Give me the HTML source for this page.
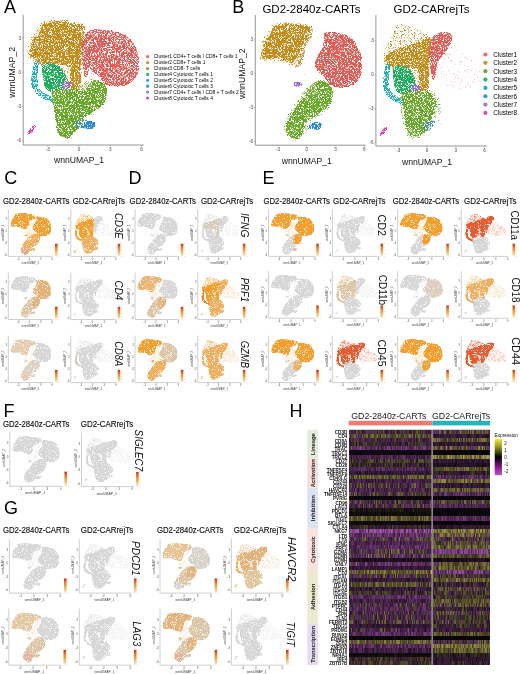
<!DOCTYPE html><html><head><meta charset="utf-8"><style>html,body{margin:0;padding:0;background:#fff;}svg{display:block;will-change:transform;}</style></head><body><svg width="520" height="674" viewBox="0 0 520 674" font-family='"Liberation Sans", sans-serif'><defs><filter id="spk" x="-10%" y="-10%" width="120%" height="120%" color-interpolation-filters="sRGB">
<feGaussianBlur in="SourceGraphic" stdDeviation="0.55" result="b"/>
<feTurbulence type="fractalNoise" baseFrequency="1.30" numOctaves="1" seed="3" result="t"/>
<feColorMatrix in="t" type="matrix" values="0 0 0 0 0 0 0 0 0 0 0 0 0 0 0 1.6 0 0 0 -0.3" result="na"/>
<feComposite in="b" in2="na" operator="arithmetic" k1="1" k2="0" k3="0" k4="0" result="sum"/>
<feComponentTransfer in="sum" result="mask"><feFuncA type="linear" slope="3.00" intercept="-1.00"/></feComponentTransfer>
<feComposite in="b" in2="mask" operator="in" result="c"/>
<feColorMatrix in="c" type="matrix" values="1 0 0 0 0 0 1 0 0 0 0 0 1 0 0 0 0 0 4.00 0"/>
</filter><filter id="spk2" x="-10%" y="-10%" width="120%" height="120%" color-interpolation-filters="sRGB">
<feGaussianBlur in="SourceGraphic" stdDeviation="0.50" result="b"/>
<feTurbulence type="fractalNoise" baseFrequency="1.50" numOctaves="1" seed="5" result="t"/>
<feColorMatrix in="t" type="matrix" values="0 0 0 0 0 0 0 0 0 0 0 0 0 0 0 1.6 0 0 0 -0.3" result="na"/>
<feComposite in="b" in2="na" operator="arithmetic" k1="1" k2="0" k3="0" k4="0" result="sum"/>
<feComponentTransfer in="sum" result="mask"><feFuncA type="linear" slope="2.20" intercept="-0.32"/></feComponentTransfer>
<feComposite in="b" in2="mask" operator="in" result="c"/>
<feColorMatrix in="c" type="matrix" values="1 0 0 0 0 0 1 0 0 0 0 0 1 0 0 0 0 0 2.20 0"/>
</filter><linearGradient id="lg" x1="0" y1="1" x2="0" y2="0"><stop offset="0" stop-color="#f4efe6"/><stop offset="0.4" stop-color="#f2b04a"/><stop offset="0.75" stop-color="#e8742c"/><stop offset="1" stop-color="#c8281c"/></linearGradient><linearGradient id="hg" x1="0" y1="1" x2="0" y2="0"><stop offset="0" stop-color="#b858b8"/><stop offset="0.2" stop-color="#901c98"/><stop offset="0.5" stop-color="#000"/><stop offset="0.8" stop-color="#a0a020"/><stop offset="1" stop-color="#ecec38"/></linearGradient><path id="Z_sparse" d="M-28,-370C-11,-401 16,-426 44,-432C72,-438 115,-421 138,-405C160,-389 183,-370 179,-334C176,-299 132,-242 117,-192C101,-142 72,-83 85,-32C99,17 174,76 200,109C226,141 266,150 242,162C217,174 113,180 54,180C-4,180 -73,183 -111,162C-150,141 -174,97 -174,55C-174,14 -131,-35 -111,-86C-92,-136 -73,-198 -59,-245C-46,-293 -46,-338 -28,-370Z"/><path id="Z_goldhalo" d="M-361,-440C-327,-455 -243,-460 -195,-463C-146,-465 -108,-459 -70,-454C-32,-449 11,-441 33,-432C56,-422 63,-415 65,-396C66,-377 56,-341 44,-316C32,-291 4,-272 -7,-245C-19,-219 -18,-186 -28,-157C-39,-127 -46,-84 -70,-68C-94,-52 -139,-53 -174,-59C-209,-65 -240,-94 -278,-103C-316,-112 -368,-109 -403,-112C-438,-115 -471,-108 -486,-121C-502,-134 -500,-162 -497,-192C-493,-222 -481,-267 -466,-299C-450,-330 -421,-355 -403,-378C-386,-402 -396,-426 -361,-440Z"/><path id="Z_junction" d="M-7,-414C0,-437 30,-436 54,-436C78,-436 118,-426 138,-414C157,-401 176,-380 169,-361C162,-341 122,-309 96,-299C70,-288 30,-279 13,-299C-4,-318 -14,-391 -7,-414Z"/><path id="Z_gold" d="M-343,-421C-330,-427 -304,-432 -278,-437C-252,-442 -215,-448 -187,-448C-159,-448 -141,-442 -109,-437C-76,-432 -16,-427 7,-421C31,-414 31,-413 33,-398C36,-384 31,-352 20,-332C9,-311 -16,-297 -31,-276C-46,-256 -59,-232 -70,-210C-81,-188 -83,-162 -96,-143C-109,-125 -128,-104 -148,-99C-167,-93 -191,-103 -213,-110C-235,-117 -254,-140 -278,-143C-302,-147 -328,-134 -356,-132C-384,-130 -429,-127 -447,-132C-466,-138 -467,-141 -467,-165C-467,-189 -461,-247 -447,-276C-433,-306 -398,-323 -382,-343C-367,-363 -363,-385 -356,-398C-350,-411 -356,-414 -343,-421Z"/><path id="Z_red" d="M190,-365C207,-375 250,-372 281,-370C311,-369 342,-362 372,-354C402,-346 438,-337 463,-321C488,-304 506,-278 523,-254C540,-230 555,-206 565,-177C574,-147 580,-108 580,-77C580,-45 576,-15 565,11C553,38 537,64 513,82C488,101 453,115 419,122C384,129 336,126 307,122C277,118 261,109 242,95C222,81 211,57 190,38C168,18 129,-2 111,-21C94,-40 85,-55 85,-77C85,-99 98,-128 111,-154C125,-180 153,-206 164,-232C174,-258 172,-287 177,-310C181,-332 172,-355 190,-365Z"/><path id="Z_olivehalo" d="M54,91C85,72 106,58 138,55C169,52 217,55 242,73C266,91 282,129 283,162C285,194 269,236 252,268C235,301 212,330 179,357C146,384 85,398 54,428C23,458 16,506 -7,535C-32,563 -61,591 -91,597C-120,603 -160,586 -184,570C-209,554 -231,529 -236,499C-242,469 -233,431 -216,393C-198,354 -160,305 -132,268C-105,231 -80,200 -49,171C-18,141 23,110 54,91Z"/><path id="Z_olive" d="M117,135C141,134 172,143 190,153C207,163 217,178 221,197C224,217 221,246 210,268C200,291 181,311 158,330C136,350 101,369 75,384C49,398 19,403 2,419C-14,435 -18,462 -28,481C-39,501 -47,518 -59,535C-72,551 -85,573 -101,579C-117,585 -136,579 -153,570C-171,561 -195,543 -205,526C-216,508 -219,484 -216,464C-212,443 -198,424 -184,401C-171,379 -148,353 -132,330C-117,308 -108,289 -91,268C-73,248 -51,224 -28,206C-6,188 19,174 44,162C68,150 92,137 117,135Z"/><path id="Z_oliveR" d="M117,82C141,64 186,73 210,82C235,91 254,112 263,135C271,159 269,197 263,224C256,251 242,277 221,295C200,313 164,330 138,330C111,330 77,319 65,295C52,271 56,224 65,188C73,153 92,100 117,82Z"/><path id="Z_oliveB" d="M-195,446C-183,427 -157,413 -132,410C-108,407 -66,415 -49,428C-32,441 -25,469 -28,490C-32,511 -51,540 -70,552C-89,564 -120,566 -143,561C-165,557 -197,545 -205,526C-214,506 -207,465 -195,446Z"/><path id="Z_blue" d="M40,449C54,439 80,429 98,427C117,425 141,431 151,438C160,444 162,456 157,466C153,476 141,494 125,499C108,504 78,496 59,494C41,492 17,495 14,488C10,481 25,459 40,449Z"/><path id="Z_purple" d="M-132,82C-127,77 -113,73 -101,73C-89,73 -66,76 -59,82C-52,88 -52,103 -59,109C-66,114 -89,114 -101,113C-113,112 -127,109 -132,104C-138,99 -138,87 -132,82Z"/><path id="R_redsparse" d="M135,-307C163,-340 222,-325 260,-307C298,-290 317,-239 364,-201C411,-162 510,-127 541,-77C572,-26 593,64 552,100C510,135 364,138 291,135C218,132 147,123 114,82C81,41 90,-47 93,-112C97,-177 107,-275 135,-307Z"/><path id="R_goldsparse" d="M-447,-201C-446,-236 -430,-248 -416,-272C-402,-296 -380,-315 -364,-343C-348,-371 -347,-424 -322,-440C-298,-457 -262,-448 -218,-440C-175,-433 -105,-414 -62,-396C-19,-378 22,-358 41,-334C60,-310 52,-285 52,-254C52,-223 45,-198 41,-148C38,-97 36,-3 31,47C26,97 31,135 10,153C-10,171 -53,186 -93,153C-133,120 -173,-6 -229,-41C-284,-77 -390,-32 -427,-59C-463,-86 -449,-165 -447,-201Z"/><path id="R_gold" d="M-437,-148C-440,-169 -407,-183 -385,-196C-362,-210 -333,-218 -302,-228C-270,-237 -232,-244 -197,-254C-163,-265 -126,-279 -93,-290C-60,-301 -24,-318 0,-321C24,-324 45,-324 52,-307C59,-290 46,-248 41,-219C36,-189 24,-168 20,-130C17,-91 22,-29 20,11C19,52 22,95 10,118C-1,140 -36,154 -52,144C-67,134 -78,85 -83,55C-88,26 -74,-13 -83,-32C-92,-52 -109,-53 -135,-59C-161,-65 -201,-66 -239,-68C-277,-69 -331,-55 -364,-68C-397,-81 -434,-126 -437,-148Z"/><path id="R_red" d="M67,-341C84,-355 109,-372 137,-377C165,-383 214,-379 235,-371C256,-363 263,-349 263,-330C263,-311 249,-282 235,-258C221,-234 197,-209 179,-187C160,-165 136,-152 122,-126C109,-101 102,-59 95,-31C88,-4 88,27 81,39C74,51 60,51 53,39C46,27 43,-4 39,-31C36,-59 34,-97 32,-126C29,-156 23,-182 24,-210C26,-238 32,-272 39,-294C46,-316 51,-327 67,-341Z"/><path id="R_teal" d="M-416,-103C-427,-94 -440,-52 -447,-23C-455,4 -463,40 -463,69C-463,98 -459,126 -447,149C-436,171 -415,191 -395,206C-375,222 -350,232 -328,242C-305,251 -275,257 -260,264C-245,271 -245,291 -239,286C-233,282 -212,253 -223,237C-235,222 -281,209 -307,193C-333,177 -365,166 -380,140C-394,114 -394,74 -395,38C-396,1 -381,-53 -385,-77C-388,-100 -406,-112 -416,-103Z"/><path id="R_green" d="M-354,-63C-344,-82 -320,-81 -296,-81C-273,-81 -233,-73 -210,-63C-187,-54 -174,-44 -158,-23C-143,-3 -124,37 -119,58C-115,79 -121,85 -132,102C-143,119 -161,146 -184,157C-207,169 -246,172 -270,169C-294,165 -314,159 -328,135C-341,112 -347,62 -352,29C-356,-3 -363,-45 -354,-63Z"/><path id="R_purple" d="M-156,100C-150,92 -137,87 -125,86C-112,86 -91,88 -83,95C-75,103 -71,122 -78,131C-85,140 -111,148 -125,149C-138,149 -156,143 -161,135C-166,127 -162,108 -156,100Z"/><path id="R_olive" d="M-253,163C-234,147 -180,151 -140,149C-100,146 -47,142 -12,149C22,156 49,170 67,190C86,211 101,240 98,272C96,304 64,349 51,381C37,413 37,438 18,463C0,488 -33,517 -60,531C-86,545 -119,547 -140,545C-162,543 -176,536 -189,518C-202,499 -212,465 -220,435C-228,406 -232,372 -237,340C-242,308 -250,274 -253,244C-255,215 -271,179 -253,163Z"/><path id="R_olivehalo" d="M-281,153C-256,131 -184,131 -135,126C-86,122 -29,118 10,126C50,135 78,152 104,180C130,208 168,258 166,295C164,332 114,369 93,401C72,434 65,464 41,490C17,517 -19,548 -52,561C-85,574 -128,576 -156,570C-184,564 -201,554 -218,526C-236,498 -250,446 -260,401C-270,357 -277,301 -281,259C-284,218 -305,175 -281,153Z"/><path id="R_blue" d="M-31,428C-19,414 22,416 52,410C81,405 129,390 145,397C162,404 164,441 151,455C137,469 91,475 62,481C33,488 -5,503 -20,495C-36,486 -43,442 -31,428Z"/><path id="R_magenta" d="M-491,530C-489,520 -473,497 -463,486C-453,475 -440,465 -432,464C-423,463 -410,469 -413,480C-416,490 -436,515 -447,526C-458,537 -471,545 -479,546C-486,547 -494,540 -491,530Z"/></defs><rect width="520" height="674" fill="#fff"/><text x="4.00" y="12.70" font-size="18.00" text-anchor="start" fill="#000">A</text><text x="232.20" y="12.70" font-size="18.00" text-anchor="start" fill="#000">B</text><text x="4.20" y="183.80" font-size="18.00" text-anchor="start" fill="#000">C</text><text x="128.50" y="184.00" font-size="18.00" text-anchor="start" fill="#000">D</text><text x="262.50" y="184.00" font-size="18.00" text-anchor="start" fill="#000">E</text><text x="3.60" y="416.90" font-size="18.00" text-anchor="start" fill="#000">F</text><text x="4.00" y="513.60" font-size="18.00" text-anchor="start" fill="#000">G</text><text x="289.40" y="417.30" font-size="18.00" text-anchor="start" fill="#000">H</text><path d="M23.2,14.8V145.0H143.8" fill="none" stroke="#8a8a8a" stroke-width="0.9"/><path d="M23.2,38.1h-1.3" stroke="#8a8a8a" stroke-width="0.6"/><text x="21.00" y="39.70" font-size="4.60" text-anchor="end" fill="#444">3</text><path d="M23.2,72.3h-1.3" stroke="#8a8a8a" stroke-width="0.6"/><text x="21.00" y="73.90" font-size="4.60" text-anchor="end" fill="#444">0</text><path d="M23.2,106.5h-1.3" stroke="#8a8a8a" stroke-width="0.6"/><text x="21.00" y="108.10" font-size="4.60" text-anchor="end" fill="#444">-3</text><path d="M23.2,140.7h-1.3" stroke="#8a8a8a" stroke-width="0.6"/><text x="21.00" y="142.30" font-size="4.60" text-anchor="end" fill="#444">-6</text><path d="M47.7,145.0v1.3" stroke="#8a8a8a" stroke-width="0.6"/><text x="47.74" y="150.50" font-size="4.60" text-anchor="middle" fill="#444">-3</text><path d="M79.0,145.0v1.3" stroke="#8a8a8a" stroke-width="0.6"/><text x="79.00" y="150.50" font-size="4.60" text-anchor="middle" fill="#444">0</text><path d="M110.3,145.0v1.3" stroke="#8a8a8a" stroke-width="0.6"/><text x="110.26" y="150.50" font-size="4.60" text-anchor="middle" fill="#444">3</text><path d="M141.5,145.0v1.3" stroke="#8a8a8a" stroke-width="0.6"/><text x="141.52" y="150.50" font-size="4.60" text-anchor="middle" fill="#444">6</text><text x="79.00" y="163.00" font-size="8.60" text-anchor="middle" fill="#111">wnnUMAP_1</text><text transform="translate(15.00,72.30) rotate(-90)" font-size="8.7" text-anchor="middle" fill="#111">wnnUMAP_2</text><g filter="url(#spk)"><g transform="matrix(0.1042,0,0,0.1140,79.00,72.30)"><use href="#Z_sparse" fill="#c89060" fill-opacity="0.42"/><use href="#Z_goldhalo" fill="#c48c1a" fill-opacity="0.62"/><use href="#Z_olivehalo" fill="#6aa82a" fill-opacity="0.45"/><use href="#Z_gold" fill="#c48c1a"/><use href="#Z_red" fill="#e65a54" fill-opacity="0.90"/><use href="#Z_olive" fill="#6aa82a"/><use href="#Z_oliveR" fill="#6aa82a"/><use href="#Z_oliveB" fill="#6aa82a"/><use href="#Z_blue" fill="#2a88de"/><use href="#Z_purple" fill="#9a6ad0"/></g></g><g filter="url(#spk)"><g transform="matrix(0.1042,0,0,0.1140,79.00,72.30)"><use href="#R_redsparse" fill="#e65a54" fill-opacity="0.47"/><use href="#R_goldsparse" fill="#c48c1a" fill-opacity="0.60"/><use href="#R_olivehalo" fill="#6aa82a" fill-opacity="0.45"/><use href="#R_gold" fill="#c48c1a" fill-opacity="0.97"/><use href="#R_teal" fill="#22aeb6" fill-opacity="0.85"/><use href="#R_green" fill="#1fae5e"/><use href="#R_red" fill="#e65a54" fill-opacity="0.90"/><use href="#R_olive" fill="#6aa82a" fill-opacity="0.95"/><use href="#R_blue" fill="#2a88de" fill-opacity="0.40"/><use href="#R_purple" fill="#9a6ad0"/><use href="#R_magenta" fill="#dd3fae"/></g></g><circle cx="147.6" cy="56.70" r="1.6" fill="#ec6e66"/><text x="153.80" y="58.40" font-size="4.90" text-anchor="start" fill="#000">Cluster1 CD4+ T cells / CD8+ T cells 1</text><circle cx="147.6" cy="62.60" r="1.6" fill="#c9952a"/><text x="153.80" y="64.30" font-size="4.90" text-anchor="start" fill="#000">Cluster2 CD8+ T cells 1</text><circle cx="147.6" cy="68.50" r="1.6" fill="#7aa535"/><text x="153.80" y="70.20" font-size="4.90" text-anchor="start" fill="#000">Cluster3 CD8- T cells</text><circle cx="147.6" cy="74.40" r="1.6" fill="#2db36a"/><text x="153.80" y="76.10" font-size="4.90" text-anchor="start" fill="#000">Cluster4 Cytotoxic T cells 1</text><circle cx="147.6" cy="80.30" r="1.6" fill="#2bb0b5"/><text x="153.80" y="82.00" font-size="4.90" text-anchor="start" fill="#000">Cluster5 Cytotoxic T cells 2</text><circle cx="147.6" cy="86.20" r="1.6" fill="#3a93de"/><text x="153.80" y="87.90" font-size="4.90" text-anchor="start" fill="#000">Cluster6 Cytotoxic T cells 3</text><circle cx="147.6" cy="92.10" r="1.6" fill="#a27ad8"/><text x="153.80" y="93.80" font-size="4.90" text-anchor="start" fill="#000">Cluster7 CD4+ T cells / CD8 + T cells 2</text><circle cx="147.6" cy="98.00" r="1.6" fill="#dd4fb5"/><text x="153.80" y="99.70" font-size="4.90" text-anchor="start" fill="#000">Cluster8 Cytotoxic T cells 4</text><path d="M255.3,15.0V145.2H365.6" fill="none" stroke="#8a8a8a" stroke-width="0.9"/><path d="M255.3,39.9h-1.3" stroke="#8a8a8a" stroke-width="0.6"/><text x="253.10" y="41.49" font-size="4.60" text-anchor="end" fill="#444">3</text><path d="M255.3,73.7h-1.3" stroke="#8a8a8a" stroke-width="0.6"/><text x="253.10" y="75.30" font-size="4.60" text-anchor="end" fill="#444">0</text><path d="M255.3,107.5h-1.3" stroke="#8a8a8a" stroke-width="0.6"/><text x="253.10" y="109.11" font-size="4.60" text-anchor="end" fill="#444">-3</text><path d="M255.3,141.3h-1.3" stroke="#8a8a8a" stroke-width="0.6"/><text x="253.10" y="142.92" font-size="4.60" text-anchor="end" fill="#444">-6</text><path d="M277.9,145.2v1.3" stroke="#8a8a8a" stroke-width="0.6"/><text x="277.95" y="150.70" font-size="4.60" text-anchor="middle" fill="#444">-3</text><path d="M306.8,145.2v1.3" stroke="#8a8a8a" stroke-width="0.6"/><text x="306.75" y="150.70" font-size="4.60" text-anchor="middle" fill="#444">0</text><path d="M335.6,145.2v1.3" stroke="#8a8a8a" stroke-width="0.6"/><text x="335.55" y="150.70" font-size="4.60" text-anchor="middle" fill="#444">3</text><path d="M364.4,145.2v1.3" stroke="#8a8a8a" stroke-width="0.6"/><text x="364.35" y="150.70" font-size="4.60" text-anchor="middle" fill="#444">6</text><text x="306.75" y="164.00" font-size="8.60" text-anchor="middle" fill="#111">wnnUMAP_1</text><text transform="translate(245.20,73.70) rotate(-90)" font-size="8.7" text-anchor="middle" fill="#111">wnnUMAP_2</text><path d="M375.9,15.0V146.0H486.5" fill="none" stroke="#8a8a8a" stroke-width="0.9"/><path d="M375.9,40.9h-1.3" stroke="#8a8a8a" stroke-width="0.6"/><text x="373.70" y="42.49" font-size="4.60" text-anchor="end" fill="#444">3</text><path d="M375.9,74.7h-1.3" stroke="#8a8a8a" stroke-width="0.6"/><text x="373.70" y="76.30" font-size="4.60" text-anchor="end" fill="#444">0</text><path d="M375.9,108.5h-1.3" stroke="#8a8a8a" stroke-width="0.6"/><text x="373.70" y="110.11" font-size="4.60" text-anchor="end" fill="#444">-3</text><path d="M375.9,142.3h-1.3" stroke="#8a8a8a" stroke-width="0.6"/><text x="373.70" y="143.92" font-size="4.60" text-anchor="end" fill="#444">-6</text><path d="M398.2,146.0v1.3" stroke="#8a8a8a" stroke-width="0.6"/><text x="398.20" y="151.50" font-size="4.60" text-anchor="middle" fill="#444">-3</text><path d="M427.0,146.0v1.3" stroke="#8a8a8a" stroke-width="0.6"/><text x="427.00" y="151.50" font-size="4.60" text-anchor="middle" fill="#444">0</text><path d="M455.8,146.0v1.3" stroke="#8a8a8a" stroke-width="0.6"/><text x="455.80" y="151.50" font-size="4.60" text-anchor="middle" fill="#444">3</text><path d="M484.6,146.0v1.3" stroke="#8a8a8a" stroke-width="0.6"/><text x="484.60" y="151.50" font-size="4.60" text-anchor="middle" fill="#444">6</text><text x="427.00" y="165.00" font-size="8.60" text-anchor="middle" fill="#111">wnnUMAP_1</text><text x="262.40" y="12.70" font-size="11.50" text-anchor="start" fill="#000">GD2-2840z-CARTs</text><text x="393.50" y="12.70" font-size="11.50" text-anchor="start" fill="#000">GD2-CARrejTs</text><g filter="url(#spk)"><g transform="matrix(0.0960,0,0,0.1127,306.75,73.70)"><use href="#Z_sparse" fill="#c89060" fill-opacity="0.42"/><use href="#Z_goldhalo" fill="#c48c1a" fill-opacity="0.62"/><use href="#Z_olivehalo" fill="#6aa82a" fill-opacity="0.60"/><use href="#Z_gold" fill="#c48c1a"/><use href="#Z_red" fill="#e65a54"/><use href="#Z_olive" fill="#6aa82a"/><use href="#Z_oliveR" fill="#6aa82a"/><use href="#Z_oliveB" fill="#6aa82a"/><use href="#Z_blue" fill="#2a88de"/><use href="#Z_purple" fill="#9a6ad0"/></g></g><g filter="url(#spk)"><g transform="matrix(0.0960,0,0,0.1127,427.00,74.70)"><use href="#R_redsparse" fill="#e65a54" fill-opacity="0.47"/><use href="#R_goldsparse" fill="#c48c1a" fill-opacity="0.60"/><use href="#R_olivehalo" fill="#6aa82a" fill-opacity="0.60"/><use href="#R_gold" fill="#c48c1a" fill-opacity="0.97"/><use href="#R_teal" fill="#22aeb6" fill-opacity="0.92"/><use href="#R_green" fill="#1fae5e"/><use href="#R_red" fill="#e65a54" fill-opacity="0.97"/><use href="#R_olive" fill="#6aa82a" fill-opacity="0.95"/><use href="#R_blue" fill="#2a88de" fill-opacity="0.50"/><use href="#R_purple" fill="#9a6ad0"/><use href="#R_magenta" fill="#dd3fae"/></g></g><circle cx="485.4" cy="54.50" r="2.1" fill="#ec6e66"/><text x="493.20" y="56.80" font-size="6.40" text-anchor="start" fill="#000">Cluster1</text><circle cx="485.4" cy="62.85" r="2.1" fill="#c9952a"/><text x="493.20" y="65.15" font-size="6.40" text-anchor="start" fill="#000">Cluster2</text><circle cx="485.4" cy="71.20" r="2.1" fill="#7aa535"/><text x="493.20" y="73.50" font-size="6.40" text-anchor="start" fill="#000">Cluster3</text><circle cx="485.4" cy="79.55" r="2.1" fill="#2db36a"/><text x="493.20" y="81.85" font-size="6.40" text-anchor="start" fill="#000">Cluster4</text><circle cx="485.4" cy="87.90" r="2.1" fill="#2bb0b5"/><text x="493.20" y="90.20" font-size="6.40" text-anchor="start" fill="#000">Cluster5</text><circle cx="485.4" cy="96.25" r="2.1" fill="#3a93de"/><text x="493.20" y="98.55" font-size="6.40" text-anchor="start" fill="#000">Cluster6</text><circle cx="485.4" cy="104.60" r="2.1" fill="#a27ad8"/><text x="493.20" y="106.90" font-size="6.40" text-anchor="start" fill="#000">Cluster7</text><circle cx="485.4" cy="112.95" r="2.1" fill="#dd4fb5"/><text x="493.20" y="115.25" font-size="6.40" text-anchor="start" fill="#000">Cluster8</text><text x="3.00" y="204.20" font-size="8.7" textLength="66.4" lengthAdjust="spacingAndGlyphs" fill="#111" stroke="#111" stroke-width="0.15">GD2-2840z-CARTs</text><text x="72.70" y="204.20" font-size="8.7" textLength="52.4" lengthAdjust="spacingAndGlyphs" fill="#111" stroke="#111" stroke-width="0.15">GD2-CARrejTs</text><text x="129.60" y="204.20" font-size="8.7" textLength="66.4" lengthAdjust="spacingAndGlyphs" fill="#111" stroke="#111" stroke-width="0.15">GD2-2840z-CARTs</text><text x="200.90" y="204.20" font-size="8.7" textLength="52.4" lengthAdjust="spacingAndGlyphs" fill="#111" stroke="#111" stroke-width="0.15">GD2-CARrejTs</text><text x="263.40" y="204.20" font-size="8.7" textLength="66.4" lengthAdjust="spacingAndGlyphs" fill="#111" stroke="#111" stroke-width="0.15">GD2-2840z-CARTs</text><text x="333.00" y="204.20" font-size="8.7" textLength="52.4" lengthAdjust="spacingAndGlyphs" fill="#111" stroke="#111" stroke-width="0.15">GD2-CARrejTs</text><text x="392.70" y="204.20" font-size="8.7" textLength="66.4" lengthAdjust="spacingAndGlyphs" fill="#111" stroke="#111" stroke-width="0.15">GD2-2840z-CARTs</text><text x="464.00" y="204.20" font-size="8.7" textLength="52.4" lengthAdjust="spacingAndGlyphs" fill="#111" stroke="#111" stroke-width="0.15">GD2-CARrejTs</text><path d="M8.3,209.4V256.4H52.5" fill="none" stroke="#c8c8c8" stroke-width="0.9"/><text x="7.00" y="220.30" font-size="2.60" text-anchor="end" fill="#555">3</text><text x="7.00" y="232.15" font-size="2.60" text-anchor="end" fill="#555">0</text><text x="7.00" y="244.00" font-size="2.60" text-anchor="end" fill="#555">-3</text><text x="7.00" y="255.85" font-size="2.60" text-anchor="end" fill="#555">-6</text><text x="18.18" y="259.85" font-size="2.60" text-anchor="middle" fill="#555">-3</text><text x="29.52" y="259.85" font-size="2.60" text-anchor="middle" fill="#555">0</text><text x="40.85" y="259.85" font-size="2.60" text-anchor="middle" fill="#555">3</text><text x="52.18" y="259.85" font-size="2.60" text-anchor="middle" fill="#555">6</text><text x="30.27" y="263.85" font-size="2.99" text-anchor="middle" fill="#444">wnnUMAP_1</text><text transform="translate(3.70,232.75) rotate(-90)" font-size="2.73" text-anchor="middle" fill="#444">wnnUMAP_2</text><g filter="url(#spk2)"><g transform="matrix(0.0378,0,0,0.0395,29.52,231.25)"><use href="#Z_sparse" fill="#f29f2e" fill-opacity="0.40"/><use href="#Z_goldhalo" fill="#f29f2e" fill-opacity="0.80"/><use href="#Z_junction" fill="#f29f2e" fill-opacity="0.75"/><use href="#Z_olivehalo" fill="#eeb060" fill-opacity="0.85"/><use href="#Z_gold" fill="#f29f2e"/><use href="#Z_red" fill="#f29f2e"/><use href="#Z_olive" fill="#eeb060"/><use href="#Z_oliveR" fill="#eeb060"/><use href="#Z_oliveB" fill="#e4a48c"/><use href="#Z_blue" fill="#eeb060"/><use href="#Z_purple" fill="#eeb060"/></g></g><rect x="55.00" y="243.76" width="2.6" height="12.69" fill="url(#lg)"/><rect x="58.30" y="243.56" width="1.2" height="0.35" fill="#aaa"/><rect x="58.30" y="246.73" width="1.2" height="0.35" fill="#aaa"/><rect x="58.30" y="249.91" width="1.2" height="0.35" fill="#aaa"/><rect x="58.30" y="253.08" width="1.2" height="0.35" fill="#aaa"/><rect x="58.30" y="256.25" width="1.2" height="0.35" fill="#aaa"/><path d="M70.8,209.4V256.4H116.2" fill="none" stroke="#c8c8c8" stroke-width="0.9"/><text x="69.50" y="220.30" font-size="2.60" text-anchor="end" fill="#555">3</text><text x="69.50" y="232.15" font-size="2.60" text-anchor="end" fill="#555">0</text><text x="69.50" y="244.00" font-size="2.60" text-anchor="end" fill="#555">-3</text><text x="69.50" y="255.85" font-size="2.60" text-anchor="end" fill="#555">-6</text><text x="80.95" y="259.85" font-size="2.60" text-anchor="middle" fill="#555">-3</text><text x="92.59" y="259.85" font-size="2.60" text-anchor="middle" fill="#555">0</text><text x="104.23" y="259.85" font-size="2.60" text-anchor="middle" fill="#555">3</text><text x="115.87" y="259.85" font-size="2.60" text-anchor="middle" fill="#555">6</text><text x="93.37" y="263.85" font-size="2.99" text-anchor="middle" fill="#444">wnnUMAP_1</text><text transform="translate(66.20,232.75) rotate(-90)" font-size="2.73" text-anchor="middle" fill="#444">wnnUMAP_2</text><g filter="url(#spk2)"><g transform="matrix(0.0388,0,0,0.0395,92.59,231.25)"><use href="#R_redsparse" fill="#d7d7d7" fill-opacity="0.42"/><use href="#R_goldsparse" fill="#f29f2e" fill-opacity="0.52"/><use href="#R_olivehalo" fill="#eeb060" fill-opacity="0.75"/><use href="#R_gold" fill="#f29f2e"/><use href="#R_teal" fill="#f29f2e" fill-opacity="0.95"/><use href="#R_green" fill="#f29f2e"/><use href="#R_red" fill="#d7d7d7"/><use href="#R_olive" fill="#eeb060"/><use href="#R_blue" fill="#eeb060" fill-opacity="0.75"/><use href="#R_purple" fill="#eeb060"/><use href="#R_magenta" fill="#eeb060"/></g></g><rect x="117.70" y="243.76" width="2.6" height="12.69" fill="url(#lg)"/><rect x="121.00" y="243.56" width="1.2" height="0.35" fill="#aaa"/><rect x="121.00" y="246.73" width="1.2" height="0.35" fill="#aaa"/><rect x="121.00" y="249.91" width="1.2" height="0.35" fill="#aaa"/><rect x="121.00" y="253.08" width="1.2" height="0.35" fill="#aaa"/><rect x="121.00" y="256.25" width="1.2" height="0.35" fill="#aaa"/><path d="M8.3,272.5V319.5H52.5" fill="none" stroke="#c8c8c8" stroke-width="0.9"/><text x="7.00" y="283.35" font-size="2.60" text-anchor="end" fill="#555">3</text><text x="7.00" y="295.20" font-size="2.60" text-anchor="end" fill="#555">0</text><text x="7.00" y="307.05" font-size="2.60" text-anchor="end" fill="#555">-3</text><text x="7.00" y="318.90" font-size="2.60" text-anchor="end" fill="#555">-6</text><text x="18.18" y="322.90" font-size="2.60" text-anchor="middle" fill="#555">-3</text><text x="29.52" y="322.90" font-size="2.60" text-anchor="middle" fill="#555">0</text><text x="40.85" y="322.90" font-size="2.60" text-anchor="middle" fill="#555">3</text><text x="52.18" y="322.90" font-size="2.60" text-anchor="middle" fill="#555">6</text><text x="30.27" y="326.90" font-size="2.99" text-anchor="middle" fill="#444">wnnUMAP_1</text><text transform="translate(3.70,295.80) rotate(-90)" font-size="2.73" text-anchor="middle" fill="#444">wnnUMAP_2</text><g filter="url(#spk2)"><g transform="matrix(0.0378,0,0,0.0395,29.52,294.30)"><use href="#Z_sparse" fill="#d7d7d7" fill-opacity="0.40"/><use href="#Z_goldhalo" fill="#d7d7d7" fill-opacity="0.80"/><use href="#Z_junction" fill="#d7d7d7" fill-opacity="0.75"/><use href="#Z_olivehalo" fill="#dcc6a8" fill-opacity="0.85"/><use href="#Z_gold" fill="#d7d7d7"/><use href="#Z_red" fill="#e2b47c"/><use href="#Z_olive" fill="#dcc6a8"/><use href="#Z_oliveR" fill="#e2b47c"/><use href="#Z_oliveB" fill="#dcc6a8"/><use href="#Z_blue" fill="#dcc6a8"/><use href="#Z_purple" fill="#dcc6a8"/></g></g><rect x="55.00" y="306.81" width="2.6" height="12.69" fill="url(#lg)"/><rect x="58.30" y="306.61" width="1.2" height="0.35" fill="#aaa"/><rect x="58.30" y="309.78" width="1.2" height="0.35" fill="#aaa"/><rect x="58.30" y="312.96" width="1.2" height="0.35" fill="#aaa"/><rect x="58.30" y="316.13" width="1.2" height="0.35" fill="#aaa"/><rect x="58.30" y="319.30" width="1.2" height="0.35" fill="#aaa"/><path d="M70.8,272.5V319.5H116.2" fill="none" stroke="#c8c8c8" stroke-width="0.9"/><text x="69.50" y="283.35" font-size="2.60" text-anchor="end" fill="#555">3</text><text x="69.50" y="295.20" font-size="2.60" text-anchor="end" fill="#555">0</text><text x="69.50" y="307.05" font-size="2.60" text-anchor="end" fill="#555">-3</text><text x="69.50" y="318.90" font-size="2.60" text-anchor="end" fill="#555">-6</text><text x="80.95" y="322.90" font-size="2.60" text-anchor="middle" fill="#555">-3</text><text x="92.59" y="322.90" font-size="2.60" text-anchor="middle" fill="#555">0</text><text x="104.23" y="322.90" font-size="2.60" text-anchor="middle" fill="#555">3</text><text x="115.87" y="322.90" font-size="2.60" text-anchor="middle" fill="#555">6</text><text x="93.37" y="326.90" font-size="2.99" text-anchor="middle" fill="#444">wnnUMAP_1</text><text transform="translate(66.20,295.80) rotate(-90)" font-size="2.73" text-anchor="middle" fill="#444">wnnUMAP_2</text><g filter="url(#spk2)"><g transform="matrix(0.0388,0,0,0.0395,92.59,294.30)"><use href="#R_redsparse" fill="#d7d7d7" fill-opacity="0.42"/><use href="#R_goldsparse" fill="#d7d7d7" fill-opacity="0.52"/><use href="#R_olivehalo" fill="#d7d7d7" fill-opacity="0.75"/><use href="#R_gold" fill="#d7d7d7"/><use href="#R_teal" fill="#d7d7d7" fill-opacity="0.95"/><use href="#R_green" fill="#d7d7d7"/><use href="#R_red" fill="#d7d7d7"/><use href="#R_olive" fill="#d7d7d7"/><use href="#R_blue" fill="#d7d7d7" fill-opacity="0.75"/><use href="#R_purple" fill="#d7d7d7"/><use href="#R_magenta" fill="#d7d7d7"/></g></g><rect x="117.70" y="306.81" width="2.6" height="12.69" fill="url(#lg)"/><rect x="121.00" y="306.61" width="1.2" height="0.35" fill="#aaa"/><rect x="121.00" y="309.78" width="1.2" height="0.35" fill="#aaa"/><rect x="121.00" y="312.96" width="1.2" height="0.35" fill="#aaa"/><rect x="121.00" y="316.13" width="1.2" height="0.35" fill="#aaa"/><rect x="121.00" y="319.30" width="1.2" height="0.35" fill="#aaa"/><path d="M8.3,335.6V382.6H52.5" fill="none" stroke="#c8c8c8" stroke-width="0.9"/><text x="7.00" y="346.45" font-size="2.60" text-anchor="end" fill="#555">3</text><text x="7.00" y="358.30" font-size="2.60" text-anchor="end" fill="#555">0</text><text x="7.00" y="370.15" font-size="2.60" text-anchor="end" fill="#555">-3</text><text x="7.00" y="382.00" font-size="2.60" text-anchor="end" fill="#555">-6</text><text x="18.18" y="386.00" font-size="2.60" text-anchor="middle" fill="#555">-3</text><text x="29.52" y="386.00" font-size="2.60" text-anchor="middle" fill="#555">0</text><text x="40.85" y="386.00" font-size="2.60" text-anchor="middle" fill="#555">3</text><text x="52.18" y="386.00" font-size="2.60" text-anchor="middle" fill="#555">6</text><text x="30.27" y="390.00" font-size="2.99" text-anchor="middle" fill="#444">wnnUMAP_1</text><text transform="translate(3.70,358.90) rotate(-90)" font-size="2.73" text-anchor="middle" fill="#444">wnnUMAP_2</text><g filter="url(#spk2)"><g transform="matrix(0.0378,0,0,0.0395,29.52,357.40)"><use href="#Z_sparse" fill="#e4cdb0" fill-opacity="0.40"/><use href="#Z_goldhalo" fill="#e4cdb0" fill-opacity="0.80"/><use href="#Z_junction" fill="#e4cdb0" fill-opacity="0.75"/><use href="#Z_olivehalo" fill="#dcd2c4" fill-opacity="0.85"/><use href="#Z_gold" fill="#e4cdb0"/><use href="#Z_red" fill="#d7d7d7"/><use href="#Z_olive" fill="#dcd2c4"/><use href="#Z_oliveR" fill="#dcd2c4"/><use href="#Z_oliveB" fill="#e0c8a8"/><use href="#Z_blue" fill="#dcd2c4"/><use href="#Z_purple" fill="#dcd2c4"/></g></g><rect x="55.00" y="369.91" width="2.6" height="12.69" fill="url(#lg)"/><rect x="58.30" y="369.71" width="1.2" height="0.35" fill="#aaa"/><rect x="58.30" y="372.88" width="1.2" height="0.35" fill="#aaa"/><rect x="58.30" y="376.06" width="1.2" height="0.35" fill="#aaa"/><rect x="58.30" y="379.23" width="1.2" height="0.35" fill="#aaa"/><rect x="58.30" y="382.40" width="1.2" height="0.35" fill="#aaa"/><path d="M70.8,335.6V382.6H116.2" fill="none" stroke="#c8c8c8" stroke-width="0.9"/><text x="69.50" y="346.45" font-size="2.60" text-anchor="end" fill="#555">3</text><text x="69.50" y="358.30" font-size="2.60" text-anchor="end" fill="#555">0</text><text x="69.50" y="370.15" font-size="2.60" text-anchor="end" fill="#555">-3</text><text x="69.50" y="382.00" font-size="2.60" text-anchor="end" fill="#555">-6</text><text x="80.95" y="386.00" font-size="2.60" text-anchor="middle" fill="#555">-3</text><text x="92.59" y="386.00" font-size="2.60" text-anchor="middle" fill="#555">0</text><text x="104.23" y="386.00" font-size="2.60" text-anchor="middle" fill="#555">3</text><text x="115.87" y="386.00" font-size="2.60" text-anchor="middle" fill="#555">6</text><text x="93.37" y="390.00" font-size="2.99" text-anchor="middle" fill="#444">wnnUMAP_1</text><text transform="translate(66.20,358.90) rotate(-90)" font-size="2.73" text-anchor="middle" fill="#444">wnnUMAP_2</text><g filter="url(#spk2)"><g transform="matrix(0.0388,0,0,0.0395,92.59,357.40)"><use href="#R_redsparse" fill="#d7d7d7" fill-opacity="0.42"/><use href="#R_goldsparse" fill="#d7d7d7" fill-opacity="0.52"/><use href="#R_olivehalo" fill="#d7d7d7" fill-opacity="0.75"/><use href="#R_gold" fill="#d7d7d7"/><use href="#R_teal" fill="#dcc6a8" fill-opacity="0.95"/><use href="#R_green" fill="#d7d7d7"/><use href="#R_red" fill="#d7d7d7"/><use href="#R_olive" fill="#d7d7d7"/><use href="#R_blue" fill="#d7d7d7" fill-opacity="0.75"/><use href="#R_purple" fill="#d7d7d7"/><use href="#R_magenta" fill="#d7d7d7"/></g></g><rect x="117.70" y="369.91" width="2.6" height="12.69" fill="url(#lg)"/><rect x="121.00" y="369.71" width="1.2" height="0.35" fill="#aaa"/><rect x="121.00" y="372.88" width="1.2" height="0.35" fill="#aaa"/><rect x="121.00" y="376.06" width="1.2" height="0.35" fill="#aaa"/><rect x="121.00" y="379.23" width="1.2" height="0.35" fill="#aaa"/><rect x="121.00" y="382.40" width="1.2" height="0.35" fill="#aaa"/><path d="M135.0,209.4V256.4H178.8" fill="none" stroke="#c8c8c8" stroke-width="0.9"/><text x="133.70" y="220.30" font-size="2.60" text-anchor="end" fill="#555">3</text><text x="133.70" y="232.15" font-size="2.60" text-anchor="end" fill="#555">0</text><text x="133.70" y="244.00" font-size="2.60" text-anchor="end" fill="#555">-3</text><text x="133.70" y="255.85" font-size="2.60" text-anchor="end" fill="#555">-6</text><text x="144.78" y="259.85" font-size="2.60" text-anchor="middle" fill="#555">-3</text><text x="156.00" y="259.85" font-size="2.60" text-anchor="middle" fill="#555">0</text><text x="167.22" y="259.85" font-size="2.60" text-anchor="middle" fill="#555">3</text><text x="178.44" y="259.85" font-size="2.60" text-anchor="middle" fill="#555">6</text><text x="156.75" y="263.85" font-size="2.99" text-anchor="middle" fill="#444">wnnUMAP_1</text><text transform="translate(130.40,232.75) rotate(-90)" font-size="2.73" text-anchor="middle" fill="#444">wnnUMAP_2</text><g filter="url(#spk2)"><g transform="matrix(0.0374,0,0,0.0395,156.00,231.25)"><use href="#Z_sparse" fill="#d7d7d7" fill-opacity="0.40"/><use href="#Z_goldhalo" fill="#d7d7d7" fill-opacity="0.80"/><use href="#Z_junction" fill="#d7d7d7" fill-opacity="0.75"/><use href="#Z_olivehalo" fill="#d7d7d7" fill-opacity="0.85"/><use href="#Z_gold" fill="#d7d7d7"/><use href="#Z_red" fill="#d7d7d7"/><use href="#Z_olive" fill="#d7d7d7"/><use href="#Z_oliveR" fill="#d7d7d7"/><use href="#Z_oliveB" fill="#d7d7d7"/><use href="#Z_blue" fill="#d7d7d7"/><use href="#Z_purple" fill="#d7d7d7"/></g></g><rect x="180.75" y="243.76" width="2.6" height="12.69" fill="url(#lg)"/><rect x="184.05" y="243.56" width="1.2" height="0.35" fill="#aaa"/><rect x="184.05" y="246.73" width="1.2" height="0.35" fill="#aaa"/><rect x="184.05" y="249.91" width="1.2" height="0.35" fill="#aaa"/><rect x="184.05" y="253.08" width="1.2" height="0.35" fill="#aaa"/><rect x="184.05" y="256.25" width="1.2" height="0.35" fill="#aaa"/><path d="M197.8,209.4V256.4H241.1" fill="none" stroke="#c8c8c8" stroke-width="0.9"/><text x="196.50" y="220.30" font-size="2.60" text-anchor="end" fill="#555">3</text><text x="196.50" y="232.15" font-size="2.60" text-anchor="end" fill="#555">0</text><text x="196.50" y="244.00" font-size="2.60" text-anchor="end" fill="#555">-3</text><text x="196.50" y="255.85" font-size="2.60" text-anchor="end" fill="#555">-6</text><text x="207.47" y="259.85" font-size="2.60" text-anchor="middle" fill="#555">-3</text><text x="218.56" y="259.85" font-size="2.60" text-anchor="middle" fill="#555">0</text><text x="229.65" y="259.85" font-size="2.60" text-anchor="middle" fill="#555">3</text><text x="240.74" y="259.85" font-size="2.60" text-anchor="middle" fill="#555">6</text><text x="219.30" y="263.85" font-size="2.99" text-anchor="middle" fill="#444">wnnUMAP_1</text><text transform="translate(193.20,232.75) rotate(-90)" font-size="2.73" text-anchor="middle" fill="#444">wnnUMAP_2</text><g filter="url(#spk2)"><g transform="matrix(0.0370,0,0,0.0395,218.56,231.25)"><use href="#R_redsparse" fill="#d7d7d7" fill-opacity="0.42"/><use href="#R_goldsparse" fill="#d7d7d7" fill-opacity="0.52"/><use href="#R_olivehalo" fill="#d7d7d7" fill-opacity="0.75"/><use href="#R_gold" fill="#d8cdbd"/><use href="#R_teal" fill="#d7d7d7" fill-opacity="0.95"/><use href="#R_green" fill="#d7d7d7"/><use href="#R_red" fill="#d7d7d7"/><use href="#R_olive" fill="#d7d7d7"/><use href="#R_blue" fill="#d7d7d7" fill-opacity="0.75"/><use href="#R_purple" fill="#d7d7d7"/><use href="#R_magenta" fill="#d7d7d7"/></g></g><rect x="242.80" y="243.76" width="2.6" height="12.69" fill="url(#lg)"/><rect x="246.10" y="243.56" width="1.2" height="0.35" fill="#aaa"/><rect x="246.10" y="246.73" width="1.2" height="0.35" fill="#aaa"/><rect x="246.10" y="249.91" width="1.2" height="0.35" fill="#aaa"/><rect x="246.10" y="253.08" width="1.2" height="0.35" fill="#aaa"/><rect x="246.10" y="256.25" width="1.2" height="0.35" fill="#aaa"/><path d="M135.0,272.5V319.5H178.8" fill="none" stroke="#c8c8c8" stroke-width="0.9"/><text x="133.70" y="283.35" font-size="2.60" text-anchor="end" fill="#555">3</text><text x="133.70" y="295.20" font-size="2.60" text-anchor="end" fill="#555">0</text><text x="133.70" y="307.05" font-size="2.60" text-anchor="end" fill="#555">-3</text><text x="133.70" y="318.90" font-size="2.60" text-anchor="end" fill="#555">-6</text><text x="144.78" y="322.90" font-size="2.60" text-anchor="middle" fill="#555">-3</text><text x="156.00" y="322.90" font-size="2.60" text-anchor="middle" fill="#555">0</text><text x="167.22" y="322.90" font-size="2.60" text-anchor="middle" fill="#555">3</text><text x="178.44" y="322.90" font-size="2.60" text-anchor="middle" fill="#555">6</text><text x="156.75" y="326.90" font-size="2.99" text-anchor="middle" fill="#444">wnnUMAP_1</text><text transform="translate(130.40,295.80) rotate(-90)" font-size="2.73" text-anchor="middle" fill="#444">wnnUMAP_2</text><g filter="url(#spk2)"><g transform="matrix(0.0374,0,0,0.0395,156.00,294.30)"><use href="#Z_sparse" fill="#e9b676" fill-opacity="0.40"/><use href="#Z_goldhalo" fill="#e9b676" fill-opacity="0.80"/><use href="#Z_junction" fill="#e9b676" fill-opacity="0.75"/><use href="#Z_olivehalo" fill="#dcc6a8" fill-opacity="0.85"/><use href="#Z_gold" fill="#e9b676"/><use href="#Z_red" fill="#d7d7d7"/><use href="#Z_olive" fill="#dcc6a8"/><use href="#Z_oliveR" fill="#e2b47c"/><use href="#Z_oliveB" fill="#dcc6a8"/><use href="#Z_blue" fill="#dcc6a8"/><use href="#Z_purple" fill="#dcc6a8"/></g></g><rect x="180.75" y="306.81" width="2.6" height="12.69" fill="url(#lg)"/><rect x="184.05" y="306.61" width="1.2" height="0.35" fill="#aaa"/><rect x="184.05" y="309.78" width="1.2" height="0.35" fill="#aaa"/><rect x="184.05" y="312.96" width="1.2" height="0.35" fill="#aaa"/><rect x="184.05" y="316.13" width="1.2" height="0.35" fill="#aaa"/><rect x="184.05" y="319.30" width="1.2" height="0.35" fill="#aaa"/><path d="M197.8,272.5V319.5H241.1" fill="none" stroke="#c8c8c8" stroke-width="0.9"/><text x="196.50" y="283.35" font-size="2.60" text-anchor="end" fill="#555">3</text><text x="196.50" y="295.20" font-size="2.60" text-anchor="end" fill="#555">0</text><text x="196.50" y="307.05" font-size="2.60" text-anchor="end" fill="#555">-3</text><text x="196.50" y="318.90" font-size="2.60" text-anchor="end" fill="#555">-6</text><text x="207.47" y="322.90" font-size="2.60" text-anchor="middle" fill="#555">-3</text><text x="218.56" y="322.90" font-size="2.60" text-anchor="middle" fill="#555">0</text><text x="229.65" y="322.90" font-size="2.60" text-anchor="middle" fill="#555">3</text><text x="240.74" y="322.90" font-size="2.60" text-anchor="middle" fill="#555">6</text><text x="219.30" y="326.90" font-size="2.99" text-anchor="middle" fill="#444">wnnUMAP_1</text><text transform="translate(193.20,295.80) rotate(-90)" font-size="2.73" text-anchor="middle" fill="#444">wnnUMAP_2</text><g filter="url(#spk2)"><g transform="matrix(0.0370,0,0,0.0395,218.56,294.30)"><use href="#R_redsparse" fill="#eeb060" fill-opacity="0.42"/><use href="#R_goldsparse" fill="#f29f2e" fill-opacity="0.52"/><use href="#R_olivehalo" fill="#eeb060" fill-opacity="0.75"/><use href="#R_gold" fill="#f29f2e"/><use href="#R_teal" fill="#ec8428" fill-opacity="0.95"/><use href="#R_green" fill="#f29f2e"/><use href="#R_red" fill="#eeb060"/><use href="#R_olive" fill="#eeb060"/><use href="#R_blue" fill="#eeb060" fill-opacity="0.75"/><use href="#R_purple" fill="#eeb060"/><use href="#R_magenta" fill="#eeb060"/></g></g><rect x="242.80" y="306.81" width="2.6" height="12.69" fill="url(#lg)"/><rect x="246.10" y="306.61" width="1.2" height="0.35" fill="#aaa"/><rect x="246.10" y="309.78" width="1.2" height="0.35" fill="#aaa"/><rect x="246.10" y="312.96" width="1.2" height="0.35" fill="#aaa"/><rect x="246.10" y="316.13" width="1.2" height="0.35" fill="#aaa"/><rect x="246.10" y="319.30" width="1.2" height="0.35" fill="#aaa"/><path d="M135.0,335.6V382.6H178.8" fill="none" stroke="#c8c8c8" stroke-width="0.9"/><text x="133.70" y="346.45" font-size="2.60" text-anchor="end" fill="#555">3</text><text x="133.70" y="358.30" font-size="2.60" text-anchor="end" fill="#555">0</text><text x="133.70" y="370.15" font-size="2.60" text-anchor="end" fill="#555">-3</text><text x="133.70" y="382.00" font-size="2.60" text-anchor="end" fill="#555">-6</text><text x="144.78" y="386.00" font-size="2.60" text-anchor="middle" fill="#555">-3</text><text x="156.00" y="386.00" font-size="2.60" text-anchor="middle" fill="#555">0</text><text x="167.22" y="386.00" font-size="2.60" text-anchor="middle" fill="#555">3</text><text x="178.44" y="386.00" font-size="2.60" text-anchor="middle" fill="#555">6</text><text x="156.75" y="390.00" font-size="2.99" text-anchor="middle" fill="#444">wnnUMAP_1</text><text transform="translate(130.40,358.90) rotate(-90)" font-size="2.73" text-anchor="middle" fill="#444">wnnUMAP_2</text><g filter="url(#spk2)"><g transform="matrix(0.0374,0,0,0.0395,156.00,357.40)"><use href="#Z_sparse" fill="#f29f2e" fill-opacity="0.40"/><use href="#Z_goldhalo" fill="#f29f2e" fill-opacity="0.80"/><use href="#Z_junction" fill="#f29f2e" fill-opacity="0.75"/><use href="#Z_olivehalo" fill="#eeb060" fill-opacity="0.85"/><use href="#Z_gold" fill="#f29f2e"/><use href="#Z_red" fill="#dcc6a8"/><use href="#Z_olive" fill="#eeb060"/><use href="#Z_oliveR" fill="#eeb060"/><use href="#Z_oliveB" fill="#eeb060"/><use href="#Z_blue" fill="#eeb060"/><use href="#Z_purple" fill="#eeb060"/></g></g><rect x="180.75" y="369.91" width="2.6" height="12.69" fill="url(#lg)"/><rect x="184.05" y="369.71" width="1.2" height="0.35" fill="#aaa"/><rect x="184.05" y="372.88" width="1.2" height="0.35" fill="#aaa"/><rect x="184.05" y="376.06" width="1.2" height="0.35" fill="#aaa"/><rect x="184.05" y="379.23" width="1.2" height="0.35" fill="#aaa"/><rect x="184.05" y="382.40" width="1.2" height="0.35" fill="#aaa"/><path d="M197.8,335.6V382.6H241.1" fill="none" stroke="#c8c8c8" stroke-width="0.9"/><text x="196.50" y="346.45" font-size="2.60" text-anchor="end" fill="#555">3</text><text x="196.50" y="358.30" font-size="2.60" text-anchor="end" fill="#555">0</text><text x="196.50" y="370.15" font-size="2.60" text-anchor="end" fill="#555">-3</text><text x="196.50" y="382.00" font-size="2.60" text-anchor="end" fill="#555">-6</text><text x="207.47" y="386.00" font-size="2.60" text-anchor="middle" fill="#555">-3</text><text x="218.56" y="386.00" font-size="2.60" text-anchor="middle" fill="#555">0</text><text x="229.65" y="386.00" font-size="2.60" text-anchor="middle" fill="#555">3</text><text x="240.74" y="386.00" font-size="2.60" text-anchor="middle" fill="#555">6</text><text x="219.30" y="390.00" font-size="2.99" text-anchor="middle" fill="#444">wnnUMAP_1</text><text transform="translate(193.20,358.90) rotate(-90)" font-size="2.73" text-anchor="middle" fill="#444">wnnUMAP_2</text><g filter="url(#spk2)"><g transform="matrix(0.0370,0,0,0.0395,218.56,357.40)"><use href="#R_redsparse" fill="#eeb060" fill-opacity="0.42"/><use href="#R_goldsparse" fill="#eeb060" fill-opacity="0.52"/><use href="#R_olivehalo" fill="#eeb060" fill-opacity="0.75"/><use href="#R_gold" fill="#eeb060"/><use href="#R_teal" fill="#eeb060" fill-opacity="0.95"/><use href="#R_green" fill="#eeb060"/><use href="#R_red" fill="#eeb060"/><use href="#R_olive" fill="#eeb060"/><use href="#R_blue" fill="#eeb060" fill-opacity="0.75"/><use href="#R_purple" fill="#eeb060"/><use href="#R_magenta" fill="#eeb060"/></g></g><rect x="242.80" y="369.91" width="2.6" height="12.69" fill="url(#lg)"/><rect x="246.10" y="369.71" width="1.2" height="0.35" fill="#aaa"/><rect x="246.10" y="372.88" width="1.2" height="0.35" fill="#aaa"/><rect x="246.10" y="376.06" width="1.2" height="0.35" fill="#aaa"/><rect x="246.10" y="379.23" width="1.2" height="0.35" fill="#aaa"/><rect x="246.10" y="382.40" width="1.2" height="0.35" fill="#aaa"/><path d="M268.6,209.4V256.4H315.4" fill="none" stroke="#c8c8c8" stroke-width="0.9"/><text x="267.30" y="220.30" font-size="2.60" text-anchor="end" fill="#555">3</text><text x="267.30" y="232.15" font-size="2.60" text-anchor="end" fill="#555">0</text><text x="267.30" y="244.00" font-size="2.60" text-anchor="end" fill="#555">-3</text><text x="267.30" y="255.85" font-size="2.60" text-anchor="end" fill="#555">-6</text><text x="279.05" y="259.85" font-size="2.60" text-anchor="middle" fill="#555">-3</text><text x="291.04" y="259.85" font-size="2.60" text-anchor="middle" fill="#555">0</text><text x="303.03" y="259.85" font-size="2.60" text-anchor="middle" fill="#555">3</text><text x="315.01" y="259.85" font-size="2.60" text-anchor="middle" fill="#555">6</text><text x="291.84" y="263.85" font-size="2.99" text-anchor="middle" fill="#444">wnnUMAP_1</text><text transform="translate(264.00,232.75) rotate(-90)" font-size="2.73" text-anchor="middle" fill="#444">wnnUMAP_2</text><g filter="url(#spk2)"><g transform="matrix(0.0400,0,0,0.0395,291.04,231.25)"><use href="#Z_sparse" fill="#f29f2e" fill-opacity="0.40"/><use href="#Z_goldhalo" fill="#f29f2e" fill-opacity="0.80"/><use href="#Z_junction" fill="#f29f2e" fill-opacity="0.75"/><use href="#Z_olivehalo" fill="#d7d7d7" fill-opacity="0.85"/><use href="#Z_gold" fill="#f29f2e"/><use href="#Z_red" fill="#f29f2e"/><use href="#Z_olive" fill="#d7d7d7"/><use href="#Z_oliveR" fill="#f29f2e"/><use href="#Z_oliveB" fill="#d7d7d7"/><use href="#Z_blue" fill="#dcc6a8"/><use href="#Z_purple" fill="#d7d7d7"/></g></g><rect x="316.20" y="243.76" width="2.6" height="12.69" fill="url(#lg)"/><rect x="319.50" y="243.56" width="1.2" height="0.35" fill="#aaa"/><rect x="319.50" y="246.73" width="1.2" height="0.35" fill="#aaa"/><rect x="319.50" y="249.91" width="1.2" height="0.35" fill="#aaa"/><rect x="319.50" y="253.08" width="1.2" height="0.35" fill="#aaa"/><rect x="319.50" y="256.25" width="1.2" height="0.35" fill="#aaa"/><path d="M332.4,209.4V256.4H378.7" fill="none" stroke="#c8c8c8" stroke-width="0.9"/><text x="331.10" y="220.30" font-size="2.60" text-anchor="end" fill="#555">3</text><text x="331.10" y="232.15" font-size="2.60" text-anchor="end" fill="#555">0</text><text x="331.10" y="244.00" font-size="2.60" text-anchor="end" fill="#555">-3</text><text x="331.10" y="255.85" font-size="2.60" text-anchor="end" fill="#555">-6</text><text x="342.75" y="259.85" font-size="2.60" text-anchor="middle" fill="#555">-3</text><text x="354.62" y="259.85" font-size="2.60" text-anchor="middle" fill="#555">0</text><text x="366.50" y="259.85" font-size="2.60" text-anchor="middle" fill="#555">3</text><text x="378.37" y="259.85" font-size="2.60" text-anchor="middle" fill="#555">6</text><text x="355.42" y="263.85" font-size="2.99" text-anchor="middle" fill="#444">wnnUMAP_1</text><text transform="translate(327.80,232.75) rotate(-90)" font-size="2.73" text-anchor="middle" fill="#444">wnnUMAP_2</text><g filter="url(#spk2)"><g transform="matrix(0.0396,0,0,0.0395,354.62,231.25)"><use href="#R_redsparse" fill="#d7d7d7" fill-opacity="0.42"/><use href="#R_goldsparse" fill="#d7d7d7" fill-opacity="0.52"/><use href="#R_olivehalo" fill="#d7d7d7" fill-opacity="0.75"/><use href="#R_gold" fill="#d7d7d7"/><use href="#R_teal" fill="#d7d7d7" fill-opacity="0.95"/><use href="#R_green" fill="#d7d7d7"/><use href="#R_red" fill="#d7d7d7"/><use href="#R_olive" fill="#d7d7d7"/><use href="#R_blue" fill="#d7d7d7" fill-opacity="0.75"/><use href="#R_purple" fill="#d7d7d7"/><use href="#R_magenta" fill="#d7d7d7"/></g></g><rect x="380.50" y="243.76" width="2.6" height="12.69" fill="url(#lg)"/><rect x="383.80" y="243.56" width="1.2" height="0.35" fill="#aaa"/><rect x="383.80" y="246.73" width="1.2" height="0.35" fill="#aaa"/><rect x="383.80" y="249.91" width="1.2" height="0.35" fill="#aaa"/><rect x="383.80" y="253.08" width="1.2" height="0.35" fill="#aaa"/><rect x="383.80" y="256.25" width="1.2" height="0.35" fill="#aaa"/><path d="M268.6,271.2V318.2H315.4" fill="none" stroke="#c8c8c8" stroke-width="0.9"/><text x="267.30" y="282.05" font-size="2.60" text-anchor="end" fill="#555">3</text><text x="267.30" y="293.90" font-size="2.60" text-anchor="end" fill="#555">0</text><text x="267.30" y="305.75" font-size="2.60" text-anchor="end" fill="#555">-3</text><text x="267.30" y="317.60" font-size="2.60" text-anchor="end" fill="#555">-6</text><text x="279.05" y="321.60" font-size="2.60" text-anchor="middle" fill="#555">-3</text><text x="291.04" y="321.60" font-size="2.60" text-anchor="middle" fill="#555">0</text><text x="303.03" y="321.60" font-size="2.60" text-anchor="middle" fill="#555">3</text><text x="315.01" y="321.60" font-size="2.60" text-anchor="middle" fill="#555">6</text><text x="291.84" y="325.60" font-size="2.99" text-anchor="middle" fill="#444">wnnUMAP_1</text><text transform="translate(264.00,294.50) rotate(-90)" font-size="2.73" text-anchor="middle" fill="#444">wnnUMAP_2</text><g filter="url(#spk2)"><g transform="matrix(0.0400,0,0,0.0395,291.04,293.00)"><use href="#Z_sparse" fill="#d7d7d7" fill-opacity="0.40"/><use href="#Z_goldhalo" fill="#d7d7d7" fill-opacity="0.80"/><use href="#Z_junction" fill="#d7d7d7" fill-opacity="0.75"/><use href="#Z_olivehalo" fill="#d7d7d7" fill-opacity="0.85"/><use href="#Z_gold" fill="#d7d7d7"/><use href="#Z_red" fill="#d7d7d7"/><use href="#Z_olive" fill="#d7d7d7"/><use href="#Z_oliveR" fill="#d7d7d7"/><use href="#Z_oliveB" fill="#d7d7d7"/><use href="#Z_blue" fill="#d7d7d7"/><use href="#Z_purple" fill="#d7d7d7"/></g></g><rect x="316.20" y="305.51" width="2.6" height="12.69" fill="url(#lg)"/><rect x="319.50" y="305.31" width="1.2" height="0.35" fill="#aaa"/><rect x="319.50" y="308.48" width="1.2" height="0.35" fill="#aaa"/><rect x="319.50" y="311.66" width="1.2" height="0.35" fill="#aaa"/><rect x="319.50" y="314.83" width="1.2" height="0.35" fill="#aaa"/><rect x="319.50" y="318.00" width="1.2" height="0.35" fill="#aaa"/><path d="M332.4,271.2V318.2H378.7" fill="none" stroke="#c8c8c8" stroke-width="0.9"/><text x="331.10" y="282.05" font-size="2.60" text-anchor="end" fill="#555">3</text><text x="331.10" y="293.90" font-size="2.60" text-anchor="end" fill="#555">0</text><text x="331.10" y="305.75" font-size="2.60" text-anchor="end" fill="#555">-3</text><text x="331.10" y="317.60" font-size="2.60" text-anchor="end" fill="#555">-6</text><text x="342.75" y="321.60" font-size="2.60" text-anchor="middle" fill="#555">-3</text><text x="354.62" y="321.60" font-size="2.60" text-anchor="middle" fill="#555">0</text><text x="366.50" y="321.60" font-size="2.60" text-anchor="middle" fill="#555">3</text><text x="378.37" y="321.60" font-size="2.60" text-anchor="middle" fill="#555">6</text><text x="355.42" y="325.60" font-size="2.99" text-anchor="middle" fill="#444">wnnUMAP_1</text><text transform="translate(327.80,294.50) rotate(-90)" font-size="2.73" text-anchor="middle" fill="#444">wnnUMAP_2</text><g filter="url(#spk2)"><g transform="matrix(0.0396,0,0,0.0395,354.62,293.00)"><use href="#R_redsparse" fill="#d7d7d7" fill-opacity="0.42"/><use href="#R_goldsparse" fill="#e2b47c" fill-opacity="0.52"/><use href="#R_olivehalo" fill="#d7d7d7" fill-opacity="0.75"/><use href="#R_gold" fill="#dcc6a8"/><use href="#R_teal" fill="#dcc6a8" fill-opacity="0.95"/><use href="#R_green" fill="#dcc6a8"/><use href="#R_red" fill="#d7d7d7"/><use href="#R_olive" fill="#d7d7d7"/><use href="#R_blue" fill="#d7d7d7" fill-opacity="0.75"/><use href="#R_purple" fill="#d7d7d7"/><use href="#R_magenta" fill="#d7d7d7"/></g></g><rect x="380.50" y="305.51" width="2.6" height="12.69" fill="url(#lg)"/><rect x="383.80" y="305.31" width="1.2" height="0.35" fill="#aaa"/><rect x="383.80" y="308.48" width="1.2" height="0.35" fill="#aaa"/><rect x="383.80" y="311.66" width="1.2" height="0.35" fill="#aaa"/><rect x="383.80" y="314.83" width="1.2" height="0.35" fill="#aaa"/><rect x="383.80" y="318.00" width="1.2" height="0.35" fill="#aaa"/><path d="M268.6,335.6V382.6H315.4" fill="none" stroke="#c8c8c8" stroke-width="0.9"/><text x="267.30" y="346.45" font-size="2.60" text-anchor="end" fill="#555">3</text><text x="267.30" y="358.30" font-size="2.60" text-anchor="end" fill="#555">0</text><text x="267.30" y="370.15" font-size="2.60" text-anchor="end" fill="#555">-3</text><text x="267.30" y="382.00" font-size="2.60" text-anchor="end" fill="#555">-6</text><text x="279.05" y="386.00" font-size="2.60" text-anchor="middle" fill="#555">-3</text><text x="291.04" y="386.00" font-size="2.60" text-anchor="middle" fill="#555">0</text><text x="303.03" y="386.00" font-size="2.60" text-anchor="middle" fill="#555">3</text><text x="315.01" y="386.00" font-size="2.60" text-anchor="middle" fill="#555">6</text><text x="291.84" y="390.00" font-size="2.99" text-anchor="middle" fill="#444">wnnUMAP_1</text><text transform="translate(264.00,358.90) rotate(-90)" font-size="2.73" text-anchor="middle" fill="#444">wnnUMAP_2</text><g filter="url(#spk2)"><g transform="matrix(0.0400,0,0,0.0395,291.04,357.40)"><use href="#Z_sparse" fill="#f29f2e" fill-opacity="0.40"/><use href="#Z_goldhalo" fill="#f29f2e" fill-opacity="0.80"/><use href="#Z_junction" fill="#f29f2e" fill-opacity="0.75"/><use href="#Z_olivehalo" fill="#d7d7d7" fill-opacity="0.85"/><use href="#Z_gold" fill="#f29f2e"/><use href="#Z_red" fill="#f29f2e"/><use href="#Z_olive" fill="#d7d7d7"/><use href="#Z_oliveR" fill="#eeb060"/><use href="#Z_oliveB" fill="#d7d7d7"/><use href="#Z_blue" fill="#d7d7d7"/><use href="#Z_purple" fill="#d7d7d7"/></g></g><rect x="316.20" y="369.91" width="2.6" height="12.69" fill="url(#lg)"/><rect x="319.50" y="369.71" width="1.2" height="0.35" fill="#aaa"/><rect x="319.50" y="372.88" width="1.2" height="0.35" fill="#aaa"/><rect x="319.50" y="376.06" width="1.2" height="0.35" fill="#aaa"/><rect x="319.50" y="379.23" width="1.2" height="0.35" fill="#aaa"/><rect x="319.50" y="382.40" width="1.2" height="0.35" fill="#aaa"/><path d="M332.4,335.6V382.6H378.7" fill="none" stroke="#c8c8c8" stroke-width="0.9"/><text x="331.10" y="346.45" font-size="2.60" text-anchor="end" fill="#555">3</text><text x="331.10" y="358.30" font-size="2.60" text-anchor="end" fill="#555">0</text><text x="331.10" y="370.15" font-size="2.60" text-anchor="end" fill="#555">-3</text><text x="331.10" y="382.00" font-size="2.60" text-anchor="end" fill="#555">-6</text><text x="342.75" y="386.00" font-size="2.60" text-anchor="middle" fill="#555">-3</text><text x="354.62" y="386.00" font-size="2.60" text-anchor="middle" fill="#555">0</text><text x="366.50" y="386.00" font-size="2.60" text-anchor="middle" fill="#555">3</text><text x="378.37" y="386.00" font-size="2.60" text-anchor="middle" fill="#555">6</text><text x="355.42" y="390.00" font-size="2.99" text-anchor="middle" fill="#444">wnnUMAP_1</text><text transform="translate(327.80,358.90) rotate(-90)" font-size="2.73" text-anchor="middle" fill="#444">wnnUMAP_2</text><g filter="url(#spk2)"><g transform="matrix(0.0396,0,0,0.0395,354.62,357.40)"><use href="#R_redsparse" fill="#e45c32" fill-opacity="0.42"/><use href="#R_goldsparse" fill="#e45c32" fill-opacity="0.52"/><use href="#R_olivehalo" fill="#d7d7d7" fill-opacity="0.75"/><use href="#R_gold" fill="#e45c32"/><use href="#R_teal" fill="#e45c32" fill-opacity="0.95"/><use href="#R_green" fill="#e45c32"/><use href="#R_red" fill="#e45c32"/><use href="#R_olive" fill="#d7d7d7"/><use href="#R_blue" fill="#d7d7d7" fill-opacity="0.75"/><use href="#R_purple" fill="#d7d7d7"/><use href="#R_magenta" fill="#d7d7d7"/></g></g><rect x="380.50" y="369.91" width="2.6" height="12.69" fill="url(#lg)"/><rect x="383.80" y="369.71" width="1.2" height="0.35" fill="#aaa"/><rect x="383.80" y="372.88" width="1.2" height="0.35" fill="#aaa"/><rect x="383.80" y="376.06" width="1.2" height="0.35" fill="#aaa"/><rect x="383.80" y="379.23" width="1.2" height="0.35" fill="#aaa"/><rect x="383.80" y="382.40" width="1.2" height="0.35" fill="#aaa"/><path d="M397.6,209.4V256.4H443.8" fill="none" stroke="#c8c8c8" stroke-width="0.9"/><text x="396.30" y="220.30" font-size="2.60" text-anchor="end" fill="#555">3</text><text x="396.30" y="232.15" font-size="2.60" text-anchor="end" fill="#555">0</text><text x="396.30" y="244.00" font-size="2.60" text-anchor="end" fill="#555">-3</text><text x="396.30" y="255.85" font-size="2.60" text-anchor="end" fill="#555">-6</text><text x="407.93" y="259.85" font-size="2.60" text-anchor="middle" fill="#555">-3</text><text x="419.78" y="259.85" font-size="2.60" text-anchor="middle" fill="#555">0</text><text x="431.62" y="259.85" font-size="2.60" text-anchor="middle" fill="#555">3</text><text x="443.47" y="259.85" font-size="2.60" text-anchor="middle" fill="#555">6</text><text x="420.57" y="263.85" font-size="2.99" text-anchor="middle" fill="#444">wnnUMAP_1</text><text transform="translate(393.00,232.75) rotate(-90)" font-size="2.73" text-anchor="middle" fill="#444">wnnUMAP_2</text><g filter="url(#spk2)"><g transform="matrix(0.0395,0,0,0.0395,419.78,231.25)"><use href="#Z_sparse" fill="#f29f2e" fill-opacity="0.40"/><use href="#Z_goldhalo" fill="#f29f2e" fill-opacity="0.80"/><use href="#Z_junction" fill="#f29f2e" fill-opacity="0.75"/><use href="#Z_olivehalo" fill="#d7d7d7" fill-opacity="0.85"/><use href="#Z_gold" fill="#f29f2e"/><use href="#Z_red" fill="#f29f2e"/><use href="#Z_olive" fill="#d7d7d7"/><use href="#Z_oliveR" fill="#f29f2e"/><use href="#Z_oliveB" fill="#d7d7d7"/><use href="#Z_blue" fill="#d7d7d7"/><use href="#Z_purple" fill="#d7d7d7"/></g></g><rect x="446.30" y="243.76" width="2.6" height="12.69" fill="url(#lg)"/><rect x="449.60" y="243.56" width="1.2" height="0.35" fill="#aaa"/><rect x="449.60" y="246.73" width="1.2" height="0.35" fill="#aaa"/><rect x="449.60" y="249.91" width="1.2" height="0.35" fill="#aaa"/><rect x="449.60" y="253.08" width="1.2" height="0.35" fill="#aaa"/><rect x="449.60" y="256.25" width="1.2" height="0.35" fill="#aaa"/><path d="M461.3,209.4V256.4H508.1" fill="none" stroke="#c8c8c8" stroke-width="0.9"/><text x="460.00" y="220.30" font-size="2.60" text-anchor="end" fill="#555">3</text><text x="460.00" y="232.15" font-size="2.60" text-anchor="end" fill="#555">0</text><text x="460.00" y="244.00" font-size="2.60" text-anchor="end" fill="#555">-3</text><text x="460.00" y="255.85" font-size="2.60" text-anchor="end" fill="#555">-6</text><text x="471.76" y="259.85" font-size="2.60" text-anchor="middle" fill="#555">-3</text><text x="483.76" y="259.85" font-size="2.60" text-anchor="middle" fill="#555">0</text><text x="495.76" y="259.85" font-size="2.60" text-anchor="middle" fill="#555">3</text><text x="507.76" y="259.85" font-size="2.60" text-anchor="middle" fill="#555">6</text><text x="484.56" y="263.85" font-size="2.99" text-anchor="middle" fill="#444">wnnUMAP_1</text><text transform="translate(456.70,232.75) rotate(-90)" font-size="2.73" text-anchor="middle" fill="#444">wnnUMAP_2</text><g filter="url(#spk2)"><g transform="matrix(0.0400,0,0,0.0395,483.76,231.25)"><use href="#R_redsparse" fill="#e45c32" fill-opacity="0.42"/><use href="#R_goldsparse" fill="#e45c32" fill-opacity="0.52"/><use href="#R_olivehalo" fill="#d7d7d7" fill-opacity="0.75"/><use href="#R_gold" fill="#e45c32"/><use href="#R_teal" fill="#e45c32" fill-opacity="0.95"/><use href="#R_green" fill="#e45c32"/><use href="#R_red" fill="#e45c32"/><use href="#R_olive" fill="#d7d7d7"/><use href="#R_blue" fill="#d7d7d7" fill-opacity="0.75"/><use href="#R_purple" fill="#d7d7d7"/><use href="#R_magenta" fill="#d7d7d7"/></g></g><rect x="512.50" y="243.76" width="2.6" height="12.69" fill="url(#lg)"/><rect x="515.80" y="243.56" width="1.2" height="0.35" fill="#aaa"/><rect x="515.80" y="246.73" width="1.2" height="0.35" fill="#aaa"/><rect x="515.80" y="249.91" width="1.2" height="0.35" fill="#aaa"/><rect x="515.80" y="253.08" width="1.2" height="0.35" fill="#aaa"/><rect x="515.80" y="256.25" width="1.2" height="0.35" fill="#aaa"/><path d="M397.6,271.2V318.2H443.8" fill="none" stroke="#c8c8c8" stroke-width="0.9"/><text x="396.30" y="282.05" font-size="2.60" text-anchor="end" fill="#555">3</text><text x="396.30" y="293.90" font-size="2.60" text-anchor="end" fill="#555">0</text><text x="396.30" y="305.75" font-size="2.60" text-anchor="end" fill="#555">-3</text><text x="396.30" y="317.60" font-size="2.60" text-anchor="end" fill="#555">-6</text><text x="407.93" y="321.60" font-size="2.60" text-anchor="middle" fill="#555">-3</text><text x="419.78" y="321.60" font-size="2.60" text-anchor="middle" fill="#555">0</text><text x="431.62" y="321.60" font-size="2.60" text-anchor="middle" fill="#555">3</text><text x="443.47" y="321.60" font-size="2.60" text-anchor="middle" fill="#555">6</text><text x="420.57" y="325.60" font-size="2.99" text-anchor="middle" fill="#444">wnnUMAP_1</text><text transform="translate(393.00,294.50) rotate(-90)" font-size="2.73" text-anchor="middle" fill="#444">wnnUMAP_2</text><g filter="url(#spk2)"><g transform="matrix(0.0395,0,0,0.0395,419.78,293.00)"><use href="#Z_sparse" fill="#d7d7d7" fill-opacity="0.40"/><use href="#Z_goldhalo" fill="#d7d7d7" fill-opacity="0.80"/><use href="#Z_junction" fill="#d7d7d7" fill-opacity="0.75"/><use href="#Z_olivehalo" fill="#d7d7d7" fill-opacity="0.85"/><use href="#Z_gold" fill="#d7d7d7"/><use href="#Z_red" fill="#dccfbf"/><use href="#Z_olive" fill="#d7d7d7"/><use href="#Z_oliveR" fill="#d7d7d7"/><use href="#Z_oliveB" fill="#d7d7d7"/><use href="#Z_blue" fill="#d7d7d7"/><use href="#Z_purple" fill="#d7d7d7"/></g></g><rect x="446.30" y="305.51" width="2.6" height="12.69" fill="url(#lg)"/><rect x="449.60" y="305.31" width="1.2" height="0.35" fill="#aaa"/><rect x="449.60" y="308.48" width="1.2" height="0.35" fill="#aaa"/><rect x="449.60" y="311.66" width="1.2" height="0.35" fill="#aaa"/><rect x="449.60" y="314.83" width="1.2" height="0.35" fill="#aaa"/><rect x="449.60" y="318.00" width="1.2" height="0.35" fill="#aaa"/><path d="M461.3,271.2V318.2H508.1" fill="none" stroke="#c8c8c8" stroke-width="0.9"/><text x="460.00" y="282.05" font-size="2.60" text-anchor="end" fill="#555">3</text><text x="460.00" y="293.90" font-size="2.60" text-anchor="end" fill="#555">0</text><text x="460.00" y="305.75" font-size="2.60" text-anchor="end" fill="#555">-3</text><text x="460.00" y="317.60" font-size="2.60" text-anchor="end" fill="#555">-6</text><text x="471.76" y="321.60" font-size="2.60" text-anchor="middle" fill="#555">-3</text><text x="483.76" y="321.60" font-size="2.60" text-anchor="middle" fill="#555">0</text><text x="495.76" y="321.60" font-size="2.60" text-anchor="middle" fill="#555">3</text><text x="507.76" y="321.60" font-size="2.60" text-anchor="middle" fill="#555">6</text><text x="484.56" y="325.60" font-size="2.99" text-anchor="middle" fill="#444">wnnUMAP_1</text><text transform="translate(456.70,294.50) rotate(-90)" font-size="2.73" text-anchor="middle" fill="#444">wnnUMAP_2</text><g filter="url(#spk2)"><g transform="matrix(0.0400,0,0,0.0395,483.76,293.00)"><use href="#R_redsparse" fill="#eeb060" fill-opacity="0.42"/><use href="#R_goldsparse" fill="#eeb060" fill-opacity="0.52"/><use href="#R_olivehalo" fill="#d7d7d7" fill-opacity="0.75"/><use href="#R_gold" fill="#eeb060"/><use href="#R_teal" fill="#eeb060" fill-opacity="0.95"/><use href="#R_green" fill="#eeb060"/><use href="#R_red" fill="#eeb060"/><use href="#R_olive" fill="#d7d7d7"/><use href="#R_blue" fill="#d7d7d7" fill-opacity="0.75"/><use href="#R_purple" fill="#d7d7d7"/><use href="#R_magenta" fill="#d7d7d7"/></g></g><rect x="512.50" y="305.51" width="2.6" height="12.69" fill="url(#lg)"/><rect x="515.80" y="305.31" width="1.2" height="0.35" fill="#aaa"/><rect x="515.80" y="308.48" width="1.2" height="0.35" fill="#aaa"/><rect x="515.80" y="311.66" width="1.2" height="0.35" fill="#aaa"/><rect x="515.80" y="314.83" width="1.2" height="0.35" fill="#aaa"/><rect x="515.80" y="318.00" width="1.2" height="0.35" fill="#aaa"/><path d="M397.6,335.6V382.6H443.8" fill="none" stroke="#c8c8c8" stroke-width="0.9"/><text x="396.30" y="346.45" font-size="2.60" text-anchor="end" fill="#555">3</text><text x="396.30" y="358.30" font-size="2.60" text-anchor="end" fill="#555">0</text><text x="396.30" y="370.15" font-size="2.60" text-anchor="end" fill="#555">-3</text><text x="396.30" y="382.00" font-size="2.60" text-anchor="end" fill="#555">-6</text><text x="407.93" y="386.00" font-size="2.60" text-anchor="middle" fill="#555">-3</text><text x="419.78" y="386.00" font-size="2.60" text-anchor="middle" fill="#555">0</text><text x="431.62" y="386.00" font-size="2.60" text-anchor="middle" fill="#555">3</text><text x="443.47" y="386.00" font-size="2.60" text-anchor="middle" fill="#555">6</text><text x="420.57" y="390.00" font-size="2.99" text-anchor="middle" fill="#444">wnnUMAP_1</text><text transform="translate(393.00,358.90) rotate(-90)" font-size="2.73" text-anchor="middle" fill="#444">wnnUMAP_2</text><g filter="url(#spk2)"><g transform="matrix(0.0395,0,0,0.0395,419.78,357.40)"><use href="#Z_sparse" fill="#f29f2e" fill-opacity="0.40"/><use href="#Z_goldhalo" fill="#f29f2e" fill-opacity="0.80"/><use href="#Z_junction" fill="#f29f2e" fill-opacity="0.75"/><use href="#Z_olivehalo" fill="#d7d7d7" fill-opacity="0.85"/><use href="#Z_gold" fill="#f29f2e"/><use href="#Z_red" fill="#f29f2e"/><use href="#Z_olive" fill="#d7d7d7"/><use href="#Z_oliveR" fill="#f29f2e"/><use href="#Z_oliveB" fill="#d7d7d7"/><use href="#Z_blue" fill="#d7d7d7"/><use href="#Z_purple" fill="#d7d7d7"/></g></g><rect x="446.30" y="369.91" width="2.6" height="12.69" fill="url(#lg)"/><rect x="449.60" y="369.71" width="1.2" height="0.35" fill="#aaa"/><rect x="449.60" y="372.88" width="1.2" height="0.35" fill="#aaa"/><rect x="449.60" y="376.06" width="1.2" height="0.35" fill="#aaa"/><rect x="449.60" y="379.23" width="1.2" height="0.35" fill="#aaa"/><rect x="449.60" y="382.40" width="1.2" height="0.35" fill="#aaa"/><path d="M461.3,335.6V382.6H508.1" fill="none" stroke="#c8c8c8" stroke-width="0.9"/><text x="460.00" y="346.45" font-size="2.60" text-anchor="end" fill="#555">3</text><text x="460.00" y="358.30" font-size="2.60" text-anchor="end" fill="#555">0</text><text x="460.00" y="370.15" font-size="2.60" text-anchor="end" fill="#555">-3</text><text x="460.00" y="382.00" font-size="2.60" text-anchor="end" fill="#555">-6</text><text x="471.76" y="386.00" font-size="2.60" text-anchor="middle" fill="#555">-3</text><text x="483.76" y="386.00" font-size="2.60" text-anchor="middle" fill="#555">0</text><text x="495.76" y="386.00" font-size="2.60" text-anchor="middle" fill="#555">3</text><text x="507.76" y="386.00" font-size="2.60" text-anchor="middle" fill="#555">6</text><text x="484.56" y="390.00" font-size="2.99" text-anchor="middle" fill="#444">wnnUMAP_1</text><text transform="translate(456.70,358.90) rotate(-90)" font-size="2.73" text-anchor="middle" fill="#444">wnnUMAP_2</text><g filter="url(#spk2)"><g transform="matrix(0.0400,0,0,0.0395,483.76,357.40)"><use href="#R_redsparse" fill="#e45c32" fill-opacity="0.42"/><use href="#R_goldsparse" fill="#e45c32" fill-opacity="0.52"/><use href="#R_olivehalo" fill="#d7d7d7" fill-opacity="0.75"/><use href="#R_gold" fill="#e45c32"/><use href="#R_teal" fill="#e45c32" fill-opacity="0.95"/><use href="#R_green" fill="#e45c32"/><use href="#R_red" fill="#e45c32"/><use href="#R_olive" fill="#d7d7d7"/><use href="#R_blue" fill="#d7d7d7" fill-opacity="0.75"/><use href="#R_purple" fill="#d7d7d7"/><use href="#R_magenta" fill="#d7d7d7"/></g></g><rect x="512.50" y="369.91" width="2.6" height="12.69" fill="url(#lg)"/><rect x="515.80" y="369.71" width="1.2" height="0.35" fill="#aaa"/><rect x="515.80" y="372.88" width="1.2" height="0.35" fill="#aaa"/><rect x="515.80" y="376.06" width="1.2" height="0.35" fill="#aaa"/><rect x="515.80" y="379.23" width="1.2" height="0.35" fill="#aaa"/><rect x="515.80" y="382.40" width="1.2" height="0.35" fill="#aaa"/><text transform="translate(115.30,213.00) rotate(90)" font-size="11.0" font-style="italic" textLength="25.8" lengthAdjust="spacingAndGlyphs" fill="#111">CD3E</text><text transform="translate(115.30,280.60) rotate(90)" font-size="11.0" font-style="italic" textLength="19.7" lengthAdjust="spacingAndGlyphs" fill="#111">CD4</text><text transform="translate(115.30,341.30) rotate(90)" font-size="11.0" font-style="italic" textLength="25.0" lengthAdjust="spacingAndGlyphs" fill="#111">CD8A</text><text transform="translate(241.00,213.00) rotate(90)" font-size="11.0" font-style="italic" textLength="24.3" lengthAdjust="spacingAndGlyphs" fill="#111">IFNG</text><text transform="translate(241.00,277.80) rotate(90)" font-size="11.0" font-style="italic" textLength="24.2" lengthAdjust="spacingAndGlyphs" fill="#111">PRF1</text><text transform="translate(241.00,340.70) rotate(90)" font-size="11.0" font-style="italic" textLength="27.3" lengthAdjust="spacingAndGlyphs" fill="#111">GZMB</text><text transform="translate(377.50,214.40) rotate(90)" font-size="11.0" textLength="21.6" lengthAdjust="spacingAndGlyphs" fill="#111">CD2</text><text transform="translate(378.60,274.80) rotate(90)" font-size="11.0" textLength="30.3" lengthAdjust="spacingAndGlyphs" fill="#111">CD11b</text><text transform="translate(377.50,339.50) rotate(90)" font-size="11.0" textLength="27.0" lengthAdjust="spacingAndGlyphs" fill="#111">CD45</text><text transform="translate(511.40,210.40) rotate(90)" font-size="11.0" textLength="29.6" lengthAdjust="spacingAndGlyphs" fill="#111">CD11a</text><text transform="translate(511.60,277.50) rotate(90)" font-size="11.0" textLength="25.0" lengthAdjust="spacingAndGlyphs" fill="#111">CD18</text><text transform="translate(511.60,337.30) rotate(90)" font-size="11.0" textLength="27.7" lengthAdjust="spacingAndGlyphs" fill="#111">CD44</text><text x="2.90" y="426.50" font-size="8.7" textLength="66.4" lengthAdjust="spacingAndGlyphs" fill="#111" stroke="#111" stroke-width="0.15">GD2-2840z-CARTs</text><text x="80.80" y="426.50" font-size="8.7" textLength="52.4" lengthAdjust="spacingAndGlyphs" fill="#111" stroke="#111" stroke-width="0.15">GD2-CARrejTs</text><path d="M9.8,432.2V486.3H62.2" fill="none" stroke="#c8c8c8" stroke-width="0.9"/><text x="8.50" y="444.25" font-size="3.00" text-anchor="end" fill="#555">3</text><text x="8.50" y="457.60" font-size="3.00" text-anchor="end" fill="#555">0</text><text x="8.50" y="470.95" font-size="3.00" text-anchor="end" fill="#555">-3</text><text x="8.50" y="484.30" font-size="3.00" text-anchor="end" fill="#555">-6</text><text x="20.94" y="490.09" font-size="3.00" text-anchor="middle" fill="#555">-3</text><text x="34.20" y="490.09" font-size="3.00" text-anchor="middle" fill="#555">0</text><text x="47.46" y="490.09" font-size="3.00" text-anchor="middle" fill="#555">3</text><text x="60.72" y="490.09" font-size="3.00" text-anchor="middle" fill="#555">6</text><text x="35.08" y="494.49" font-size="3.45" text-anchor="middle" fill="#444">wnnUMAP_1</text><text transform="translate(4.80,458.20) rotate(-90)" font-size="3.15" text-anchor="middle" fill="#444">wnnUMAP_2</text><g filter="url(#spk2)"><g transform="matrix(0.0442,0,0,0.0445,34.20,456.70)"><use href="#Z_sparse" fill="#d7d7d7" fill-opacity="0.40"/><use href="#Z_goldhalo" fill="#d7d7d7" fill-opacity="0.80"/><use href="#Z_junction" fill="#d7d7d7" fill-opacity="0.75"/><use href="#Z_olivehalo" fill="#d7d7d7" fill-opacity="0.85"/><use href="#Z_gold" fill="#d7d7d7"/><use href="#Z_red" fill="#d7d7d7"/><use href="#Z_olive" fill="#d7d7d7"/><use href="#Z_oliveR" fill="#d7d7d7"/><use href="#Z_oliveB" fill="#d7d7d7"/><use href="#Z_blue" fill="#d7d7d7"/><use href="#Z_purple" fill="#d7d7d7"/></g></g><rect x="64.40" y="471.69" width="2.6" height="14.60" fill="url(#lg)"/><rect x="67.70" y="471.49" width="1.2" height="0.35" fill="#aaa"/><rect x="67.70" y="475.14" width="1.2" height="0.35" fill="#aaa"/><rect x="67.70" y="478.79" width="1.2" height="0.35" fill="#aaa"/><rect x="67.70" y="482.44" width="1.2" height="0.35" fill="#aaa"/><rect x="67.70" y="486.09" width="1.2" height="0.35" fill="#aaa"/><path d="M81.5,432.5V486.6H133.9" fill="none" stroke="#c8c8c8" stroke-width="0.9"/><text x="80.20" y="444.55" font-size="3.00" text-anchor="end" fill="#555">3</text><text x="80.20" y="457.90" font-size="3.00" text-anchor="end" fill="#555">0</text><text x="80.20" y="471.25" font-size="3.00" text-anchor="end" fill="#555">-3</text><text x="80.20" y="484.60" font-size="3.00" text-anchor="end" fill="#555">-6</text><text x="92.64" y="490.39" font-size="3.00" text-anchor="middle" fill="#555">-3</text><text x="105.90" y="490.39" font-size="3.00" text-anchor="middle" fill="#555">0</text><text x="119.16" y="490.39" font-size="3.00" text-anchor="middle" fill="#555">3</text><text x="132.42" y="490.39" font-size="3.00" text-anchor="middle" fill="#555">6</text><text x="106.78" y="494.79" font-size="3.45" text-anchor="middle" fill="#444">wnnUMAP_1</text><text transform="translate(76.50,458.50) rotate(-90)" font-size="3.15" text-anchor="middle" fill="#444">wnnUMAP_2</text><g filter="url(#spk2)"><g transform="matrix(0.0442,0,0,0.0445,105.90,457.00)"><use href="#R_redsparse" fill="#d7d7d7" fill-opacity="0.42"/><use href="#R_goldsparse" fill="#d7d7d7" fill-opacity="0.52"/><use href="#R_olivehalo" fill="#d7d7d7" fill-opacity="0.75"/><use href="#R_gold" fill="#d7d7d7"/><use href="#R_teal" fill="#d7d7d7" fill-opacity="0.95"/><use href="#R_green" fill="#d7d7d7"/><use href="#R_red" fill="#d7d7d7"/><use href="#R_olive" fill="#d7d7d7"/><use href="#R_blue" fill="#d7d7d7" fill-opacity="0.75"/><use href="#R_purple" fill="#d7d7d7"/><use href="#R_magenta" fill="#d7d7d7"/></g></g><rect x="136.10" y="471.99" width="2.6" height="14.60" fill="url(#lg)"/><rect x="139.40" y="471.79" width="1.2" height="0.35" fill="#aaa"/><rect x="139.40" y="475.44" width="1.2" height="0.35" fill="#aaa"/><rect x="139.40" y="479.09" width="1.2" height="0.35" fill="#aaa"/><rect x="139.40" y="482.74" width="1.2" height="0.35" fill="#aaa"/><rect x="139.40" y="486.39" width="1.2" height="0.35" fill="#aaa"/><text transform="translate(135.40,429.60) rotate(90)" font-size="11.0" font-style="italic" textLength="41.6" lengthAdjust="spacingAndGlyphs" fill="#111">SIGLEC7</text><text x="2.90" y="533.00" font-size="8.7" textLength="66.4" lengthAdjust="spacingAndGlyphs" fill="#111" stroke="#111" stroke-width="0.15">GD2-2840z-CARTs</text><text x="80.80" y="533.00" font-size="8.7" textLength="52.4" lengthAdjust="spacingAndGlyphs" fill="#111" stroke="#111" stroke-width="0.15">GD2-CARrejTs</text><text x="156.90" y="533.00" font-size="8.7" textLength="66.4" lengthAdjust="spacingAndGlyphs" fill="#111" stroke="#111" stroke-width="0.15">GD2-2840z-CARTs</text><text x="233.80" y="533.00" font-size="8.7" textLength="52.4" lengthAdjust="spacingAndGlyphs" fill="#111" stroke="#111" stroke-width="0.15">GD2-CARrejTs</text><path d="M9.4,539.0V593.1H61.8" fill="none" stroke="#c8c8c8" stroke-width="0.9"/><text x="8.10" y="551.05" font-size="3.00" text-anchor="end" fill="#555">3</text><text x="8.10" y="564.40" font-size="3.00" text-anchor="end" fill="#555">0</text><text x="8.10" y="577.75" font-size="3.00" text-anchor="end" fill="#555">-3</text><text x="8.10" y="591.10" font-size="3.00" text-anchor="end" fill="#555">-6</text><text x="20.54" y="596.89" font-size="3.00" text-anchor="middle" fill="#555">-3</text><text x="33.80" y="596.89" font-size="3.00" text-anchor="middle" fill="#555">0</text><text x="47.06" y="596.89" font-size="3.00" text-anchor="middle" fill="#555">3</text><text x="60.32" y="596.89" font-size="3.00" text-anchor="middle" fill="#555">6</text><text x="34.68" y="601.29" font-size="3.45" text-anchor="middle" fill="#444">wnnUMAP_1</text><text transform="translate(4.40,565.00) rotate(-90)" font-size="3.15" text-anchor="middle" fill="#444">wnnUMAP_2</text><g filter="url(#spk2)"><g transform="matrix(0.0442,0,0,0.0445,33.80,563.50)"><use href="#Z_sparse" fill="#d7d7d7" fill-opacity="0.40"/><use href="#Z_goldhalo" fill="#d7d7d7" fill-opacity="0.80"/><use href="#Z_junction" fill="#d7d7d7" fill-opacity="0.75"/><use href="#Z_olivehalo" fill="#d7d7d7" fill-opacity="0.85"/><use href="#Z_gold" fill="#d7d7d7"/><use href="#Z_red" fill="#d7d7d7"/><use href="#Z_olive" fill="#d7d7d7"/><use href="#Z_oliveR" fill="#d7d7d7"/><use href="#Z_oliveB" fill="#d7d7d7"/><use href="#Z_blue" fill="#d7d7d7"/><use href="#Z_purple" fill="#d7d7d7"/></g></g><rect x="64.00" y="578.49" width="2.6" height="14.60" fill="url(#lg)"/><rect x="67.30" y="578.29" width="1.2" height="0.35" fill="#aaa"/><rect x="67.30" y="581.94" width="1.2" height="0.35" fill="#aaa"/><rect x="67.30" y="585.59" width="1.2" height="0.35" fill="#aaa"/><rect x="67.30" y="589.24" width="1.2" height="0.35" fill="#aaa"/><rect x="67.30" y="592.89" width="1.2" height="0.35" fill="#aaa"/><path d="M79.3,539.0V593.1H131.7" fill="none" stroke="#c8c8c8" stroke-width="0.9"/><text x="78.00" y="551.05" font-size="3.00" text-anchor="end" fill="#555">3</text><text x="78.00" y="564.40" font-size="3.00" text-anchor="end" fill="#555">0</text><text x="78.00" y="577.75" font-size="3.00" text-anchor="end" fill="#555">-3</text><text x="78.00" y="591.10" font-size="3.00" text-anchor="end" fill="#555">-6</text><text x="90.44" y="596.89" font-size="3.00" text-anchor="middle" fill="#555">-3</text><text x="103.70" y="596.89" font-size="3.00" text-anchor="middle" fill="#555">0</text><text x="116.96" y="596.89" font-size="3.00" text-anchor="middle" fill="#555">3</text><text x="130.22" y="596.89" font-size="3.00" text-anchor="middle" fill="#555">6</text><text x="104.58" y="601.29" font-size="3.45" text-anchor="middle" fill="#444">wnnUMAP_1</text><text transform="translate(74.30,565.00) rotate(-90)" font-size="3.15" text-anchor="middle" fill="#444">wnnUMAP_2</text><g filter="url(#spk2)"><g transform="matrix(0.0442,0,0,0.0445,103.70,563.50)"><use href="#R_redsparse" fill="#d7d7d7" fill-opacity="0.42"/><use href="#R_goldsparse" fill="#d7d7d7" fill-opacity="0.52"/><use href="#R_olivehalo" fill="#d7d7d7" fill-opacity="0.75"/><use href="#R_gold" fill="#d7d7d7"/><use href="#R_teal" fill="#d7d7d7" fill-opacity="0.95"/><use href="#R_green" fill="#d7d7d7"/><use href="#R_red" fill="#d7d7d7"/><use href="#R_olive" fill="#d7d7d7"/><use href="#R_blue" fill="#d7d7d7" fill-opacity="0.75"/><use href="#R_purple" fill="#d7d7d7"/><use href="#R_magenta" fill="#d7d7d7"/></g></g><rect x="133.90" y="578.49" width="2.6" height="14.60" fill="url(#lg)"/><rect x="137.20" y="578.29" width="1.2" height="0.35" fill="#aaa"/><rect x="137.20" y="581.94" width="1.2" height="0.35" fill="#aaa"/><rect x="137.20" y="585.59" width="1.2" height="0.35" fill="#aaa"/><rect x="137.20" y="589.24" width="1.2" height="0.35" fill="#aaa"/><rect x="137.20" y="592.89" width="1.2" height="0.35" fill="#aaa"/><path d="M160.0,539.0V593.1H212.4" fill="none" stroke="#c8c8c8" stroke-width="0.9"/><text x="158.70" y="551.05" font-size="3.00" text-anchor="end" fill="#555">3</text><text x="158.70" y="564.40" font-size="3.00" text-anchor="end" fill="#555">0</text><text x="158.70" y="577.75" font-size="3.00" text-anchor="end" fill="#555">-3</text><text x="158.70" y="591.10" font-size="3.00" text-anchor="end" fill="#555">-6</text><text x="171.14" y="596.89" font-size="3.00" text-anchor="middle" fill="#555">-3</text><text x="184.40" y="596.89" font-size="3.00" text-anchor="middle" fill="#555">0</text><text x="197.66" y="596.89" font-size="3.00" text-anchor="middle" fill="#555">3</text><text x="210.92" y="596.89" font-size="3.00" text-anchor="middle" fill="#555">6</text><text x="185.28" y="601.29" font-size="3.45" text-anchor="middle" fill="#444">wnnUMAP_1</text><text transform="translate(155.00,565.00) rotate(-90)" font-size="3.15" text-anchor="middle" fill="#444">wnnUMAP_2</text><g filter="url(#spk2)"><g transform="matrix(0.0442,0,0,0.0445,184.40,563.50)"><use href="#Z_sparse" fill="#e6c496" fill-opacity="0.40"/><use href="#Z_goldhalo" fill="#e6c496" fill-opacity="0.80"/><use href="#Z_junction" fill="#e6c496" fill-opacity="0.75"/><use href="#Z_olivehalo" fill="#dcc6a8" fill-opacity="0.85"/><use href="#Z_gold" fill="#e6c496"/><use href="#Z_red" fill="#d8d2ca"/><use href="#Z_olive" fill="#dcc6a8"/><use href="#Z_oliveR" fill="#e2b47c"/><use href="#Z_oliveB" fill="#d7d7d7"/><use href="#Z_blue" fill="#dcc6a8"/><use href="#Z_purple" fill="#dcc6a8"/></g></g><rect x="214.60" y="578.49" width="2.6" height="14.60" fill="url(#lg)"/><rect x="217.90" y="578.29" width="1.2" height="0.35" fill="#aaa"/><rect x="217.90" y="581.94" width="1.2" height="0.35" fill="#aaa"/><rect x="217.90" y="585.59" width="1.2" height="0.35" fill="#aaa"/><rect x="217.90" y="589.24" width="1.2" height="0.35" fill="#aaa"/><rect x="217.90" y="592.89" width="1.2" height="0.35" fill="#aaa"/><path d="M231.4,539.0V593.1H283.8" fill="none" stroke="#c8c8c8" stroke-width="0.9"/><text x="230.10" y="551.05" font-size="3.00" text-anchor="end" fill="#555">3</text><text x="230.10" y="564.40" font-size="3.00" text-anchor="end" fill="#555">0</text><text x="230.10" y="577.75" font-size="3.00" text-anchor="end" fill="#555">-3</text><text x="230.10" y="591.10" font-size="3.00" text-anchor="end" fill="#555">-6</text><text x="242.54" y="596.89" font-size="3.00" text-anchor="middle" fill="#555">-3</text><text x="255.80" y="596.89" font-size="3.00" text-anchor="middle" fill="#555">0</text><text x="269.06" y="596.89" font-size="3.00" text-anchor="middle" fill="#555">3</text><text x="282.32" y="596.89" font-size="3.00" text-anchor="middle" fill="#555">6</text><text x="256.68" y="601.29" font-size="3.45" text-anchor="middle" fill="#444">wnnUMAP_1</text><text transform="translate(226.40,565.00) rotate(-90)" font-size="3.15" text-anchor="middle" fill="#444">wnnUMAP_2</text><g filter="url(#spk2)"><g transform="matrix(0.0442,0,0,0.0445,255.80,563.50)"><use href="#R_redsparse" fill="#e2b47c" fill-opacity="0.42"/><use href="#R_goldsparse" fill="#e2b47c" fill-opacity="0.52"/><use href="#R_olivehalo" fill="#e0c49c" fill-opacity="0.75"/><use href="#R_gold" fill="#e2b47c"/><use href="#R_teal" fill="#eeb060" fill-opacity="0.95"/><use href="#R_green" fill="#e2b47c"/><use href="#R_red" fill="#e2b47c"/><use href="#R_olive" fill="#e0c49c"/><use href="#R_blue" fill="#e0c49c" fill-opacity="0.75"/><use href="#R_purple" fill="#e0c49c"/><use href="#R_magenta" fill="#e0c49c"/></g></g><rect x="286.00" y="578.49" width="2.6" height="14.60" fill="url(#lg)"/><rect x="289.30" y="578.29" width="1.2" height="0.35" fill="#aaa"/><rect x="289.30" y="581.94" width="1.2" height="0.35" fill="#aaa"/><rect x="289.30" y="585.59" width="1.2" height="0.35" fill="#aaa"/><rect x="289.30" y="589.24" width="1.2" height="0.35" fill="#aaa"/><rect x="289.30" y="592.89" width="1.2" height="0.35" fill="#aaa"/><path d="M8.9,608.6V665.2H61.3" fill="none" stroke="#c8c8c8" stroke-width="0.9"/><text x="7.60" y="621.12" font-size="3.00" text-anchor="end" fill="#555">3</text><text x="7.60" y="635.10" font-size="3.00" text-anchor="end" fill="#555">0</text><text x="7.60" y="649.08" font-size="3.00" text-anchor="end" fill="#555">-3</text><text x="7.60" y="663.06" font-size="3.00" text-anchor="end" fill="#555">-6</text><text x="20.04" y="668.99" font-size="3.00" text-anchor="middle" fill="#555">-3</text><text x="33.30" y="668.99" font-size="3.00" text-anchor="middle" fill="#555">0</text><text x="46.56" y="668.99" font-size="3.00" text-anchor="middle" fill="#555">3</text><text x="59.82" y="668.99" font-size="3.00" text-anchor="middle" fill="#555">6</text><text x="34.18" y="673.39" font-size="3.45" text-anchor="middle" fill="#444">wnnUMAP_1</text><text transform="translate(3.90,635.70) rotate(-90)" font-size="3.15" text-anchor="middle" fill="#444">wnnUMAP_2</text><g filter="url(#spk2)"><g transform="matrix(0.0442,0,0,0.0466,33.30,634.20)"><use href="#Z_sparse" fill="#e4c8a4" fill-opacity="0.40"/><use href="#Z_goldhalo" fill="#e4c8a4" fill-opacity="0.80"/><use href="#Z_junction" fill="#e4c8a4" fill-opacity="0.75"/><use href="#Z_olivehalo" fill="#dcc6a8" fill-opacity="0.85"/><use href="#Z_gold" fill="#e4c8a4"/><use href="#Z_red" fill="#d7d7d7"/><use href="#Z_olive" fill="#dcc6a8"/><use href="#Z_oliveR" fill="#dcc6a8"/><use href="#Z_oliveB" fill="#e6b0a0"/><use href="#Z_blue" fill="#dcc6a8"/><use href="#Z_purple" fill="#dcc6a8"/></g></g><rect x="63.50" y="649.90" width="2.6" height="15.29" fill="url(#lg)"/><rect x="66.80" y="649.70" width="1.2" height="0.35" fill="#aaa"/><rect x="66.80" y="653.52" width="1.2" height="0.35" fill="#aaa"/><rect x="66.80" y="657.35" width="1.2" height="0.35" fill="#aaa"/><rect x="66.80" y="661.17" width="1.2" height="0.35" fill="#aaa"/><rect x="66.80" y="664.99" width="1.2" height="0.35" fill="#aaa"/><path d="M79.3,608.6V665.2H131.7" fill="none" stroke="#c8c8c8" stroke-width="0.9"/><text x="78.00" y="621.12" font-size="3.00" text-anchor="end" fill="#555">3</text><text x="78.00" y="635.10" font-size="3.00" text-anchor="end" fill="#555">0</text><text x="78.00" y="649.08" font-size="3.00" text-anchor="end" fill="#555">-3</text><text x="78.00" y="663.06" font-size="3.00" text-anchor="end" fill="#555">-6</text><text x="90.44" y="668.99" font-size="3.00" text-anchor="middle" fill="#555">-3</text><text x="103.70" y="668.99" font-size="3.00" text-anchor="middle" fill="#555">0</text><text x="116.96" y="668.99" font-size="3.00" text-anchor="middle" fill="#555">3</text><text x="130.22" y="668.99" font-size="3.00" text-anchor="middle" fill="#555">6</text><text x="104.58" y="673.39" font-size="3.45" text-anchor="middle" fill="#444">wnnUMAP_1</text><text transform="translate(74.30,635.70) rotate(-90)" font-size="3.15" text-anchor="middle" fill="#444">wnnUMAP_2</text><g filter="url(#spk2)"><g transform="matrix(0.0442,0,0,0.0466,103.70,634.20)"><use href="#R_redsparse" fill="#d7d7d7" fill-opacity="0.42"/><use href="#R_goldsparse" fill="#d7d7d7" fill-opacity="0.52"/><use href="#R_olivehalo" fill="#d7d7d7" fill-opacity="0.75"/><use href="#R_gold" fill="#d7d7d7"/><use href="#R_teal" fill="#d7d7d7" fill-opacity="0.95"/><use href="#R_green" fill="#d7d7d7"/><use href="#R_red" fill="#d7d7d7"/><use href="#R_olive" fill="#d7d7d7"/><use href="#R_blue" fill="#d7d7d7" fill-opacity="0.75"/><use href="#R_purple" fill="#d7d7d7"/><use href="#R_magenta" fill="#d7d7d7"/></g></g><rect x="133.90" y="649.90" width="2.6" height="15.29" fill="url(#lg)"/><rect x="137.20" y="649.70" width="1.2" height="0.35" fill="#aaa"/><rect x="137.20" y="653.52" width="1.2" height="0.35" fill="#aaa"/><rect x="137.20" y="657.35" width="1.2" height="0.35" fill="#aaa"/><rect x="137.20" y="661.17" width="1.2" height="0.35" fill="#aaa"/><rect x="137.20" y="664.99" width="1.2" height="0.35" fill="#aaa"/><path d="M160.0,608.6V665.2H212.4" fill="none" stroke="#c8c8c8" stroke-width="0.9"/><text x="158.70" y="621.12" font-size="3.00" text-anchor="end" fill="#555">3</text><text x="158.70" y="635.10" font-size="3.00" text-anchor="end" fill="#555">0</text><text x="158.70" y="649.08" font-size="3.00" text-anchor="end" fill="#555">-3</text><text x="158.70" y="663.06" font-size="3.00" text-anchor="end" fill="#555">-6</text><text x="171.14" y="668.99" font-size="3.00" text-anchor="middle" fill="#555">-3</text><text x="184.40" y="668.99" font-size="3.00" text-anchor="middle" fill="#555">0</text><text x="197.66" y="668.99" font-size="3.00" text-anchor="middle" fill="#555">3</text><text x="210.92" y="668.99" font-size="3.00" text-anchor="middle" fill="#555">6</text><text x="185.28" y="673.39" font-size="3.45" text-anchor="middle" fill="#444">wnnUMAP_1</text><text transform="translate(155.00,635.70) rotate(-90)" font-size="3.15" text-anchor="middle" fill="#444">wnnUMAP_2</text><g filter="url(#spk2)"><g transform="matrix(0.0442,0,0,0.0466,184.40,634.20)"><use href="#Z_sparse" fill="#e2b47c" fill-opacity="0.40"/><use href="#Z_goldhalo" fill="#e2b47c" fill-opacity="0.80"/><use href="#Z_junction" fill="#e2b47c" fill-opacity="0.75"/><use href="#Z_olivehalo" fill="#dcc6a8" fill-opacity="0.85"/><use href="#Z_gold" fill="#e2b47c"/><use href="#Z_red" fill="#dcc6a8"/><use href="#Z_olive" fill="#dcc6a8"/><use href="#Z_oliveR" fill="#e2b47c"/><use href="#Z_oliveB" fill="#e6b0a0"/><use href="#Z_blue" fill="#dcc6a8"/><use href="#Z_purple" fill="#dcc6a8"/></g></g><rect x="214.60" y="649.90" width="2.6" height="15.29" fill="url(#lg)"/><rect x="217.90" y="649.70" width="1.2" height="0.35" fill="#aaa"/><rect x="217.90" y="653.52" width="1.2" height="0.35" fill="#aaa"/><rect x="217.90" y="657.35" width="1.2" height="0.35" fill="#aaa"/><rect x="217.90" y="661.17" width="1.2" height="0.35" fill="#aaa"/><rect x="217.90" y="664.99" width="1.2" height="0.35" fill="#aaa"/><path d="M231.4,608.6V665.2H283.8" fill="none" stroke="#c8c8c8" stroke-width="0.9"/><text x="230.10" y="621.12" font-size="3.00" text-anchor="end" fill="#555">3</text><text x="230.10" y="635.10" font-size="3.00" text-anchor="end" fill="#555">0</text><text x="230.10" y="649.08" font-size="3.00" text-anchor="end" fill="#555">-3</text><text x="230.10" y="663.06" font-size="3.00" text-anchor="end" fill="#555">-6</text><text x="242.54" y="668.99" font-size="3.00" text-anchor="middle" fill="#555">-3</text><text x="255.80" y="668.99" font-size="3.00" text-anchor="middle" fill="#555">0</text><text x="269.06" y="668.99" font-size="3.00" text-anchor="middle" fill="#555">3</text><text x="282.32" y="668.99" font-size="3.00" text-anchor="middle" fill="#555">6</text><text x="256.68" y="673.39" font-size="3.45" text-anchor="middle" fill="#444">wnnUMAP_1</text><text transform="translate(226.40,635.70) rotate(-90)" font-size="3.15" text-anchor="middle" fill="#444">wnnUMAP_2</text><g filter="url(#spk2)"><g transform="matrix(0.0442,0,0,0.0466,255.80,634.20)"><use href="#R_redsparse" fill="#d7d7d7" fill-opacity="0.42"/><use href="#R_goldsparse" fill="#d7d7d7" fill-opacity="0.52"/><use href="#R_olivehalo" fill="#d7d7d7" fill-opacity="0.75"/><use href="#R_gold" fill="#d7d7d7"/><use href="#R_teal" fill="#d7d7d7" fill-opacity="0.95"/><use href="#R_green" fill="#d7d7d7"/><use href="#R_red" fill="#d7d7d7"/><use href="#R_olive" fill="#d7d7d7"/><use href="#R_blue" fill="#d7d7d7" fill-opacity="0.75"/><use href="#R_purple" fill="#d7d7d7"/><use href="#R_magenta" fill="#d7d7d7"/></g></g><rect x="286.00" y="649.90" width="2.6" height="15.29" fill="url(#lg)"/><rect x="289.30" y="649.70" width="1.2" height="0.35" fill="#aaa"/><rect x="289.30" y="653.52" width="1.2" height="0.35" fill="#aaa"/><rect x="289.30" y="657.35" width="1.2" height="0.35" fill="#aaa"/><rect x="289.30" y="661.17" width="1.2" height="0.35" fill="#aaa"/><rect x="289.30" y="664.99" width="1.2" height="0.35" fill="#aaa"/><text transform="translate(132.00,541.00) rotate(90)" font-size="11.0" font-style="italic" textLength="34.8" lengthAdjust="spacingAndGlyphs" fill="#111">PDCD1</text><text transform="translate(287.70,537.00) rotate(90)" font-size="11.0" font-style="italic" textLength="44.5" lengthAdjust="spacingAndGlyphs" fill="#111">HAVCR2</text><text transform="translate(132.60,621.40) rotate(90)" font-size="11.0" font-style="italic" textLength="24.9" lengthAdjust="spacingAndGlyphs" fill="#111">LAG3</text><text transform="translate(286.60,621.80) rotate(90)" font-size="11.0" font-style="italic" textLength="24.9" lengthAdjust="spacingAndGlyphs" fill="#111">TIGIT</text><rect x="349.0" y="429.80" width="141.0" height="235.18" fill="#100810"/><g shape-rendering="crispEdges"><path fill="#0a000a" d="M360.0 450.43h1.0v4.13h-1.0zm23.0 0h1.0v4.13h-1.0zm21.0 0h1.0v4.13h-1.0zm7.0 0h1.0v4.13h-1.0zm6.0 0h1.0v4.13h-1.0zm4.0 0h1.0v4.13h-1.0zm11.5 0h1.0v4.13h-1.0zm2.0 0h2.0v4.13h-2.0zm3.0 0h1.0v4.13h-1.0zm4.0 0h4.0v4.13h-4.0zm5.0 0h5.0v4.13h-5.0zm6.0 0h1.0v4.13h-1.0zm2.0 0h1.0v4.13h-1.0zm7.0 0h1.0v4.13h-1.0zm3.0 0h1.0v4.13h-1.0zm6.0 0h1.0v4.13h-1.0zm3.0 0h3.0v4.13h-3.0zm8.0 0h2.0v4.13h-2.0zm3.0 0h2.0v4.13h-2.0zm3.0 0h1.0v4.13h-1.0zM352.0 495.82h1.0v4.13h-1.0zm2.0 0h1.0v4.13h-1.0zm2.0 0h1.0v4.13h-1.0zm9.0 0h1.0v4.13h-1.0zm2.0 0h1.0v4.13h-1.0zm5.0 0h1.0v4.13h-1.0zm3.0 0h1.0v4.13h-1.0zm3.0 0h1.0v4.13h-1.0zm4.0 0h1.0v4.13h-1.0zm2.0 0h1.0v4.13h-1.0zm2.0 0h1.0v4.13h-1.0zm3.0 0h3.0v4.13h-3.0zm8.0 0h1.0v4.13h-1.0zm5.0 0h1.0v4.13h-1.0zm6.0 0h1.0v4.13h-1.0zm2.0 0h2.0v4.13h-2.0zm7.0 0h1.0v4.13h-1.0zm4.0 0h2.0v4.13h-2.0zm6.0 0h1.0v4.13h-1.0zm5.5 0h1.0v4.13h-1.0zm5.0 0h1.0v4.13h-1.0zm3.0 0h3.0v4.13h-3.0zm4.0 0h1.0v4.13h-1.0zm2.0 0h1.0v4.13h-1.0zm3.0 0h1.0v4.13h-1.0zm3.0 0h3.0v4.13h-3.0zm5.0 0h5.0v4.13h-5.0zm6.0 0h2.0v4.13h-2.0zm4.0 0h3.0v4.13h-3.0zm10.0 0h2.0v4.13h-2.0zm3.0 0h3.0v4.13h-3.0zm4.0 0h1.0v4.13h-1.0zm4.0 0h1.0v4.13h-1.0zM446.5 508.19h2.0v4.13h-2.0zm4.0 0h1.0v4.13h-1.0zm6.0 0h1.0v4.13h-1.0zm3.0 0h1.0v4.13h-1.0zm5.0 0h1.0v4.13h-1.0zm3.0 0h1.0v4.13h-1.0zM349.0 512.32h3.0v4.13h-3.0zm7.0 0h1.0v4.13h-1.0zm19.0 0h1.0v4.13h-1.0zm6.0 0h2.0v4.13h-2.0zm3.0 0h1.0v4.13h-1.0zm26.0 0h1.0v4.13h-1.0zm2.0 0h2.0v4.13h-2.0zm23.5 0h1.0v4.13h-1.0zm3.0 0h1.0v4.13h-1.0zm3.0 0h1.0v4.13h-1.0zm5.0 0h2.0v4.13h-2.0zm4.0 0h1.0v4.13h-1.0zm4.0 0h2.0v4.13h-2.0zm9.0 0h3.0v4.13h-3.0zm4.0 0h1.0v4.13h-1.0zm3.0 0h1.0v4.13h-1.0zm8.0 0h1.0v4.13h-1.0zm11.0 0h0.5v4.13h-0.5zM349.0 520.57h1.0v4.13h-1.0zm7.0 0h1.0v4.13h-1.0zm7.0 0h1.0v4.13h-1.0zm12.0 0h1.0v4.13h-1.0zm5.0 0h1.0v4.13h-1.0zm6.0 0h1.0v4.13h-1.0zm16.0 0h1.0v4.13h-1.0zm6.0 0h1.0v4.13h-1.0zm9.0 0h1.0v4.13h-1.0zm3.0 0h2.0v4.13h-2.0zm12.5 0h3.0v4.13h-3.0zm5.0 0h1.0v4.13h-1.0zm3.0 0h2.0v4.13h-2.0zm4.0 0h3.0v4.13h-3.0zm4.0 0h1.0v4.13h-1.0zm2.0 0h2.0v4.13h-2.0zm5.0 0h2.0v4.13h-2.0zm4.0 0h1.0v4.13h-1.0zm5.0 0h2.0v4.13h-2.0zm4.0 0h1.0v4.13h-1.0zm5.0 0h2.0v4.13h-2.0zm4.0 0h1.0v4.13h-1.0zm3.0 0h2.0v4.13h-2.0zm3.0 0h1.0v4.13h-1.0zm2.0 0h2.0v4.13h-2.0zm3.0 0h1.5v4.13h-1.5zM349.0 636.10h1.0v4.13h-1.0zm4.0 0h1.0v4.13h-1.0zm7.0 0h1.0v4.13h-1.0zm3.0 0h2.0v4.13h-2.0zm4.0 0h1.0v4.13h-1.0zm3.0 0h3.0v4.13h-3.0zm7.0 0h1.0v4.13h-1.0zm3.0 0h2.0v4.13h-2.0zm3.0 0h1.0v4.13h-1.0zm2.0 0h1.0v4.13h-1.0zm2.0 0h5.0v4.13h-5.0zm11.0 0h2.0v4.13h-2.0zm6.0 0h1.0v4.13h-1.0zm4.0 0h1.0v4.13h-1.0zm3.0 0h3.0v4.13h-3.0zm5.0 0h1.0v4.13h-1.0zm4.0 0h1.0v4.13h-1.0zm3.0 0h1.0v4.13h-1.0zm6.0 0h1.0v4.13h-1.0zm5.5 0h4.0v4.13h-4.0zm6.0 0h2.0v4.13h-2.0zm4.0 0h2.0v4.13h-2.0zm4.0 0h1.0v4.13h-1.0zm2.0 0h1.0v4.13h-1.0zm3.0 0h4.0v4.13h-4.0zm5.0 0h7.0v4.13h-7.0zm10.0 0h3.0v4.13h-3.0zm4.0 0h2.0v4.13h-2.0zm3.0 0h4.0v4.13h-4.0zm5.0 0h2.0v4.13h-2.0zm3.0 0h2.0v4.13h-2.0zm3.0 0h2.0v4.13h-2.0zm3.0 0h0.5v4.13h-0.5z"/><path fill="#0a0a00" d="M380.0 495.82h1.0v4.13h-1.0zM470.5 508.19h1.0v4.13h-1.0zM409.0 512.32h1.0v4.13h-1.0zm7.0 0h1.0v4.13h-1.0zM471.5 520.57h1.0v4.13h-1.0z"/><path fill="#0a0a0a" d="M349.0 450.43h2.0v4.13h-2.0zm4.0 0h1.0v4.13h-1.0zm2.0 0h1.0v4.13h-1.0zm2.0 0h2.0v4.13h-2.0zm4.0 0h2.0v4.13h-2.0zm3.0 0h1.0v4.13h-1.0zm2.0 0h1.0v4.13h-1.0zm4.0 0h1.0v4.13h-1.0zm5.0 0h1.0v4.13h-1.0zm2.0 0h1.0v4.13h-1.0zm7.0 0h2.0v4.13h-2.0zm5.0 0h1.0v4.13h-1.0zm2.0 0h1.0v4.13h-1.0zm5.0 0h1.0v4.13h-1.0zm6.0 0h2.0v4.13h-2.0zm4.0 0h1.0v4.13h-1.0zm2.0 0h1.0v4.13h-1.0zm5.0 0h1.0v4.13h-1.0zm2.0 0h1.0v4.13h-1.0zm3.0 0h3.0v4.13h-3.0zm7.0 0h1.0v4.13h-1.0zm8.5 0h1.0v4.13h-1.0zm3.0 0h1.0v4.13h-1.0zm2.0 0h3.0v4.13h-3.0zm7.0 0h1.0v4.13h-1.0zm6.0 0h1.0v4.13h-1.0zm2.0 0h1.0v4.13h-1.0zm2.0 0h6.0v4.13h-6.0zm7.0 0h2.0v4.13h-2.0zm3.0 0h5.0v4.13h-5.0zm6.0 0h2.0v4.13h-2.0zm5.0 0h5.0v4.13h-5.0zm7.0 0h1.0v4.13h-1.0zm3.0 0h1.0v4.13h-1.0zm2.0 0h1.5v4.13h-1.5zM350.0 495.82h1.0v4.13h-1.0zm5.0 0h1.0v4.13h-1.0zm3.0 0h2.0v4.13h-2.0zm3.0 0h4.0v4.13h-4.0zm7.0 0h4.0v4.13h-4.0zm5.0 0h2.0v4.13h-2.0zm3.0 0h1.0v4.13h-1.0zm3.0 0h1.0v4.13h-1.0zm2.0 0h1.0v4.13h-1.0zm2.0 0h1.0v4.13h-1.0zm2.0 0h1.0v4.13h-1.0zm2.0 0h2.0v4.13h-2.0zm5.0 0h2.0v4.13h-2.0zm3.0 0h2.0v4.13h-2.0zm3.0 0h1.0v4.13h-1.0zm2.0 0h2.0v4.13h-2.0zm3.0 0h1.0v4.13h-1.0zm2.0 0h1.0v4.13h-1.0zm2.0 0h1.0v4.13h-1.0zm2.0 0h1.0v4.13h-1.0zm4.0 0h1.0v4.13h-1.0zm3.0 0h1.0v4.13h-1.0zm2.0 0h1.0v4.13h-1.0zm2.0 0h1.0v4.13h-1.0zm3.0 0h4.0v4.13h-4.0zm5.0 0h3.7v4.13h-3.7zm5.5 0h4.0v4.13h-4.0zm5.0 0h2.0v4.13h-2.0zm5.0 0h1.0v4.13h-1.0zm2.0 0h1.0v4.13h-1.0zm2.0 0h2.0v4.13h-2.0zm3.0 0h2.0v4.13h-2.0zm5.0 0h2.0v4.13h-2.0zm7.0 0h1.0v4.13h-1.0zm3.0 0h2.0v4.13h-2.0zm5.0 0h7.0v4.13h-7.0zm9.0 0h1.0v4.13h-1.0zm4.0 0h1.0v4.13h-1.0zm2.0 0h3.0v4.13h-3.0zm4.0 0h0.5v4.13h-0.5zM434.5 508.19h1.0v4.13h-1.0zm3.0 0h2.0v4.13h-2.0zm5.0 0h4.0v4.13h-4.0zm6.0 0h2.0v4.13h-2.0zm3.0 0h5.0v4.13h-5.0zm6.0 0h2.0v4.13h-2.0zm3.0 0h1.0v4.13h-1.0zm3.0 0h1.0v4.13h-1.0zm3.0 0h1.0v4.13h-1.0zm2.0 0h2.0v4.13h-2.0zm3.0 0h3.0v4.13h-3.0zm4.0 0h1.0v4.13h-1.0zm2.0 0h5.0v4.13h-5.0zm8.0 0h1.0v4.13h-1.0zm2.0 0h2.5v4.13h-2.5zM352.0 512.32h1.0v4.13h-1.0zm13.0 0h1.0v4.13h-1.0zm2.0 0h1.0v4.13h-1.0zm3.0 0h1.0v4.13h-1.0zm4.0 0h1.0v4.13h-1.0zm3.0 0h1.0v4.13h-1.0zm8.0 0h1.0v4.13h-1.0zm2.0 0h1.0v4.13h-1.0zm2.0 0h1.0v4.13h-1.0zm5.0 0h1.0v4.13h-1.0zm8.0 0h1.0v4.13h-1.0zm9.0 0h1.0v4.13h-1.0zm3.0 0h1.0v4.13h-1.0zm7.0 0h2.0v4.13h-2.0zm4.0 0h1.0v4.13h-1.0zm7.5 0h3.0v4.13h-3.0zm4.0 0h2.0v4.13h-2.0zm3.0 0h2.0v4.13h-2.0zm3.0 0h1.0v4.13h-1.0zm2.0 0h1.0v4.13h-1.0zm4.0 0h2.0v4.13h-2.0zm3.0 0h3.0v4.13h-3.0zm6.0 0h1.0v4.13h-1.0zm3.0 0h1.0v4.13h-1.0zm2.0 0h1.0v4.13h-1.0zm4.0 0h1.0v4.13h-1.0zm2.0 0h1.0v4.13h-1.0zm3.0 0h1.0v4.13h-1.0zm2.0 0h4.0v4.13h-4.0zm6.0 0h9.0v4.13h-9.0zM351.0 520.57h1.0v4.13h-1.0zm3.0 0h1.0v4.13h-1.0zm3.0 0h1.0v4.13h-1.0zm8.0 0h3.0v4.13h-3.0zm7.0 0h2.0v4.13h-2.0zm5.0 0h1.0v4.13h-1.0zm2.0 0h1.0v4.13h-1.0zm2.0 0h3.0v4.13h-3.0zm4.0 0h1.0v4.13h-1.0zm4.0 0h1.0v4.13h-1.0zm5.0 0h1.0v4.13h-1.0zm3.0 0h1.0v4.13h-1.0zm2.0 0h3.0v4.13h-3.0zm4.0 0h1.0v4.13h-1.0zm2.0 0h2.0v4.13h-2.0zm4.0 0h1.0v4.13h-1.0zm2.0 0h4.0v4.13h-4.0zm5.0 0h1.0v4.13h-1.0zm2.0 0h2.0v4.13h-2.0zm7.0 0h1.0v4.13h-1.0zm2.0 0h2.0v4.13h-2.0zm8.5 0h2.0v4.13h-2.0zm3.0 0h2.0v4.13h-2.0zm4.0 0h2.0v4.13h-2.0zm5.0 0h1.0v4.13h-1.0zm2.0 0h1.0v4.13h-1.0zm3.0 0h3.0v4.13h-3.0zm5.0 0h2.0v4.13h-2.0zm3.0 0h4.0v4.13h-4.0zm6.0 0h2.0v4.13h-2.0zm3.0 0h2.0v4.13h-2.0zm3.0 0h1.0v4.13h-1.0zm3.0 0h2.0v4.13h-2.0zm3.0 0h2.0v4.13h-2.0zm4.0 0h1.0v4.13h-1.0zm2.0 0h1.0v4.13h-1.0zm3.0 0h1.0v4.13h-1.0zM350.0 636.10h1.0v4.13h-1.0zm4.0 0h3.0v4.13h-3.0zm5.0 0h1.0v4.13h-1.0zm3.0 0h1.0v4.13h-1.0zm3.0 0h2.0v4.13h-2.0zm3.0 0h1.0v4.13h-1.0zm7.0 0h2.0v4.13h-2.0zm3.0 0h2.0v4.13h-2.0zm6.0 0h1.0v4.13h-1.0zm9.0 0h1.0v4.13h-1.0zm3.0 0h2.0v4.13h-2.0zm4.0 0h2.0v4.13h-2.0zm3.0 0h1.0v4.13h-1.0zm2.0 0h2.0v4.13h-2.0zm4.0 0h2.0v4.13h-2.0zm5.0 0h2.0v4.13h-2.0zm3.0 0h3.0v4.13h-3.0zm4.0 0h2.0v4.13h-2.0zm3.0 0h4.0v4.13h-4.0zm6.0 0h1.0v4.13h-1.0zm2.5 0h2.0v4.13h-2.0zm6.0 0h2.0v4.13h-2.0zm4.0 0h2.0v4.13h-2.0zm4.0 0h2.0v4.13h-2.0zm3.0 0h1.0v4.13h-1.0zm2.0 0h2.0v4.13h-2.0zm6.0 0h1.0v4.13h-1.0zm8.0 0h3.0v4.13h-3.0zm6.0 0h1.0v4.13h-1.0zm3.0 0h1.0v4.13h-1.0zm5.0 0h1.0v4.13h-1.0zm3.0 0h1.0v4.13h-1.0zm3.0 0h1.0v4.13h-1.0zm3.0 0h1.0v4.13h-1.0zM350.0 652.60h1.0v4.13h-1.0zm4.0 0h3.0v4.13h-3.0zm4.0 0h1.0v4.13h-1.0zm3.0 0h1.0v4.13h-1.0zm5.0 0h1.0v4.13h-1.0zm4.0 0h1.0v4.13h-1.0zm4.0 0h1.0v4.13h-1.0zm2.0 0h2.0v4.13h-2.0zm10.0 0h2.0v4.13h-2.0zm7.0 0h1.0v4.13h-1.0zm12.0 0h1.0v4.13h-1.0zm4.0 0h1.0v4.13h-1.0zm6.0 0h1.0v4.13h-1.0zm4.0 0h1.0v4.13h-1.0zm3.0 0h2.0v4.13h-2.0zm3.0 0h1.0v4.13h-1.0zm2.0 0h1.0v4.13h-1.0zm2.0 0h2.0v4.13h-2.0z"/><path fill="#0a0a14" d="M354.0 450.43h1.0v4.13h-1.0zm5.0 0h1.0v4.13h-1.0zm39.0 0h1.0v4.13h-1.0zm9.0 0h1.0v4.13h-1.0zm2.0 0h1.0v4.13h-1.0zM349.0 495.82h1.0v4.13h-1.0zm11.0 0h1.0v4.13h-1.0zm17.0 0h1.0v4.13h-1.0zm37.0 0h2.0v4.13h-2.0zM435.5 508.19h1.0v4.13h-1.0zm6.0 0h1.0v4.13h-1.0zm20.0 0h1.0v4.13h-1.0zm22.0 0h1.0v4.13h-1.0zM360.0 512.32h1.0v4.13h-1.0zm2.0 0h1.0v4.13h-1.0zm126.5 0h1.0v4.13h-1.0zM371.0 520.57h1.0v4.13h-1.0zm20.0 0h1.0v4.13h-1.0zm31.0 0h1.0v4.13h-1.0zm4.0 0h1.0v4.13h-1.0zM361.0 636.10h1.0v4.13h-1.0zm8.0 0h1.0v4.13h-1.0zm17.0 0h1.0v4.13h-1.0zm45.0 0h0.7v4.13h-0.7zM349.0 652.60h1.0v4.13h-1.0zm16.0 0h1.0v4.13h-1.0zm4.0 0h1.0v4.13h-1.0zm20.0 0h1.0v4.13h-1.0zm12.0 0h1.0v4.13h-1.0zm5.0 0h1.0v4.13h-1.0z"/><path fill="#140a0a" d="M387.0 450.43h1.0v4.13h-1.0zm12.0 0h1.0v4.13h-1.0zM390.0 512.32h1.0v4.13h-1.0zm5.0 0h1.0v4.13h-1.0zm13.0 0h1.0v4.13h-1.0zM361.0 520.57h1.0v4.13h-1.0zM399.0 652.60h1.0v4.13h-1.0z"/><path fill="#140a14" d="M351.0 450.43h2.0v4.13h-2.0zm5.0 0h1.0v4.13h-1.0zm7.0 0h1.0v4.13h-1.0zm4.0 0h3.0v4.13h-3.0zm4.0 0h4.0v4.13h-4.0zm5.0 0h1.0v4.13h-1.0zm2.0 0h5.0v4.13h-5.0zm8.0 0h1.0v4.13h-1.0zm2.0 0h1.0v4.13h-1.0zm2.0 0h1.0v4.13h-1.0zm2.0 0h4.0v4.13h-4.0zm5.0 0h1.0v4.13h-1.0zm3.0 0h2.0v4.13h-2.0zm5.0 0h1.0v4.13h-1.0zm5.0 0h1.0v4.13h-1.0zm2.0 0h1.0v4.13h-1.0zm2.0 0h1.0v4.13h-1.0zm2.0 0h1.0v4.13h-1.0zm7.0 0h2.0v4.13h-2.0zm3.0 0h4.0v4.13h-4.0zm5.0 0h0.7v4.13h-0.7zM436.5 462.81h1.0v4.13h-1.0zm13.0 0h1.0v4.13h-1.0zm5.0 0h1.0v4.13h-1.0zm13.0 0h1.0v4.13h-1.0zm8.0 0h1.0v4.13h-1.0zm2.0 0h1.0v4.13h-1.0zm4.0 0h2.0v4.13h-2.0zm3.0 0h1.0v4.13h-1.0zm5.0 0h0.5v4.13h-0.5zM353.0 495.82h1.0v4.13h-1.0zm4.0 0h1.0v4.13h-1.0zm9.0 0h1.0v4.13h-1.0zm28.0 0h1.0v4.13h-1.0zm5.0 0h1.0v4.13h-1.0zm5.0 0h1.0v4.13h-1.0zm2.0 0h1.0v4.13h-1.0zm6.0 0h1.0v4.13h-1.0zm7.0 0h1.0v4.13h-1.0zM350.0 508.19h1.0v4.13h-1.0zm10.0 0h1.0v4.13h-1.0zm2.0 0h1.0v4.13h-1.0zm4.0 0h1.0v4.13h-1.0zm5.0 0h1.0v4.13h-1.0zm6.0 0h1.0v4.13h-1.0zm5.0 0h1.0v4.13h-1.0zm8.0 0h1.0v4.13h-1.0zm13.0 0h1.0v4.13h-1.0zm2.0 0h4.0v4.13h-4.0zm5.0 0h2.0v4.13h-2.0zm11.0 0h1.0v4.13h-1.0zm3.0 0h1.0v4.13h-1.0zm4.0 0h1.0v4.13h-1.0zm4.5 0h2.0v4.13h-2.0zm4.0 0h1.0v4.13h-1.0zm3.0 0h2.0v4.13h-2.0zm23.0 0h1.0v4.13h-1.0zm12.0 0h1.0v4.13h-1.0zm2.0 0h1.0v4.13h-1.0zm6.0 0h1.0v4.13h-1.0zm2.0 0h1.0v4.13h-1.0zm2.0 0h1.0v4.13h-1.0zM358.0 512.32h1.0v4.13h-1.0zm5.0 0h2.0v4.13h-2.0zm3.0 0h1.0v4.13h-1.0zm2.0 0h1.0v4.13h-1.0zm3.0 0h2.0v4.13h-2.0zm9.0 0h1.0v4.13h-1.0zm3.0 0h1.0v4.13h-1.0zm3.0 0h1.0v4.13h-1.0zm6.0 0h2.0v4.13h-2.0zm6.0 0h1.0v4.13h-1.0zm2.0 0h1.0v4.13h-1.0zm3.0 0h2.0v4.13h-2.0zm3.0 0h1.0v4.13h-1.0zm11.0 0h1.0v4.13h-1.0zm6.0 0h2.0v4.13h-2.0zm3.0 0h1.0v4.13h-1.0zm2.0 0h2.0v4.13h-2.0zm3.0 0h0.7v4.13h-0.7zm12.5 0h1.0v4.13h-1.0zm2.0 0h1.0v4.13h-1.0zm11.0 0h1.0v4.13h-1.0zm2.0 0h2.0v4.13h-2.0zm3.0 0h1.0v4.13h-1.0zm8.0 0h1.0v4.13h-1.0zm8.0 0h1.0v4.13h-1.0zM350.0 520.57h1.0v4.13h-1.0zm3.0 0h1.0v4.13h-1.0zm2.0 0h1.0v4.13h-1.0zm3.0 0h3.0v4.13h-3.0zm4.0 0h1.0v4.13h-1.0zm2.0 0h1.0v4.13h-1.0zm4.0 0h3.0v4.13h-3.0zm6.0 0h1.0v4.13h-1.0zm2.0 0h1.0v4.13h-1.0zm2.0 0h1.0v4.13h-1.0zm6.0 0h1.0v4.13h-1.0zm3.0 0h2.0v4.13h-2.0zm3.0 0h1.0v4.13h-1.0zm2.0 0h2.0v4.13h-2.0zm3.0 0h2.0v4.13h-2.0zm3.0 0h1.0v4.13h-1.0zm6.0 0h1.0v4.13h-1.0zm6.0 0h1.0v4.13h-1.0zm5.0 0h1.0v4.13h-1.0zm8.0 0h2.0v4.13h-2.0zm6.0 0h2.7v4.13h-2.7zM354.0 557.71h1.0v4.13h-1.0zm4.0 0h1.0v4.13h-1.0zm5.0 0h4.0v4.13h-4.0zm5.0 0h1.0v4.13h-1.0zm7.0 0h1.0v4.13h-1.0zm5.0 0h1.0v4.13h-1.0zm3.0 0h2.0v4.13h-2.0zm10.0 0h1.0v4.13h-1.0zm10.0 0h1.0v4.13h-1.0zm2.0 0h1.0v4.13h-1.0zm3.0 0h1.0v4.13h-1.0zm14.0 0h1.0v4.13h-1.0zm5.0 0h1.0v4.13h-1.0zm6.5 0h1.0v4.13h-1.0zm4.0 0h4.0v4.13h-4.0zm5.0 0h1.0v4.13h-1.0zm4.0 0h1.0v4.13h-1.0zm2.0 0h1.0v4.13h-1.0zm2.0 0h1.0v4.13h-1.0zm3.0 0h1.0v4.13h-1.0zm2.0 0h1.0v4.13h-1.0zm2.0 0h1.0v4.13h-1.0zm3.0 0h2.0v4.13h-2.0zm4.0 0h2.0v4.13h-2.0zm8.0 0h1.0v4.13h-1.0zm2.0 0h1.0v4.13h-1.0zm11.0 0h3.0v4.13h-3.0zM351.0 636.10h2.0v4.13h-2.0zm6.0 0h2.0v4.13h-2.0zm16.0 0h1.0v4.13h-1.0zm9.0 0h1.0v4.13h-1.0zm10.0 0h1.0v4.13h-1.0zm2.0 0h2.0v4.13h-2.0zm8.0 0h1.0v4.13h-1.0zm5.0 0h1.0v4.13h-1.0zm21.0 0h1.0v4.13h-1.0zM352.0 652.60h2.0v4.13h-2.0zm5.0 0h1.0v4.13h-1.0zm2.0 0h2.0v4.13h-2.0zm4.0 0h2.0v4.13h-2.0zm4.0 0h1.0v4.13h-1.0zm4.0 0h1.0v4.13h-1.0zm2.0 0h1.0v4.13h-1.0zm2.0 0h1.0v4.13h-1.0zm3.0 0h1.0v4.13h-1.0zm2.0 0h2.0v4.13h-2.0zm3.0 0h2.0v4.13h-2.0zm7.0 0h3.0v4.13h-3.0zm8.0 0h1.0v4.13h-1.0zm6.0 0h1.0v4.13h-1.0zm3.0 0h2.0v4.13h-2.0zm4.0 0h4.0v4.13h-4.0zm6.0 0h2.0v4.13h-2.0zm3.0 0h2.0v4.13h-2.0zm4.0 0h1.0v4.13h-1.0zm2.0 0h1.0v4.13h-1.0zm2.0 0h1.0v4.13h-1.0zm3.0 0h0.7v4.13h-0.7z"/><path fill="#140a1e" d="M441.5 462.81h1.0v4.13h-1.0zM356.0 508.19h2.0v4.13h-2.0zm11.0 0h1.0v4.13h-1.0zm52.0 0h1.0v4.13h-1.0zM374.0 557.71h1.0v4.13h-1.0zm4.0 0h1.0v4.13h-1.0zm12.0 0h1.0v4.13h-1.0zm7.0 0h1.0v4.13h-1.0zm14.0 0h1.0v4.13h-1.0zm43.5 0h1.0v4.13h-1.0zm30.0 0h1.0v4.13h-1.0zM452.5 652.60h1.0v4.13h-1.0zm15.0 0h2.0v4.13h-2.0z"/><path fill="#14140a" d="M365.0 450.43h1.0v4.13h-1.0zm57.0 0h1.0v4.13h-1.0zm8.0 0h1.0v4.13h-1.0zM351.0 495.82h1.0v4.13h-1.0zM351.0 508.19h1.0v4.13h-1.0zm10.0 0h1.0v4.13h-1.0zm4.0 0h1.0v4.13h-1.0zm16.0 0h1.0v4.13h-1.0zm10.0 0h1.0v4.13h-1.0zm7.0 0h1.0v4.13h-1.0zm6.0 0h1.0v4.13h-1.0zm5.0 0h1.0v4.13h-1.0zm3.0 0h1.0v4.13h-1.0zm2.0 0h3.0v4.13h-3.0zm4.0 0h1.0v4.13h-1.0zm4.0 0h1.0v4.13h-1.0zm3.0 0h1.0v4.13h-1.0zm5.0 0h1.0v4.13h-1.0zm35.5 0h1.0v4.13h-1.0zM353.0 512.32h3.0v4.13h-3.0zm4.0 0h1.0v4.13h-1.0zm2.0 0h1.0v4.13h-1.0zm2.0 0h1.0v4.13h-1.0zm8.0 0h1.0v4.13h-1.0zm4.0 0h1.0v4.13h-1.0zm3.0 0h1.0v4.13h-1.0zm2.0 0h2.0v4.13h-2.0zm10.0 0h1.0v4.13h-1.0zm3.0 0h1.0v4.13h-1.0zm5.0 0h2.0v4.13h-2.0zm3.0 0h1.0v4.13h-1.0zm2.0 0h1.0v4.13h-1.0zm4.0 0h1.0v4.13h-1.0zm2.0 0h1.0v4.13h-1.0zm8.0 0h1.0v4.13h-1.0zm3.0 0h3.0v4.13h-3.0zm9.0 0h1.0v4.13h-1.0zm3.0 0h1.0v4.13h-1.0zm42.5 0h1.0v4.13h-1.0zM352.0 520.57h1.0v4.13h-1.0zm55.0 0h1.0v4.13h-1.0zM374.0 636.10h1.0v4.13h-1.0zM351.0 652.60h1.0v4.13h-1.0zm11.0 0h1.0v4.13h-1.0zm10.0 0h1.0v4.13h-1.0zm7.0 0h1.0v4.13h-1.0zm3.0 0h1.0v4.13h-1.0zm6.0 0h1.0v4.13h-1.0zm6.0 0h1.0v4.13h-1.0zm3.0 0h1.0v4.13h-1.0zm3.0 0h1.0v4.13h-1.0zm2.0 0h2.0v4.13h-2.0zm8.0 0h1.0v4.13h-1.0zm6.0 0h1.0v4.13h-1.0z"/><path fill="#1e0a1e" d="M451.5 458.68h1.0v4.13h-1.0zM397.0 462.81h1.0v4.13h-1.0zm43.5 0h1.0v4.13h-1.0zm3.0 0h1.0v4.13h-1.0zm4.0 0h1.0v4.13h-1.0zm5.0 0h2.0v4.13h-2.0zm3.0 0h1.0v4.13h-1.0zm3.0 0h1.0v4.13h-1.0zm10.0 0h1.0v4.13h-1.0zm20.0 0h1.0v4.13h-1.0zM444.5 471.06h1.0v4.13h-1.0zm16.0 0h1.0v4.13h-1.0zm22.0 0h1.0v4.13h-1.0zM375.0 508.19h1.0v4.13h-1.0zm9.0 0h1.0v4.13h-1.0zm3.0 0h1.0v4.13h-1.0zm7.0 0h2.0v4.13h-2.0zM385.0 524.70h1.0v4.13h-1.0zm32.0 0h1.0v4.13h-1.0zm22.5 0h1.0v4.13h-1.0zm4.0 0h1.0v4.13h-1.0zm7.0 0h1.0v4.13h-1.0zm8.0 0h1.0v4.13h-1.0zM359.0 557.71h1.0v4.13h-1.0zm3.0 0h1.0v4.13h-1.0zm5.0 0h1.0v4.13h-1.0zm3.0 0h2.0v4.13h-2.0zm6.0 0h1.0v4.13h-1.0zm5.0 0h1.0v4.13h-1.0zm14.0 0h2.0v4.13h-2.0zm4.0 0h1.0v4.13h-1.0zm2.0 0h2.0v4.13h-2.0zm3.0 0h1.0v4.13h-1.0zm3.0 0h1.0v4.13h-1.0zm3.0 0h1.0v4.13h-1.0zm3.0 0h1.0v4.13h-1.0zm6.0 0h2.0v4.13h-2.0zm5.0 0h1.0v4.13h-1.0zm2.0 0h1.0v4.13h-1.0zm2.0 0h1.0v4.13h-1.0zm2.0 0h1.0v4.13h-1.0zm4.5 0h3.0v4.13h-3.0zm10.0 0h1.0v4.13h-1.0zm3.0 0h1.0v4.13h-1.0zm9.0 0h1.0v4.13h-1.0zm2.0 0h1.0v4.13h-1.0zm4.0 0h1.0v4.13h-1.0zm7.0 0h1.0v4.13h-1.0zm19.0 0h1.0v4.13h-1.0zM445.5 652.60h1.0v4.13h-1.0zm12.0 0h1.0v4.13h-1.0zm3.0 0h1.0v4.13h-1.0zm24.0 0h1.0v4.13h-1.0zM435.5 656.73h1.0v4.13h-1.0zm14.0 0h1.0v4.13h-1.0zm4.0 0h1.0v4.13h-1.0zm5.0 0h1.0v4.13h-1.0zm17.0 0h1.0v4.13h-1.0z"/><path fill="#1e140a" d="M358.0 508.19h1.0v4.13h-1.0zm27.0 0h1.0v4.13h-1.0zm38.0 0h1.0v4.13h-1.0zm4.0 0h1.0v4.13h-1.0zM368.0 652.60h1.0v4.13h-1.0zm17.0 0h1.0v4.13h-1.0zm11.0 0h1.0v4.13h-1.0z"/><path fill="#1e141e" d="M433.5 433.93h1.0v4.13h-1.0zm23.0 0h1.0v4.13h-1.0zm11.0 0h1.0v4.13h-1.0zm8.0 0h1.0v4.13h-1.0zM356.0 442.18h1.0v4.13h-1.0zm84.5 0h1.0v4.13h-1.0zm9.0 0h1.0v4.13h-1.0zm8.0 0h1.0v4.13h-1.0zm11.0 0h1.0v4.13h-1.0zm15.0 0h1.0v4.13h-1.0zm5.0 0h1.0v4.13h-1.0zM440.5 458.68h1.0v4.13h-1.0zm5.0 0h1.0v4.13h-1.0zm2.0 0h1.0v4.13h-1.0zm8.0 0h1.0v4.13h-1.0zm15.0 0h1.0v4.13h-1.0zm11.0 0h1.0v4.13h-1.0zM356.0 462.81h1.0v4.13h-1.0zm37.0 0h1.0v4.13h-1.0zm7.0 0h1.0v4.13h-1.0zm20.0 0h1.0v4.13h-1.0zm4.0 0h2.0v4.13h-2.0zm11.5 0h1.0v4.13h-1.0zm22.0 0h1.0v4.13h-1.0zm3.0 0h1.0v4.13h-1.0zm12.0 0h2.0v4.13h-2.0zm7.0 0h1.0v4.13h-1.0zm4.0 0h1.0v4.13h-1.0zm2.0 0h1.0v4.13h-1.0zm2.0 0h1.0v4.13h-1.0zM359.0 471.06h1.0v4.13h-1.0zm6.0 0h1.0v4.13h-1.0zm2.0 0h1.0v4.13h-1.0zm9.0 0h1.0v4.13h-1.0zm4.0 0h1.0v4.13h-1.0zm2.0 0h1.0v4.13h-1.0zm44.0 0h2.0v4.13h-2.0zm12.5 0h1.0v4.13h-1.0zm36.0 0h1.0v4.13h-1.0zm12.0 0h1.0v4.13h-1.0zM438.5 483.44h1.0v4.13h-1.0zm7.0 0h1.0v4.13h-1.0zm2.0 0h1.0v4.13h-1.0zm23.0 0h1.0v4.13h-1.0zm11.0 0h1.0v4.13h-1.0zM363.0 508.19h1.0v4.13h-1.0zm7.0 0h1.0v4.13h-1.0zm13.0 0h1.0v4.13h-1.0zm46.0 0h1.0v4.13h-1.0zM351.0 524.70h1.0v4.13h-1.0zm25.0 0h1.0v4.13h-1.0zm15.0 0h1.0v4.13h-1.0zm30.0 0h1.0v4.13h-1.0zm14.5 0h1.0v4.13h-1.0zm5.0 0h2.0v4.13h-2.0zm36.0 0h1.0v4.13h-1.0zm3.0 0h1.0v4.13h-1.0zm4.0 0h1.0v4.13h-1.0zM350.0 557.71h1.0v4.13h-1.0zm3.0 0h1.0v4.13h-1.0zm3.0 0h1.0v4.13h-1.0zm5.0 0h1.0v4.13h-1.0zm25.0 0h2.0v4.13h-2.0zm6.0 0h1.0v4.13h-1.0zm2.0 0h1.0v4.13h-1.0zm22.0 0h1.0v4.13h-1.0zm7.0 0h1.0v4.13h-1.0zm22.5 0h1.0v4.13h-1.0zm7.0 0h1.0v4.13h-1.0zm11.0 0h1.0v4.13h-1.0zm5.0 0h1.0v4.13h-1.0zm5.0 0h1.0v4.13h-1.0zm2.0 0h1.0v4.13h-1.0zm2.0 0h1.0v4.13h-1.0zm3.0 0h1.0v4.13h-1.0zm2.0 0h1.0v4.13h-1.0zm7.0 0h0.5v4.13h-0.5zM349.0 565.96h1.0v4.13h-1.0zm44.0 0h1.0v4.13h-1.0zm8.0 0h1.0v4.13h-1.0zm19.0 0h1.0v4.13h-1.0zm4.0 0h1.0v4.13h-1.0zM352.0 578.34h1.0v4.13h-1.0zm3.0 0h1.0v4.13h-1.0zm4.0 0h1.0v4.13h-1.0zm14.0 0h1.0v4.13h-1.0zm20.0 0h1.0v4.13h-1.0zm30.0 0h1.0v4.13h-1.0zM356.0 586.59h1.0v4.13h-1.0zm14.0 0h1.0v4.13h-1.0zm6.0 0h1.0v4.13h-1.0zm19.0 0h1.0v4.13h-1.0zm14.0 0h1.0v4.13h-1.0zm5.0 0h1.0v4.13h-1.0zM454.5 607.22h1.0v4.13h-1.0zM360.0 623.72h1.0v4.13h-1.0zm7.0 0h1.0v4.13h-1.0zm6.0 0h1.0v4.13h-1.0zm14.0 0h2.0v4.13h-2.0zm10.0 0h1.0v4.13h-1.0zm4.0 0h1.0v4.13h-1.0zm8.0 0h2.0v4.13h-2.0zM465.5 652.60h1.0v4.13h-1.0zm15.0 0h1.0v4.13h-1.0zM424.0 656.73h1.0v4.13h-1.0zm10.5 0h1.0v4.13h-1.0zm8.0 0h1.0v4.13h-1.0zm10.0 0h1.0v4.13h-1.0zm3.0 0h1.0v4.13h-1.0zm23.0 0h2.0v4.13h-2.0zM433.5 660.86h1.0v4.13h-1.0zm2.0 0h1.0v4.13h-1.0zm25.0 0h1.0v4.13h-1.0zm11.0 0h2.0v4.13h-2.0z"/><path fill="#1e1428" d="M486.5 433.93h1.0v4.13h-1.0zM438.5 442.18h1.0v4.13h-1.0zm12.0 0h1.0v4.13h-1.0zM435.5 458.68h1.0v4.13h-1.0zm52.0 0h1.0v4.13h-1.0zm2.0 0h0.5v4.13h-0.5zM433.5 462.81h1.0v4.13h-1.0zm15.0 0h1.0v4.13h-1.0zm2.0 0h1.0v4.13h-1.0zm14.0 0h2.0v4.13h-2.0zm14.0 0h1.0v4.13h-1.0zM375.0 471.06h1.0v4.13h-1.0zm9.0 0h1.0v4.13h-1.0zm3.0 0h1.0v4.13h-1.0zm21.0 0h1.0v4.13h-1.0zm75.5 0h1.0v4.13h-1.0zM457.5 483.44h1.0v4.13h-1.0zm2.0 0h1.0v4.13h-1.0zm17.0 0h1.0v4.13h-1.0zM425.0 524.70h1.0v4.13h-1.0zm12.5 0h1.0v4.13h-1.0zm5.0 0h1.0v4.13h-1.0zm3.0 0h1.0v4.13h-1.0zm24.0 0h1.0v4.13h-1.0zM352.0 557.71h1.0v4.13h-1.0zm39.0 0h1.0v4.13h-1.0zm34.0 0h1.0v4.13h-1.0zm4.0 0h1.0v4.13h-1.0zm14.5 0h1.0v4.13h-1.0zm40.0 0h1.0v4.13h-1.0zM352.0 565.96h2.0v4.13h-2.0zm8.0 0h1.0v4.13h-1.0zm17.0 0h1.0v4.13h-1.0zm6.0 0h1.0v4.13h-1.0zm19.0 0h1.0v4.13h-1.0zm8.0 0h1.0v4.13h-1.0zM374.0 578.34h1.0v4.13h-1.0zm34.0 0h1.0v4.13h-1.0zm11.0 0h1.0v4.13h-1.0zM467.5 582.46h1.0v4.13h-1.0zm17.0 0h1.0v4.13h-1.0zM369.0 586.59h1.0v4.13h-1.0zm14.0 0h1.0v4.13h-1.0zm9.0 0h1.0v4.13h-1.0zm16.0 0h1.0v4.13h-1.0zm5.0 0h1.0v4.13h-1.0zm14.0 0h1.0v4.13h-1.0zm3.0 0h1.0v4.13h-1.0zM401.0 590.71h1.0v4.13h-1.0zM433.5 594.84h1.0v4.13h-1.0zM463.5 607.22h1.0v4.13h-1.0zm20.0 0h1.0v4.13h-1.0zM433.5 652.60h1.0v4.13h-1.0zm14.0 0h1.0v4.13h-1.0zm39.0 0h1.0v4.13h-1.0zM383.0 656.73h1.0v4.13h-1.0zm17.0 0h1.0v4.13h-1.0zm67.5 0h1.0v4.13h-1.0zm14.0 0h1.0v4.13h-1.0zM434.5 660.86h1.0v4.13h-1.0zm35.0 0h1.0v4.13h-1.0z"/><path fill="#1e1e0a" d="M349.0 508.19h1.0v4.13h-1.0zm3.0 0h1.0v4.13h-1.0zm3.0 0h1.0v4.13h-1.0zm9.0 0h1.0v4.13h-1.0zm5.0 0h1.0v4.13h-1.0zm3.0 0h1.0v4.13h-1.0zm2.0 0h1.0v4.13h-1.0zm4.0 0h3.0v4.13h-3.0zm8.0 0h1.0v4.13h-1.0zm6.0 0h2.0v4.13h-2.0zm5.0 0h1.0v4.13h-1.0zm2.0 0h1.0v4.13h-1.0zm2.0 0h1.0v4.13h-1.0zm16.0 0h1.0v4.13h-1.0zm9.0 0h1.0v4.13h-1.0zm5.0 0h0.7v4.13h-0.7zM395.0 652.60h1.0v4.13h-1.0zm39.5 0h1.0v4.13h-1.0zm15.0 0h1.0v4.13h-1.0zm2.0 0h1.0v4.13h-1.0zm25.0 0h1.0v4.13h-1.0zm6.0 0h1.0v4.13h-1.0z"/><path fill="#1e1e14" d="M377.0 462.81h1.0v4.13h-1.0zM443.5 471.06h1.0v4.13h-1.0zm20.0 0h1.0v4.13h-1.0zM359.0 508.19h1.0v4.13h-1.0zm9.0 0h1.0v4.13h-1.0zm5.0 0h1.0v4.13h-1.0zm23.0 0h1.0v4.13h-1.0zm24.0 0h1.0v4.13h-1.0zM440.5 652.60h1.0v4.13h-1.0z"/><path fill="#281428" d="M362.0 429.80h1.0v4.13h-1.0zm47.0 0h1.0v4.13h-1.0zm17.0 0h1.0v4.13h-1.0zm2.0 0h1.0v4.13h-1.0zM435.5 433.93h1.0v4.13h-1.0zm4.0 0h1.0v4.13h-1.0zm2.0 0h1.0v4.13h-1.0zm7.0 0h1.0v4.13h-1.0zm7.0 0h1.0v4.13h-1.0zm3.0 0h1.0v4.13h-1.0zm8.0 0h1.0v4.13h-1.0zm3.0 0h1.0v4.13h-1.0zm7.0 0h2.0v4.13h-2.0zm7.0 0h3.0v4.13h-3.0zM349.0 438.05h1.0v4.13h-1.0zm67.0 0h1.0v4.13h-1.0zM387.0 442.18h1.0v4.13h-1.0zm3.0 0h1.0v4.13h-1.0zm3.0 0h1.0v4.13h-1.0zm6.0 0h2.0v4.13h-2.0zm6.0 0h1.0v4.13h-1.0zm2.0 0h1.0v4.13h-1.0zm26.5 0h1.0v4.13h-1.0zm9.0 0h2.0v4.13h-2.0zm5.0 0h1.0v4.13h-1.0zm5.0 0h2.0v4.13h-2.0zm6.0 0h1.0v4.13h-1.0zm3.0 0h1.0v4.13h-1.0zm5.0 0h2.0v4.13h-2.0zm8.0 0h1.0v4.13h-1.0zm2.0 0h1.0v4.13h-1.0zm4.0 0h1.0v4.13h-1.0zm2.0 0h1.0v4.13h-1.0zm5.0 0h1.0v4.13h-1.0zM351.0 458.68h1.0v4.13h-1.0zm7.0 0h1.0v4.13h-1.0zm6.0 0h1.0v4.13h-1.0zm12.0 0h1.0v4.13h-1.0zm8.0 0h1.0v4.13h-1.0zm26.0 0h1.0v4.13h-1.0zm7.0 0h1.0v4.13h-1.0zm19.5 0h1.0v4.13h-1.0zm18.0 0h1.0v4.13h-1.0zm2.0 0h1.0v4.13h-1.0zm3.0 0h3.0v4.13h-3.0zm4.0 0h5.0v4.13h-5.0zm8.0 0h1.0v4.13h-1.0zm6.0 0h1.0v4.13h-1.0zm7.0 0h1.0v4.13h-1.0zm2.0 0h1.0v4.13h-1.0zM352.0 462.81h1.0v4.13h-1.0zm9.0 0h1.0v4.13h-1.0zm7.0 0h1.0v4.13h-1.0zm4.0 0h1.0v4.13h-1.0zm2.0 0h1.0v4.13h-1.0zm20.0 0h1.0v4.13h-1.0zm4.0 0h1.0v4.13h-1.0zm8.0 0h1.0v4.13h-1.0zm4.0 0h1.0v4.13h-1.0zm9.0 0h1.0v4.13h-1.0zm2.0 0h1.0v4.13h-1.0zm6.0 0h1.0v4.13h-1.0zm5.5 0h1.0v4.13h-1.0zm2.0 0h1.0v4.13h-1.0zm3.0 0h3.0v4.13h-3.0zm5.0 0h1.0v4.13h-1.0zm9.0 0h1.0v4.13h-1.0zm10.0 0h2.0v4.13h-2.0zm5.0 0h1.0v4.13h-1.0zm3.0 0h3.0v4.13h-3.0zm7.0 0h1.0v4.13h-1.0zm4.0 0h1.0v4.13h-1.0zM357.0 471.06h1.0v4.13h-1.0zm3.0 0h1.0v4.13h-1.0zm11.0 0h1.0v4.13h-1.0zm3.0 0h1.0v4.13h-1.0zm7.0 0h1.0v4.13h-1.0zm7.0 0h3.0v4.13h-3.0zm4.0 0h1.0v4.13h-1.0zm11.0 0h1.0v4.13h-1.0zm3.0 0h1.0v4.13h-1.0zm9.0 0h1.0v4.13h-1.0zm5.0 0h1.0v4.13h-1.0zm2.0 0h1.0v4.13h-1.0zm6.0 0h1.0v4.13h-1.0zm30.5 0h1.0v4.13h-1.0zm3.0 0h1.0v4.13h-1.0zm5.0 0h1.0v4.13h-1.0zm2.0 0h1.0v4.13h-1.0zm9.0 0h1.0v4.13h-1.0zM354.0 479.31h1.0v4.13h-1.0zm12.0 0h1.0v4.13h-1.0zm6.0 0h1.0v4.13h-1.0zm3.0 0h1.0v4.13h-1.0zm3.0 0h1.0v4.13h-1.0zm14.0 0h1.0v4.13h-1.0zm20.0 0h1.0v4.13h-1.0zm15.0 0h1.0v4.13h-1.0zM435.5 483.44h1.0v4.13h-1.0zm6.0 0h1.0v4.13h-1.0zm3.0 0h1.0v4.13h-1.0zm4.0 0h1.0v4.13h-1.0zm2.0 0h3.0v4.13h-3.0zm10.0 0h2.0v4.13h-2.0zm6.0 0h1.0v4.13h-1.0zm12.0 0h1.0v4.13h-1.0zm2.0 0h1.0v4.13h-1.0zm2.0 0h2.0v4.13h-2.0zm7.0 0h0.5v4.13h-0.5zM424.0 499.94h1.0v4.13h-1.0zM361.0 524.70h1.0v4.13h-1.0zm7.0 0h2.0v4.13h-2.0zm4.0 0h1.0v4.13h-1.0zm10.0 0h1.0v4.13h-1.0zm48.0 0h1.0v4.13h-1.0zm4.5 0h1.0v4.13h-1.0zm4.0 0h1.0v4.13h-1.0zm6.0 0h1.0v4.13h-1.0zm4.0 0h1.0v4.13h-1.0zm3.0 0h1.0v4.13h-1.0zm9.0 0h1.0v4.13h-1.0zm3.0 0h1.0v4.13h-1.0zm4.0 0h1.0v4.13h-1.0zm4.0 0h1.0v4.13h-1.0zm14.0 0h1.0v4.13h-1.0zm2.0 0h1.0v4.13h-1.0zm2.0 0h0.5v4.13h-0.5zM349.0 557.71h1.0v4.13h-1.0zm6.0 0h1.0v4.13h-1.0zm2.0 0h1.0v4.13h-1.0zm3.0 0h1.0v4.13h-1.0zm9.0 0h1.0v4.13h-1.0zm3.0 0h2.0v4.13h-2.0zm5.0 0h1.0v4.13h-1.0zm2.0 0h1.0v4.13h-1.0zm3.0 0h1.0v4.13h-1.0zm3.0 0h1.0v4.13h-1.0zm3.0 0h1.0v4.13h-1.0zm10.0 0h1.0v4.13h-1.0zm2.0 0h1.0v4.13h-1.0zm9.0 0h1.0v4.13h-1.0zm5.0 0h1.0v4.13h-1.0zm3.0 0h2.0v4.13h-2.0zm4.0 0h1.0v4.13h-1.0zm10.0 0h0.7v4.13h-0.7zm1.5 0h1.0v4.13h-1.0zm9.0 0h1.0v4.13h-1.0zm8.0 0h1.0v4.13h-1.0zm2.0 0h1.0v4.13h-1.0zm8.0 0h1.0v4.13h-1.0zm7.0 0h2.0v4.13h-2.0zm4.0 0h2.0v4.13h-2.0zm6.0 0h1.0v4.13h-1.0zm2.0 0h2.0v4.13h-2.0zm3.0 0h1.0v4.13h-1.0zM356.0 565.96h1.0v4.13h-1.0zm6.0 0h1.0v4.13h-1.0zm5.0 0h1.0v4.13h-1.0zm3.0 0h3.0v4.13h-3.0zm4.0 0h1.0v4.13h-1.0zm4.0 0h2.0v4.13h-2.0zm4.0 0h1.0v4.13h-1.0zm7.0 0h1.0v4.13h-1.0zm2.0 0h1.0v4.13h-1.0zm5.0 0h1.0v4.13h-1.0zm9.0 0h1.0v4.13h-1.0zm2.0 0h1.0v4.13h-1.0zm4.0 0h1.0v4.13h-1.0zm7.0 0h1.0v4.13h-1.0zm12.0 0h1.0v4.13h-1.0zM438.5 574.21h1.0v4.13h-1.0zm2.0 0h1.0v4.13h-1.0zm18.0 0h1.0v4.13h-1.0zM356.0 578.34h1.0v4.13h-1.0zm4.0 0h1.0v4.13h-1.0zm8.0 0h1.0v4.13h-1.0zm3.0 0h1.0v4.13h-1.0zm8.0 0h1.0v4.13h-1.0zm2.0 0h1.0v4.13h-1.0zm26.0 0h1.0v4.13h-1.0zm5.0 0h1.0v4.13h-1.0zm6.0 0h1.0v4.13h-1.0zm4.0 0h1.0v4.13h-1.0zm5.0 0h1.0v4.13h-1.0zM433.5 582.46h2.0v4.13h-2.0zm5.0 0h2.0v4.13h-2.0zm4.0 0h1.0v4.13h-1.0zm6.0 0h1.0v4.13h-1.0zm7.0 0h1.0v4.13h-1.0zm2.0 0h1.0v4.13h-1.0zm4.0 0h1.0v4.13h-1.0zm20.0 0h1.0v4.13h-1.0zm8.0 0h0.5v4.13h-0.5zM353.0 586.59h1.0v4.13h-1.0zm7.0 0h1.0v4.13h-1.0zm6.0 0h1.0v4.13h-1.0zm5.0 0h1.0v4.13h-1.0zm10.0 0h2.0v4.13h-2.0zm13.0 0h1.0v4.13h-1.0zm4.0 0h1.0v4.13h-1.0zm6.0 0h1.0v4.13h-1.0zM353.0 590.71h1.0v4.13h-1.0zm16.0 0h1.0v4.13h-1.0zm3.0 0h1.0v4.13h-1.0zm9.0 0h1.0v4.13h-1.0zm11.0 0h1.0v4.13h-1.0zm7.0 0h1.0v4.13h-1.0zm12.0 0h1.0v4.13h-1.0zm3.0 0h1.0v4.13h-1.0zm4.0 0h1.0v4.13h-1.0zm4.0 0h1.0v4.13h-1.0zm10.5 0h1.0v4.13h-1.0zm9.0 0h1.0v4.13h-1.0zm25.0 0h1.0v4.13h-1.0zm23.0 0h0.5v4.13h-0.5zM460.5 594.84h1.0v4.13h-1.0zM361.0 598.97h1.0v4.13h-1.0zm7.0 0h1.0v4.13h-1.0zm23.0 0h1.0v4.13h-1.0zm13.0 0h1.0v4.13h-1.0zM442.5 607.22h1.0v4.13h-1.0zm24.0 0h1.0v4.13h-1.0zm5.0 0h1.0v4.13h-1.0zm5.0 0h1.0v4.13h-1.0zm5.0 0h1.0v4.13h-1.0zm7.0 0h1.5v4.13h-1.5zM471.5 615.47h1.0v4.13h-1.0zm16.0 0h1.0v4.13h-1.0zM359.0 623.72h1.0v4.13h-1.0zm11.0 0h1.0v4.13h-1.0zm2.0 0h1.0v4.13h-1.0zm2.0 0h1.0v4.13h-1.0zm3.0 0h1.0v4.13h-1.0zm16.0 0h2.0v4.13h-2.0zm5.0 0h2.0v4.13h-2.0zm7.0 0h1.0v4.13h-1.0zm9.0 0h1.0v4.13h-1.0zm9.0 0h1.0v4.13h-1.0zm2.0 0h2.0v4.13h-2.0zm3.0 0h1.0v4.13h-1.0zm11.5 0h1.0v4.13h-1.0zm2.0 0h1.0v4.13h-1.0zm3.0 0h1.0v4.13h-1.0zm9.0 0h2.0v4.13h-2.0zm21.0 0h1.0v4.13h-1.0zm5.0 0h1.0v4.13h-1.0zm3.0 0h1.0v4.13h-1.0zm6.0 0h1.0v4.13h-1.0zM352.0 627.85h1.0v4.13h-1.0zm82.5 0h1.0v4.13h-1.0zm11.0 0h1.0v4.13h-1.0zm2.0 0h1.0v4.13h-1.0zm4.0 0h1.0v4.13h-1.0zm6.0 0h1.0v4.13h-1.0zm9.0 0h1.0v4.13h-1.0zm11.0 0h1.0v4.13h-1.0zm8.0 0h1.0v4.13h-1.0zm3.0 0h1.0v4.13h-1.0zM356.0 648.48h1.0v4.13h-1.0zm9.0 0h1.0v4.13h-1.0zm8.0 0h1.0v4.13h-1.0zm4.0 0h1.0v4.13h-1.0zm23.0 0h1.0v4.13h-1.0zm3.0 0h1.0v4.13h-1.0zm5.0 0h3.0v4.13h-3.0zm6.0 0h1.0v4.13h-1.0zm16.0 0h1.0v4.13h-1.0zM453.5 652.60h2.0v4.13h-2.0zm19.0 0h1.0v4.13h-1.0zm17.0 0h0.5v4.13h-0.5zM352.0 656.73h2.0v4.13h-2.0zm9.0 0h1.0v4.13h-1.0zm10.0 0h1.0v4.13h-1.0zm5.0 0h1.0v4.13h-1.0zm13.0 0h1.0v4.13h-1.0zm9.0 0h1.0v4.13h-1.0zm18.0 0h1.0v4.13h-1.0zm3.0 0h1.0v4.13h-1.0zm12.0 0h0.7v4.13h-0.7zm25.5 0h1.0v4.13h-1.0zm4.0 0h2.0v4.13h-2.0zm3.0 0h1.0v4.13h-1.0zm6.0 0h1.0v4.13h-1.0zm2.0 0h1.0v4.13h-1.0zm2.0 0h1.0v4.13h-1.0zm3.0 0h1.0v4.13h-1.0zm8.0 0h2.0v4.13h-2.0zm5.0 0h0.5v4.13h-0.5zM361.0 660.86h1.0v4.13h-1.0zm14.0 0h1.0v4.13h-1.0zm2.0 0h1.0v4.13h-1.0zm40.0 0h1.0v4.13h-1.0zm11.0 0h1.0v4.13h-1.0zm12.5 0h2.0v4.13h-2.0zm9.0 0h1.0v4.13h-1.0zm14.0 0h1.0v4.13h-1.0zm2.0 0h1.0v4.13h-1.0zm9.0 0h1.0v4.13h-1.0zm3.0 0h1.0v4.13h-1.0zm4.0 0h2.0v4.13h-2.0z"/><path fill="#281432" d="M377.0 429.80h1.0v4.13h-1.0zm54.0 0h0.7v4.13h-0.7zM468.5 433.93h1.0v4.13h-1.0zm13.0 0h1.0v4.13h-1.0zm6.0 0h1.0v4.13h-1.0zM365.0 438.05h1.0v4.13h-1.0zm12.0 0h1.0v4.13h-1.0zm14.0 0h1.0v4.13h-1.0zm6.0 0h1.0v4.13h-1.0zm26.0 0h1.0v4.13h-1.0zM406.0 442.18h1.0v4.13h-1.0zm49.5 0h1.0v4.13h-1.0zm23.0 0h1.0v4.13h-1.0zM398.0 454.56h1.0v4.13h-1.0zm19.0 0h1.0v4.13h-1.0zm2.0 0h1.0v4.13h-1.0zM472.5 458.68h2.0v4.13h-2.0zm3.0 0h1.0v4.13h-1.0zm3.0 0h1.0v4.13h-1.0zm4.0 0h1.0v4.13h-1.0zM383.0 462.81h1.0v4.13h-1.0zm61.5 0h2.0v4.13h-2.0zm12.0 0h1.0v4.13h-1.0zm7.0 0h1.0v4.13h-1.0zm11.0 0h1.0v4.13h-1.0zm12.0 0h1.0v4.13h-1.0zM349.0 471.06h1.0v4.13h-1.0zm20.0 0h1.0v4.13h-1.0zm27.0 0h1.0v4.13h-1.0zm14.0 0h1.0v4.13h-1.0zm9.0 0h1.0v4.13h-1.0zm43.5 0h1.0v4.13h-1.0zm5.0 0h1.0v4.13h-1.0zM350.0 479.31h1.0v4.13h-1.0zm31.0 0h1.0v4.13h-1.0zm2.0 0h1.0v4.13h-1.0zm39.0 0h1.0v4.13h-1.0zM355.0 483.44h1.0v4.13h-1.0zm12.0 0h1.0v4.13h-1.0zm41.0 0h1.0v4.13h-1.0zm46.5 0h1.0v4.13h-1.0zM358.0 487.56h1.0v4.13h-1.0zm15.0 0h1.0v4.13h-1.0zm29.0 0h1.0v4.13h-1.0zm2.0 0h1.0v4.13h-1.0zm2.0 0h2.0v4.13h-2.0zM357.0 491.69h1.0v4.13h-1.0zm62.0 0h1.0v4.13h-1.0zm7.0 0h1.0v4.13h-1.0zM371.0 499.94h1.0v4.13h-1.0zm26.0 0h1.0v4.13h-1.0zm73.5 0h1.0v4.13h-1.0zM362.0 504.07h1.0v4.13h-1.0zm69.0 0h0.7v4.13h-0.7zM379.0 524.70h1.0v4.13h-1.0zm68.5 0h1.0v4.13h-1.0zm2.0 0h1.0v4.13h-1.0zm10.0 0h1.0v4.13h-1.0zM374.0 541.20h1.0v4.13h-1.0zm26.0 0h1.0v4.13h-1.0zM417.0 565.96h1.0v4.13h-1.0zm5.0 0h1.0v4.13h-1.0zm3.0 0h1.0v4.13h-1.0zM386.0 578.34h1.0v4.13h-1.0zm15.0 0h1.0v4.13h-1.0zm8.0 0h1.0v4.13h-1.0zM478.5 582.46h1.0v4.13h-1.0zM361.0 586.59h1.0v4.13h-1.0zm26.0 0h1.0v4.13h-1.0zm33.0 0h1.0v4.13h-1.0zM450.5 590.71h1.0v4.13h-1.0zm11.0 0h1.0v4.13h-1.0zm21.0 0h1.0v4.13h-1.0zM434.5 594.84h1.0v4.13h-1.0zm54.0 0h1.0v4.13h-1.0zM350.0 598.97h1.0v4.13h-1.0zm29.0 0h1.0v4.13h-1.0zm15.0 0h1.0v4.13h-1.0zm2.0 0h1.0v4.13h-1.0zm28.0 0h1.0v4.13h-1.0zM468.5 607.22h1.0v4.13h-1.0zm9.0 0h1.0v4.13h-1.0zM350.0 611.34h1.0v4.13h-1.0zm121.5 0h1.0v4.13h-1.0zM376.0 615.47h1.0v4.13h-1.0zm5.0 0h1.0v4.13h-1.0zm19.0 0h1.0v4.13h-1.0zm3.0 0h1.0v4.13h-1.0zm21.0 0h1.0v4.13h-1.0zm23.5 0h1.0v4.13h-1.0zM402.0 619.60h1.0v4.13h-1.0zm32.5 0h1.0v4.13h-1.0zm9.0 0h1.0v4.13h-1.0zm27.0 0h1.0v4.13h-1.0zm16.0 0h1.0v4.13h-1.0zM376.0 623.72h1.0v4.13h-1.0zm3.0 0h1.0v4.13h-1.0zm3.0 0h1.0v4.13h-1.0zm4.0 0h1.0v4.13h-1.0zm3.0 0h1.0v4.13h-1.0zm19.0 0h1.0v4.13h-1.0zm11.0 0h1.0v4.13h-1.0zm62.5 0h1.0v4.13h-1.0zM358.0 627.85h1.0v4.13h-1.0zm25.0 0h1.0v4.13h-1.0zm14.0 0h1.0v4.13h-1.0zm9.0 0h1.0v4.13h-1.0zm34.5 0h1.0v4.13h-1.0zm28.0 0h1.0v4.13h-1.0zm8.0 0h1.0v4.13h-1.0zm5.0 0h1.0v4.13h-1.0zM351.0 648.48h1.0v4.13h-1.0zm11.0 0h1.0v4.13h-1.0zm5.0 0h1.0v4.13h-1.0zm46.0 0h1.0v4.13h-1.0zm8.0 0h1.0v4.13h-1.0zM488.5 652.60h1.0v4.13h-1.0zM437.5 656.73h1.0v4.13h-1.0zm4.0 0h1.0v4.13h-1.0zm13.0 0h1.0v4.13h-1.0zM393.0 660.86h1.0v4.13h-1.0zm2.0 0h1.0v4.13h-1.0zm17.0 0h2.0v4.13h-2.0zm43.5 0h2.0v4.13h-2.0zm21.0 0h1.0v4.13h-1.0zm11.0 0h1.0v4.13h-1.0z"/><path fill="#281e14" d="M371.0 462.81h1.0v4.13h-1.0zm7.0 0h1.0v4.13h-1.0zM480.5 471.06h1.0v4.13h-1.0zm7.0 0h1.0v4.13h-1.0zM353.0 508.19h1.0v4.13h-1.0zm23.0 0h1.0v4.13h-1.0zm12.0 0h2.0v4.13h-2.0zM352.0 524.70h1.0v4.13h-1.0zm32.0 0h1.0v4.13h-1.0zM466.5 652.60h1.0v4.13h-1.0z"/><path fill="#282814" d="M350.0 442.18h1.0v4.13h-1.0zm3.0 0h1.0v4.13h-1.0zm18.0 0h1.0v4.13h-1.0zm11.0 0h1.0v4.13h-1.0zm2.0 0h1.0v4.13h-1.0zm11.0 0h1.0v4.13h-1.0zm15.0 0h1.0v4.13h-1.0zM424.0 458.68h1.0v4.13h-1.0zM353.0 462.81h1.0v4.13h-1.0zm7.0 0h1.0v4.13h-1.0zm3.0 0h1.0v4.13h-1.0zm10.0 0h1.0v4.13h-1.0zm39.0 0h1.0v4.13h-1.0zM439.5 471.06h1.0v4.13h-1.0zm10.0 0h2.0v4.13h-2.0zm29.0 0h1.0v4.13h-1.0zM354.0 508.19h1.0v4.13h-1.0zm46.0 0h1.0v4.13h-1.0zm2.0 0h1.0v4.13h-1.0zm11.0 0h1.0v4.13h-1.0zM354.0 524.70h1.0v4.13h-1.0zm4.0 0h2.0v4.13h-2.0zm17.0 0h1.0v4.13h-1.0zm28.0 0h1.0v4.13h-1.0zm7.0 0h1.0v4.13h-1.0zm2.0 0h1.0v4.13h-1.0zm17.0 0h1.0v4.13h-1.0zM351.0 557.71h1.0v4.13h-1.0zm55.0 0h1.0v4.13h-1.0zm6.0 0h1.0v4.13h-1.0zm3.0 0h1.0v4.13h-1.0zM451.5 574.21h1.0v4.13h-1.0zm14.0 0h1.0v4.13h-1.0zM446.5 582.46h1.0v4.13h-1.0zM357.0 590.71h1.0v4.13h-1.0zm62.0 0h1.0v4.13h-1.0zm53.5 0h1.0v4.13h-1.0zm11.0 0h1.0v4.13h-1.0zM442.5 594.84h2.0v4.13h-2.0zm9.0 0h1.0v4.13h-1.0zm7.0 0h1.0v4.13h-1.0zm24.0 0h1.0v4.13h-1.0zm4.0 0h1.0v4.13h-1.0zM452.5 607.22h1.0v4.13h-1.0zm7.0 0h1.0v4.13h-1.0zM463.5 615.47h1.0v4.13h-1.0zm3.0 0h1.0v4.13h-1.0zm15.0 0h1.0v4.13h-1.0zm3.0 0h2.0v4.13h-2.0zM438.5 623.72h1.0v4.13h-1.0zm2.0 0h1.0v4.13h-1.0zm2.0 0h1.0v4.13h-1.0zm19.0 0h1.0v4.13h-1.0zM435.5 652.60h1.0v4.13h-1.0zm6.0 0h1.0v4.13h-1.0zm14.0 0h1.0v4.13h-1.0zm14.0 0h1.0v4.13h-1.0zm9.0 0h1.0v4.13h-1.0zm3.0 0h1.0v4.13h-1.0zM359.0 656.73h1.0v4.13h-1.0zm25.0 0h1.0v4.13h-1.0zm9.0 0h1.0v4.13h-1.0zm10.0 0h1.0v4.13h-1.0zM353.0 660.86h1.0v4.13h-1.0zm2.0 0h1.0v4.13h-1.0zm23.0 0h1.0v4.13h-1.0zm10.0 0h1.0v4.13h-1.0zm26.0 0h1.0v4.13h-1.0zm4.0 0h1.0v4.13h-1.0z"/><path fill="#321432" d="M355.0 429.80h1.0v4.13h-1.0zm31.0 0h2.0v4.13h-2.0zm7.0 0h1.0v4.13h-1.0zm4.0 0h1.0v4.13h-1.0zm50.5 0h1.0v4.13h-1.0zM434.5 433.93h1.0v4.13h-1.0zm2.0 0h1.0v4.13h-1.0zm6.0 0h1.0v4.13h-1.0zM414.0 438.05h1.0v4.13h-1.0zm10.0 0h1.0v4.13h-1.0zM349.0 442.18h1.0v4.13h-1.0zm10.0 0h1.0v4.13h-1.0zm2.0 0h1.0v4.13h-1.0zm22.0 0h1.0v4.13h-1.0zm6.0 0h1.0v4.13h-1.0zm8.0 0h1.0v4.13h-1.0zm17.0 0h1.0v4.13h-1.0zm18.5 0h1.0v4.13h-1.0zm7.0 0h1.0v4.13h-1.0zm7.0 0h1.0v4.13h-1.0zm14.0 0h1.0v4.13h-1.0zm4.0 0h1.0v4.13h-1.0zm9.0 0h1.0v4.13h-1.0zm11.0 0h1.0v4.13h-1.0zM351.0 454.56h1.0v4.13h-1.0zm5.0 0h1.0v4.13h-1.0zm38.0 0h1.0v4.13h-1.0zm12.0 0h1.0v4.13h-1.0zM374.0 458.68h1.0v4.13h-1.0zm42.0 0h1.0v4.13h-1.0zm16.5 0h2.0v4.13h-2.0zm48.0 0h1.0v4.13h-1.0zM366.0 462.81h1.0v4.13h-1.0zm9.0 0h1.0v4.13h-1.0zm5.0 0h1.0v4.13h-1.0zm8.0 0h1.0v4.13h-1.0zm7.0 0h1.0v4.13h-1.0zm6.0 0h1.0v4.13h-1.0zm8.0 0h1.0v4.13h-1.0zm37.5 0h1.0v4.13h-1.0zm13.0 0h1.0v4.13h-1.0zM370.0 466.93h1.0v4.13h-1.0zM366.0 471.06h1.0v4.13h-1.0zm32.0 0h1.0v4.13h-1.0zm2.0 0h2.0v4.13h-2.0zm46.5 0h1.0v4.13h-1.0zm6.0 0h1.0v4.13h-1.0zm4.0 0h1.0v4.13h-1.0zm3.0 0h1.0v4.13h-1.0zm5.0 0h1.0v4.13h-1.0zm11.0 0h1.0v4.13h-1.0zM368.0 479.31h2.0v4.13h-2.0zm25.0 0h1.0v4.13h-1.0zm11.0 0h2.0v4.13h-2.0zm16.0 0h1.0v4.13h-1.0zM377.0 483.44h1.0v4.13h-1.0zm15.0 0h1.0v4.13h-1.0zm8.0 0h1.0v4.13h-1.0zm20.0 0h1.0v4.13h-1.0zm12.5 0h1.0v4.13h-1.0zm7.0 0h1.0v4.13h-1.0zm32.0 0h1.0v4.13h-1.0zm17.0 0h1.0v4.13h-1.0zM364.0 487.56h1.0v4.13h-1.0zm8.0 0h1.0v4.13h-1.0zm12.0 0h1.0v4.13h-1.0zm17.0 0h1.0v4.13h-1.0zm24.0 0h1.0v4.13h-1.0zm2.0 0h1.0v4.13h-1.0zm33.5 0h1.0v4.13h-1.0zM366.0 491.69h1.0v4.13h-1.0zm27.0 0h1.0v4.13h-1.0zm28.0 0h1.0v4.13h-1.0zm9.0 0h1.0v4.13h-1.0zM368.0 499.94h1.0v4.13h-1.0zm7.0 0h1.0v4.13h-1.0zm7.0 0h1.0v4.13h-1.0zm5.0 0h1.0v4.13h-1.0zm5.0 0h1.0v4.13h-1.0zm33.0 0h1.0v4.13h-1.0zm3.0 0h1.0v4.13h-1.0zm31.5 0h1.0v4.13h-1.0zm25.0 0h1.0v4.13h-1.0zM356.0 504.07h1.0v4.13h-1.0zm10.0 0h1.0v4.13h-1.0zm7.0 0h1.0v4.13h-1.0zm27.0 0h1.0v4.13h-1.0zm52.5 0h1.0v4.13h-1.0zm5.0 0h1.0v4.13h-1.0zm29.0 0h1.0v4.13h-1.0zM356.0 524.70h1.0v4.13h-1.0zm24.0 0h1.0v4.13h-1.0zm10.0 0h1.0v4.13h-1.0zm9.0 0h1.0v4.13h-1.0zm6.0 0h2.0v4.13h-2.0zm28.5 0h1.0v4.13h-1.0zm20.0 0h1.0v4.13h-1.0zm2.0 0h2.0v4.13h-2.0zm11.0 0h1.0v4.13h-1.0zm8.0 0h1.0v4.13h-1.0zM391.0 537.08h1.0v4.13h-1.0zm55.5 0h1.0v4.13h-1.0zm26.0 0h1.0v4.13h-1.0zM373.0 541.20h1.0v4.13h-1.0zm8.0 0h1.0v4.13h-1.0zm3.0 0h1.0v4.13h-1.0zm7.0 0h1.0v4.13h-1.0zm20.0 0h1.0v4.13h-1.0zM355.0 549.45h1.0v4.13h-1.0zm35.0 0h1.0v4.13h-1.0zM350.0 565.96h1.0v4.13h-1.0zm14.0 0h1.0v4.13h-1.0zm11.0 0h1.0v4.13h-1.0zm5.0 0h1.0v4.13h-1.0zm19.0 0h1.0v4.13h-1.0zm13.0 0h1.0v4.13h-1.0zm15.0 0h1.0v4.13h-1.0zm2.0 0h1.0v4.13h-1.0zM388.0 574.21h1.0v4.13h-1.0zm67.5 0h1.0v4.13h-1.0zm30.0 0h1.0v4.13h-1.0zM361.0 578.34h2.0v4.13h-2.0zm3.0 0h2.0v4.13h-2.0zm11.0 0h2.0v4.13h-2.0zm5.0 0h1.0v4.13h-1.0zm4.0 0h1.0v4.13h-1.0zm21.0 0h1.0v4.13h-1.0zm9.0 0h1.0v4.13h-1.0zm6.0 0h1.0v4.13h-1.0zm6.0 0h1.0v4.13h-1.0zM428.0 582.46h1.0v4.13h-1.0zm32.5 0h1.0v4.13h-1.0zm6.0 0h1.0v4.13h-1.0zm4.0 0h2.0v4.13h-2.0zm10.0 0h1.0v4.13h-1.0zM351.0 586.59h2.0v4.13h-2.0zm7.0 0h1.0v4.13h-1.0zm30.0 0h1.0v4.13h-1.0zm13.0 0h1.0v4.13h-1.0zm11.0 0h1.0v4.13h-1.0zm22.5 0h1.0v4.13h-1.0zm27.0 0h1.0v4.13h-1.0zM402.0 590.71h1.0v4.13h-1.0zm18.0 0h1.0v4.13h-1.0zm7.0 0h1.0v4.13h-1.0zm24.5 0h1.0v4.13h-1.0zm26.0 0h1.0v4.13h-1.0zM457.5 594.84h1.0v4.13h-1.0zM355.0 598.97h1.0v4.13h-1.0zm5.0 0h1.0v4.13h-1.0zm39.0 0h2.0v4.13h-2.0zm3.0 0h1.0v4.13h-1.0zm3.0 0h1.0v4.13h-1.0zm16.0 0h2.0v4.13h-2.0zm29.5 0h1.0v4.13h-1.0zM361.0 603.09h1.0v4.13h-1.0zm31.0 0h1.0v4.13h-1.0zm6.0 0h1.0v4.13h-1.0zm44.5 0h1.0v4.13h-1.0zm33.0 0h1.0v4.13h-1.0zM441.5 607.22h1.0v4.13h-1.0zm17.0 0h1.0v4.13h-1.0zm2.0 0h1.0v4.13h-1.0zm10.0 0h1.0v4.13h-1.0zM358.0 611.34h1.0v4.13h-1.0zm2.0 0h1.0v4.13h-1.0zm38.0 0h1.0v4.13h-1.0zm11.0 0h1.0v4.13h-1.0zm5.0 0h1.0v4.13h-1.0zm60.5 0h1.0v4.13h-1.0zM349.0 615.47h1.0v4.13h-1.0zm40.0 0h1.0v4.13h-1.0zm21.0 0h1.0v4.13h-1.0zm12.0 0h1.0v4.13h-1.0zm6.0 0h1.0v4.13h-1.0zm7.5 0h1.0v4.13h-1.0zm24.0 0h1.0v4.13h-1.0zM355.0 619.60h2.0v4.13h-2.0zm3.0 0h1.0v4.13h-1.0zm11.0 0h1.0v4.13h-1.0zm6.0 0h1.0v4.13h-1.0zm2.0 0h1.0v4.13h-1.0zm3.0 0h1.0v4.13h-1.0zm6.0 0h2.0v4.13h-2.0zm22.0 0h1.0v4.13h-1.0zm25.5 0h1.0v4.13h-1.0zm17.0 0h1.0v4.13h-1.0zm37.0 0h1.0v4.13h-1.0zM355.0 623.72h1.0v4.13h-1.0zm23.0 0h1.0v4.13h-1.0zm2.0 0h1.0v4.13h-1.0zm3.0 0h1.0v4.13h-1.0zm9.0 0h1.0v4.13h-1.0zm4.0 0h1.0v4.13h-1.0zm4.0 0h1.0v4.13h-1.0zm2.0 0h2.0v4.13h-2.0zm4.0 0h2.0v4.13h-2.0zm16.0 0h1.0v4.13h-1.0zm2.0 0h1.0v4.13h-1.0zm38.5 0h1.0v4.13h-1.0zm9.0 0h1.0v4.13h-1.0zm2.0 0h1.0v4.13h-1.0zm13.0 0h1.0v4.13h-1.0zM366.0 627.85h1.0v4.13h-1.0zm34.0 0h1.0v4.13h-1.0zm13.0 0h1.0v4.13h-1.0zm4.0 0h2.0v4.13h-2.0zm7.0 0h2.0v4.13h-2.0zm14.5 0h1.0v4.13h-1.0zm8.0 0h1.0v4.13h-1.0zm9.0 0h1.0v4.13h-1.0zm3.0 0h1.0v4.13h-1.0zm5.0 0h1.0v4.13h-1.0zm17.0 0h1.0v4.13h-1.0zm6.0 0h1.0v4.13h-1.0zM439.5 640.23h1.0v4.13h-1.0zm7.0 0h1.0v4.13h-1.0zm26.0 0h1.0v4.13h-1.0zM352.0 648.48h1.0v4.13h-1.0zm14.0 0h1.0v4.13h-1.0zm6.0 0h1.0v4.13h-1.0zm14.0 0h1.0v4.13h-1.0zm13.0 0h1.0v4.13h-1.0zm12.0 0h1.0v4.13h-1.0zm8.0 0h1.0v4.13h-1.0zm7.0 0h2.0v4.13h-2.0zm3.0 0h1.0v4.13h-1.0zM450.5 652.60h1.0v4.13h-1.0zm29.0 0h1.0v4.13h-1.0zM379.0 656.73h1.0v4.13h-1.0zm18.0 0h1.0v4.13h-1.0zm30.0 0h1.0v4.13h-1.0zm3.0 0h1.0v4.13h-1.0zm32.5 0h1.0v4.13h-1.0zm6.0 0h1.0v4.13h-1.0zm20.0 0h1.0v4.13h-1.0zM366.0 660.86h1.0v4.13h-1.0zm60.0 0h1.0v4.13h-1.0zm21.5 0h1.0v4.13h-1.0zm7.0 0h1.0v4.13h-1.0z"/><path fill="#321e32" d="M352.0 429.80h1.0v4.13h-1.0zm33.0 0h1.0v4.13h-1.0zm6.0 0h1.0v4.13h-1.0zm15.0 0h1.0v4.13h-1.0zm7.0 0h1.0v4.13h-1.0zm7.0 0h1.0v4.13h-1.0zm21.5 0h1.0v4.13h-1.0zm5.0 0h1.0v4.13h-1.0zM437.5 433.93h1.0v4.13h-1.0zm9.0 0h1.0v4.13h-1.0zm15.0 0h1.0v4.13h-1.0zm9.0 0h1.0v4.13h-1.0zm4.0 0h1.0v4.13h-1.0zm6.0 0h1.0v4.13h-1.0zM371.0 438.05h1.0v4.13h-1.0zm9.0 0h1.0v4.13h-1.0zm16.0 0h1.0v4.13h-1.0zm12.0 0h1.0v4.13h-1.0zm3.0 0h1.0v4.13h-1.0zm15.0 0h1.0v4.13h-1.0zm35.5 0h1.0v4.13h-1.0zM351.0 442.18h1.0v4.13h-1.0zm28.0 0h1.0v4.13h-1.0zm58.5 0h1.0v4.13h-1.0zm4.0 0h1.0v4.13h-1.0zm7.0 0h1.0v4.13h-1.0zm8.0 0h1.0v4.13h-1.0zm29.0 0h2.0v4.13h-2.0zM353.0 454.56h1.0v4.13h-1.0zm13.0 0h1.0v4.13h-1.0zm6.0 0h1.0v4.13h-1.0zm21.0 0h1.0v4.13h-1.0zm17.0 0h1.0v4.13h-1.0zm6.0 0h1.0v4.13h-1.0zm5.0 0h1.0v4.13h-1.0zm2.0 0h2.0v4.13h-2.0zM354.0 458.68h1.0v4.13h-1.0zm29.0 0h1.0v4.13h-1.0zm13.0 0h1.0v4.13h-1.0zm45.5 0h1.0v4.13h-1.0zm3.0 0h1.0v4.13h-1.0zm5.0 0h1.0v4.13h-1.0zm8.0 0h1.0v4.13h-1.0zm22.0 0h1.0v4.13h-1.0zM357.0 462.81h1.0v4.13h-1.0zm51.0 0h1.0v4.13h-1.0zm14.0 0h1.0v4.13h-1.0zM375.0 466.93h1.0v4.13h-1.0zm20.0 0h1.0v4.13h-1.0zm31.0 0h2.0v4.13h-2.0zM356.0 471.06h1.0v4.13h-1.0zm16.0 0h1.0v4.13h-1.0zm5.0 0h1.0v4.13h-1.0zm14.0 0h1.0v4.13h-1.0zm2.0 0h2.0v4.13h-2.0zm38.0 0h0.7v4.13h-0.7zm4.5 0h1.0v4.13h-1.0zm6.0 0h2.0v4.13h-2.0zm13.0 0h1.0v4.13h-1.0zm3.0 0h1.0v4.13h-1.0zm31.0 0h1.0v4.13h-1.0zM434.5 475.19h1.0v4.13h-1.0zm21.0 0h1.0v4.13h-1.0zm5.0 0h1.0v4.13h-1.0zM382.0 479.31h1.0v4.13h-1.0zm6.0 0h1.0v4.13h-1.0zm7.0 0h1.0v4.13h-1.0zm2.0 0h1.0v4.13h-1.0zm27.0 0h1.0v4.13h-1.0zM372.0 483.44h1.0v4.13h-1.0zm22.0 0h1.0v4.13h-1.0zm8.0 0h1.0v4.13h-1.0zm5.0 0h1.0v4.13h-1.0zm15.0 0h1.0v4.13h-1.0zm20.5 0h1.0v4.13h-1.0zm30.0 0h1.0v4.13h-1.0zm3.0 0h1.0v4.13h-1.0zm4.0 0h1.0v4.13h-1.0zm5.0 0h1.0v4.13h-1.0zM376.0 487.56h1.0v4.13h-1.0zm2.0 0h1.0v4.13h-1.0zm8.0 0h1.0v4.13h-1.0zm44.0 0h1.0v4.13h-1.0zM405.0 491.69h1.0v4.13h-1.0zm36.5 0h1.0v4.13h-1.0zM377.0 499.94h1.0v4.13h-1.0zm14.0 0h1.0v4.13h-1.0zm28.0 0h1.0v4.13h-1.0zm8.0 0h1.0v4.13h-1.0zm35.5 0h1.0v4.13h-1.0zM380.0 504.07h1.0v4.13h-1.0zm24.0 0h1.0v4.13h-1.0zM484.5 516.45h1.0v4.13h-1.0zM378.0 524.70h1.0v4.13h-1.0zm54.5 0h1.0v4.13h-1.0zm20.0 0h1.0v4.13h-1.0zm2.0 0h1.0v4.13h-1.0zm11.0 0h1.0v4.13h-1.0zm7.0 0h2.0v4.13h-2.0zM353.0 537.08h1.0v4.13h-1.0zm24.0 0h1.0v4.13h-1.0zm71.5 0h1.0v4.13h-1.0zm17.0 0h1.0v4.13h-1.0zM368.0 541.20h1.0v4.13h-1.0zm8.0 0h2.0v4.13h-2.0zm42.0 0h1.0v4.13h-1.0zm20.5 0h1.0v4.13h-1.0zm7.0 0h1.0v4.13h-1.0zm25.0 0h1.0v4.13h-1.0zm7.0 0h1.0v4.13h-1.0zM400.0 549.45h1.0v4.13h-1.0zm31.0 0h0.7v4.13h-0.7zM425.0 553.58h1.0v4.13h-1.0zm46.5 0h1.0v4.13h-1.0zM440.5 561.83h1.0v4.13h-1.0zm22.0 0h1.0v4.13h-1.0zM354.0 565.96h1.0v4.13h-1.0zm7.0 0h1.0v4.13h-1.0zm26.0 0h1.0v4.13h-1.0zm39.0 0h1.0v4.13h-1.0zm2.0 0h1.0v4.13h-1.0zm3.0 0h0.7v4.13h-0.7zm47.5 0h1.0v4.13h-1.0zM377.0 574.21h1.0v4.13h-1.0zm3.0 0h1.0v4.13h-1.0zM357.0 578.34h1.0v4.13h-1.0zm9.0 0h1.0v4.13h-1.0zm11.0 0h1.0v4.13h-1.0zm17.0 0h1.0v4.13h-1.0zm2.0 0h1.0v4.13h-1.0zm4.0 0h1.0v4.13h-1.0zm3.0 0h1.0v4.13h-1.0zm3.0 0h1.0v4.13h-1.0zm10.0 0h1.0v4.13h-1.0zM419.0 582.46h1.0v4.13h-1.0zm31.5 0h1.0v4.13h-1.0zm8.0 0h1.0v4.13h-1.0zm7.0 0h1.0v4.13h-1.0zm14.0 0h1.0v4.13h-1.0zM349.0 586.59h1.0v4.13h-1.0zm16.0 0h1.0v4.13h-1.0zm2.0 0h1.0v4.13h-1.0zm12.0 0h1.0v4.13h-1.0zm14.0 0h1.0v4.13h-1.0zm18.0 0h1.0v4.13h-1.0zm7.0 0h1.0v4.13h-1.0zm10.0 0h2.0v4.13h-2.0zm3.0 0h0.7v4.13h-0.7zM378.0 590.71h1.0v4.13h-1.0zm16.0 0h1.0v4.13h-1.0zm58.5 0h1.0v4.13h-1.0zm16.0 0h1.0v4.13h-1.0zm11.0 0h1.0v4.13h-1.0zM407.0 594.84h1.0v4.13h-1.0zm33.5 0h1.0v4.13h-1.0zm44.0 0h1.0v4.13h-1.0zM383.0 598.97h1.0v4.13h-1.0zm5.0 0h1.0v4.13h-1.0zm18.0 0h1.0v4.13h-1.0zm8.0 0h1.0v4.13h-1.0zm9.0 0h1.0v4.13h-1.0zM367.0 603.09h1.0v4.13h-1.0zm16.0 0h1.0v4.13h-1.0zm20.0 0h1.0v4.13h-1.0zm8.0 0h1.0v4.13h-1.0zm7.0 0h1.0v4.13h-1.0zm4.0 0h1.0v4.13h-1.0zm46.5 0h1.0v4.13h-1.0zm18.0 0h1.0v4.13h-1.0zM352.0 607.22h1.0v4.13h-1.0zm31.0 0h1.0v4.13h-1.0zm16.0 0h1.0v4.13h-1.0zm5.0 0h1.0v4.13h-1.0zm16.0 0h1.0v4.13h-1.0zm16.5 0h4.0v4.13h-4.0zm19.0 0h1.0v4.13h-1.0zm2.0 0h1.0v4.13h-1.0zm15.0 0h1.0v4.13h-1.0zm14.0 0h1.0v4.13h-1.0zM351.0 611.34h1.0v4.13h-1.0zm13.0 0h1.0v4.13h-1.0zm12.0 0h1.0v4.13h-1.0zm43.0 0h2.0v4.13h-2.0zm21.5 0h1.0v4.13h-1.0zm29.0 0h1.0v4.13h-1.0zm11.0 0h1.0v4.13h-1.0zM440.5 615.47h1.0v4.13h-1.0zm34.0 0h1.0v4.13h-1.0zm3.0 0h1.0v4.13h-1.0zM436.5 619.60h1.0v4.13h-1.0zm29.0 0h1.0v4.13h-1.0zM350.0 623.72h1.0v4.13h-1.0zm6.0 0h1.0v4.13h-1.0zm5.0 0h1.0v4.13h-1.0zm5.0 0h1.0v4.13h-1.0zm15.0 0h1.0v4.13h-1.0zm3.0 0h1.0v4.13h-1.0zm6.0 0h1.0v4.13h-1.0zm62.5 0h1.0v4.13h-1.0zM349.0 627.85h1.0v4.13h-1.0zm6.0 0h1.0v4.13h-1.0zm4.0 0h1.0v4.13h-1.0zm74.5 0h1.0v4.13h-1.0zm11.0 0h1.0v4.13h-1.0zm9.0 0h1.0v4.13h-1.0zm3.0 0h1.0v4.13h-1.0zm16.0 0h1.0v4.13h-1.0zM422.0 631.97h1.0v4.13h-1.0zM449.5 640.23h1.0v4.13h-1.0zm8.0 0h1.0v4.13h-1.0zm7.0 0h1.0v4.13h-1.0zm18.0 0h1.0v4.13h-1.0zM376.0 644.35h1.0v4.13h-1.0zM357.0 648.48h1.0v4.13h-1.0zm13.0 0h1.0v4.13h-1.0zm10.0 0h1.0v4.13h-1.0zm11.0 0h1.0v4.13h-1.0zm10.0 0h1.0v4.13h-1.0zm15.0 0h1.0v4.13h-1.0zM432.5 652.60h1.0v4.13h-1.0zm10.0 0h1.0v4.13h-1.0zm14.0 0h1.0v4.13h-1.0zm5.0 0h1.0v4.13h-1.0zm3.0 0h1.0v4.13h-1.0zM351.0 656.73h1.0v4.13h-1.0zm7.0 0h1.0v4.13h-1.0zm7.0 0h1.0v4.13h-1.0zm46.0 0h1.0v4.13h-1.0zm28.5 0h1.0v4.13h-1.0zm5.0 0h1.0v4.13h-1.0zm6.0 0h1.0v4.13h-1.0zm9.0 0h1.0v4.13h-1.0zm6.0 0h2.0v4.13h-2.0zm5.0 0h1.0v4.13h-1.0zm4.0 0h1.0v4.13h-1.0zm9.0 0h1.0v4.13h-1.0zM367.0 660.86h1.0v4.13h-1.0zm55.0 0h1.0v4.13h-1.0zm15.5 0h1.0v4.13h-1.0zm5.0 0h1.0v4.13h-1.0zm24.0 0h1.0v4.13h-1.0zm2.0 0h1.0v4.13h-1.0zm18.0 0h1.0v4.13h-1.0z"/><path fill="#321e3c" d="M398.0 429.80h1.0v4.13h-1.0zm12.0 0h2.0v4.13h-2.0zM445.5 433.93h1.0v4.13h-1.0zm12.0 0h1.0v4.13h-1.0zm2.0 0h2.0v4.13h-2.0zm6.0 0h1.0v4.13h-1.0zm13.0 0h1.0v4.13h-1.0zm4.0 0h1.0v4.13h-1.0zM374.0 438.05h1.0v4.13h-1.0zm25.0 0h1.0v4.13h-1.0zM375.0 442.18h1.0v4.13h-1.0zm10.0 0h1.0v4.13h-1.0zm42.0 0h1.0v4.13h-1.0zm4.0 0h0.7v4.13h-0.7zm14.5 0h1.0v4.13h-1.0zm32.0 0h1.0v4.13h-1.0zM443.5 446.30h1.0v4.13h-1.0zm41.0 0h1.0v4.13h-1.0zM359.0 454.56h1.0v4.13h-1.0zm5.0 0h1.0v4.13h-1.0zm48.0 0h1.0v4.13h-1.0zM363.0 458.68h1.0v4.13h-1.0zm14.0 0h1.0v4.13h-1.0zm34.0 0h1.0v4.13h-1.0zm2.0 0h1.0v4.13h-1.0zm29.5 0h1.0v4.13h-1.0zm16.0 0h1.0v4.13h-1.0zM415.0 462.81h1.0v4.13h-1.0zM404.0 466.93h1.0v4.13h-1.0zm25.0 0h1.0v4.13h-1.0zM353.0 471.06h1.0v4.13h-1.0zm17.0 0h1.0v4.13h-1.0zm3.0 0h1.0v4.13h-1.0zm39.0 0h1.0v4.13h-1.0zm4.0 0h1.0v4.13h-1.0zm9.0 0h1.0v4.13h-1.0zm12.5 0h1.0v4.13h-1.0zm8.0 0h1.0v4.13h-1.0zM353.0 475.19h1.0v4.13h-1.0zm72.0 0h1.0v4.13h-1.0zm26.5 0h1.0v4.13h-1.0zm26.0 0h1.0v4.13h-1.0zm6.0 0h1.0v4.13h-1.0zM349.0 479.31h1.0v4.13h-1.0zm22.0 0h1.0v4.13h-1.0zm8.0 0h1.0v4.13h-1.0zm24.0 0h1.0v4.13h-1.0zm27.0 0h1.0v4.13h-1.0zM390.0 483.44h1.0v4.13h-1.0zm7.0 0h1.0v4.13h-1.0zm58.5 0h1.0v4.13h-1.0zm3.0 0h1.0v4.13h-1.0zm6.0 0h2.0v4.13h-2.0zm3.0 0h1.0v4.13h-1.0zm6.0 0h1.0v4.13h-1.0zm13.0 0h2.0v4.13h-2.0zM354.0 487.56h1.0v4.13h-1.0zm13.0 0h1.0v4.13h-1.0zm48.0 0h1.0v4.13h-1.0zm13.0 0h1.0v4.13h-1.0zM361.0 491.69h1.0v4.13h-1.0zm14.0 0h1.0v4.13h-1.0zm61.5 0h1.0v4.13h-1.0zm6.0 0h1.0v4.13h-1.0zm25.0 0h1.0v4.13h-1.0zm20.0 0h1.0v4.13h-1.0zM352.0 499.94h1.0v4.13h-1.0zm28.0 0h1.0v4.13h-1.0zm13.0 0h1.0v4.13h-1.0zm21.0 0h1.0v4.13h-1.0zm12.0 0h1.0v4.13h-1.0zm13.5 0h1.0v4.13h-1.0zM364.0 504.07h1.0v4.13h-1.0zm10.0 0h1.0v4.13h-1.0zm16.0 0h1.0v4.13h-1.0zm26.0 0h1.0v4.13h-1.0zm5.0 0h1.0v4.13h-1.0zm13.5 0h1.0v4.13h-1.0zm2.0 0h1.0v4.13h-1.0zm14.0 0h1.0v4.13h-1.0zm20.0 0h1.0v4.13h-1.0zm12.0 0h1.0v4.13h-1.0zM479.5 516.45h1.0v4.13h-1.0zM349.0 524.70h1.0v4.13h-1.0zm22.0 0h1.0v4.13h-1.0zm16.0 0h1.0v4.13h-1.0zm8.0 0h1.0v4.13h-1.0zm67.5 0h1.0v4.13h-1.0zm13.0 0h1.0v4.13h-1.0zM456.5 537.08h1.0v4.13h-1.0zm4.0 0h1.0v4.13h-1.0zm24.0 0h1.0v4.13h-1.0zm4.0 0h1.5v4.13h-1.5zM403.0 541.20h2.0v4.13h-2.0zm10.0 0h1.0v4.13h-1.0zm7.0 0h1.0v4.13h-1.0zm19.5 0h1.0v4.13h-1.0zm11.0 0h1.0v4.13h-1.0zM356.0 545.33h1.0v4.13h-1.0zM358.0 549.45h1.0v4.13h-1.0zm55.0 0h1.0v4.13h-1.0zm14.0 0h1.0v4.13h-1.0zM365.0 553.58h1.0v4.13h-1.0zm20.0 0h1.0v4.13h-1.0zm21.0 0h1.0v4.13h-1.0zm5.0 0h1.0v4.13h-1.0zm8.0 0h1.0v4.13h-1.0zM373.0 565.96h1.0v4.13h-1.0zm12.0 0h2.0v4.13h-2.0zm15.0 0h1.0v4.13h-1.0zM352.0 574.21h1.0v4.13h-1.0zm29.0 0h1.0v4.13h-1.0zm13.0 0h1.0v4.13h-1.0zm2.0 0h1.0v4.13h-1.0zm15.0 0h1.0v4.13h-1.0zM350.0 578.34h1.0v4.13h-1.0zm17.0 0h1.0v4.13h-1.0zM385.0 582.46h1.0v4.13h-1.0zm36.0 0h1.0v4.13h-1.0zm35.5 0h1.0v4.13h-1.0zM377.0 586.59h1.0v4.13h-1.0zm7.0 0h1.0v4.13h-1.0zm13.0 0h1.0v4.13h-1.0zm49.5 0h1.0v4.13h-1.0zM361.0 590.71h1.0v4.13h-1.0zm60.0 0h1.0v4.13h-1.0zm38.5 0h1.0v4.13h-1.0zM349.0 594.84h1.0v4.13h-1.0zm8.0 0h1.0v4.13h-1.0zm27.0 0h1.0v4.13h-1.0zm27.0 0h1.0v4.13h-1.0zM359.0 598.97h1.0v4.13h-1.0zm3.0 0h1.0v4.13h-1.0zm13.0 0h1.0v4.13h-1.0zM364.0 603.09h1.0v4.13h-1.0zm8.0 0h1.0v4.13h-1.0zm14.0 0h1.0v4.13h-1.0zm21.0 0h1.0v4.13h-1.0zm19.0 0h2.0v4.13h-2.0zM389.0 607.22h1.0v4.13h-1.0zm46.5 0h1.0v4.13h-1.0zm34.0 0h1.0v4.13h-1.0zm15.0 0h1.0v4.13h-1.0zM359.0 611.34h1.0v4.13h-1.0zm19.0 0h1.0v4.13h-1.0zM368.0 615.47h1.0v4.13h-1.0zm2.0 0h1.0v4.13h-1.0zm5.0 0h1.0v4.13h-1.0zm41.0 0h1.0v4.13h-1.0zm27.5 0h1.0v4.13h-1.0zM383.0 619.60h1.0v4.13h-1.0zm9.0 0h1.0v4.13h-1.0zm23.0 0h1.0v4.13h-1.0zm73.5 0h1.0v4.13h-1.0zM351.0 623.72h1.0v4.13h-1.0zm12.0 0h1.0v4.13h-1.0zm2.0 0h1.0v4.13h-1.0zm6.0 0h1.0v4.13h-1.0zm24.0 0h1.0v4.13h-1.0zm23.0 0h1.0v4.13h-1.0zm2.0 0h1.0v4.13h-1.0zm16.5 0h1.0v4.13h-1.0zm10.0 0h1.0v4.13h-1.0zM402.0 627.85h1.0v4.13h-1.0zm24.0 0h1.0v4.13h-1.0zm3.0 0h1.0v4.13h-1.0zm23.5 0h1.0v4.13h-1.0zm23.0 0h1.0v4.13h-1.0zM380.0 631.97h1.0v4.13h-1.0zm30.0 0h1.0v4.13h-1.0zM434.5 640.23h1.0v4.13h-1.0zm2.0 0h1.0v4.13h-1.0zM379.0 644.35h1.0v4.13h-1.0zM350.0 648.48h1.0v4.13h-1.0zm5.0 0h1.0v4.13h-1.0zm9.0 0h1.0v4.13h-1.0zm18.0 0h1.0v4.13h-1.0zM438.5 652.60h2.0v4.13h-2.0zM406.0 656.73h1.0v4.13h-1.0zm3.0 0h1.0v4.13h-1.0zm27.5 0h1.0v4.13h-1.0zm4.0 0h1.0v4.13h-1.0zm6.0 0h1.0v4.13h-1.0zm2.0 0h1.0v4.13h-1.0zm3.0 0h1.0v4.13h-1.0zm21.0 0h1.0v4.13h-1.0zM397.0 660.86h1.0v4.13h-1.0zm18.0 0h2.0v4.13h-2.0zm5.0 0h1.0v4.13h-1.0zm26.5 0h1.0v4.13h-1.0zm37.0 0h1.0v4.13h-1.0z"/><path fill="#322814" d="M367.0 442.18h1.0v4.13h-1.0zm2.0 0h1.0v4.13h-1.0zm3.0 0h1.0v4.13h-1.0zm45.0 0h1.0v4.13h-1.0zM389.0 462.81h1.0v4.13h-1.0zM434.5 471.06h1.0v4.13h-1.0zm13.0 0h1.0v4.13h-1.0zm6.0 0h1.0v4.13h-1.0zM353.0 524.70h1.0v4.13h-1.0zm49.0 0h1.0v4.13h-1.0zm6.0 0h1.0v4.13h-1.0zM389.0 557.71h1.0v4.13h-1.0zM433.5 574.21h1.0v4.13h-1.0zm43.0 0h1.0v4.13h-1.0zM356.0 590.71h1.0v4.13h-1.0zm37.0 0h1.0v4.13h-1.0zm10.0 0h1.0v4.13h-1.0zm32.5 0h1.0v4.13h-1.0zM446.5 594.84h1.0v4.13h-1.0zm10.0 0h1.0v4.13h-1.0zM461.5 615.47h1.0v4.13h-1.0zm14.0 0h1.0v4.13h-1.0zm14.0 0h0.5v4.13h-0.5zM457.5 623.72h1.0v4.13h-1.0zM470.5 652.60h1.0v4.13h-1.0zm7.0 0h1.0v4.13h-1.0zM354.0 656.73h1.0v4.13h-1.0zm19.0 0h1.0v4.13h-1.0zm40.0 0h1.0v4.13h-1.0zm2.0 0h1.0v4.13h-1.0zm8.0 0h1.0v4.13h-1.0zM360.0 660.86h1.0v4.13h-1.0zm13.0 0h1.0v4.13h-1.0z"/><path fill="#323214" d="M354.0 429.80h1.0v4.13h-1.0zm20.0 0h1.0v4.13h-1.0zm5.0 0h1.0v4.13h-1.0zm35.0 0h1.0v4.13h-1.0zm4.0 0h1.0v4.13h-1.0zM373.0 438.05h1.0v4.13h-1.0zm9.0 0h1.0v4.13h-1.0zm10.0 0h1.0v4.13h-1.0zm29.0 0h1.0v4.13h-1.0zM360.0 442.18h1.0v4.13h-1.0zm2.0 0h1.0v4.13h-1.0zm54.0 0h1.0v4.13h-1.0zM349.0 458.68h1.0v4.13h-1.0zm4.0 0h1.0v4.13h-1.0zm12.0 0h3.0v4.13h-3.0zm25.0 0h1.0v4.13h-1.0zm11.0 0h1.0v4.13h-1.0zM351.0 462.81h1.0v4.13h-1.0zm3.0 0h2.0v4.13h-2.0zm27.0 0h1.0v4.13h-1.0zM433.5 471.06h1.0v4.13h-1.0zm7.0 0h1.0v4.13h-1.0zm11.0 0h1.0v4.13h-1.0zm18.0 0h2.0v4.13h-2.0zm3.0 0h1.0v4.13h-1.0zm4.0 0h1.0v4.13h-1.0zM399.0 483.44h1.0v4.13h-1.0zM415.0 499.94h1.0v4.13h-1.0zm7.0 0h1.0v4.13h-1.0zm12.5 0h1.0v4.13h-1.0zM352.0 504.07h1.0v4.13h-1.0zM363.0 524.70h1.0v4.13h-1.0zm10.0 0h2.0v4.13h-2.0zm34.0 0h1.0v4.13h-1.0zm15.0 0h1.0v4.13h-1.0zM443.5 553.58h1.0v4.13h-1.0zM445.5 574.21h2.0v4.13h-2.0zm5.0 0h1.0v4.13h-1.0zm9.0 0h1.0v4.13h-1.0zm9.0 0h1.0v4.13h-1.0zm11.0 0h1.0v4.13h-1.0zm2.0 0h1.0v4.13h-1.0zm6.0 0h2.0v4.13h-2.0zM436.5 582.46h1.0v4.13h-1.0zM362.0 590.71h1.0v4.13h-1.0zm12.0 0h1.0v4.13h-1.0zm9.0 0h1.0v4.13h-1.0zm5.0 0h1.0v4.13h-1.0zm50.5 0h1.0v4.13h-1.0zm33.0 0h1.0v4.13h-1.0zM455.5 594.84h1.0v4.13h-1.0zm19.0 0h1.0v4.13h-1.0zm6.0 0h1.0v4.13h-1.0zM402.0 603.09h1.0v4.13h-1.0zM444.5 607.22h1.0v4.13h-1.0zm20.0 0h1.0v4.13h-1.0zM372.0 615.47h1.0v4.13h-1.0zm10.0 0h1.0v4.13h-1.0zm12.0 0h1.0v4.13h-1.0zm39.5 0h1.0v4.13h-1.0zm11.0 0h1.0v4.13h-1.0zm13.0 0h1.0v4.13h-1.0zm23.0 0h1.0v4.13h-1.0zM420.0 619.60h1.0v4.13h-1.0zm37.5 0h1.0v4.13h-1.0zM470.5 623.72h1.0v4.13h-1.0zm17.0 0h1.0v4.13h-1.0zM437.5 652.60h1.0v4.13h-1.0zm6.0 0h1.0v4.13h-1.0zm3.0 0h1.0v4.13h-1.0zm12.0 0h1.0v4.13h-1.0zm16.0 0h1.0v4.13h-1.0zm9.0 0h1.0v4.13h-1.0zm2.0 0h1.0v4.13h-1.0zM366.0 656.73h1.0v4.13h-1.0zm6.0 0h1.0v4.13h-1.0zm22.0 0h1.0v4.13h-1.0zm10.0 0h2.0v4.13h-2.0zm8.0 0h1.0v4.13h-1.0zM350.0 660.86h1.0v4.13h-1.0zm58.0 0h1.0v4.13h-1.0zm15.0 0h1.0v4.13h-1.0zm7.0 0h1.0v4.13h-1.0zm28.5 0h1.0v4.13h-1.0zm15.0 0h1.0v4.13h-1.0z"/><path fill="#32321e" d="M382.0 429.80h1.0v4.13h-1.0zM421.0 433.93h1.0v4.13h-1.0zM356.0 458.68h1.0v4.13h-1.0zM403.0 462.81h1.0v4.13h-1.0zM478.5 466.93h1.0v4.13h-1.0zM416.0 491.69h1.0v4.13h-1.0zM471.5 598.97h1.0v4.13h-1.0zM415.0 615.47h1.0v4.13h-1.0zM408.0 656.73h1.0v4.13h-1.0z"/><path fill="#3c1e3c" d="M390.0 429.80h1.0v4.13h-1.0zm9.0 0h1.0v4.13h-1.0zm23.0 0h1.0v4.13h-1.0zm8.0 0h1.0v4.13h-1.0zM358.0 433.93h1.0v4.13h-1.0zm22.0 0h1.0v4.13h-1.0zm34.0 0h1.0v4.13h-1.0zm24.5 0h1.0v4.13h-1.0zm2.0 0h1.0v4.13h-1.0zm4.0 0h1.0v4.13h-1.0zm5.0 0h2.0v4.13h-2.0zm3.0 0h3.0v4.13h-3.0zm11.0 0h1.0v4.13h-1.0zm10.0 0h1.0v4.13h-1.0zm15.0 0h1.0v4.13h-1.0zM350.0 438.05h1.0v4.13h-1.0zm17.0 0h1.0v4.13h-1.0zm12.0 0h1.0v4.13h-1.0zm6.0 0h1.0v4.13h-1.0zm3.0 0h1.0v4.13h-1.0zm2.0 0h1.0v4.13h-1.0zm10.0 0h1.0v4.13h-1.0zm6.0 0h1.0v4.13h-1.0zm3.0 0h2.0v4.13h-2.0zm19.0 0h1.0v4.13h-1.0zM368.0 442.18h1.0v4.13h-1.0zm13.0 0h1.0v4.13h-1.0zm15.0 0h1.0v4.13h-1.0zm5.0 0h1.0v4.13h-1.0zm12.0 0h1.0v4.13h-1.0zm12.0 0h1.0v4.13h-1.0zm5.0 0h1.0v4.13h-1.0zm4.5 0h3.0v4.13h-3.0zm29.0 0h1.0v4.13h-1.0zm6.0 0h1.0v4.13h-1.0zm2.0 0h2.0v4.13h-2.0zm4.0 0h1.0v4.13h-1.0zm14.0 0h0.5v4.13h-0.5zM371.0 446.30h1.0v4.13h-1.0zm7.0 0h1.0v4.13h-1.0zm7.0 0h1.0v4.13h-1.0zm6.0 0h1.0v4.13h-1.0zm4.0 0h1.0v4.13h-1.0zm7.0 0h1.0v4.13h-1.0zm29.0 0h0.7v4.13h-0.7zM357.0 454.56h1.0v4.13h-1.0zm14.0 0h1.0v4.13h-1.0zm6.0 0h3.0v4.13h-3.0zm9.0 0h1.0v4.13h-1.0zm22.0 0h2.0v4.13h-2.0zm6.0 0h1.0v4.13h-1.0zm8.0 0h1.0v4.13h-1.0zm6.0 0h1.0v4.13h-1.0zM357.0 458.68h1.0v4.13h-1.0zm5.0 0h1.0v4.13h-1.0zm86.5 0h1.0v4.13h-1.0zm2.0 0h1.0v4.13h-1.0zm2.0 0h2.0v4.13h-2.0zm10.0 0h1.0v4.13h-1.0zm6.0 0h2.0v4.13h-2.0zm8.0 0h1.0v4.13h-1.0zM358.0 462.81h1.0v4.13h-1.0zm7.0 0h1.0v4.13h-1.0zm40.0 0h1.0v4.13h-1.0zm8.0 0h1.0v4.13h-1.0zm3.0 0h1.0v4.13h-1.0zm12.0 0h1.0v4.13h-1.0zm3.0 0h0.7v4.13h-0.7zM349.0 466.93h1.0v4.13h-1.0zm18.0 0h1.0v4.13h-1.0zm7.0 0h1.0v4.13h-1.0zm13.0 0h1.0v4.13h-1.0zm14.0 0h1.0v4.13h-1.0zm8.0 0h1.0v4.13h-1.0zm7.0 0h2.0v4.13h-2.0zm5.0 0h1.0v4.13h-1.0zm3.0 0h2.0v4.13h-2.0zM351.0 471.06h1.0v4.13h-1.0zm4.0 0h1.0v4.13h-1.0zm8.0 0h2.0v4.13h-2.0zm15.0 0h2.0v4.13h-2.0zm17.0 0h1.0v4.13h-1.0zm9.0 0h2.0v4.13h-2.0zm5.0 0h1.0v4.13h-1.0zm5.0 0h1.0v4.13h-1.0zm3.0 0h2.0v4.13h-2.0zm6.0 0h1.0v4.13h-1.0zm6.0 0h2.0v4.13h-2.0zm3.5 0h1.0v4.13h-1.0zm23.0 0h1.0v4.13h-1.0zm10.0 0h1.0v4.13h-1.0zm14.0 0h1.0v4.13h-1.0zm2.0 0h1.0v4.13h-1.0zm8.0 0h0.5v4.13h-0.5zM432.5 475.19h1.0v4.13h-1.0zm4.0 0h1.0v4.13h-1.0zm4.0 0h1.0v4.13h-1.0zm3.0 0h1.0v4.13h-1.0zm10.0 0h1.0v4.13h-1.0zm4.0 0h1.0v4.13h-1.0zm2.0 0h1.0v4.13h-1.0zM353.0 479.31h1.0v4.13h-1.0zm14.0 0h1.0v4.13h-1.0zm17.0 0h2.0v4.13h-2.0zm5.0 0h1.0v4.13h-1.0zm34.0 0h1.0v4.13h-1.0zm2.0 0h1.0v4.13h-1.0zM349.0 483.44h1.0v4.13h-1.0zm3.0 0h1.0v4.13h-1.0zm13.0 0h1.0v4.13h-1.0zm19.0 0h1.0v4.13h-1.0zm7.0 0h1.0v4.13h-1.0zm28.0 0h1.0v4.13h-1.0zm18.5 0h1.0v4.13h-1.0zm16.0 0h1.0v4.13h-1.0zm3.0 0h1.0v4.13h-1.0zm12.0 0h2.0v4.13h-2.0zm6.0 0h1.0v4.13h-1.0zm11.0 0h1.0v4.13h-1.0zM381.0 487.56h1.0v4.13h-1.0zm10.0 0h1.0v4.13h-1.0zm2.0 0h1.0v4.13h-1.0zm2.0 0h2.0v4.13h-2.0zm13.0 0h1.0v4.13h-1.0zm4.0 0h1.0v4.13h-1.0zm6.0 0h1.0v4.13h-1.0zm2.0 0h1.0v4.13h-1.0zM353.0 491.69h1.0v4.13h-1.0zm11.0 0h1.0v4.13h-1.0zm7.0 0h1.0v4.13h-1.0zm14.0 0h1.0v4.13h-1.0zm2.0 0h1.0v4.13h-1.0zm19.0 0h1.0v4.13h-1.0zm3.0 0h1.0v4.13h-1.0zm4.0 0h1.0v4.13h-1.0zm24.5 0h1.0v4.13h-1.0zm14.0 0h1.0v4.13h-1.0zm29.0 0h1.0v4.13h-1.0zm2.0 0h1.0v4.13h-1.0zm3.0 0h1.0v4.13h-1.0zM358.0 499.94h1.0v4.13h-1.0zm15.0 0h1.0v4.13h-1.0zm15.0 0h1.0v4.13h-1.0zm8.0 0h1.0v4.13h-1.0zm5.0 0h1.0v4.13h-1.0zm9.0 0h1.0v4.13h-1.0zm3.0 0h1.0v4.13h-1.0zm10.0 0h1.0v4.13h-1.0zm14.5 0h1.0v4.13h-1.0zm29.0 0h1.0v4.13h-1.0zm21.0 0h1.0v4.13h-1.0zM354.0 504.07h2.0v4.13h-2.0zm6.0 0h1.0v4.13h-1.0zm24.0 0h1.0v4.13h-1.0zm5.0 0h1.0v4.13h-1.0zm9.0 0h1.0v4.13h-1.0zm22.0 0h1.0v4.13h-1.0zm4.0 0h1.0v4.13h-1.0zm13.5 0h1.0v4.13h-1.0zm25.0 0h2.0v4.13h-2.0zm25.0 0h1.0v4.13h-1.0zM439.5 516.45h1.0v4.13h-1.0zm14.0 0h1.0v4.13h-1.0zm15.0 0h1.0v4.13h-1.0zm2.0 0h1.0v4.13h-1.0zm16.0 0h1.0v4.13h-1.0zM355.0 524.70h1.0v4.13h-1.0zm2.0 0h1.0v4.13h-1.0zm24.0 0h1.0v4.13h-1.0zm7.0 0h1.0v4.13h-1.0zm5.0 0h1.0v4.13h-1.0zm5.0 0h1.0v4.13h-1.0zm2.0 0h2.0v4.13h-2.0zm11.0 0h1.0v4.13h-1.0zm3.0 0h1.0v4.13h-1.0zm14.0 0h1.0v4.13h-1.0zm8.5 0h1.0v4.13h-1.0zm10.0 0h1.0v4.13h-1.0zm11.0 0h1.0v4.13h-1.0zm4.0 0h1.0v4.13h-1.0zm3.0 0h1.0v4.13h-1.0zm4.0 0h1.0v4.13h-1.0zm2.0 0h1.0v4.13h-1.0zm7.0 0h2.0v4.13h-2.0zm3.0 0h3.0v4.13h-3.0zm4.0 0h1.0v4.13h-1.0zm2.0 0h1.0v4.13h-1.0zM361.0 532.95h1.0v4.13h-1.0zm5.0 0h1.0v4.13h-1.0zm33.0 0h1.0v4.13h-1.0zm34.5 0h1.0v4.13h-1.0zm40.0 0h1.0v4.13h-1.0zM368.0 537.08h1.0v4.13h-1.0zm29.0 0h1.0v4.13h-1.0zm13.0 0h1.0v4.13h-1.0zm34.5 0h2.0v4.13h-2.0zm15.0 0h1.0v4.13h-1.0zm16.0 0h1.0v4.13h-1.0zm3.0 0h1.0v4.13h-1.0zM349.0 541.20h1.0v4.13h-1.0zm5.0 0h2.0v4.13h-2.0zm11.0 0h1.0v4.13h-1.0zm2.0 0h1.0v4.13h-1.0zm23.0 0h1.0v4.13h-1.0zm7.0 0h1.0v4.13h-1.0zm4.0 0h1.0v4.13h-1.0zm9.0 0h1.0v4.13h-1.0zm4.0 0h2.0v4.13h-2.0zm17.0 0h0.7v4.13h-0.7zM350.0 545.33h1.0v4.13h-1.0zm3.0 0h3.0v4.13h-3.0zm11.0 0h1.0v4.13h-1.0zm36.0 0h1.0v4.13h-1.0zm22.0 0h1.0v4.13h-1.0zm8.0 0h1.0v4.13h-1.0zm40.5 0h1.0v4.13h-1.0zM351.0 549.45h1.0v4.13h-1.0zm3.0 0h1.0v4.13h-1.0zm19.0 0h1.0v4.13h-1.0zm11.0 0h1.0v4.13h-1.0zm4.0 0h1.0v4.13h-1.0zm13.0 0h1.0v4.13h-1.0zm13.0 0h1.0v4.13h-1.0zm7.0 0h1.0v4.13h-1.0zM359.0 553.58h1.0v4.13h-1.0zm8.0 0h1.0v4.13h-1.0zm5.0 0h1.0v4.13h-1.0zm15.0 0h1.0v4.13h-1.0zm11.0 0h1.0v4.13h-1.0zm14.0 0h1.0v4.13h-1.0zm6.0 0h1.0v4.13h-1.0zm56.5 0h1.0v4.13h-1.0zM360.0 561.83h1.0v4.13h-1.0zm2.0 0h1.0v4.13h-1.0zm2.0 0h1.0v4.13h-1.0zm4.0 0h2.0v4.13h-2.0zm4.0 0h1.0v4.13h-1.0zm4.0 0h1.0v4.13h-1.0zm16.0 0h1.0v4.13h-1.0zm9.0 0h1.0v4.13h-1.0zm24.0 0h2.0v4.13h-2.0zM355.0 565.96h1.0v4.13h-1.0zm2.0 0h2.0v4.13h-2.0zm8.0 0h2.0v4.13h-2.0zm3.0 0h1.0v4.13h-1.0zm13.0 0h1.0v4.13h-1.0zm9.0 0h1.0v4.13h-1.0zm2.0 0h1.0v4.13h-1.0zm2.0 0h2.0v4.13h-2.0zm12.0 0h1.0v4.13h-1.0zm3.0 0h1.0v4.13h-1.0zm10.0 0h1.0v4.13h-1.0zm17.5 0h1.0v4.13h-1.0zM429.0 570.08h1.0v4.13h-1.0zM373.0 574.21h1.0v4.13h-1.0zm14.0 0h1.0v4.13h-1.0zm38.0 0h1.0v4.13h-1.0zm35.5 0h1.0v4.13h-1.0zm4.0 0h1.0v4.13h-1.0zm16.0 0h1.0v4.13h-1.0zM354.0 578.34h1.0v4.13h-1.0zm4.0 0h1.0v4.13h-1.0zm11.0 0h1.0v4.13h-1.0zm13.0 0h2.0v4.13h-2.0zm5.0 0h3.0v4.13h-3.0zm5.0 0h1.0v4.13h-1.0zm5.0 0h1.0v4.13h-1.0zm2.0 0h1.0v4.13h-1.0zm5.0 0h1.0v4.13h-1.0zm9.0 0h1.0v4.13h-1.0zm11.0 0h1.0v4.13h-1.0zm5.0 0h1.0v4.13h-1.0zm9.5 0h1.0v4.13h-1.0zM367.0 582.46h1.0v4.13h-1.0zm6.0 0h1.0v4.13h-1.0zm50.0 0h1.0v4.13h-1.0zm14.5 0h1.0v4.13h-1.0zm4.0 0h1.0v4.13h-1.0zm11.0 0h2.0v4.13h-2.0zm10.0 0h1.0v4.13h-1.0zm7.0 0h1.0v4.13h-1.0zm4.0 0h1.0v4.13h-1.0zm2.0 0h1.0v4.13h-1.0zm8.0 0h1.0v4.13h-1.0zm5.0 0h1.0v4.13h-1.0zM350.0 586.59h1.0v4.13h-1.0zm4.0 0h1.0v4.13h-1.0zm5.0 0h1.0v4.13h-1.0zm4.0 0h2.0v4.13h-2.0zm9.0 0h1.0v4.13h-1.0zm8.0 0h1.0v4.13h-1.0zm5.0 0h1.0v4.13h-1.0zm5.0 0h2.0v4.13h-2.0zm9.0 0h2.0v4.13h-2.0zm23.0 0h2.0v4.13h-2.0zm4.0 0h1.0v4.13h-1.0zm9.5 0h1.0v4.13h-1.0zm8.0 0h1.0v4.13h-1.0zm5.0 0h1.0v4.13h-1.0zm23.0 0h1.0v4.13h-1.0zm8.0 0h1.0v4.13h-1.0zm7.0 0h1.0v4.13h-1.0zM363.0 590.71h1.0v4.13h-1.0zm10.0 0h1.0v4.13h-1.0zm7.0 0h1.0v4.13h-1.0zm16.0 0h2.0v4.13h-2.0zm10.0 0h1.0v4.13h-1.0zm11.0 0h1.0v4.13h-1.0zm41.5 0h1.0v4.13h-1.0zm22.0 0h1.0v4.13h-1.0zM364.0 594.84h1.0v4.13h-1.0zm3.0 0h1.0v4.13h-1.0zm28.0 0h1.0v4.13h-1.0zm6.0 0h1.0v4.13h-1.0zm5.0 0h1.0v4.13h-1.0zm13.0 0h1.0v4.13h-1.0zm13.5 0h1.0v4.13h-1.0zm20.0 0h1.0v4.13h-1.0zm18.0 0h1.0v4.13h-1.0zM351.0 598.97h1.0v4.13h-1.0zm2.0 0h2.0v4.13h-2.0zm14.0 0h1.0v4.13h-1.0zm5.0 0h1.0v4.13h-1.0zm4.0 0h2.0v4.13h-2.0zm8.0 0h1.0v4.13h-1.0zm11.0 0h1.0v4.13h-1.0zm2.0 0h1.0v4.13h-1.0zm6.0 0h1.0v4.13h-1.0zm49.5 0h1.0v4.13h-1.0zM350.0 603.09h1.0v4.13h-1.0zm9.0 0h1.0v4.13h-1.0zm11.0 0h1.0v4.13h-1.0zm8.0 0h1.0v4.13h-1.0zm11.0 0h3.0v4.13h-3.0zm28.0 0h1.0v4.13h-1.0zm12.0 0h1.0v4.13h-1.0zm27.5 0h1.0v4.13h-1.0zm7.0 0h1.0v4.13h-1.0zM355.0 607.22h1.0v4.13h-1.0zm6.0 0h1.0v4.13h-1.0zm6.0 0h1.0v4.13h-1.0zm2.0 0h1.0v4.13h-1.0zm10.0 0h1.0v4.13h-1.0zm31.0 0h1.0v4.13h-1.0zm11.0 0h1.0v4.13h-1.0zm10.0 0h0.7v4.13h-0.7zm9.5 0h1.0v4.13h-1.0zm34.0 0h1.0v4.13h-1.0zm4.0 0h1.0v4.13h-1.0zM361.0 611.34h1.0v4.13h-1.0zm7.0 0h1.0v4.13h-1.0zm4.0 0h1.0v4.13h-1.0zm15.0 0h1.0v4.13h-1.0zm2.0 0h2.0v4.13h-2.0zm3.0 0h2.0v4.13h-2.0zm12.0 0h1.0v4.13h-1.0zm2.0 0h1.0v4.13h-1.0zm4.0 0h1.0v4.13h-1.0zm5.0 0h1.0v4.13h-1.0zm28.5 0h1.0v4.13h-1.0zm13.0 0h1.0v4.13h-1.0zm3.0 0h1.0v4.13h-1.0zm14.0 0h1.0v4.13h-1.0zM366.0 615.47h1.0v4.13h-1.0zm14.0 0h1.0v4.13h-1.0zm13.0 0h1.0v4.13h-1.0zm11.0 0h1.0v4.13h-1.0zm4.0 0h1.0v4.13h-1.0zm11.0 0h1.0v4.13h-1.0zm2.0 0h1.0v4.13h-1.0zm17.5 0h1.0v4.13h-1.0zm8.0 0h1.0v4.13h-1.0zm16.0 0h1.0v4.13h-1.0zM354.0 619.60h1.0v4.13h-1.0zm9.0 0h1.0v4.13h-1.0zm2.0 0h1.0v4.13h-1.0zm3.0 0h1.0v4.13h-1.0zm6.0 0h1.0v4.13h-1.0zm14.0 0h1.0v4.13h-1.0zm7.0 0h1.0v4.13h-1.0zm10.0 0h1.0v4.13h-1.0zm6.0 0h1.0v4.13h-1.0zm8.0 0h1.0v4.13h-1.0zm6.0 0h1.0v4.13h-1.0zm12.5 0h1.0v4.13h-1.0zm11.0 0h1.0v4.13h-1.0zm23.0 0h1.0v4.13h-1.0zm6.0 0h1.0v4.13h-1.0zM352.0 623.72h1.0v4.13h-1.0zm12.0 0h1.0v4.13h-1.0zm4.0 0h2.0v4.13h-2.0zm7.0 0h1.0v4.13h-1.0zm10.0 0h1.0v4.13h-1.0zm26.0 0h3.0v4.13h-3.0zm5.0 0h1.0v4.13h-1.0zm13.0 0h2.0v4.13h-2.0zm18.5 0h4.0v4.13h-4.0zm22.0 0h1.0v4.13h-1.0zM353.0 627.85h1.0v4.13h-1.0zm15.0 0h1.0v4.13h-1.0zm8.0 0h1.0v4.13h-1.0zm2.0 0h1.0v4.13h-1.0zm8.0 0h4.0v4.13h-4.0zm18.0 0h1.0v4.13h-1.0zm6.0 0h1.0v4.13h-1.0zm2.0 0h1.0v4.13h-1.0zm27.5 0h1.0v4.13h-1.0zm10.0 0h1.0v4.13h-1.0zm13.0 0h1.0v4.13h-1.0zm3.0 0h1.0v4.13h-1.0zm4.0 0h1.0v4.13h-1.0zm5.0 0h1.0v4.13h-1.0zm4.0 0h1.0v4.13h-1.0zM349.0 631.97h2.0v4.13h-2.0zm11.0 0h1.0v4.13h-1.0zm13.0 0h1.0v4.13h-1.0zm19.0 0h1.0v4.13h-1.0zm4.0 0h1.0v4.13h-1.0zm6.0 0h1.0v4.13h-1.0zm14.0 0h1.0v4.13h-1.0zm15.0 0h0.7v4.13h-0.7zm18.5 0h1.0v4.13h-1.0zm13.0 0h1.0v4.13h-1.0zm6.0 0h1.0v4.13h-1.0zm4.0 0h1.0v4.13h-1.0zM462.5 640.23h1.0v4.13h-1.0zm3.0 0h1.0v4.13h-1.0zM350.0 644.35h1.0v4.13h-1.0zm9.0 0h1.0v4.13h-1.0zm18.0 0h1.0v4.13h-1.0zm5.0 0h1.0v4.13h-1.0zm14.0 0h1.0v4.13h-1.0zm3.0 0h1.0v4.13h-1.0zm4.0 0h1.0v4.13h-1.0zm22.0 0h2.0v4.13h-2.0zm5.0 0h1.0v4.13h-1.0zM349.0 648.48h1.0v4.13h-1.0zm29.0 0h1.0v4.13h-1.0zm5.0 0h1.0v4.13h-1.0zm2.0 0h1.0v4.13h-1.0zm3.0 0h1.0v4.13h-1.0zm30.0 0h1.0v4.13h-1.0zm2.0 0h1.0v4.13h-1.0zM387.0 656.73h1.0v4.13h-1.0zm14.0 0h1.0v4.13h-1.0zm6.0 0h1.0v4.13h-1.0zm11.0 0h1.0v4.13h-1.0zm14.5 0h1.0v4.13h-1.0zm6.0 0h1.0v4.13h-1.0zm5.0 0h1.0v4.13h-1.0zm2.0 0h1.0v4.13h-1.0zm2.0 0h1.0v4.13h-1.0zm17.0 0h1.0v4.13h-1.0zm13.0 0h1.0v4.13h-1.0zm3.0 0h1.0v4.13h-1.0zm2.0 0h1.0v4.13h-1.0zm4.0 0h2.0v4.13h-2.0zM356.0 660.86h1.0v4.13h-1.0zm27.0 0h1.0v4.13h-1.0zm49.5 0h1.0v4.13h-1.0zm11.0 0h3.0v4.13h-3.0zm10.0 0h1.0v4.13h-1.0zm8.0 0h1.0v4.13h-1.0zm6.0 0h1.0v4.13h-1.0zm3.0 0h1.0v4.13h-1.0zm5.0 0h1.0v4.13h-1.0zm5.0 0h1.0v4.13h-1.0zm4.0 0h1.0v4.13h-1.0zm4.0 0h1.0v4.13h-1.0z"/><path fill="#3c1e46" d="M349.0 429.80h1.0v4.13h-1.0zm14.0 0h1.0v4.13h-1.0zM361.0 433.93h1.0v4.13h-1.0zm7.0 0h1.0v4.13h-1.0zm45.0 0h1.0v4.13h-1.0zm19.5 0h1.0v4.13h-1.0zm11.0 0h1.0v4.13h-1.0zm8.0 0h1.0v4.13h-1.0zM359.0 438.05h2.0v4.13h-2.0zm71.0 0h1.0v4.13h-1.0zm27.5 0h1.0v4.13h-1.0zm7.0 0h1.0v4.13h-1.0zM376.0 442.18h1.0v4.13h-1.0zm16.0 0h1.0v4.13h-1.0zm34.0 0h1.0v4.13h-1.0zm18.5 0h1.0v4.13h-1.0zm10.0 0h1.0v4.13h-1.0zm5.0 0h1.0v4.13h-1.0zm3.0 0h1.0v4.13h-1.0zm3.0 0h1.0v4.13h-1.0zm5.0 0h1.0v4.13h-1.0zm9.0 0h1.0v4.13h-1.0zm2.0 0h1.0v4.13h-1.0zM374.0 446.30h1.0v4.13h-1.0zm7.0 0h1.0v4.13h-1.0zm46.0 0h1.0v4.13h-1.0zm29.5 0h1.0v4.13h-1.0zm3.0 0h1.0v4.13h-1.0zM350.0 454.56h1.0v4.13h-1.0zm11.0 0h1.0v4.13h-1.0zm7.0 0h1.0v4.13h-1.0zm8.0 0h1.0v4.13h-1.0zM355.0 458.68h1.0v4.13h-1.0zm24.0 0h1.0v4.13h-1.0zm60.5 0h1.0v4.13h-1.0zm4.0 0h1.0v4.13h-1.0zm3.0 0h1.0v4.13h-1.0zm28.0 0h1.0v4.13h-1.0zm9.0 0h1.0v4.13h-1.0zM349.0 462.81h1.0v4.13h-1.0zm13.0 0h1.0v4.13h-1.0zm20.0 0h1.0v4.13h-1.0zm4.0 0h1.0v4.13h-1.0zm37.0 0h1.0v4.13h-1.0zM352.0 466.93h1.0v4.13h-1.0zm28.0 0h1.0v4.13h-1.0zm5.0 0h1.0v4.13h-1.0zm13.0 0h1.0v4.13h-1.0zm5.0 0h1.0v4.13h-1.0zm3.0 0h1.0v4.13h-1.0zm75.5 0h1.0v4.13h-1.0zM350.0 471.06h1.0v4.13h-1.0zm4.0 0h1.0v4.13h-1.0zm7.0 0h1.0v4.13h-1.0zm24.0 0h1.0v4.13h-1.0zm22.0 0h1.0v4.13h-1.0zm14.0 0h1.0v4.13h-1.0zm3.0 0h1.0v4.13h-1.0zM389.0 475.19h1.0v4.13h-1.0zm74.5 0h1.0v4.13h-1.0zm12.0 0h1.0v4.13h-1.0zM351.0 479.31h1.0v4.13h-1.0zm5.0 0h1.0v4.13h-1.0zm5.0 0h2.0v4.13h-2.0zm9.0 0h1.0v4.13h-1.0zm31.0 0h2.0v4.13h-2.0zm12.0 0h1.0v4.13h-1.0zM353.0 483.44h1.0v4.13h-1.0zm11.0 0h1.0v4.13h-1.0zm11.0 0h1.0v4.13h-1.0zm58.5 0h2.0v4.13h-2.0zm3.0 0h1.0v4.13h-1.0zm10.0 0h1.0v4.13h-1.0zm17.0 0h1.0v4.13h-1.0zM352.0 487.56h1.0v4.13h-1.0zm16.0 0h1.0v4.13h-1.0zm70.5 0h1.0v4.13h-1.0zM379.0 491.69h1.0v4.13h-1.0zm7.0 0h1.0v4.13h-1.0zm8.0 0h1.0v4.13h-1.0zm40.5 0h1.0v4.13h-1.0zm31.0 0h1.0v4.13h-1.0zm4.0 0h2.0v4.13h-2.0zm4.0 0h1.0v4.13h-1.0zm10.0 0h1.0v4.13h-1.0zM383.0 499.94h1.0v4.13h-1.0zM351.0 504.07h1.0v4.13h-1.0zm19.0 0h1.0v4.13h-1.0zm8.0 0h1.0v4.13h-1.0zm68.5 0h1.0v4.13h-1.0zM447.5 516.45h1.0v4.13h-1.0zm20.0 0h1.0v4.13h-1.0zm20.0 0h1.0v4.13h-1.0zM350.0 524.70h1.0v4.13h-1.0zm15.0 0h1.0v4.13h-1.0zm21.0 0h1.0v4.13h-1.0zm8.0 0h1.0v4.13h-1.0zm33.0 0h1.0v4.13h-1.0zm61.5 0h1.0v4.13h-1.0zM358.0 532.95h2.0v4.13h-2.0zm18.0 0h1.0v4.13h-1.0zm26.0 0h1.0v4.13h-1.0zm29.0 0h0.7v4.13h-0.7zM351.0 537.08h1.0v4.13h-1.0zm111.5 0h1.0v4.13h-1.0zm6.0 0h1.0v4.13h-1.0zM357.0 541.20h1.0v4.13h-1.0zm2.0 0h1.0v4.13h-1.0zm7.0 0h1.0v4.13h-1.0zm12.0 0h2.0v4.13h-2.0zm58.5 0h1.0v4.13h-1.0zM349.0 545.33h1.0v4.13h-1.0zm12.0 0h1.0v4.13h-1.0zm20.0 0h1.0v4.13h-1.0zm24.0 0h1.0v4.13h-1.0zm38.5 0h1.0v4.13h-1.0zM369.0 549.45h2.0v4.13h-2.0zM355.0 553.58h1.0v4.13h-1.0zm110.5 0h1.0v4.13h-1.0zM371.0 561.83h1.0v4.13h-1.0zm3.0 0h1.0v4.13h-1.0zm57.0 0h0.7v4.13h-0.7zM376.0 565.96h1.0v4.13h-1.0zm8.0 0h1.0v4.13h-1.0zm24.0 0h1.0v4.13h-1.0zm5.0 0h1.0v4.13h-1.0zm2.0 0h1.0v4.13h-1.0zm6.0 0h1.0v4.13h-1.0zm2.0 0h1.0v4.13h-1.0zM437.5 570.08h1.0v4.13h-1.0zM403.0 574.21h1.0v4.13h-1.0zm25.0 0h1.0v4.13h-1.0zm46.5 0h1.0v4.13h-1.0zm9.0 0h1.0v4.13h-1.0zm3.0 0h1.0v4.13h-1.0zM363.0 578.34h1.0v4.13h-1.0zm9.0 0h1.0v4.13h-1.0zm23.0 0h1.0v4.13h-1.0zm16.0 0h1.0v4.13h-1.0zm14.0 0h1.0v4.13h-1.0zM482.5 582.46h1.0v4.13h-1.0zM373.0 586.59h1.0v4.13h-1.0zm5.0 0h1.0v4.13h-1.0zm24.0 0h1.0v4.13h-1.0zm4.0 0h1.0v4.13h-1.0zm4.0 0h1.0v4.13h-1.0zm71.5 0h1.0v4.13h-1.0zm7.0 0h1.0v4.13h-1.0zM423.0 590.71h1.0v4.13h-1.0zm53.5 0h1.0v4.13h-1.0zM370.0 594.84h1.0v4.13h-1.0zM356.0 598.97h1.0v4.13h-1.0zm2.0 0h1.0v4.13h-1.0zm12.0 0h1.0v4.13h-1.0zm15.0 0h1.0v4.13h-1.0zm7.0 0h1.0v4.13h-1.0zm16.0 0h1.0v4.13h-1.0zm9.0 0h1.0v4.13h-1.0zm2.0 0h1.0v4.13h-1.0zm6.0 0h1.0v4.13h-1.0zM351.0 603.09h2.0v4.13h-2.0zm26.0 0h1.0v4.13h-1.0zm5.0 0h1.0v4.13h-1.0zm69.5 0h1.0v4.13h-1.0zM378.0 607.22h1.0v4.13h-1.0zm23.0 0h1.0v4.13h-1.0zm2.0 0h1.0v4.13h-1.0zm9.0 0h1.0v4.13h-1.0zm14.0 0h2.0v4.13h-2.0zm23.5 0h1.0v4.13h-1.0zm2.0 0h1.0v4.13h-1.0zm36.0 0h1.0v4.13h-1.0zM355.0 611.34h1.0v4.13h-1.0zM361.0 615.47h1.0v4.13h-1.0zm37.0 0h2.0v4.13h-2.0zM452.5 619.60h1.0v4.13h-1.0zm14.0 0h1.0v4.13h-1.0zm7.0 0h1.0v4.13h-1.0zM357.0 623.72h1.0v4.13h-1.0zm5.0 0h1.0v4.13h-1.0zm29.0 0h1.0v4.13h-1.0zm24.0 0h1.0v4.13h-1.0zm6.0 0h1.0v4.13h-1.0zm6.0 0h1.0v4.13h-1.0zm4.0 0h0.7v4.13h-0.7zM350.0 627.85h1.0v4.13h-1.0zm44.0 0h1.0v4.13h-1.0zm7.0 0h1.0v4.13h-1.0zm20.0 0h2.0v4.13h-2.0zm22.5 0h1.0v4.13h-1.0zm11.0 0h1.0v4.13h-1.0zm17.0 0h1.0v4.13h-1.0zm2.0 0h1.0v4.13h-1.0zm14.0 0h1.0v4.13h-1.0zM371.0 631.97h1.0v4.13h-1.0zm20.0 0h1.0v4.13h-1.0zm9.0 0h1.0v4.13h-1.0zm7.0 0h1.0v4.13h-1.0zm12.0 0h1.0v4.13h-1.0zm2.0 0h1.0v4.13h-1.0zm23.5 0h1.0v4.13h-1.0zM444.5 640.23h1.0v4.13h-1.0zm43.0 0h1.0v4.13h-1.0zM352.0 644.35h1.0v4.13h-1.0zm13.0 0h1.0v4.13h-1.0zm18.0 0h1.0v4.13h-1.0zm24.0 0h1.0v4.13h-1.0zm11.0 0h1.0v4.13h-1.0zM368.0 648.48h1.0v4.13h-1.0zm13.0 0h1.0v4.13h-1.0zm8.0 0h1.0v4.13h-1.0zm9.0 0h1.0v4.13h-1.0zM375.0 656.73h1.0v4.13h-1.0zm3.0 0h1.0v4.13h-1.0zm14.0 0h1.0v4.13h-1.0zm4.0 0h1.0v4.13h-1.0zm6.0 0h1.0v4.13h-1.0zm12.0 0h1.0v4.13h-1.0zm19.5 0h1.0v4.13h-1.0zm24.0 0h1.0v4.13h-1.0zM352.0 660.86h1.0v4.13h-1.0zm6.0 0h1.0v4.13h-1.0zm23.0 0h1.0v4.13h-1.0zm28.0 0h1.0v4.13h-1.0zm27.5 0h1.0v4.13h-1.0zm2.0 0h2.0v4.13h-2.0zm51.0 0h0.5v4.13h-0.5z"/><path fill="#3c321e" d="M359.0 429.80h1.0v4.13h-1.0zm22.0 0h1.0v4.13h-1.0zm44.0 0h1.0v4.13h-1.0zm49.5 0h1.0v4.13h-1.0zm9.0 0h1.0v4.13h-1.0zM466.5 438.05h1.0v4.13h-1.0zm9.0 0h1.0v4.13h-1.0zM377.0 442.18h1.0v4.13h-1.0zm21.0 0h1.0v4.13h-1.0zM398.0 458.68h1.0v4.13h-1.0zm4.0 0h1.0v4.13h-1.0zm10.0 0h1.0v4.13h-1.0zM376.0 462.81h1.0v4.13h-1.0zm8.0 0h1.0v4.13h-1.0zm12.0 0h1.0v4.13h-1.0zm11.0 0h1.0v4.13h-1.0zm4.0 0h1.0v4.13h-1.0zM432.5 466.93h2.0v4.13h-2.0zm54.0 0h1.0v4.13h-1.0zm2.0 0h1.0v4.13h-1.0zM448.5 471.06h1.0v4.13h-1.0zm36.0 0h1.0v4.13h-1.0zM424.0 475.19h1.0v4.13h-1.0zM376.0 483.44h1.0v4.13h-1.0zm47.0 0h2.0v4.13h-2.0zM426.0 487.56h1.0v4.13h-1.0zm21.5 0h1.0v4.13h-1.0zm15.0 0h1.0v4.13h-1.0zM358.0 491.69h1.0v4.13h-1.0zm4.0 0h1.0v4.13h-1.0zm60.0 0h1.0v4.13h-1.0zM468.5 499.94h1.0v4.13h-1.0zm18.0 0h1.0v4.13h-1.0zM391.0 504.07h1.0v4.13h-1.0zm6.0 0h1.0v4.13h-1.0zM417.0 516.45h1.0v4.13h-1.0zM377.0 524.70h1.0v4.13h-1.0zm19.0 0h1.0v4.13h-1.0zm8.0 0h1.0v4.13h-1.0zm15.0 0h1.0v4.13h-1.0zM458.5 541.20h1.0v4.13h-1.0zM407.0 549.45h1.0v4.13h-1.0zm10.0 0h1.0v4.13h-1.0zM436.5 553.58h1.0v4.13h-1.0zm9.0 0h1.0v4.13h-1.0zm10.0 0h1.0v4.13h-1.0zm29.0 0h1.0v4.13h-1.0zM454.5 561.83h1.0v4.13h-1.0zM351.0 574.21h1.0v4.13h-1.0zm27.0 0h1.0v4.13h-1.0zm7.0 0h1.0v4.13h-1.0zm33.0 0h1.0v4.13h-1.0zM358.0 582.46h1.0v4.13h-1.0zm3.0 0h1.0v4.13h-1.0zm63.0 0h1.0v4.13h-1.0zm40.5 0h1.0v4.13h-1.0zM432.5 586.59h1.0v4.13h-1.0zm36.0 0h1.0v4.13h-1.0zM355.0 590.71h1.0v4.13h-1.0zm69.0 0h1.0v4.13h-1.0zm13.5 0h1.0v4.13h-1.0zM459.5 594.84h1.0v4.13h-1.0zm4.0 0h1.0v4.13h-1.0zm6.0 0h1.0v4.13h-1.0zM459.5 598.97h1.0v4.13h-1.0zm19.0 0h1.0v4.13h-1.0zM356.0 603.09h1.0v4.13h-1.0zm133.5 0h0.5v4.13h-0.5zM433.5 607.22h1.0v4.13h-1.0zm49.0 0h1.0v4.13h-1.0zM352.0 611.34h1.0v4.13h-1.0zm86.5 0h1.0v4.13h-1.0zM396.0 615.47h1.0v4.13h-1.0zm46.5 0h1.0v4.13h-1.0zM371.0 619.60h1.0v4.13h-1.0zm109.5 0h1.0v4.13h-1.0zM464.5 623.72h1.0v4.13h-1.0zm3.0 0h1.0v4.13h-1.0zM419.0 627.85h1.0v4.13h-1.0zM441.5 631.97h1.0v4.13h-1.0zM441.5 640.23h1.0v4.13h-1.0zm13.0 0h1.0v4.13h-1.0zM448.5 652.60h1.0v4.13h-1.0zm11.0 0h1.0v4.13h-1.0zm4.0 0h1.0v4.13h-1.0zm8.0 0h1.0v4.13h-1.0zm2.0 0h1.0v4.13h-1.0zM357.0 656.73h1.0v4.13h-1.0zm12.0 0h1.0v4.13h-1.0zm5.0 0h1.0v4.13h-1.0zm17.0 0h1.0v4.13h-1.0zm37.0 0h1.0v4.13h-1.0zM396.0 660.86h1.0v4.13h-1.0zm3.0 0h1.0v4.13h-1.0zm32.0 0h0.7v4.13h-0.7zm28.5 0h1.0v4.13h-1.0zm26.0 0h1.0v4.13h-1.0z"/><path fill="#3c3c1e" d="M361.0 429.80h1.0v4.13h-1.0zm27.0 0h1.0v4.13h-1.0zm6.0 0h1.0v4.13h-1.0zm8.0 0h1.0v4.13h-1.0zm2.0 0h1.0v4.13h-1.0zm66.5 0h1.0v4.13h-1.0zM350.0 433.93h1.0v4.13h-1.0zm13.0 0h1.0v4.13h-1.0zm6.0 0h1.0v4.13h-1.0zm23.0 0h1.0v4.13h-1.0zm9.0 0h2.0v4.13h-2.0zm26.0 0h1.0v4.13h-1.0zM357.0 438.05h1.0v4.13h-1.0zm87.5 0h2.0v4.13h-2.0zm3.0 0h1.0v4.13h-1.0zm2.0 0h1.0v4.13h-1.0zm28.0 0h1.0v4.13h-1.0zm11.0 0h1.0v4.13h-1.0zM373.0 442.18h1.0v4.13h-1.0zm5.0 0h1.0v4.13h-1.0zm41.0 0h1.0v4.13h-1.0zm5.0 0h1.0v4.13h-1.0zm5.0 0h1.0v4.13h-1.0zM467.5 446.30h1.0v4.13h-1.0zM369.0 458.68h1.0v4.13h-1.0zm17.0 0h1.0v4.13h-1.0zm14.0 0h1.0v4.13h-1.0zm3.0 0h1.0v4.13h-1.0zM364.0 462.81h1.0v4.13h-1.0zm15.0 0h1.0v4.13h-1.0zm12.0 0h1.0v4.13h-1.0zm8.0 0h1.0v4.13h-1.0zm30.0 0h1.0v4.13h-1.0zM462.5 466.93h1.0v4.13h-1.0zm6.0 0h1.0v4.13h-1.0zm12.0 0h1.0v4.13h-1.0zm7.0 0h1.0v4.13h-1.0zM436.5 471.06h1.0v4.13h-1.0zm37.0 0h1.0v4.13h-1.0zM357.0 475.19h1.0v4.13h-1.0zm41.0 0h1.0v4.13h-1.0zm2.0 0h1.0v4.13h-1.0zm18.0 0h1.0v4.13h-1.0zm8.0 0h1.0v4.13h-1.0zM445.5 479.31h1.0v4.13h-1.0zm37.0 0h1.0v4.13h-1.0zM358.0 483.44h1.0v4.13h-1.0zm4.0 0h1.0v4.13h-1.0zm41.0 0h1.0v4.13h-1.0zm3.0 0h1.0v4.13h-1.0zm25.0 0h0.7v4.13h-0.7zM454.5 487.56h1.0v4.13h-1.0zM365.0 491.69h1.0v4.13h-1.0zm15.0 0h2.0v4.13h-2.0zm12.0 0h1.0v4.13h-1.0zm36.0 0h1.0v4.13h-1.0zM350.0 499.94h1.0v4.13h-1.0zm14.0 0h1.0v4.13h-1.0zm2.0 0h1.0v4.13h-1.0zm18.0 0h1.0v4.13h-1.0zm22.0 0h1.0v4.13h-1.0zm23.0 0h1.0v4.13h-1.0zm18.5 0h1.0v4.13h-1.0zm8.0 0h1.0v4.13h-1.0zm22.0 0h1.0v4.13h-1.0zm12.0 0h0.5v4.13h-0.5zM377.0 504.07h1.0v4.13h-1.0zm22.0 0h1.0v4.13h-1.0zm3.0 0h1.0v4.13h-1.0zM354.0 516.45h1.0v4.13h-1.0zm2.0 0h1.0v4.13h-1.0zm9.0 0h1.0v4.13h-1.0zm2.0 0h2.0v4.13h-2.0zm6.0 0h1.0v4.13h-1.0zm6.0 0h1.0v4.13h-1.0zm10.0 0h1.0v4.13h-1.0zm24.0 0h1.0v4.13h-1.0zm8.0 0h1.0v4.13h-1.0zm2.0 0h1.0v4.13h-1.0zm7.0 0h1.0v4.13h-1.0zM362.0 524.70h1.0v4.13h-1.0zm5.0 0h1.0v4.13h-1.0zm30.0 0h1.0v4.13h-1.0zm12.0 0h1.0v4.13h-1.0zm6.0 0h1.0v4.13h-1.0zm3.0 0h1.0v4.13h-1.0zm6.0 0h1.0v4.13h-1.0zM379.0 537.08h1.0v4.13h-1.0zm70.5 0h1.0v4.13h-1.0zm30.0 0h1.0v4.13h-1.0zM437.5 541.20h1.0v4.13h-1.0zm4.0 0h2.0v4.13h-2.0zm7.0 0h1.0v4.13h-1.0zm16.0 0h1.0v4.13h-1.0zm11.0 0h1.0v4.13h-1.0zm13.0 0h1.0v4.13h-1.0zM444.5 545.33h1.0v4.13h-1.0zm21.0 0h1.0v4.13h-1.0zm19.0 0h1.0v4.13h-1.0zM356.0 549.45h1.0v4.13h-1.0zm24.0 0h1.0v4.13h-1.0zm38.0 0h1.0v4.13h-1.0zm7.0 0h1.0v4.13h-1.0zM439.5 553.58h1.0v4.13h-1.0zm8.0 0h1.0v4.13h-1.0zm7.0 0h1.0v4.13h-1.0zm7.0 0h1.0v4.13h-1.0zm3.0 0h1.0v4.13h-1.0zm9.0 0h1.0v4.13h-1.0zm2.0 0h2.0v4.13h-2.0zM447.5 561.83h1.0v4.13h-1.0zm8.0 0h3.0v4.13h-3.0zm10.0 0h1.0v4.13h-1.0zm12.0 0h1.0v4.13h-1.0zM472.5 565.96h1.0v4.13h-1.0zm7.0 0h1.0v4.13h-1.0zM363.0 570.08h1.0v4.13h-1.0zm2.0 0h1.0v4.13h-1.0zm4.0 0h1.0v4.13h-1.0zm28.0 0h1.0v4.13h-1.0zm16.0 0h1.0v4.13h-1.0zM368.0 574.21h2.0v4.13h-2.0zm49.0 0h1.0v4.13h-1.0zm4.0 0h1.0v4.13h-1.0zm42.5 0h1.0v4.13h-1.0zm7.0 0h1.0v4.13h-1.0zm8.0 0h1.0v4.13h-1.0zm4.0 0h1.0v4.13h-1.0zM472.5 578.34h1.0v4.13h-1.0zm4.0 0h1.0v4.13h-1.0zm9.0 0h1.0v4.13h-1.0zm4.0 0h0.5v4.13h-0.5zM349.0 582.46h1.0v4.13h-1.0zm7.0 0h1.0v4.13h-1.0zm18.0 0h1.0v4.13h-1.0zm23.0 0h1.0v4.13h-1.0zm6.0 0h1.0v4.13h-1.0zm60.5 0h1.0v4.13h-1.0zm24.0 0h1.0v4.13h-1.0zM457.5 586.59h1.0v4.13h-1.0zm25.0 0h1.0v4.13h-1.0zm5.0 0h1.0v4.13h-1.0zM358.0 590.71h1.0v4.13h-1.0zm52.0 0h1.0v4.13h-1.0zm18.0 0h3.0v4.13h-3.0zm6.5 0h1.0v4.13h-1.0zM441.5 594.84h1.0v4.13h-1.0zm6.0 0h1.0v4.13h-1.0zm7.0 0h1.0v4.13h-1.0zm7.0 0h1.0v4.13h-1.0zm4.0 0h1.0v4.13h-1.0zm7.0 0h1.0v4.13h-1.0zM470.5 598.97h1.0v4.13h-1.0zm13.0 0h1.0v4.13h-1.0zM405.0 603.09h1.0v4.13h-1.0zm11.0 0h1.0v4.13h-1.0zm14.0 0h1.0v4.13h-1.0zm20.5 0h1.0v4.13h-1.0zm31.0 0h1.0v4.13h-1.0zm2.0 0h1.0v4.13h-1.0zM400.0 607.22h1.0v4.13h-1.0zm34.5 0h1.0v4.13h-1.0zm11.0 0h1.0v4.13h-1.0zm8.0 0h1.0v4.13h-1.0zm20.0 0h1.0v4.13h-1.0zm7.0 0h1.0v4.13h-1.0zM362.0 611.34h1.0v4.13h-1.0zm12.0 0h1.0v4.13h-1.0zm54.0 0h1.0v4.13h-1.0zm26.5 0h1.0v4.13h-1.0zm14.0 0h1.0v4.13h-1.0zM359.0 615.47h1.0v4.13h-1.0zm3.0 0h1.0v4.13h-1.0zm3.0 0h1.0v4.13h-1.0zm88.5 0h1.0v4.13h-1.0zm2.0 0h1.0v4.13h-1.0zm3.0 0h1.0v4.13h-1.0zm7.0 0h1.0v4.13h-1.0zm18.0 0h1.0v4.13h-1.0zM357.0 619.60h1.0v4.13h-1.0zm9.0 0h1.0v4.13h-1.0zm23.0 0h1.0v4.13h-1.0zm24.0 0h1.0v4.13h-1.0zm19.5 0h1.0v4.13h-1.0zm6.0 0h1.0v4.13h-1.0zm17.0 0h1.0v4.13h-1.0zm12.0 0h1.0v4.13h-1.0zm12.0 0h1.0v4.13h-1.0zM458.5 623.72h1.0v4.13h-1.0zm5.0 0h1.0v4.13h-1.0zm9.0 0h1.0v4.13h-1.0zm6.0 0h1.0v4.13h-1.0zM357.0 627.85h1.0v4.13h-1.0zM451.5 631.97h1.0v4.13h-1.0zm13.0 0h2.0v4.13h-2.0zm21.0 0h1.0v4.13h-1.0zm3.0 0h1.5v4.13h-1.5zM367.0 640.23h1.0v4.13h-1.0zm5.0 0h1.0v4.13h-1.0zm36.0 0h1.0v4.13h-1.0zm5.0 0h1.0v4.13h-1.0zm16.0 0h1.0v4.13h-1.0zm9.5 0h1.0v4.13h-1.0zm9.0 0h1.0v4.13h-1.0zm23.0 0h2.0v4.13h-2.0zm4.0 0h1.0v4.13h-1.0zM432.5 648.48h1.0v4.13h-1.0zm3.0 0h1.0v4.13h-1.0zm16.0 0h1.0v4.13h-1.0zM436.5 652.60h1.0v4.13h-1.0zm8.0 0h1.0v4.13h-1.0zm18.0 0h1.0v4.13h-1.0zm13.0 0h1.0v4.13h-1.0zm12.0 0h1.0v4.13h-1.0zM363.0 656.73h1.0v4.13h-1.0zm19.0 0h1.0v4.13h-1.0zm3.0 0h1.0v4.13h-1.0zm41.0 0h1.0v4.13h-1.0zM376.0 660.86h1.0v4.13h-1.0zm35.0 0h1.0v4.13h-1.0zm13.0 0h1.0v4.13h-1.0zm28.5 0h1.0v4.13h-1.0zm26.0 0h1.0v4.13h-1.0z"/><path fill="#461e46" d="M351.0 429.80h1.0v4.13h-1.0zm13.0 0h2.0v4.13h-2.0zm65.0 0h1.0v4.13h-1.0zm23.5 0h1.0v4.13h-1.0zm4.0 0h1.0v4.13h-1.0zm12.0 0h1.0v4.13h-1.0zm5.0 0h1.0v4.13h-1.0zM447.5 433.93h1.0v4.13h-1.0zm15.0 0h1.0v4.13h-1.0zm2.0 0h1.0v4.13h-1.0zm7.0 0h2.0v4.13h-2.0zm8.0 0h1.0v4.13h-1.0zm10.0 0h0.5v4.13h-0.5zM352.0 438.05h1.0v4.13h-1.0zm26.0 0h1.0v4.13h-1.0zm39.0 0h1.0v4.13h-1.0zm3.0 0h1.0v4.13h-1.0zm7.0 0h1.0v4.13h-1.0zm16.5 0h1.0v4.13h-1.0zM352.0 442.18h1.0v4.13h-1.0zm18.0 0h1.0v4.13h-1.0zm16.0 0h1.0v4.13h-1.0zm18.0 0h1.0v4.13h-1.0zm24.0 0h1.0v4.13h-1.0zm23.5 0h1.0v4.13h-1.0zM377.0 446.30h1.0v4.13h-1.0zm70.5 0h1.0v4.13h-1.0zM354.0 454.56h1.0v4.13h-1.0zm19.0 0h2.0v4.13h-2.0zm11.0 0h1.0v4.13h-1.0zm4.0 0h1.0v4.13h-1.0zm2.0 0h1.0v4.13h-1.0zm5.0 0h1.0v4.13h-1.0zm12.0 0h1.0v4.13h-1.0zm20.0 0h1.0v4.13h-1.0zM361.0 458.68h1.0v4.13h-1.0zm47.0 0h1.0v4.13h-1.0zm26.5 0h1.0v4.13h-1.0zm3.0 0h2.0v4.13h-2.0zm48.0 0h1.0v4.13h-1.0zm3.0 0h1.0v4.13h-1.0zM414.0 462.81h1.0v4.13h-1.0zM357.0 466.93h1.0v4.13h-1.0zm32.0 0h1.0v4.13h-1.0zM352.0 471.06h1.0v4.13h-1.0zm6.0 0h1.0v4.13h-1.0zm25.0 0h1.0v4.13h-1.0zm3.0 0h1.0v4.13h-1.0zm11.0 0h1.0v4.13h-1.0zm2.0 0h1.0v4.13h-1.0zm3.0 0h1.0v4.13h-1.0zM441.5 475.19h1.0v4.13h-1.0zm3.0 0h1.0v4.13h-1.0zm17.0 0h1.0v4.13h-1.0zm20.0 0h1.0v4.13h-1.0zm8.0 0h0.5v4.13h-0.5zM365.0 479.31h1.0v4.13h-1.0zm25.0 0h1.0v4.13h-1.0zm19.0 0h1.0v4.13h-1.0zM380.0 483.44h1.0v4.13h-1.0zm3.0 0h1.0v4.13h-1.0zm13.0 0h1.0v4.13h-1.0zm20.0 0h1.0v4.13h-1.0zm24.5 0h1.0v4.13h-1.0zm3.0 0h1.0v4.13h-1.0zm6.0 0h1.0v4.13h-1.0zm13.0 0h1.0v4.13h-1.0zm15.0 0h1.0v4.13h-1.0zM357.0 487.56h1.0v4.13h-1.0zm20.0 0h1.0v4.13h-1.0zm10.0 0h1.0v4.13h-1.0zm7.0 0h1.0v4.13h-1.0zm3.0 0h1.0v4.13h-1.0zM368.0 491.69h1.0v4.13h-1.0zm15.0 0h1.0v4.13h-1.0zm12.0 0h1.0v4.13h-1.0zm8.0 0h1.0v4.13h-1.0zm4.0 0h1.0v4.13h-1.0zm20.0 0h1.0v4.13h-1.0zm22.5 0h1.0v4.13h-1.0zm40.0 0h0.5v4.13h-0.5zM407.0 499.94h3.0v4.13h-3.0zm39.5 0h1.0v4.13h-1.0zm11.0 0h1.0v4.13h-1.0zM379.0 504.07h1.0v4.13h-1.0zm34.0 0h1.0v4.13h-1.0zm28.5 0h1.0v4.13h-1.0zm6.0 0h1.0v4.13h-1.0zm6.0 0h1.0v4.13h-1.0zm7.0 0h1.0v4.13h-1.0zm4.0 0h1.0v4.13h-1.0zm2.0 0h1.0v4.13h-1.0zm7.0 0h1.0v4.13h-1.0zm5.0 0h2.0v4.13h-2.0zM443.5 516.45h1.0v4.13h-1.0zm3.0 0h1.0v4.13h-1.0zm3.0 0h1.0v4.13h-1.0zm2.0 0h1.0v4.13h-1.0zm10.0 0h1.0v4.13h-1.0zM370.0 524.70h1.0v4.13h-1.0zm13.0 0h1.0v4.13h-1.0zm30.0 0h1.0v4.13h-1.0zm3.0 0h1.0v4.13h-1.0zm15.0 0h0.7v4.13h-0.7zM383.0 532.95h1.0v4.13h-1.0zm11.0 0h1.0v4.13h-1.0zm25.0 0h1.0v4.13h-1.0zM357.0 537.08h1.0v4.13h-1.0zm2.0 0h1.0v4.13h-1.0zm10.0 0h1.0v4.13h-1.0zm19.0 0h2.0v4.13h-2.0zm5.0 0h1.0v4.13h-1.0zm18.0 0h1.0v4.13h-1.0zm8.0 0h1.0v4.13h-1.0zm4.0 0h1.0v4.13h-1.0zM356.0 541.20h1.0v4.13h-1.0zm31.0 0h1.0v4.13h-1.0zm6.0 0h2.0v4.13h-2.0zm23.0 0h1.0v4.13h-1.0zM389.0 545.33h1.0v4.13h-1.0zm10.0 0h1.0v4.13h-1.0zm20.0 0h1.0v4.13h-1.0zm6.0 0h1.0v4.13h-1.0zM362.0 549.45h1.0v4.13h-1.0zm46.0 0h1.0v4.13h-1.0zm20.0 0h3.0v4.13h-3.0zM357.0 553.58h1.0v4.13h-1.0zm16.0 0h1.0v4.13h-1.0zm18.0 0h1.0v4.13h-1.0zm3.0 0h1.0v4.13h-1.0zm22.0 0h1.0v4.13h-1.0zM357.0 561.83h1.0v4.13h-1.0zm55.0 0h1.0v4.13h-1.0zm6.0 0h1.0v4.13h-1.0zM351.0 565.96h1.0v4.13h-1.0zm8.0 0h1.0v4.13h-1.0zm4.0 0h1.0v4.13h-1.0zm6.0 0h1.0v4.13h-1.0zm19.0 0h1.0v4.13h-1.0zm9.0 0h2.0v4.13h-2.0zm6.0 0h2.0v4.13h-2.0zm11.0 0h1.0v4.13h-1.0zm2.0 0h1.0v4.13h-1.0zM433.5 570.08h1.0v4.13h-1.0zm34.0 0h1.0v4.13h-1.0zm4.0 0h1.0v4.13h-1.0zM366.0 574.21h1.0v4.13h-1.0zm16.0 0h1.0v4.13h-1.0zm10.0 0h1.0v4.13h-1.0zm6.0 0h1.0v4.13h-1.0zm14.0 0h1.0v4.13h-1.0zm18.0 0h1.0v4.13h-1.0zM378.0 578.34h1.0v4.13h-1.0zm7.0 0h1.0v4.13h-1.0zm6.0 0h1.0v4.13h-1.0zm7.0 0h1.0v4.13h-1.0zm12.0 0h1.0v4.13h-1.0zm5.0 0h1.0v4.13h-1.0zm2.0 0h1.0v4.13h-1.0zm14.0 0h0.7v4.13h-0.7zM350.0 582.46h1.0v4.13h-1.0zm55.0 0h1.0v4.13h-1.0zm27.5 0h1.0v4.13h-1.0zm15.0 0h1.0v4.13h-1.0zm7.0 0h1.0v4.13h-1.0zm23.0 0h1.0v4.13h-1.0zM375.0 586.59h1.0v4.13h-1.0zm11.0 0h1.0v4.13h-1.0zm38.0 0h2.0v4.13h-2.0zm39.5 0h1.0v4.13h-1.0zm11.0 0h1.0v4.13h-1.0zM391.0 590.71h1.0v4.13h-1.0zm49.5 0h1.0v4.13h-1.0zm8.0 0h1.0v4.13h-1.0zM365.0 594.84h2.0v4.13h-2.0zm108.5 0h1.0v4.13h-1.0zM366.0 598.97h1.0v4.13h-1.0zm61.0 0h2.0v4.13h-2.0zM410.0 603.09h1.0v4.13h-1.0zm9.0 0h1.0v4.13h-1.0zM388.0 607.22h1.0v4.13h-1.0zm55.5 0h1.0v4.13h-1.0zm24.0 0h1.0v4.13h-1.0zm12.0 0h1.0v4.13h-1.0zM367.0 611.34h1.0v4.13h-1.0zm3.0 0h1.0v4.13h-1.0zm12.0 0h2.0v4.13h-2.0zm15.0 0h1.0v4.13h-1.0zm3.0 0h1.0v4.13h-1.0zm2.0 0h1.0v4.13h-1.0zm14.0 0h1.0v4.13h-1.0zm18.5 0h1.0v4.13h-1.0zm50.0 0h1.0v4.13h-1.0zM354.0 615.47h1.0v4.13h-1.0zm25.0 0h1.0v4.13h-1.0zm7.0 0h1.0v4.13h-1.0zm2.0 0h1.0v4.13h-1.0zm3.0 0h1.0v4.13h-1.0zm34.0 0h1.0v4.13h-1.0zm16.5 0h1.0v4.13h-1.0zM370.0 619.60h1.0v4.13h-1.0zm111.5 0h1.0v4.13h-1.0zM349.0 623.72h1.0v4.13h-1.0zm4.0 0h2.0v4.13h-2.0zm5.0 0h1.0v4.13h-1.0zm46.0 0h1.0v4.13h-1.0zm13.0 0h1.0v4.13h-1.0zm20.5 0h1.0v4.13h-1.0zm6.0 0h1.0v4.13h-1.0zm32.0 0h1.0v4.13h-1.0zM374.0 627.85h2.0v4.13h-2.0zm3.0 0h1.0v4.13h-1.0zm8.0 0h1.0v4.13h-1.0zm5.0 0h1.0v4.13h-1.0zm19.0 0h1.0v4.13h-1.0zm23.5 0h1.0v4.13h-1.0zm27.0 0h1.0v4.13h-1.0zm5.0 0h1.0v4.13h-1.0zm19.0 0h1.0v4.13h-1.0zM365.0 631.97h1.0v4.13h-1.0zm24.0 0h1.0v4.13h-1.0zm15.0 0h1.0v4.13h-1.0zm14.0 0h1.0v4.13h-1.0zm57.5 0h1.0v4.13h-1.0zM450.5 640.23h1.0v4.13h-1.0zM356.0 644.35h1.0v4.13h-1.0zm28.0 0h1.0v4.13h-1.0zm22.0 0h1.0v4.13h-1.0zm5.0 0h1.0v4.13h-1.0zM353.0 648.48h1.0v4.13h-1.0zm16.0 0h1.0v4.13h-1.0zm7.0 0h1.0v4.13h-1.0zm17.0 0h1.0v4.13h-1.0zm2.0 0h2.0v4.13h-2.0zm20.0 0h1.0v4.13h-1.0zM355.0 656.73h1.0v4.13h-1.0zm7.0 0h1.0v4.13h-1.0zm26.0 0h1.0v4.13h-1.0zm11.0 0h1.0v4.13h-1.0zM349.0 660.86h1.0v4.13h-1.0zm16.0 0h1.0v4.13h-1.0zm9.0 0h1.0v4.13h-1.0zm24.0 0h1.0v4.13h-1.0zm50.5 0h1.0v4.13h-1.0zm2.0 0h1.0v4.13h-1.0z"/><path fill="#462846" d="M384.0 429.80h1.0v4.13h-1.0zm17.0 0h1.0v4.13h-1.0zm14.0 0h1.0v4.13h-1.0zm20.5 0h1.0v4.13h-1.0zm53.0 0h1.0v4.13h-1.0zM386.0 433.93h1.0v4.13h-1.0zM361.0 438.05h1.0v4.13h-1.0zm8.0 0h1.0v4.13h-1.0zm24.0 0h1.0v4.13h-1.0zM388.0 442.18h1.0v4.13h-1.0zm15.0 0h1.0v4.13h-1.0zM350.0 446.30h1.0v4.13h-1.0zm20.0 0h1.0v4.13h-1.0zm12.0 0h2.0v4.13h-2.0zm28.0 0h2.0v4.13h-2.0zm9.0 0h1.0v4.13h-1.0zm50.5 0h1.0v4.13h-1.0zM360.0 454.56h1.0v4.13h-1.0zm23.0 0h1.0v4.13h-1.0zm2.0 0h1.0v4.13h-1.0zm14.0 0h2.0v4.13h-2.0zM354.0 466.93h1.0v4.13h-1.0zm6.0 0h1.0v4.13h-1.0zm9.0 0h1.0v4.13h-1.0zm25.0 0h1.0v4.13h-1.0zm6.0 0h1.0v4.13h-1.0zm18.0 0h1.0v4.13h-1.0zm12.0 0h1.0v4.13h-1.0zM362.0 471.06h1.0v4.13h-1.0zm6.0 0h1.0v4.13h-1.0zm43.0 0h1.0v4.13h-1.0zm2.0 0h1.0v4.13h-1.0zM351.0 475.19h1.0v4.13h-1.0zm114.5 0h1.0v4.13h-1.0zm8.0 0h1.0v4.13h-1.0zm5.0 0h1.0v4.13h-1.0zm8.0 0h1.0v4.13h-1.0zM417.0 479.31h1.0v4.13h-1.0zm11.0 0h2.0v4.13h-2.0zm3.0 0h0.7v4.13h-0.7zM410.0 483.44h1.0v4.13h-1.0zM379.0 487.56h1.0v4.13h-1.0zm6.0 0h1.0v4.13h-1.0zm20.0 0h1.0v4.13h-1.0zm8.0 0h1.0v4.13h-1.0zM363.0 491.69h1.0v4.13h-1.0zm51.0 0h1.0v4.13h-1.0zm26.5 0h1.0v4.13h-1.0zm32.0 0h1.0v4.13h-1.0zm3.0 0h1.0v4.13h-1.0zM370.0 499.94h1.0v4.13h-1.0zm50.0 0h1.0v4.13h-1.0zm15.5 0h1.0v4.13h-1.0zm40.0 0h1.0v4.13h-1.0zM350.0 504.07h1.0v4.13h-1.0zm42.0 0h1.0v4.13h-1.0zm35.0 0h1.0v4.13h-1.0zm31.5 0h1.0v4.13h-1.0zm13.0 0h1.0v4.13h-1.0zm4.0 0h1.0v4.13h-1.0zm13.0 0h1.0v4.13h-1.0zM459.5 516.45h1.0v4.13h-1.0zm14.0 0h1.0v4.13h-1.0zm2.0 0h3.0v4.13h-3.0zm5.0 0h1.0v4.13h-1.0zM371.0 532.95h1.0v4.13h-1.0zm51.0 0h1.0v4.13h-1.0zm14.5 0h1.0v4.13h-1.0zM374.0 537.08h1.0v4.13h-1.0zm16.0 0h1.0v4.13h-1.0zm12.0 0h1.0v4.13h-1.0zm38.5 0h1.0v4.13h-1.0zm7.0 0h1.0v4.13h-1.0zm23.0 0h1.0v4.13h-1.0zM369.0 541.20h1.0v4.13h-1.0zm38.0 0h1.0v4.13h-1.0zM365.0 545.33h1.0v4.13h-1.0zm20.0 0h1.0v4.13h-1.0zm23.0 0h1.0v4.13h-1.0zm4.0 0h2.0v4.13h-2.0zM352.0 549.45h2.0v4.13h-2.0zm5.0 0h1.0v4.13h-1.0zm11.0 0h1.0v4.13h-1.0zm37.0 0h1.0v4.13h-1.0zm19.0 0h1.0v4.13h-1.0zM352.0 553.58h1.0v4.13h-1.0zm8.0 0h1.0v4.13h-1.0zm30.0 0h1.0v4.13h-1.0zm30.0 0h1.0v4.13h-1.0zm11.0 0h0.7v4.13h-0.7zM375.0 561.83h1.0v4.13h-1.0zm18.0 0h1.0v4.13h-1.0zm18.0 0h1.0v4.13h-1.0zM436.5 570.08h1.0v4.13h-1.0zm8.0 0h1.0v4.13h-1.0zm26.0 0h1.0v4.13h-1.0zm12.0 0h1.0v4.13h-1.0zm6.0 0h1.0v4.13h-1.0zM358.0 574.21h1.0v4.13h-1.0zm7.0 0h1.0v4.13h-1.0zm24.0 0h1.0v4.13h-1.0zm20.0 0h1.0v4.13h-1.0zm10.0 0h1.0v4.13h-1.0zm42.5 0h1.0v4.13h-1.0zm10.0 0h1.0v4.13h-1.0zM349.0 578.34h1.0v4.13h-1.0zm2.0 0h1.0v4.13h-1.0zm2.0 0h1.0v4.13h-1.0zm17.0 0h1.0v4.13h-1.0zm20.0 0h1.0v4.13h-1.0zm12.0 0h1.0v4.13h-1.0zm19.0 0h1.0v4.13h-1.0zm7.0 0h1.0v4.13h-1.0zM425.0 582.46h1.0v4.13h-1.0zm24.5 0h1.0v4.13h-1.0zm27.0 0h1.0v4.13h-1.0zM355.0 586.59h1.0v4.13h-1.0zm2.0 0h1.0v4.13h-1.0zm5.0 0h1.0v4.13h-1.0zm6.0 0h1.0v4.13h-1.0zm6.0 0h1.0v4.13h-1.0zm15.0 0h1.0v4.13h-1.0zm14.0 0h1.0v4.13h-1.0zm12.0 0h1.0v4.13h-1.0zm4.0 0h1.0v4.13h-1.0zm2.0 0h1.0v4.13h-1.0zm34.5 0h1.0v4.13h-1.0zM367.0 590.71h1.0v4.13h-1.0zm8.0 0h1.0v4.13h-1.0zm99.5 0h1.0v4.13h-1.0zm14.0 0h1.0v4.13h-1.0zM355.0 594.84h1.0v4.13h-1.0zm13.0 0h1.0v4.13h-1.0zm71.5 0h1.0v4.13h-1.0zm10.0 0h1.0v4.13h-1.0zM382.0 598.97h1.0v4.13h-1.0zm11.0 0h1.0v4.13h-1.0zm46.5 0h1.0v4.13h-1.0zM368.0 603.09h1.0v4.13h-1.0zm12.0 0h1.0v4.13h-1.0zm4.0 0h1.0v4.13h-1.0zm3.0 0h1.0v4.13h-1.0zM359.0 607.22h1.0v4.13h-1.0zm16.0 0h1.0v4.13h-1.0zm2.0 0h1.0v4.13h-1.0zm18.0 0h1.0v4.13h-1.0zm18.0 0h1.0v4.13h-1.0zm4.0 0h1.0v4.13h-1.0zm13.0 0h1.0v4.13h-1.0zm16.5 0h1.0v4.13h-1.0zM426.0 611.34h1.0v4.13h-1.0zm60.5 0h2.0v4.13h-2.0zM392.0 615.47h1.0v4.13h-1.0zm20.0 0h1.0v4.13h-1.0zm40.5 0h1.0v4.13h-1.0zm4.0 0h1.0v4.13h-1.0zm4.0 0h1.0v4.13h-1.0zM359.0 619.60h1.0v4.13h-1.0zm13.0 0h1.0v4.13h-1.0zm37.0 0h1.0v4.13h-1.0zm13.0 0h1.0v4.13h-1.0zm18.5 0h1.0v4.13h-1.0zm6.0 0h1.0v4.13h-1.0zm43.0 0h0.5v4.13h-0.5zM466.5 623.72h1.0v4.13h-1.0zM379.0 627.85h1.0v4.13h-1.0zm44.0 0h1.0v4.13h-1.0zm4.0 0h1.0v4.13h-1.0zm14.5 0h1.0v4.13h-1.0zm7.0 0h1.0v4.13h-1.0zm19.0 0h1.0v4.13h-1.0zm3.0 0h1.0v4.13h-1.0zM366.0 631.97h1.0v4.13h-1.0zm8.0 0h1.0v4.13h-1.0zm39.0 0h1.0v4.13h-1.0zM435.5 640.23h1.0v4.13h-1.0zm26.0 0h1.0v4.13h-1.0zM355.0 644.35h1.0v4.13h-1.0zm7.0 0h1.0v4.13h-1.0zm4.0 0h2.0v4.13h-2.0zm12.0 0h1.0v4.13h-1.0zm16.0 0h1.0v4.13h-1.0zM360.0 656.73h1.0v4.13h-1.0zm7.0 0h1.0v4.13h-1.0zm62.0 0h1.0v4.13h-1.0zM389.0 660.86h1.0v4.13h-1.0z"/><path fill="#462850" d="M353.0 429.80h1.0v4.13h-1.0zm84.5 0h1.0v4.13h-1.0zm8.0 0h1.0v4.13h-1.0zm10.0 0h1.0v4.13h-1.0zM356.0 438.05h1.0v4.13h-1.0zm12.0 0h1.0v4.13h-1.0zm19.0 0h1.0v4.13h-1.0zm7.0 0h1.0v4.13h-1.0zm31.0 0h1.0v4.13h-1.0zM364.0 442.18h1.0v4.13h-1.0zm16.0 0h1.0v4.13h-1.0zm11.0 0h1.0v4.13h-1.0zm20.0 0h1.0v4.13h-1.0zm12.0 0h1.0v4.13h-1.0zM365.0 446.30h2.0v4.13h-2.0zm32.0 0h1.0v4.13h-1.0zm12.0 0h1.0v4.13h-1.0zm3.0 0h1.0v4.13h-1.0zm26.5 0h1.0v4.13h-1.0zm38.0 0h1.0v4.13h-1.0zM375.0 454.56h1.0v4.13h-1.0zm45.0 0h1.0v4.13h-1.0zm5.0 0h1.0v4.13h-1.0zM351.0 466.93h1.0v4.13h-1.0zm11.0 0h1.0v4.13h-1.0zm4.0 0h1.0v4.13h-1.0zm7.0 0h1.0v4.13h-1.0zm4.0 0h1.0v4.13h-1.0zm13.0 0h1.0v4.13h-1.0zm23.0 0h1.0v4.13h-1.0zm6.0 0h1.0v4.13h-1.0zm70.5 0h0.5v4.13h-0.5zM401.0 475.19h2.0v4.13h-2.0zm51.5 0h1.0v4.13h-1.0zm4.0 0h1.0v4.13h-1.0zm10.0 0h1.0v4.13h-1.0zm16.0 0h1.0v4.13h-1.0zM360.0 479.31h1.0v4.13h-1.0zm13.0 0h1.0v4.13h-1.0zm3.0 0h1.0v4.13h-1.0zm23.0 0h1.0v4.13h-1.0zm11.0 0h1.0v4.13h-1.0zm5.0 0h2.0v4.13h-2.0zm6.0 0h1.0v4.13h-1.0zM387.0 483.44h1.0v4.13h-1.0zM371.0 487.56h1.0v4.13h-1.0zm12.0 0h1.0v4.13h-1.0zm9.0 0h1.0v4.13h-1.0zm7.0 0h1.0v4.13h-1.0zm20.0 0h1.0v4.13h-1.0zm5.0 0h1.0v4.13h-1.0zM351.0 491.69h1.0v4.13h-1.0zm31.0 0h1.0v4.13h-1.0zm29.0 0h1.0v4.13h-1.0zm37.5 0h1.0v4.13h-1.0zM354.0 499.94h1.0v4.13h-1.0zm11.0 0h1.0v4.13h-1.0zm24.0 0h1.0v4.13h-1.0zm13.0 0h1.0v4.13h-1.0zM368.0 504.07h1.0v4.13h-1.0zm43.0 0h1.0v4.13h-1.0zm56.5 0h2.0v4.13h-2.0zm10.0 0h1.0v4.13h-1.0zm3.0 0h1.0v4.13h-1.0zm3.0 0h2.0v4.13h-2.0zM432.5 516.45h1.0v4.13h-1.0zm37.0 0h1.0v4.13h-1.0zm9.0 0h1.0v4.13h-1.0zM368.0 528.82h1.0v4.13h-1.0zM352.0 532.95h1.0v4.13h-1.0zm2.0 0h1.0v4.13h-1.0zm6.0 0h1.0v4.13h-1.0zm4.0 0h1.0v4.13h-1.0zm29.0 0h1.0v4.13h-1.0zm4.0 0h1.0v4.13h-1.0zm11.0 0h1.0v4.13h-1.0zm67.5 0h1.0v4.13h-1.0zM366.0 537.08h1.0v4.13h-1.0zm62.0 0h1.0v4.13h-1.0zm58.5 0h1.0v4.13h-1.0zM409.0 541.20h1.0v4.13h-1.0zm19.0 0h2.0v4.13h-2.0zm25.5 0h1.0v4.13h-1.0zM373.0 545.33h1.0v4.13h-1.0zm9.0 0h2.0v4.13h-2.0zm5.0 0h1.0v4.13h-1.0zm34.0 0h1.0v4.13h-1.0zm7.0 0h1.0v4.13h-1.0zM349.0 549.45h1.0v4.13h-1.0zm30.0 0h1.0v4.13h-1.0zm24.0 0h1.0v4.13h-1.0zm33.5 0h1.0v4.13h-1.0zm21.0 0h1.0v4.13h-1.0zM362.0 553.58h1.0v4.13h-1.0zm2.0 0h1.0v4.13h-1.0zm16.0 0h1.0v4.13h-1.0zm3.0 0h1.0v4.13h-1.0zm9.0 0h1.0v4.13h-1.0zm48.5 0h1.0v4.13h-1.0zm49.0 0h0.5v4.13h-0.5zM359.0 561.83h1.0v4.13h-1.0zm4.0 0h1.0v4.13h-1.0zm18.0 0h1.0v4.13h-1.0zm19.0 0h1.0v4.13h-1.0zM447.5 565.96h1.0v4.13h-1.0zM464.5 570.08h1.0v4.13h-1.0zm19.0 0h1.0v4.13h-1.0zM350.0 574.21h1.0v4.13h-1.0zm11.0 0h2.0v4.13h-2.0zm45.0 0h1.0v4.13h-1.0zm4.0 0h1.0v4.13h-1.0zm16.0 0h1.0v4.13h-1.0zm10.5 0h2.0v4.13h-2.0zm33.0 0h1.0v4.13h-1.0zM430.0 578.34h1.0v4.13h-1.0zM443.5 582.46h2.0v4.13h-2.0zm16.0 0h1.0v4.13h-1.0zM396.0 586.59h1.0v4.13h-1.0zm9.0 0h1.0v4.13h-1.0zm2.0 0h1.0v4.13h-1.0zm9.0 0h2.0v4.13h-2.0zm26.5 0h1.0v4.13h-1.0zm41.0 0h1.0v4.13h-1.0zM352.0 590.71h1.0v4.13h-1.0zm13.0 0h1.0v4.13h-1.0zm25.0 0h1.0v4.13h-1.0zm10.0 0h1.0v4.13h-1.0zm9.0 0h1.0v4.13h-1.0zm3.0 0h1.0v4.13h-1.0zm45.5 0h1.0v4.13h-1.0zm16.0 0h1.0v4.13h-1.0zM382.0 594.84h1.0v4.13h-1.0zm26.0 0h1.0v4.13h-1.0zm9.0 0h1.0v4.13h-1.0zm4.0 0h1.0v4.13h-1.0zm4.0 0h1.0v4.13h-1.0zm42.5 0h1.0v4.13h-1.0zm20.0 0h1.0v4.13h-1.0zm2.0 0h0.5v4.13h-0.5zM378.0 598.97h1.0v4.13h-1.0zm11.0 0h2.0v4.13h-2.0zm12.0 0h1.0v4.13h-1.0zm14.0 0h1.0v4.13h-1.0zm5.0 0h1.0v4.13h-1.0zm10.0 0h1.0v4.13h-1.0zM357.0 603.09h1.0v4.13h-1.0zm28.0 0h1.0v4.13h-1.0zm23.0 0h1.0v4.13h-1.0zm70.5 0h1.0v4.13h-1.0zM371.0 607.22h1.0v4.13h-1.0zm40.0 0h1.0v4.13h-1.0zm21.5 0h1.0v4.13h-1.0zm15.0 0h1.0v4.13h-1.0zm28.0 0h1.0v4.13h-1.0zm10.0 0h1.0v4.13h-1.0zM422.0 611.34h1.0v4.13h-1.0zm45.5 0h1.0v4.13h-1.0zM363.0 615.47h2.0v4.13h-2.0zm11.0 0h1.0v4.13h-1.0zm58.5 0h1.0v4.13h-1.0zm17.0 0h1.0v4.13h-1.0zm21.0 0h1.0v4.13h-1.0zM360.0 619.60h1.0v4.13h-1.0zm31.0 0h1.0v4.13h-1.0zm19.0 0h1.0v4.13h-1.0zm20.0 0h1.0v4.13h-1.0zm26.5 0h1.0v4.13h-1.0zm3.0 0h1.0v4.13h-1.0zM456.5 623.72h1.0v4.13h-1.0zm12.0 0h1.0v4.13h-1.0zm12.0 0h1.0v4.13h-1.0zM369.0 627.85h1.0v4.13h-1.0zm34.0 0h1.0v4.13h-1.0zm39.5 0h1.0v4.13h-1.0zm18.0 0h1.0v4.13h-1.0zm22.0 0h1.0v4.13h-1.0zm7.0 0h0.5v4.13h-0.5zM351.0 631.97h1.0v4.13h-1.0zm7.0 0h1.0v4.13h-1.0zm3.0 0h1.0v4.13h-1.0zm6.0 0h1.0v4.13h-1.0zm81.5 0h1.0v4.13h-1.0zM392.0 640.23h1.0v4.13h-1.0zm12.0 0h1.0v4.13h-1.0zM353.0 644.35h1.0v4.13h-1.0zm21.0 0h1.0v4.13h-1.0zm19.0 0h1.0v4.13h-1.0zm9.0 0h1.0v4.13h-1.0zm12.0 0h1.0v4.13h-1.0zM358.0 648.48h1.0v4.13h-1.0zm16.0 0h2.0v4.13h-2.0zm30.0 0h2.0v4.13h-2.0zm19.0 0h1.0v4.13h-1.0zm24.5 0h1.0v4.13h-1.0zM350.0 656.73h1.0v4.13h-1.0zM387.0 660.86h1.0v4.13h-1.0zm23.0 0h1.0v4.13h-1.0z"/><path fill="#463c1e" d="M369.0 429.80h2.0v4.13h-2.0zm27.0 0h1.0v4.13h-1.0zm65.5 0h1.0v4.13h-1.0zm16.0 0h1.0v4.13h-1.0zM395.0 433.93h1.0v4.13h-1.0zm3.0 0h1.0v4.13h-1.0zm9.0 0h1.0v4.13h-1.0zm19.0 0h1.0v4.13h-1.0zm4.0 0h1.0v4.13h-1.0zM469.5 438.05h1.0v4.13h-1.0zm5.0 0h1.0v4.13h-1.0zm12.0 0h1.0v4.13h-1.0zM355.0 442.18h1.0v4.13h-1.0zm47.0 0h1.0v4.13h-1.0zm7.0 0h1.0v4.13h-1.0zm9.0 0h1.0v4.13h-1.0zm2.0 0h1.0v4.13h-1.0zM452.5 446.30h1.0v4.13h-1.0zm11.0 0h2.0v4.13h-2.0zM360.0 458.68h1.0v4.13h-1.0zm18.0 0h1.0v4.13h-1.0zM370.0 462.81h1.0v4.13h-1.0zm20.0 0h1.0v4.13h-1.0zm40.0 0h1.0v4.13h-1.0zM434.5 466.93h1.0v4.13h-1.0zm39.0 0h1.0v4.13h-1.0zm2.0 0h1.0v4.13h-1.0zM358.0 475.19h1.0v4.13h-1.0zm8.0 0h1.0v4.13h-1.0zm5.0 0h1.0v4.13h-1.0zm12.0 0h1.0v4.13h-1.0zm13.0 0h1.0v4.13h-1.0zm8.0 0h3.0v4.13h-3.0zm13.0 0h1.0v4.13h-1.0zM463.5 479.31h1.0v4.13h-1.0zm20.0 0h1.0v4.13h-1.0zM361.0 483.44h1.0v4.13h-1.0zm24.0 0h1.0v4.13h-1.0zM436.5 487.56h1.0v4.13h-1.0zM363.0 499.94h1.0v4.13h-1.0zm53.0 0h1.0v4.13h-1.0zm36.5 0h1.0v4.13h-1.0zm6.0 0h1.0v4.13h-1.0zM365.0 504.07h1.0v4.13h-1.0zM350.0 516.45h1.0v4.13h-1.0zm24.0 0h1.0v4.13h-1.0zm16.0 0h1.0v4.13h-1.0zm8.0 0h2.0v4.13h-2.0zm12.0 0h1.0v4.13h-1.0zm10.0 0h1.0v4.13h-1.0zM423.0 524.70h1.0v4.13h-1.0zm3.0 0h1.0v4.13h-1.0zM370.0 537.08h1.0v4.13h-1.0zm45.0 0h1.0v4.13h-1.0zm14.0 0h1.0v4.13h-1.0zm7.5 0h1.0v4.13h-1.0zm30.0 0h1.0v4.13h-1.0zm21.0 0h1.0v4.13h-1.0zM435.5 541.20h1.0v4.13h-1.0zm21.0 0h1.0v4.13h-1.0zm6.0 0h1.0v4.13h-1.0zM479.5 545.33h1.0v4.13h-1.0zm7.0 0h1.0v4.13h-1.0zM367.0 549.45h1.0v4.13h-1.0zM408.0 553.58h1.0v4.13h-1.0zm55.5 0h1.0v4.13h-1.0zm4.0 0h1.0v4.13h-1.0zm15.0 0h1.0v4.13h-1.0zM452.5 561.83h1.0v4.13h-1.0zm14.0 0h1.0v4.13h-1.0zM435.5 565.96h1.0v4.13h-1.0zm21.0 0h1.0v4.13h-1.0zm3.0 0h1.0v4.13h-1.0zm9.0 0h1.0v4.13h-1.0zm5.0 0h1.0v4.13h-1.0zm12.0 0h1.0v4.13h-1.0zM356.0 570.08h1.0v4.13h-1.0zm23.0 0h1.0v4.13h-1.0zm9.0 0h2.0v4.13h-2.0zm11.0 0h1.0v4.13h-1.0zm3.0 0h1.0v4.13h-1.0zM435.5 574.21h1.0v4.13h-1.0zM467.5 578.34h1.0v4.13h-1.0zm3.0 0h1.0v4.13h-1.0zM353.0 582.46h1.0v4.13h-1.0zm82.5 0h1.0v4.13h-1.0zm33.0 0h1.0v4.13h-1.0zM460.5 586.59h1.0v4.13h-1.0zM364.0 590.71h1.0v4.13h-1.0zm25.0 0h1.0v4.13h-1.0zm42.0 0h0.7v4.13h-0.7zm8.5 0h1.0v4.13h-1.0zm30.0 0h1.0v4.13h-1.0zm9.0 0h1.0v4.13h-1.0zM468.5 594.84h1.0v4.13h-1.0zM436.5 598.97h1.0v4.13h-1.0zm31.0 0h1.0v4.13h-1.0zM485.5 603.09h1.0v4.13h-1.0zM366.0 607.22h1.0v4.13h-1.0zm26.0 0h1.0v4.13h-1.0zm56.5 0h1.0v4.13h-1.0zM425.0 611.34h1.0v4.13h-1.0zm41.5 0h1.0v4.13h-1.0zM353.0 615.47h1.0v4.13h-1.0zm125.5 0h1.0v4.13h-1.0zM367.0 619.60h1.0v4.13h-1.0zm14.0 0h1.0v4.13h-1.0zm68.5 0h1.0v4.13h-1.0zm15.0 0h1.0v4.13h-1.0zm10.0 0h1.0v4.13h-1.0zm2.0 0h1.0v4.13h-1.0zM451.5 623.72h1.0v4.13h-1.0zm4.0 0h1.0v4.13h-1.0zM437.5 631.97h2.0v4.13h-2.0zm5.0 0h1.0v4.13h-1.0zm13.0 0h1.0v4.13h-1.0zm5.0 0h1.0v4.13h-1.0zm21.0 0h1.0v4.13h-1.0zm2.0 0h1.0v4.13h-1.0zm3.0 0h1.0v4.13h-1.0zM366.0 640.23h1.0v4.13h-1.0zm10.0 0h1.0v4.13h-1.0zm7.0 0h1.0v4.13h-1.0zm4.0 0h1.0v4.13h-1.0zm13.0 0h1.0v4.13h-1.0zm22.0 0h1.0v4.13h-1.0zm9.0 0h0.7v4.13h-0.7zM471.5 644.35h1.0v4.13h-1.0zm9.0 0h1.0v4.13h-1.0zM438.5 648.48h1.0v4.13h-1.0zm5.0 0h1.0v4.13h-1.0zm6.0 0h1.0v4.13h-1.0zm17.0 0h1.0v4.13h-1.0zm11.0 0h1.0v4.13h-1.0zm9.0 0h1.0v4.13h-1.0zM356.0 656.73h1.0v4.13h-1.0zm8.0 0h1.0v4.13h-1.0zm57.0 0h1.0v4.13h-1.0zM351.0 660.86h1.0v4.13h-1.0zm6.0 0h1.0v4.13h-1.0zm2.0 0h1.0v4.13h-1.0zm9.0 0h1.0v4.13h-1.0zm3.0 0h2.0v4.13h-2.0zm11.0 0h1.0v4.13h-1.0zm2.0 0h3.0v4.13h-3.0zm10.0 0h1.0v4.13h-1.0zm25.0 0h1.0v4.13h-1.0zm8.0 0h1.0v4.13h-1.0z"/><path fill="#46461e" d="M453.5 429.80h1.0v4.13h-1.0zm4.0 0h1.0v4.13h-1.0zm9.0 0h1.0v4.13h-1.0zM374.0 433.93h2.0v4.13h-2.0zm17.0 0h1.0v4.13h-1.0zm12.0 0h1.0v4.13h-1.0zm13.0 0h2.0v4.13h-2.0zM401.0 438.05h1.0v4.13h-1.0zm41.5 0h1.0v4.13h-1.0zm8.0 0h2.0v4.13h-2.0zm3.0 0h2.0v4.13h-2.0zM354.0 442.18h1.0v4.13h-1.0zm4.0 0h1.0v4.13h-1.0zm7.0 0h1.0v4.13h-1.0zm29.0 0h1.0v4.13h-1.0zm18.0 0h1.0v4.13h-1.0zm9.0 0h2.0v4.13h-2.0zM479.5 446.30h1.0v4.13h-1.0zM359.0 458.68h1.0v4.13h-1.0zm22.0 0h1.0v4.13h-1.0zm18.0 0h1.0v4.13h-1.0zm28.0 0h4.0v4.13h-4.0zM367.0 462.81h1.0v4.13h-1.0zm20.0 0h1.0v4.13h-1.0zm17.0 0h1.0v4.13h-1.0zm13.0 0h2.0v4.13h-2.0zm9.0 0h1.0v4.13h-1.0zM437.5 466.93h1.0v4.13h-1.0zm2.0 0h2.0v4.13h-2.0zm3.0 0h1.0v4.13h-1.0zm10.0 0h1.0v4.13h-1.0zm3.0 0h1.0v4.13h-1.0zM471.5 471.06h1.0v4.13h-1.0zm14.0 0h1.0v4.13h-1.0zM349.0 475.19h1.0v4.13h-1.0zm3.0 0h1.0v4.13h-1.0zm34.0 0h1.0v4.13h-1.0zm5.0 0h1.0v4.13h-1.0zM450.5 479.31h1.0v4.13h-1.0zm18.0 0h1.0v4.13h-1.0zm3.0 0h1.0v4.13h-1.0zm7.0 0h2.0v4.13h-2.0zM437.5 487.56h1.0v4.13h-1.0zm22.0 0h1.0v4.13h-1.0zm6.0 0h1.0v4.13h-1.0zm4.0 0h2.0v4.13h-2.0zm9.0 0h1.0v4.13h-1.0zm4.0 0h1.0v4.13h-1.0zM391.0 491.69h1.0v4.13h-1.0zm26.0 0h2.0v4.13h-2.0zM394.0 499.94h1.0v4.13h-1.0zm10.0 0h1.0v4.13h-1.0zm44.5 0h1.0v4.13h-1.0zm5.0 0h1.0v4.13h-1.0zm19.0 0h1.0v4.13h-1.0zm6.0 0h1.0v4.13h-1.0zM385.0 504.07h1.0v4.13h-1.0zM360.0 516.45h1.0v4.13h-1.0zm9.0 0h2.0v4.13h-2.0zm9.0 0h1.0v4.13h-1.0zm9.0 0h1.0v4.13h-1.0zm13.0 0h1.0v4.13h-1.0zm5.0 0h1.0v4.13h-1.0zm7.0 0h1.0v4.13h-1.0zm4.0 0h1.0v4.13h-1.0zm13.0 0h1.0v4.13h-1.0zm2.0 0h0.7v4.13h-0.7zM389.0 524.70h1.0v4.13h-1.0zm31.0 0h1.0v4.13h-1.0zM436.5 528.82h1.0v4.13h-1.0zm20.0 0h1.0v4.13h-1.0zm3.0 0h1.0v4.13h-1.0zm22.0 0h1.0v4.13h-1.0zm5.0 0h1.0v4.13h-1.0zm3.0 0h0.5v4.13h-0.5zM434.5 532.95h1.0v4.13h-1.0zm46.0 0h1.0v4.13h-1.0zm4.0 0h1.0v4.13h-1.0zM363.0 537.08h1.0v4.13h-1.0zm23.0 0h1.0v4.13h-1.0zm38.0 0h1.0v4.13h-1.0zm2.0 0h2.0v4.13h-2.0zM460.5 541.20h1.0v4.13h-1.0zm7.0 0h1.0v4.13h-1.0zm4.0 0h1.0v4.13h-1.0zM436.5 545.33h1.0v4.13h-1.0zm4.0 0h1.0v4.13h-1.0zm10.0 0h1.0v4.13h-1.0zm26.0 0h2.0v4.13h-2.0zM374.0 549.45h1.0v4.13h-1.0zm52.0 0h1.0v4.13h-1.0zM466.5 553.58h1.0v4.13h-1.0zm22.0 0h1.0v4.13h-1.0zM463.5 561.83h1.0v4.13h-1.0zM452.5 565.96h1.0v4.13h-1.0zm2.0 0h2.0v4.13h-2.0zm8.0 0h1.0v4.13h-1.0zm7.0 0h1.0v4.13h-1.0zM358.0 570.08h1.0v4.13h-1.0zm17.0 0h1.0v4.13h-1.0zm11.0 0h1.0v4.13h-1.0zm4.0 0h1.0v4.13h-1.0zm13.0 0h1.0v4.13h-1.0zm2.0 0h1.0v4.13h-1.0zm23.0 0h1.0v4.13h-1.0zM429.0 574.21h1.0v4.13h-1.0zm13.5 0h1.0v4.13h-1.0zm14.0 0h1.0v4.13h-1.0zm33.0 0h0.5v4.13h-0.5zM432.5 578.34h1.0v4.13h-1.0zm5.0 0h1.0v4.13h-1.0zm13.0 0h1.0v4.13h-1.0zm9.0 0h2.0v4.13h-2.0zm19.0 0h1.0v4.13h-1.0zm6.0 0h1.0v4.13h-1.0zM352.0 582.46h1.0v4.13h-1.0zm7.0 0h1.0v4.13h-1.0zm5.0 0h1.0v4.13h-1.0zm17.0 0h1.0v4.13h-1.0zm5.0 0h1.0v4.13h-1.0zm3.0 0h1.0v4.13h-1.0zm2.0 0h1.0v4.13h-1.0zm2.0 0h1.0v4.13h-1.0zm6.0 0h1.0v4.13h-1.0zm9.0 0h1.0v4.13h-1.0zm10.0 0h1.0v4.13h-1.0zM433.5 586.59h1.0v4.13h-1.0zm19.0 0h1.0v4.13h-1.0zM354.0 590.71h1.0v4.13h-1.0zm12.0 0h1.0v4.13h-1.0zm18.0 0h1.0v4.13h-1.0zm3.0 0h1.0v4.13h-1.0zm8.0 0h1.0v4.13h-1.0zm9.0 0h1.0v4.13h-1.0zm11.0 0h1.0v4.13h-1.0zm52.5 0h1.0v4.13h-1.0zm3.0 0h1.0v4.13h-1.0zM436.5 594.84h1.0v4.13h-1.0zm40.0 0h1.0v4.13h-1.0zM433.5 598.97h1.0v4.13h-1.0zm4.0 0h1.0v4.13h-1.0zm20.0 0h2.0v4.13h-2.0zm7.0 0h1.0v4.13h-1.0zm12.0 0h1.0v4.13h-1.0zm8.0 0h1.0v4.13h-1.0zM363.0 603.09h1.0v4.13h-1.0zm50.0 0h1.0v4.13h-1.0zm21.5 0h1.0v4.13h-1.0zm19.0 0h1.0v4.13h-1.0zm24.0 0h1.0v4.13h-1.0zM415.0 607.22h1.0v4.13h-1.0zm50.5 0h1.0v4.13h-1.0zM380.0 611.34h1.0v4.13h-1.0zm6.0 0h1.0v4.13h-1.0zm8.0 0h1.0v4.13h-1.0zm66.5 0h1.0v4.13h-1.0zm3.0 0h1.0v4.13h-1.0zm25.0 0h1.0v4.13h-1.0zM352.0 615.47h1.0v4.13h-1.0zm26.0 0h1.0v4.13h-1.0zm23.0 0h1.0v4.13h-1.0zm13.0 0h1.0v4.13h-1.0zm37.5 0h1.0v4.13h-1.0zm16.0 0h2.0v4.13h-2.0zm5.0 0h2.0v4.13h-2.0zm7.0 0h1.0v4.13h-1.0zM361.0 619.60h1.0v4.13h-1.0zm45.0 0h1.0v4.13h-1.0zm20.0 0h1.0v4.13h-1.0zm37.5 0h1.0v4.13h-1.0zm5.0 0h1.0v4.13h-1.0zm16.0 0h1.0v4.13h-1.0zM433.5 623.72h1.0v4.13h-1.0zm32.0 0h1.0v4.13h-1.0zm12.0 0h1.0v4.13h-1.0zm8.0 0h1.0v4.13h-1.0zM360.0 627.85h1.0v4.13h-1.0zM432.5 631.97h1.0v4.13h-1.0zm42.0 0h1.0v4.13h-1.0zm4.0 0h1.0v4.13h-1.0zm4.0 0h1.0v4.13h-1.0zM351.0 640.23h1.0v4.13h-1.0zm9.0 0h1.0v4.13h-1.0zm35.0 0h1.0v4.13h-1.0zm7.0 0h1.0v4.13h-1.0zm8.0 0h1.0v4.13h-1.0zm49.5 0h1.0v4.13h-1.0zm27.0 0h1.0v4.13h-1.0zM439.5 644.35h1.0v4.13h-1.0zm10.0 0h1.0v4.13h-1.0zM433.5 648.48h1.0v4.13h-1.0zm22.0 0h1.0v4.13h-1.0zm18.0 0h1.0v4.13h-1.0zm3.0 0h1.0v4.13h-1.0zM349.0 656.73h1.0v4.13h-1.0zm37.0 0h1.0v4.13h-1.0zm36.0 0h1.0v4.13h-1.0zm3.0 0h1.0v4.13h-1.0zM369.0 660.86h1.0v4.13h-1.0zm31.0 0h1.0v4.13h-1.0zm21.0 0h1.0v4.13h-1.0zm30.5 0h1.0v4.13h-1.0zm6.0 0h1.0v4.13h-1.0z"/><path fill="#502850" d="M358.0 429.80h1.0v4.13h-1.0zm47.0 0h1.0v4.13h-1.0zm19.0 0h1.0v4.13h-1.0zm3.0 0h1.0v4.13h-1.0zM360.0 433.93h1.0v4.13h-1.0zM353.0 438.05h1.0v4.13h-1.0zm9.0 0h1.0v4.13h-1.0zm2.0 0h1.0v4.13h-1.0zm2.0 0h1.0v4.13h-1.0zm4.0 0h1.0v4.13h-1.0zm11.0 0h1.0v4.13h-1.0zm3.0 0h1.0v4.13h-1.0zm5.0 0h1.0v4.13h-1.0zm9.0 0h1.0v4.13h-1.0zm4.0 0h1.0v4.13h-1.0zm3.0 0h1.0v4.13h-1.0zm7.0 0h1.0v4.13h-1.0zm10.0 0h1.0v4.13h-1.0zm9.0 0h0.7v4.13h-0.7zM349.0 446.30h1.0v4.13h-1.0zm24.0 0h1.0v4.13h-1.0zm7.0 0h1.0v4.13h-1.0zm33.0 0h1.0v4.13h-1.0zm5.0 0h1.0v4.13h-1.0zm54.5 0h1.0v4.13h-1.0zM355.0 454.56h1.0v4.13h-1.0zm7.0 0h2.0v4.13h-2.0zm30.0 0h1.0v4.13h-1.0zm21.0 0h1.0v4.13h-1.0zm16.0 0h1.0v4.13h-1.0zM393.0 458.68h1.0v4.13h-1.0zm12.0 0h1.0v4.13h-1.0zm21.0 0h1.0v4.13h-1.0zM350.0 466.93h1.0v4.13h-1.0zm5.0 0h1.0v4.13h-1.0zm3.0 0h1.0v4.13h-1.0zm10.0 0h1.0v4.13h-1.0zm18.0 0h1.0v4.13h-1.0zm6.0 0h1.0v4.13h-1.0zm7.0 0h1.0v4.13h-1.0zm13.0 0h1.0v4.13h-1.0zm58.5 0h1.0v4.13h-1.0zM446.5 475.19h1.0v4.13h-1.0zm2.0 0h1.0v4.13h-1.0zm36.0 0h2.0v4.13h-2.0zM355.0 479.31h1.0v4.13h-1.0zm2.0 0h2.0v4.13h-2.0zm6.0 0h2.0v4.13h-2.0zm11.0 0h1.0v4.13h-1.0zm20.0 0h1.0v4.13h-1.0zm2.0 0h1.0v4.13h-1.0zm4.0 0h1.0v4.13h-1.0zm8.0 0h1.0v4.13h-1.0zm3.0 0h1.0v4.13h-1.0zm8.0 0h1.0v4.13h-1.0zm27.5 0h1.0v4.13h-1.0zm6.0 0h1.0v4.13h-1.0zM359.0 483.44h1.0v4.13h-1.0zm42.0 0h1.0v4.13h-1.0zm3.0 0h1.0v4.13h-1.0zM349.0 487.56h2.0v4.13h-2.0zm13.0 0h1.0v4.13h-1.0zm13.0 0h1.0v4.13h-1.0zm7.0 0h1.0v4.13h-1.0zm6.0 0h2.0v4.13h-2.0zm10.0 0h1.0v4.13h-1.0zm19.0 0h1.0v4.13h-1.0zm4.0 0h1.0v4.13h-1.0zM367.0 491.69h1.0v4.13h-1.0zm5.0 0h1.0v4.13h-1.0zm4.0 0h1.0v4.13h-1.0zm8.0 0h1.0v4.13h-1.0zm63.5 0h1.0v4.13h-1.0zm3.0 0h1.0v4.13h-1.0zm6.0 0h1.0v4.13h-1.0zm20.0 0h1.0v4.13h-1.0zM357.0 499.94h1.0v4.13h-1.0zm4.0 0h1.0v4.13h-1.0zm6.0 0h1.0v4.13h-1.0zm18.0 0h2.0v4.13h-2.0zm91.5 0h1.0v4.13h-1.0zM349.0 504.07h1.0v4.13h-1.0zm12.0 0h1.0v4.13h-1.0zm11.0 0h1.0v4.13h-1.0zm3.0 0h1.0v4.13h-1.0zm12.0 0h2.0v4.13h-2.0zm23.0 0h1.0v4.13h-1.0zm19.0 0h1.0v4.13h-1.0zm30.5 0h1.0v4.13h-1.0zm22.0 0h1.0v4.13h-1.0zM435.5 516.45h1.0v4.13h-1.0zm2.0 0h2.0v4.13h-2.0zm13.0 0h1.0v4.13h-1.0zm16.0 0h1.0v4.13h-1.0zM360.0 528.82h1.0v4.13h-1.0zm33.0 0h1.0v4.13h-1.0zm11.0 0h1.0v4.13h-1.0zm8.0 0h1.0v4.13h-1.0zm5.0 0h1.0v4.13h-1.0zM355.0 532.95h2.0v4.13h-2.0zm19.0 0h1.0v4.13h-1.0zm8.0 0h1.0v4.13h-1.0zm22.0 0h2.0v4.13h-2.0zm3.0 0h1.0v4.13h-1.0zm8.0 0h1.0v4.13h-1.0zm6.0 0h1.0v4.13h-1.0zm3.0 0h1.0v4.13h-1.0zm4.0 0h1.0v4.13h-1.0zm16.5 0h1.0v4.13h-1.0zM352.0 537.08h1.0v4.13h-1.0zm9.0 0h1.0v4.13h-1.0zm10.0 0h1.0v4.13h-1.0zm2.0 0h1.0v4.13h-1.0zm5.0 0h1.0v4.13h-1.0zm14.0 0h1.0v4.13h-1.0zm8.0 0h2.0v4.13h-2.0zm3.0 0h1.0v4.13h-1.0zm11.0 0h1.0v4.13h-1.0zm40.5 0h2.0v4.13h-2.0zm26.0 0h1.0v4.13h-1.0zM350.0 541.20h1.0v4.13h-1.0zm8.0 0h1.0v4.13h-1.0zm2.0 0h2.0v4.13h-2.0zm3.0 0h2.0v4.13h-2.0zm17.0 0h1.0v4.13h-1.0zm3.0 0h1.0v4.13h-1.0zm2.0 0h2.0v4.13h-2.0zm4.0 0h1.0v4.13h-1.0zm17.0 0h1.0v4.13h-1.0zm19.0 0h2.0v4.13h-2.0zM351.0 545.33h1.0v4.13h-1.0zm9.0 0h1.0v4.13h-1.0zm2.0 0h1.0v4.13h-1.0zm4.0 0h1.0v4.13h-1.0zm2.0 0h2.0v4.13h-2.0zm9.0 0h1.0v4.13h-1.0zm3.0 0h1.0v4.13h-1.0zm6.0 0h1.0v4.13h-1.0zm8.0 0h1.0v4.13h-1.0zm16.0 0h2.0v4.13h-2.0zm13.0 0h1.0v4.13h-1.0zm35.5 0h1.0v4.13h-1.0zm5.0 0h1.0v4.13h-1.0zM372.0 549.45h1.0v4.13h-1.0zm44.0 0h1.0v4.13h-1.0zm54.5 0h1.0v4.13h-1.0zm7.0 0h1.0v4.13h-1.0zM354.0 553.58h1.0v4.13h-1.0zm34.0 0h1.0v4.13h-1.0zm22.0 0h1.0v4.13h-1.0zM353.0 561.83h2.0v4.13h-2.0zm14.0 0h1.0v4.13h-1.0zm3.0 0h1.0v4.13h-1.0zm14.0 0h1.0v4.13h-1.0zm3.0 0h1.0v4.13h-1.0zm3.0 0h1.0v4.13h-1.0zm5.0 0h1.0v4.13h-1.0zm25.0 0h1.0v4.13h-1.0zm68.5 0h1.0v4.13h-1.0zM447.5 570.08h1.0v4.13h-1.0zm21.0 0h1.0v4.13h-1.0zm21.0 0h0.5v4.13h-0.5zM355.0 574.21h1.0v4.13h-1.0zm8.0 0h1.0v4.13h-1.0zm28.0 0h1.0v4.13h-1.0zm8.0 0h2.0v4.13h-2.0zm23.0 0h2.0v4.13h-2.0zm22.5 0h1.0v4.13h-1.0zm4.0 0h1.0v4.13h-1.0zm9.0 0h1.0v4.13h-1.0zm16.0 0h1.0v4.13h-1.0zm11.0 0h1.0v4.13h-1.0zM363.0 582.46h1.0v4.13h-1.0zm68.0 0h0.7v4.13h-0.7zM451.5 586.59h1.0v4.13h-1.0zm2.0 0h1.0v4.13h-1.0zm13.0 0h1.0v4.13h-1.0zM398.0 590.71h1.0v4.13h-1.0zm38.5 0h1.0v4.13h-1.0zm6.0 0h1.0v4.13h-1.0zm5.0 0h1.0v4.13h-1.0zm2.0 0h1.0v4.13h-1.0zm4.0 0h1.0v4.13h-1.0zm2.0 0h2.0v4.13h-2.0zm10.0 0h1.0v4.13h-1.0zM354.0 594.84h1.0v4.13h-1.0zm17.0 0h1.0v4.13h-1.0zm4.0 0h1.0v4.13h-1.0zm16.0 0h1.0v4.13h-1.0zm2.0 0h1.0v4.13h-1.0zm3.0 0h1.0v4.13h-1.0zm14.0 0h1.0v4.13h-1.0zm3.0 0h1.0v4.13h-1.0zm17.0 0h1.0v4.13h-1.0zm18.5 0h1.0v4.13h-1.0zm16.0 0h1.0v4.13h-1.0zm21.0 0h1.0v4.13h-1.0zM349.0 598.97h1.0v4.13h-1.0zm3.0 0h1.0v4.13h-1.0zm5.0 0h1.0v4.13h-1.0zm6.0 0h1.0v4.13h-1.0zm2.0 0h1.0v4.13h-1.0zm6.0 0h1.0v4.13h-1.0zm15.0 0h1.0v4.13h-1.0zm25.0 0h1.0v4.13h-1.0zm2.0 0h1.0v4.13h-1.0zm5.0 0h1.0v4.13h-1.0zm61.5 0h1.0v4.13h-1.0zM354.0 603.09h1.0v4.13h-1.0zm19.0 0h1.0v4.13h-1.0zm22.0 0h1.0v4.13h-1.0zm9.0 0h1.0v4.13h-1.0zm11.0 0h1.0v4.13h-1.0zm6.0 0h1.0v4.13h-1.0zm17.5 0h1.0v4.13h-1.0zm7.0 0h1.0v4.13h-1.0zm15.0 0h1.0v4.13h-1.0zm10.0 0h1.0v4.13h-1.0zM360.0 607.22h1.0v4.13h-1.0zm4.0 0h1.0v4.13h-1.0zm4.0 0h1.0v4.13h-1.0zm5.0 0h1.0v4.13h-1.0zm3.0 0h1.0v4.13h-1.0zm6.0 0h1.0v4.13h-1.0zm27.0 0h1.0v4.13h-1.0zm7.0 0h1.0v4.13h-1.0zm13.0 0h1.0v4.13h-1.0zm21.5 0h1.0v4.13h-1.0zm6.0 0h1.0v4.13h-1.0zM371.0 611.34h1.0v4.13h-1.0zm25.0 0h1.0v4.13h-1.0zm9.0 0h1.0v4.13h-1.0zm6.0 0h1.0v4.13h-1.0zm12.0 0h1.0v4.13h-1.0zm25.5 0h1.0v4.13h-1.0zm16.0 0h1.0v4.13h-1.0zm12.0 0h1.0v4.13h-1.0zm6.0 0h1.0v4.13h-1.0zM350.0 615.47h1.0v4.13h-1.0zm6.0 0h1.0v4.13h-1.0zm39.0 0h1.0v4.13h-1.0zm7.0 0h1.0v4.13h-1.0zm15.0 0h1.0v4.13h-1.0zm6.0 0h1.0v4.13h-1.0zm7.0 0h1.0v4.13h-1.0zm9.5 0h1.0v4.13h-1.0zM403.0 619.60h1.0v4.13h-1.0zm24.0 0h1.0v4.13h-1.0zm2.0 0h1.0v4.13h-1.0zm2.0 0h0.7v4.13h-0.7zm8.5 0h1.0v4.13h-1.0zm12.0 0h1.0v4.13h-1.0zm24.0 0h1.0v4.13h-1.0zm7.0 0h1.0v4.13h-1.0zm3.0 0h1.0v4.13h-1.0zM445.5 623.72h1.0v4.13h-1.0zM354.0 627.85h1.0v4.13h-1.0zm11.0 0h1.0v4.13h-1.0zm2.0 0h1.0v4.13h-1.0zm4.0 0h1.0v4.13h-1.0zm43.0 0h1.0v4.13h-1.0zm6.0 0h1.0v4.13h-1.0zm10.0 0h1.0v4.13h-1.0zm5.5 0h3.0v4.13h-3.0zm15.0 0h1.0v4.13h-1.0zm11.0 0h1.0v4.13h-1.0zm18.0 0h1.0v4.13h-1.0zm5.0 0h1.0v4.13h-1.0zM352.0 631.97h1.0v4.13h-1.0zm4.0 0h1.0v4.13h-1.0zm3.0 0h1.0v4.13h-1.0zm3.0 0h2.0v4.13h-2.0zm16.0 0h1.0v4.13h-1.0zm9.0 0h1.0v4.13h-1.0zm6.0 0h1.0v4.13h-1.0zm5.0 0h1.0v4.13h-1.0zm86.5 0h1.0v4.13h-1.0zM456.5 640.23h1.0v4.13h-1.0zm29.0 0h1.0v4.13h-1.0zM387.0 644.35h1.0v4.13h-1.0zm13.0 0h1.0v4.13h-1.0zm12.0 0h1.0v4.13h-1.0zm9.0 0h2.0v4.13h-2.0zm10.0 0h0.7v4.13h-0.7zM359.0 648.48h2.0v4.13h-2.0zm12.0 0h1.0v4.13h-1.0zm8.0 0h1.0v4.13h-1.0zm5.0 0h1.0v4.13h-1.0zm3.0 0h1.0v4.13h-1.0zm3.0 0h1.0v4.13h-1.0zm2.0 0h1.0v4.13h-1.0zm5.0 0h1.0v4.13h-1.0zm5.0 0h1.0v4.13h-1.0zm5.0 0h1.0v4.13h-1.0zm5.0 0h1.0v4.13h-1.0zm10.0 0h1.0v4.13h-1.0zm2.0 0h1.0v4.13h-1.0zm4.0 0h1.0v4.13h-1.0zM404.0 660.86h1.0v4.13h-1.0z"/><path fill="#50285a" d="M371.0 429.80h1.0v4.13h-1.0zm69.5 0h1.0v4.13h-1.0zM351.0 433.93h1.0v4.13h-1.0zM383.0 438.05h1.0v4.13h-1.0zm3.0 0h1.0v4.13h-1.0zm27.0 0h1.0v4.13h-1.0zm2.0 0h1.0v4.13h-1.0zm33.5 0h1.0v4.13h-1.0zm11.0 0h1.0v4.13h-1.0zM356.0 446.30h1.0v4.13h-1.0zm30.0 0h1.0v4.13h-1.0zm14.0 0h1.0v4.13h-1.0zm4.0 0h1.0v4.13h-1.0zm18.0 0h1.0v4.13h-1.0zm4.0 0h1.0v4.13h-1.0zm2.0 0h1.0v4.13h-1.0zM365.0 454.56h1.0v4.13h-1.0zm15.0 0h1.0v4.13h-1.0zm7.0 0h1.0v4.13h-1.0zm9.0 0h1.0v4.13h-1.0zm5.0 0h1.0v4.13h-1.0zm4.0 0h1.0v4.13h-1.0zM387.0 458.68h1.0v4.13h-1.0zm8.0 0h1.0v4.13h-1.0zm30.0 0h1.0v4.13h-1.0zM381.0 466.93h1.0v4.13h-1.0zm12.0 0h1.0v4.13h-1.0zm21.0 0h1.0v4.13h-1.0zm14.0 0h1.0v4.13h-1.0zm3.0 0h0.7v4.13h-0.7zM447.5 475.19h1.0v4.13h-1.0zm41.0 0h1.0v4.13h-1.0zM352.0 479.31h1.0v4.13h-1.0zm7.0 0h1.0v4.13h-1.0zm18.0 0h1.0v4.13h-1.0zm3.0 0h1.0v4.13h-1.0zm7.0 0h1.0v4.13h-1.0zm20.0 0h1.0v4.13h-1.0zm11.0 0h1.0v4.13h-1.0zm8.0 0h1.0v4.13h-1.0zM370.0 483.44h1.0v4.13h-1.0zm18.0 0h1.0v4.13h-1.0zm21.0 0h1.0v4.13h-1.0zM359.0 487.56h1.0v4.13h-1.0zm4.0 0h1.0v4.13h-1.0zm2.0 0h1.0v4.13h-1.0zm5.0 0h1.0v4.13h-1.0zM369.0 491.69h1.0v4.13h-1.0zm66.5 0h1.0v4.13h-1.0zm3.0 0h1.0v4.13h-1.0zm8.0 0h1.0v4.13h-1.0zm7.0 0h1.0v4.13h-1.0zm5.0 0h1.0v4.13h-1.0zm13.0 0h1.0v4.13h-1.0zm7.0 0h1.0v4.13h-1.0zM372.0 499.94h1.0v4.13h-1.0zm33.0 0h1.0v4.13h-1.0zm26.0 0h0.7v4.13h-0.7zM357.0 504.07h2.0v4.13h-2.0zm25.0 0h1.0v4.13h-1.0zm25.0 0h1.0v4.13h-1.0zm2.0 0h1.0v4.13h-1.0zm5.0 0h1.0v4.13h-1.0zm21.5 0h1.0v4.13h-1.0zm34.0 0h1.0v4.13h-1.0zm16.0 0h1.0v4.13h-1.0zM454.5 516.45h1.0v4.13h-1.0zm4.0 0h1.0v4.13h-1.0zm7.0 0h1.0v4.13h-1.0zM359.0 528.82h1.0v4.13h-1.0zm4.0 0h1.0v4.13h-1.0zm42.0 0h1.0v4.13h-1.0zm22.0 0h1.0v4.13h-1.0zm3.0 0h1.0v4.13h-1.0zM363.0 532.95h1.0v4.13h-1.0zm51.0 0h1.0v4.13h-1.0zm11.0 0h1.0v4.13h-1.0zm39.5 0h1.0v4.13h-1.0zm25.0 0h0.5v4.13h-0.5zM350.0 537.08h1.0v4.13h-1.0zm6.0 0h1.0v4.13h-1.0zm4.0 0h1.0v4.13h-1.0zm15.0 0h1.0v4.13h-1.0zm10.0 0h1.0v4.13h-1.0zm49.5 0h1.0v4.13h-1.0zm7.0 0h1.0v4.13h-1.0zm23.0 0h1.0v4.13h-1.0zM372.0 541.20h1.0v4.13h-1.0zm10.0 0h1.0v4.13h-1.0zm13.0 0h1.0v4.13h-1.0zm10.0 0h1.0v4.13h-1.0zm12.0 0h1.0v4.13h-1.0zm2.0 0h1.0v4.13h-1.0zm4.0 0h1.0v4.13h-1.0zm7.0 0h1.0v4.13h-1.0zm24.5 0h1.0v4.13h-1.0zm30.0 0h1.0v4.13h-1.0zM352.0 545.33h1.0v4.13h-1.0zm6.0 0h1.0v4.13h-1.0zm18.0 0h1.0v4.13h-1.0zm21.0 0h1.0v4.13h-1.0zm7.0 0h1.0v4.13h-1.0zm10.0 0h1.0v4.13h-1.0zM365.0 549.45h1.0v4.13h-1.0zm91.5 0h1.0v4.13h-1.0zm6.0 0h1.0v4.13h-1.0zm12.0 0h1.0v4.13h-1.0zM405.0 553.58h1.0v4.13h-1.0zm18.0 0h1.0v4.13h-1.0zm6.0 0h1.0v4.13h-1.0zm31.5 0h1.0v4.13h-1.0zM361.0 561.83h1.0v4.13h-1.0zm22.0 0h1.0v4.13h-1.0zm13.0 0h1.0v4.13h-1.0zm9.0 0h2.0v4.13h-2.0zm18.0 0h1.0v4.13h-1.0zm5.0 0h1.0v4.13h-1.0zm9.5 0h1.0v4.13h-1.0zM415.0 570.08h1.0v4.13h-1.0zm26.5 0h1.0v4.13h-1.0zm10.0 0h1.0v4.13h-1.0zm15.0 0h1.0v4.13h-1.0zM364.0 574.21h1.0v4.13h-1.0zm8.0 0h1.0v4.13h-1.0zm41.0 0h1.0v4.13h-1.0zm2.0 0h1.0v4.13h-1.0zm52.5 0h1.0v4.13h-1.0zM436.5 586.59h1.0v4.13h-1.0zm18.0 0h1.0v4.13h-1.0zm18.0 0h1.0v4.13h-1.0zm13.0 0h1.0v4.13h-1.0zM353.0 594.84h1.0v4.13h-1.0zm10.0 0h1.0v4.13h-1.0zm16.0 0h1.0v4.13h-1.0zm25.0 0h1.0v4.13h-1.0zm8.0 0h1.0v4.13h-1.0zM374.0 598.97h1.0v4.13h-1.0zM409.0 603.09h1.0v4.13h-1.0zm43.5 0h1.0v4.13h-1.0zM353.0 607.22h1.0v4.13h-1.0zm10.0 0h1.0v4.13h-1.0zm21.0 0h2.0v4.13h-2.0zm3.0 0h1.0v4.13h-1.0zm6.0 0h1.0v4.13h-1.0zm3.0 0h1.0v4.13h-1.0zm32.0 0h1.0v4.13h-1.0zM379.0 611.34h1.0v4.13h-1.0zm6.0 0h1.0v4.13h-1.0zm16.0 0h1.0v4.13h-1.0zm6.0 0h1.0v4.13h-1.0zm11.0 0h1.0v4.13h-1.0zm3.0 0h1.0v4.13h-1.0zm11.5 0h1.0v4.13h-1.0zM358.0 615.47h1.0v4.13h-1.0zm26.0 0h1.0v4.13h-1.0zm45.0 0h1.0v4.13h-1.0zM378.0 619.60h1.0v4.13h-1.0zm26.0 0h1.0v4.13h-1.0zm58.5 0h1.0v4.13h-1.0zM372.0 627.85h2.0v4.13h-2.0zm33.0 0h1.0v4.13h-1.0zm6.0 0h1.0v4.13h-1.0zm17.0 0h1.0v4.13h-1.0zM385.0 631.97h1.0v4.13h-1.0zm16.0 0h1.0v4.13h-1.0zm45.5 0h1.0v4.13h-1.0zM432.5 640.23h1.0v4.13h-1.0zm23.0 0h1.0v4.13h-1.0zm13.0 0h1.0v4.13h-1.0zm12.0 0h1.0v4.13h-1.0zM360.0 644.35h2.0v4.13h-2.0zm15.0 0h1.0v4.13h-1.0zm10.0 0h1.0v4.13h-1.0zm5.0 0h2.0v4.13h-2.0zm5.0 0h1.0v4.13h-1.0zm20.0 0h3.0v4.13h-3.0zm12.0 0h1.0v4.13h-1.0zM406.0 648.48h1.0v4.13h-1.0zm19.0 0h1.0v4.13h-1.0zm6.0 0h0.7v4.13h-0.7z"/><path fill="#50461e" d="M408.0 429.80h1.0v4.13h-1.0zm43.5 0h1.0v4.13h-1.0zM378.0 433.93h1.0v4.13h-1.0zM363.0 442.18h1.0v4.13h-1.0zM437.5 446.30h1.0v4.13h-1.0zM461.5 454.56h1.0v4.13h-1.0zM371.0 458.68h1.0v4.13h-1.0zm4.0 0h1.0v4.13h-1.0zm10.0 0h1.0v4.13h-1.0zm30.0 0h1.0v4.13h-1.0zm5.0 0h1.0v4.13h-1.0zM385.0 462.81h1.0v4.13h-1.0zM441.5 466.93h1.0v4.13h-1.0zm12.0 0h1.0v4.13h-1.0zM378.0 483.44h2.0v4.13h-2.0zm35.0 0h1.0v4.13h-1.0zM455.5 487.56h1.0v4.13h-1.0zM410.0 491.69h1.0v4.13h-1.0zM358.0 516.45h1.0v4.13h-1.0zm39.0 0h1.0v4.13h-1.0zM478.5 528.82h1.0v4.13h-1.0zM466.5 532.95h1.0v4.13h-1.0zm13.0 0h1.0v4.13h-1.0zM367.0 537.08h1.0v4.13h-1.0zm15.0 0h1.0v4.13h-1.0zm68.5 0h1.0v4.13h-1.0zm32.0 0h1.0v4.13h-1.0zM453.5 561.83h1.0v4.13h-1.0zm25.0 0h1.0v4.13h-1.0zM359.0 570.08h1.0v4.13h-1.0zM439.5 578.34h1.0v4.13h-1.0zM485.5 582.46h1.0v4.13h-1.0zM371.0 590.71h1.0v4.13h-1.0zM450.5 594.84h1.0v4.13h-1.0zM428.0 603.09h1.0v4.13h-1.0zM485.5 611.34h1.0v4.13h-1.0zM476.5 623.72h1.0v4.13h-1.0zM452.5 644.35h1.0v4.13h-1.0zM442.5 648.48h1.0v4.13h-1.0zM364.0 660.86h1.0v4.13h-1.0zm61.0 0h1.0v4.13h-1.0z"/><path fill="#504628" d="M366.0 429.80h1.0v4.13h-1.0zm53.0 0h1.0v4.13h-1.0zm45.5 0h1.0v4.13h-1.0zm21.0 0h1.0v4.13h-1.0zM400.0 433.93h1.0v4.13h-1.0zM358.0 438.05h1.0v4.13h-1.0zm97.5 0h1.0v4.13h-1.0zm18.0 0h1.0v4.13h-1.0zm14.0 0h1.0v4.13h-1.0zM357.0 442.18h1.0v4.13h-1.0zm58.0 0h1.0v4.13h-1.0zM470.5 446.30h1.0v4.13h-1.0zm12.0 0h1.0v4.13h-1.0zM439.5 454.56h1.0v4.13h-1.0zm3.0 0h1.0v4.13h-1.0zm12.0 0h1.0v4.13h-1.0zm15.0 0h1.0v4.13h-1.0zm10.0 0h1.0v4.13h-1.0zM368.0 458.68h1.0v4.13h-1.0zm23.0 0h1.0v4.13h-1.0zm15.0 0h1.0v4.13h-1.0zM350.0 462.81h1.0v4.13h-1.0zm9.0 0h1.0v4.13h-1.0zm10.0 0h1.0v4.13h-1.0zm23.0 0h1.0v4.13h-1.0zm10.0 0h1.0v4.13h-1.0zM436.5 466.93h1.0v4.13h-1.0zm2.0 0h1.0v4.13h-1.0zM360.0 475.19h1.0v4.13h-1.0zm22.0 0h1.0v4.13h-1.0zm6.0 0h1.0v4.13h-1.0zM466.5 479.31h1.0v4.13h-1.0zM354.0 483.44h1.0v4.13h-1.0zm75.0 0h1.0v4.13h-1.0zM352.0 491.69h1.0v4.13h-1.0zm38.0 0h1.0v4.13h-1.0zm10.0 0h1.0v4.13h-1.0zM449.5 499.94h1.0v4.13h-1.0zm34.0 0h1.0v4.13h-1.0zm2.0 0h1.0v4.13h-1.0zM375.0 516.45h1.0v4.13h-1.0zm28.0 0h1.0v4.13h-1.0zm4.0 0h2.0v4.13h-2.0zm4.0 0h1.0v4.13h-1.0zm14.0 0h1.0v4.13h-1.0zM360.0 524.70h1.0v4.13h-1.0zm4.0 0h1.0v4.13h-1.0zm2.0 0h1.0v4.13h-1.0zm26.0 0h1.0v4.13h-1.0zM474.5 528.82h1.0v4.13h-1.0zm10.0 0h1.0v4.13h-1.0zM453.5 532.95h1.0v4.13h-1.0zm16.0 0h1.0v4.13h-1.0zM372.0 537.08h1.0v4.13h-1.0zm59.0 0h0.7v4.13h-0.7zM440.5 541.20h1.0v4.13h-1.0zm39.0 0h1.0v4.13h-1.0zM439.5 545.33h1.0v4.13h-1.0zm3.0 0h1.0v4.13h-1.0zm9.0 0h1.0v4.13h-1.0zm2.0 0h1.0v4.13h-1.0zm8.0 0h1.0v4.13h-1.0zm20.0 0h1.0v4.13h-1.0zM356.0 553.58h1.0v4.13h-1.0zm30.0 0h1.0v4.13h-1.0zm52.5 0h1.0v4.13h-1.0zm8.0 0h1.0v4.13h-1.0zm4.0 0h2.0v4.13h-2.0zM435.5 561.83h1.0v4.13h-1.0zm32.0 0h1.0v4.13h-1.0zm4.0 0h1.0v4.13h-1.0zm15.0 0h1.0v4.13h-1.0zM451.5 565.96h1.0v4.13h-1.0zm12.0 0h1.0v4.13h-1.0zm14.0 0h1.0v4.13h-1.0zm4.0 0h1.0v4.13h-1.0zm3.0 0h1.0v4.13h-1.0zM351.0 570.08h1.0v4.13h-1.0zm15.0 0h1.0v4.13h-1.0zm30.0 0h1.0v4.13h-1.0zm12.0 0h1.0v4.13h-1.0zm11.0 0h1.0v4.13h-1.0zm8.0 0h1.0v4.13h-1.0zM357.0 574.21h1.0v4.13h-1.0zm118.5 0h1.0v4.13h-1.0zM461.5 578.34h1.0v4.13h-1.0zM395.0 582.46h1.0v4.13h-1.0zm5.0 0h1.0v4.13h-1.0zm2.0 0h1.0v4.13h-1.0zm43.5 0h1.0v4.13h-1.0zm6.0 0h1.0v4.13h-1.0zm23.0 0h1.0v4.13h-1.0zM475.5 586.59h1.0v4.13h-1.0zM359.0 590.71h1.0v4.13h-1.0zm11.0 0h1.0v4.13h-1.0zm9.0 0h1.0v4.13h-1.0zm7.0 0h1.0v4.13h-1.0zm21.0 0h1.0v4.13h-1.0zm38.5 0h2.0v4.13h-2.0zm41.0 0h1.0v4.13h-1.0zM437.5 594.84h1.0v4.13h-1.0zm16.0 0h1.0v4.13h-1.0zm9.0 0h1.0v4.13h-1.0zm4.0 0h1.0v4.13h-1.0zm12.0 0h2.0v4.13h-2.0zM435.5 598.97h1.0v4.13h-1.0zm8.0 0h1.0v4.13h-1.0zm17.0 0h1.0v4.13h-1.0zM353.0 603.09h1.0v4.13h-1.0zm21.0 0h1.0v4.13h-1.0zm98.5 0h1.0v4.13h-1.0zM403.0 611.34h1.0v4.13h-1.0zm43.5 0h1.0v4.13h-1.0zm29.0 0h1.0v4.13h-1.0zM448.5 615.47h1.0v4.13h-1.0zm2.0 0h1.0v4.13h-1.0zm26.0 0h1.0v4.13h-1.0zm6.0 0h1.0v4.13h-1.0zm4.0 0h1.0v4.13h-1.0zM435.5 623.72h1.0v4.13h-1.0zm49.0 0h1.0v4.13h-1.0zM356.0 627.85h1.0v4.13h-1.0zm8.0 0h1.0v4.13h-1.0zm18.0 0h1.0v4.13h-1.0zM463.5 631.97h1.0v4.13h-1.0zm16.0 0h1.0v4.13h-1.0zM373.0 640.23h2.0v4.13h-2.0zm5.0 0h1.0v4.13h-1.0zm2.0 0h1.0v4.13h-1.0zm72.5 0h1.0v4.13h-1.0zM467.5 644.35h1.0v4.13h-1.0zM448.5 648.48h1.0v4.13h-1.0zm4.0 0h1.0v4.13h-1.0zm13.0 0h1.0v4.13h-1.0zm4.0 0h1.0v4.13h-1.0zm13.0 0h1.0v4.13h-1.0zM368.0 656.73h1.0v4.13h-1.0zm22.0 0h1.0v4.13h-1.0zm5.0 0h1.0v4.13h-1.0zm15.0 0h1.0v4.13h-1.0zm10.0 0h1.0v4.13h-1.0zM363.0 660.86h1.0v4.13h-1.0zm38.0 0h1.0v4.13h-1.0zm6.0 0h1.0v4.13h-1.0zm57.5 0h1.0v4.13h-1.0zm15.0 0h1.0v4.13h-1.0z"/><path fill="#505028" d="M360.0 429.80h1.0v4.13h-1.0zM352.0 433.93h1.0v4.13h-1.0zm53.0 0h1.0v4.13h-1.0zm15.0 0h1.0v4.13h-1.0zM355.0 438.05h1.0v4.13h-1.0zm21.0 0h1.0v4.13h-1.0zm65.5 0h1.0v4.13h-1.0zm26.0 0h1.0v4.13h-1.0zm3.0 0h1.0v4.13h-1.0zM366.0 442.18h1.0v4.13h-1.0zm8.0 0h1.0v4.13h-1.0zm34.0 0h1.0v4.13h-1.0zM442.5 446.30h1.0v4.13h-1.0zm15.0 0h1.0v4.13h-1.0zM443.5 454.56h1.0v4.13h-1.0zm12.0 0h1.0v4.13h-1.0zm19.0 0h1.0v4.13h-1.0zm4.0 0h1.0v4.13h-1.0zM350.0 458.68h1.0v4.13h-1.0zm2.0 0h1.0v4.13h-1.0zm21.0 0h1.0v4.13h-1.0zm21.0 0h1.0v4.13h-1.0zm3.0 0h1.0v4.13h-1.0zm10.0 0h1.0v4.13h-1.0zm11.0 0h1.0v4.13h-1.0zm5.0 0h1.0v4.13h-1.0zm8.0 0h0.7v4.13h-0.7zM448.5 466.93h1.0v4.13h-1.0zm11.0 0h1.0v4.13h-1.0zm12.0 0h1.0v4.13h-1.0zM355.0 475.19h1.0v4.13h-1.0zm6.0 0h1.0v4.13h-1.0zm2.0 0h1.0v4.13h-1.0zm32.0 0h1.0v4.13h-1.0zM453.5 479.31h2.0v4.13h-2.0zm24.0 0h1.0v4.13h-1.0zM393.0 483.44h1.0v4.13h-1.0zm34.0 0h1.0v4.13h-1.0zm3.0 0h1.0v4.13h-1.0zM484.5 487.56h1.0v4.13h-1.0zM378.0 491.69h1.0v4.13h-1.0zm30.0 0h1.0v4.13h-1.0zm15.0 0h1.0v4.13h-1.0zM412.0 499.94h1.0v4.13h-1.0zm32.5 0h1.0v4.13h-1.0zm7.0 0h1.0v4.13h-1.0zm3.0 0h1.0v4.13h-1.0zM395.0 504.07h2.0v4.13h-2.0zM353.0 516.45h1.0v4.13h-1.0zm6.0 0h1.0v4.13h-1.0zm22.0 0h1.0v4.13h-1.0zm34.0 0h1.0v4.13h-1.0zm13.0 0h1.0v4.13h-1.0zM449.5 528.82h1.0v4.13h-1.0zm17.0 0h1.0v4.13h-1.0zM445.5 532.95h1.0v4.13h-1.0zm5.0 0h1.0v4.13h-1.0zm7.0 0h1.0v4.13h-1.0zm19.0 0h1.0v4.13h-1.0zm6.0 0h1.0v4.13h-1.0zM376.0 537.08h1.0v4.13h-1.0zm54.0 0h1.0v4.13h-1.0zm33.5 0h1.0v4.13h-1.0zM457.5 541.20h1.0v4.13h-1.0zm6.0 0h1.0v4.13h-1.0zm10.0 0h1.0v4.13h-1.0zm3.0 0h1.0v4.13h-1.0zM452.5 545.33h1.0v4.13h-1.0zm19.0 0h1.0v4.13h-1.0zM394.0 549.45h1.0v4.13h-1.0zM396.0 553.58h1.0v4.13h-1.0zm46.5 0h1.0v4.13h-1.0zm15.0 0h1.0v4.13h-1.0zm2.0 0h1.0v4.13h-1.0zm11.0 0h1.0v4.13h-1.0zm2.0 0h1.0v4.13h-1.0zM441.5 561.83h1.0v4.13h-1.0zm10.0 0h1.0v4.13h-1.0zM433.5 565.96h1.0v4.13h-1.0zm4.0 0h1.0v4.13h-1.0zm11.0 0h1.0v4.13h-1.0zm17.0 0h1.0v4.13h-1.0zM420.0 574.21h1.0v4.13h-1.0zm23.5 0h1.0v4.13h-1.0zm4.0 0h1.0v4.13h-1.0zM444.5 578.34h1.0v4.13h-1.0zm3.0 0h1.0v4.13h-1.0zm7.0 0h1.0v4.13h-1.0zm3.0 0h1.0v4.13h-1.0zm9.0 0h1.0v4.13h-1.0zM355.0 582.46h1.0v4.13h-1.0zm2.0 0h1.0v4.13h-1.0zm25.0 0h1.0v4.13h-1.0zm5.0 0h1.0v4.13h-1.0zm7.0 0h1.0v4.13h-1.0zm16.0 0h1.0v4.13h-1.0zm2.0 0h1.0v4.13h-1.0zm15.0 0h1.0v4.13h-1.0zm13.5 0h1.0v4.13h-1.0zm32.0 0h1.0v4.13h-1.0zM351.0 590.71h1.0v4.13h-1.0zm34.0 0h1.0v4.13h-1.0zm31.0 0h1.0v4.13h-1.0zm27.5 0h1.0v4.13h-1.0zm19.0 0h1.0v4.13h-1.0zm2.0 0h1.0v4.13h-1.0zm17.0 0h1.0v4.13h-1.0zm4.0 0h1.0v4.13h-1.0zM438.5 594.84h1.0v4.13h-1.0zm6.0 0h1.0v4.13h-1.0zm33.0 0h1.0v4.13h-1.0zm6.0 0h1.0v4.13h-1.0zM448.5 598.97h1.0v4.13h-1.0zm3.0 0h1.0v4.13h-1.0zm4.0 0h1.0v4.13h-1.0zm7.0 0h1.0v4.13h-1.0zm7.0 0h1.0v4.13h-1.0zm12.0 0h1.0v4.13h-1.0zM431.0 603.09h0.7v4.13h-0.7zm4.5 0h1.0v4.13h-1.0zm31.0 0h1.0v4.13h-1.0zM461.5 607.22h2.0v4.13h-2.0zM395.0 611.34h1.0v4.13h-1.0zm42.5 0h1.0v4.13h-1.0zm4.0 0h1.0v4.13h-1.0zm24.0 0h1.0v4.13h-1.0zM427.0 615.47h1.0v4.13h-1.0zm7.5 0h1.0v4.13h-1.0zm2.0 0h1.0v4.13h-1.0zm18.0 0h1.0v4.13h-1.0zm10.0 0h1.0v4.13h-1.0zM424.0 619.60h1.0v4.13h-1.0zm4.0 0h1.0v4.13h-1.0zm41.5 0h1.0v4.13h-1.0zM457.5 631.97h2.0v4.13h-2.0zm19.0 0h1.0v4.13h-1.0zM356.0 640.23h1.0v4.13h-1.0zm6.0 0h1.0v4.13h-1.0zm44.0 0h1.0v4.13h-1.0zm37.5 0h1.0v4.13h-1.0zm30.0 0h1.0v4.13h-1.0zM443.5 644.35h1.0v4.13h-1.0zm20.0 0h1.0v4.13h-1.0zm19.0 0h1.0v4.13h-1.0zM439.5 648.48h1.0v4.13h-1.0zm18.0 0h1.0v4.13h-1.0zm5.0 0h1.0v4.13h-1.0zM370.0 656.73h1.0v4.13h-1.0zm7.0 0h1.0v4.13h-1.0zm4.0 0h1.0v4.13h-1.0zm36.0 0h1.0v4.13h-1.0zM362.0 660.86h1.0v4.13h-1.0zm40.0 0h1.0v4.13h-1.0zm4.0 0h1.0v4.13h-1.0zm56.5 0h1.0v4.13h-1.0z"/><path fill="#5a285a" d="M368.0 429.80h1.0v4.13h-1.0zm4.0 0h1.0v4.13h-1.0zm20.0 0h1.0v4.13h-1.0zm15.0 0h1.0v4.13h-1.0zm43.5 0h1.0v4.13h-1.0zm29.0 0h1.0v4.13h-1.0zm8.0 0h1.0v4.13h-1.0zM422.0 433.93h1.0v4.13h-1.0zM372.0 438.05h1.0v4.13h-1.0zm31.0 0h2.0v4.13h-2.0zm4.0 0h1.0v4.13h-1.0zm65.5 0h1.0v4.13h-1.0zM353.0 446.30h1.0v4.13h-1.0zm40.0 0h1.0v4.13h-1.0zm14.0 0h2.0v4.13h-2.0zm9.0 0h1.0v4.13h-1.0zm4.0 0h1.0v4.13h-1.0zm10.0 0h1.0v4.13h-1.0zm56.5 0h1.0v4.13h-1.0zM370.0 454.56h1.0v4.13h-1.0zm12.0 0h1.0v4.13h-1.0zm29.0 0h1.0v4.13h-1.0zm4.0 0h1.0v4.13h-1.0zM356.0 466.93h1.0v4.13h-1.0zm16.0 0h1.0v4.13h-1.0zm19.0 0h1.0v4.13h-1.0zM433.5 475.19h1.0v4.13h-1.0zm17.0 0h1.0v4.13h-1.0zM386.0 479.31h1.0v4.13h-1.0zm5.0 0h1.0v4.13h-1.0zm7.0 0h1.0v4.13h-1.0zm8.0 0h1.0v4.13h-1.0zm8.0 0h1.0v4.13h-1.0zM356.0 483.44h1.0v4.13h-1.0zM351.0 487.56h1.0v4.13h-1.0zm2.0 0h1.0v4.13h-1.0zm7.0 0h2.0v4.13h-2.0zm69.0 0h1.0v4.13h-1.0zM464.5 491.69h1.0v4.13h-1.0zM351.0 499.94h1.0v4.13h-1.0zm27.0 0h1.0v4.13h-1.0zm89.5 0h1.0v4.13h-1.0zm12.0 0h1.0v4.13h-1.0zM353.0 504.07h1.0v4.13h-1.0zm28.0 0h1.0v4.13h-1.0zm12.0 0h1.0v4.13h-1.0zm29.0 0h1.0v4.13h-1.0zm3.0 0h1.0v4.13h-1.0zm3.0 0h1.0v4.13h-1.0zm11.5 0h1.0v4.13h-1.0zm6.0 0h1.0v4.13h-1.0zm10.0 0h1.0v4.13h-1.0zM433.5 516.45h1.0v4.13h-1.0zm12.0 0h1.0v4.13h-1.0zm26.0 0h2.0v4.13h-2.0zm11.0 0h1.0v4.13h-1.0zM365.0 528.82h1.0v4.13h-1.0zm29.0 0h1.0v4.13h-1.0zm28.0 0h1.0v4.13h-1.0zM357.0 532.95h1.0v4.13h-1.0zm35.0 0h1.0v4.13h-1.0zm6.0 0h1.0v4.13h-1.0zm39.5 0h1.0v4.13h-1.0zM406.0 537.08h1.0v4.13h-1.0zm36.5 0h1.0v4.13h-1.0zm32.0 0h1.0v4.13h-1.0zm11.0 0h1.0v4.13h-1.0zM351.0 541.20h1.0v4.13h-1.0zm19.0 0h1.0v4.13h-1.0zm52.0 0h1.0v4.13h-1.0zm2.0 0h1.0v4.13h-1.0zm28.5 0h1.0v4.13h-1.0zm37.0 0h0.5v4.13h-0.5zM372.0 545.33h1.0v4.13h-1.0zm7.0 0h1.0v4.13h-1.0zm13.0 0h1.0v4.13h-1.0zm15.0 0h1.0v4.13h-1.0zm22.0 0h1.0v4.13h-1.0zM383.0 549.45h1.0v4.13h-1.0zm4.0 0h1.0v4.13h-1.0zm19.0 0h1.0v4.13h-1.0zm81.5 0h1.0v4.13h-1.0zM351.0 553.58h1.0v4.13h-1.0zm102.5 0h1.0v4.13h-1.0zm28.0 0h1.0v4.13h-1.0zM407.0 561.83h1.0v4.13h-1.0zm66.5 0h1.0v4.13h-1.0zM439.5 570.08h1.0v4.13h-1.0zm30.0 0h1.0v4.13h-1.0zM477.5 586.59h1.0v4.13h-1.0zM359.0 594.84h1.0v4.13h-1.0zm17.0 0h2.0v4.13h-2.0zm18.0 0h1.0v4.13h-1.0zm32.0 0h1.0v4.13h-1.0zm2.0 0h1.0v4.13h-1.0zM369.0 598.97h1.0v4.13h-1.0zm11.0 0h2.0v4.13h-2.0zm7.0 0h1.0v4.13h-1.0zm23.0 0h1.0v4.13h-1.0zm2.0 0h1.0v4.13h-1.0zM371.0 603.09h1.0v4.13h-1.0zm22.0 0h1.0v4.13h-1.0zm6.0 0h1.0v4.13h-1.0zm2.0 0h1.0v4.13h-1.0zm40.5 0h1.0v4.13h-1.0zm3.0 0h1.0v4.13h-1.0zM358.0 607.22h1.0v4.13h-1.0zm23.0 0h1.0v4.13h-1.0zm38.0 0h1.0v4.13h-1.0zM356.0 611.34h1.0v4.13h-1.0zm25.0 0h1.0v4.13h-1.0zm50.0 0h0.7v4.13h-0.7zm41.5 0h1.0v4.13h-1.0zM383.0 615.47h1.0v4.13h-1.0zm48.0 0h0.7v4.13h-0.7zM373.0 619.60h1.0v4.13h-1.0zM393.0 627.85h1.0v4.13h-1.0zm22.0 0h1.0v4.13h-1.0zM355.0 631.97h1.0v4.13h-1.0zm2.0 0h1.0v4.13h-1.0zm11.0 0h1.0v4.13h-1.0zm35.0 0h1.0v4.13h-1.0zm24.0 0h1.0v4.13h-1.0zM463.5 640.23h1.0v4.13h-1.0zm13.0 0h1.0v4.13h-1.0zM368.0 644.35h1.0v4.13h-1.0zm51.0 0h1.0v4.13h-1.0zm9.0 0h1.0v4.13h-1.0zM354.0 648.48h1.0v4.13h-1.0zm9.0 0h1.0v4.13h-1.0zm31.0 0h1.0v4.13h-1.0zm23.0 0h1.0v4.13h-1.0zm61.5 0h1.0v4.13h-1.0z"/><path fill="#5a325a" d="M350.0 429.80h1.0v4.13h-1.0zm25.0 0h1.0v4.13h-1.0zm28.0 0h1.0v4.13h-1.0zM356.0 433.93h1.0v4.13h-1.0zm55.0 0h1.0v4.13h-1.0zM351.0 438.05h1.0v4.13h-1.0zm3.0 0h1.0v4.13h-1.0zm64.0 0h1.0v4.13h-1.0zm11.0 0h1.0v4.13h-1.0zM363.0 446.30h1.0v4.13h-1.0zm9.0 0h1.0v4.13h-1.0zm22.0 0h1.0v4.13h-1.0zM349.0 454.56h1.0v4.13h-1.0zm77.0 0h1.0v4.13h-1.0zM365.0 466.93h1.0v4.13h-1.0zm31.0 0h1.0v4.13h-1.0zM469.5 475.19h1.0v4.13h-1.0zM405.0 483.44h1.0v4.13h-1.0zm20.0 0h1.0v4.13h-1.0zm3.0 0h1.0v4.13h-1.0zM380.0 487.56h1.0v4.13h-1.0zm10.0 0h1.0v4.13h-1.0zm13.0 0h1.0v4.13h-1.0zm13.0 0h1.0v4.13h-1.0zm27.5 0h1.0v4.13h-1.0zM360.0 491.69h1.0v4.13h-1.0zm64.0 0h1.0v4.13h-1.0zm8.5 0h1.0v4.13h-1.0zm27.0 0h1.0v4.13h-1.0zM417.0 499.94h1.0v4.13h-1.0zm4.0 0h1.0v4.13h-1.0zm40.5 0h1.0v4.13h-1.0zM406.0 504.07h1.0v4.13h-1.0zm50.5 0h1.0v4.13h-1.0zm16.0 0h1.0v4.13h-1.0zm4.0 0h1.0v4.13h-1.0zM408.0 528.82h1.0v4.13h-1.0zM349.0 532.95h1.0v4.13h-1.0zm38.0 0h1.0v4.13h-1.0zm14.0 0h1.0v4.13h-1.0zm11.0 0h1.0v4.13h-1.0zm18.0 0h1.0v4.13h-1.0zM396.0 537.08h1.0v4.13h-1.0zm42.5 0h1.0v4.13h-1.0zm23.0 0h1.0v4.13h-1.0zm12.0 0h1.0v4.13h-1.0zM402.0 541.20h1.0v4.13h-1.0zM378.0 545.33h1.0v4.13h-1.0zm28.0 0h1.0v4.13h-1.0zm25.0 0h0.7v4.13h-0.7zM360.0 549.45h1.0v4.13h-1.0zm36.0 0h1.0v4.13h-1.0zm6.0 0h1.0v4.13h-1.0zm47.5 0h1.0v4.13h-1.0zm18.0 0h1.0v4.13h-1.0zM352.0 561.83h1.0v4.13h-1.0zm64.0 0h1.0v4.13h-1.0zm11.0 0h1.0v4.13h-1.0zM476.5 565.96h1.0v4.13h-1.0zM356.0 574.21h1.0v4.13h-1.0zm51.0 0h1.0v4.13h-1.0zm7.0 0h1.0v4.13h-1.0zM448.5 578.34h1.0v4.13h-1.0zm5.0 0h1.0v4.13h-1.0zM369.0 594.84h1.0v4.13h-1.0zm9.0 0h1.0v4.13h-1.0zm46.0 0h1.0v4.13h-1.0zM398.0 598.97h1.0v4.13h-1.0zm9.0 0h1.0v4.13h-1.0zm22.0 0h1.0v4.13h-1.0zm2.0 0h0.7v4.13h-0.7zM355.0 603.09h1.0v4.13h-1.0zm26.0 0h1.0v4.13h-1.0zm16.0 0h1.0v4.13h-1.0zm90.5 0h1.0v4.13h-1.0zM349.0 607.22h1.0v4.13h-1.0zm2.0 0h1.0v4.13h-1.0zm11.0 0h1.0v4.13h-1.0zm44.0 0h1.0v4.13h-1.0zM349.0 611.34h1.0v4.13h-1.0zm4.0 0h1.0v4.13h-1.0zm71.0 0h1.0v4.13h-1.0zm6.0 0h1.0v4.13h-1.0zm14.5 0h1.0v4.13h-1.0zm18.0 0h1.0v4.13h-1.0zM405.0 615.47h1.0v4.13h-1.0zm21.0 0h1.0v4.13h-1.0zM442.5 619.60h1.0v4.13h-1.0zm3.0 0h1.0v4.13h-1.0zM370.0 627.85h1.0v4.13h-1.0zm22.0 0h1.0v4.13h-1.0zM409.0 631.97h1.0v4.13h-1.0zm8.0 0h1.0v4.13h-1.0zm11.0 0h1.0v4.13h-1.0zM361.0 648.48h1.0v4.13h-1.0z"/><path fill="#5a3264" d="M357.0 429.80h1.0v4.13h-1.0zm10.0 0h1.0v4.13h-1.0zm6.0 0h1.0v4.13h-1.0zm3.0 0h1.0v4.13h-1.0zm4.0 0h1.0v4.13h-1.0zm9.0 0h1.0v4.13h-1.0zm11.0 0h1.0v4.13h-1.0zm23.0 0h1.0v4.13h-1.0zm9.5 0h2.0v4.13h-2.0zm31.0 0h1.0v4.13h-1.0zM393.0 433.93h1.0v4.13h-1.0zM363.0 438.05h1.0v4.13h-1.0zm77.5 0h1.0v4.13h-1.0zM352.0 446.30h1.0v4.13h-1.0zm15.0 0h1.0v4.13h-1.0zm21.0 0h1.0v4.13h-1.0zm2.0 0h1.0v4.13h-1.0zm9.0 0h1.0v4.13h-1.0zm45.5 0h1.0v4.13h-1.0zm43.0 0h2.0v4.13h-2.0zM352.0 454.56h1.0v4.13h-1.0zm6.0 0h1.0v4.13h-1.0zm33.0 0h1.0v4.13h-1.0zm13.0 0h1.0v4.13h-1.0zm26.0 0h1.7v4.13h-1.7zM353.0 466.93h1.0v4.13h-1.0zm10.0 0h2.0v4.13h-2.0zm15.0 0h2.0v4.13h-2.0zm6.0 0h1.0v4.13h-1.0zm23.0 0h1.0v4.13h-1.0zm3.0 0h1.0v4.13h-1.0zm12.0 0h1.0v4.13h-1.0zm29.5 0h1.0v4.13h-1.0zM487.5 475.19h1.0v4.13h-1.0zM395.0 483.44h1.0v4.13h-1.0zm16.0 0h1.0v4.13h-1.0zm7.0 0h1.0v4.13h-1.0zM369.0 487.56h1.0v4.13h-1.0zm41.0 0h1.0v4.13h-1.0zm73.5 0h1.0v4.13h-1.0zm5.0 0h1.0v4.13h-1.0zM355.0 491.69h1.0v4.13h-1.0zm41.0 0h2.0v4.13h-2.0zm8.0 0h1.0v4.13h-1.0zm29.5 0h1.0v4.13h-1.0zm21.0 0h1.0v4.13h-1.0zm9.0 0h1.0v4.13h-1.0zm21.0 0h1.0v4.13h-1.0zM353.0 499.94h1.0v4.13h-1.0zm6.0 0h1.0v4.13h-1.0zm3.0 0h1.0v4.13h-1.0zm28.0 0h1.0v4.13h-1.0zm13.0 0h1.0v4.13h-1.0zm77.5 0h1.0v4.13h-1.0zM367.0 504.07h1.0v4.13h-1.0zm4.0 0h1.0v4.13h-1.0zm37.0 0h1.0v4.13h-1.0zm7.0 0h1.0v4.13h-1.0zm3.0 0h1.0v4.13h-1.0zm14.5 0h2.0v4.13h-2.0zm10.0 0h1.0v4.13h-1.0zm6.0 0h2.0v4.13h-2.0zm3.0 0h1.0v4.13h-1.0zm3.0 0h1.0v4.13h-1.0zm7.0 0h1.0v4.13h-1.0zM440.5 516.45h1.0v4.13h-1.0zm2.0 0h1.0v4.13h-1.0zm6.0 0h1.0v4.13h-1.0zm7.0 0h1.0v4.13h-1.0zm2.0 0h1.0v4.13h-1.0zM349.0 528.82h1.0v4.13h-1.0zm35.0 0h1.0v4.13h-1.0zm27.0 0h1.0v4.13h-1.0zm3.0 0h1.0v4.13h-1.0zm4.0 0h1.0v4.13h-1.0zM370.0 532.95h1.0v4.13h-1.0zm19.0 0h1.0v4.13h-1.0zm2.0 0h1.0v4.13h-1.0zm27.0 0h1.0v4.13h-1.0zm70.5 0h1.0v4.13h-1.0zM358.0 537.08h1.0v4.13h-1.0zm23.0 0h1.0v4.13h-1.0zm17.0 0h1.0v4.13h-1.0zm6.0 0h1.0v4.13h-1.0zm8.0 0h1.0v4.13h-1.0zm9.0 0h1.0v4.13h-1.0zm18.5 0h1.0v4.13h-1.0zm4.0 0h1.0v4.13h-1.0zm14.0 0h1.0v4.13h-1.0zM399.0 541.20h1.0v4.13h-1.0zm13.0 0h1.0v4.13h-1.0zm9.0 0h1.0v4.13h-1.0zM363.0 545.33h1.0v4.13h-1.0zm4.0 0h1.0v4.13h-1.0zm23.0 0h1.0v4.13h-1.0zm3.0 0h1.0v4.13h-1.0zm33.0 0h1.0v4.13h-1.0zM359.0 549.45h1.0v4.13h-1.0zm4.0 0h1.0v4.13h-1.0zm29.0 0h1.0v4.13h-1.0zm23.0 0h1.0v4.13h-1.0zm17.5 0h1.0v4.13h-1.0zm9.0 0h1.0v4.13h-1.0zm27.0 0h1.0v4.13h-1.0zm21.0 0h0.5v4.13h-0.5zM369.0 553.58h2.0v4.13h-2.0zm38.0 0h1.0v4.13h-1.0zm20.0 0h1.0v4.13h-1.0zM351.0 561.83h1.0v4.13h-1.0zm4.0 0h1.0v4.13h-1.0zm22.0 0h1.0v4.13h-1.0zm17.0 0h1.0v4.13h-1.0zm20.0 0h1.0v4.13h-1.0zm10.0 0h1.0v4.13h-1.0zm5.0 0h1.0v4.13h-1.0zm4.5 0h1.0v4.13h-1.0zm3.0 0h1.0v4.13h-1.0zm53.0 0h0.5v4.13h-0.5zM434.5 570.08h1.0v4.13h-1.0zm16.0 0h1.0v4.13h-1.0zm6.0 0h1.0v4.13h-1.0zm16.0 0h1.0v4.13h-1.0zm12.0 0h1.0v4.13h-1.0zM353.0 574.21h1.0v4.13h-1.0zm22.0 0h1.0v4.13h-1.0zm15.0 0h1.0v4.13h-1.0zM379.0 582.46h1.0v4.13h-1.0zM478.5 586.59h1.0v4.13h-1.0zM350.0 594.84h2.0v4.13h-2.0zm22.0 0h1.0v4.13h-1.0zm9.0 0h1.0v4.13h-1.0zm4.0 0h1.0v4.13h-1.0zm2.0 0h1.0v4.13h-1.0zm3.0 0h1.0v4.13h-1.0zm28.0 0h1.0v4.13h-1.0zm5.0 0h1.0v4.13h-1.0zM364.0 598.97h1.0v4.13h-1.0zm9.0 0h1.0v4.13h-1.0zm36.0 0h1.0v4.13h-1.0zm7.0 0h1.0v4.13h-1.0zm10.0 0h1.0v4.13h-1.0zM376.0 603.09h1.0v4.13h-1.0zm18.0 0h1.0v4.13h-1.0zm43.5 0h1.0v4.13h-1.0zm3.0 0h1.0v4.13h-1.0zm7.0 0h1.0v4.13h-1.0zm8.0 0h1.0v4.13h-1.0zM354.0 607.22h1.0v4.13h-1.0zm26.0 0h1.0v4.13h-1.0zM357.0 611.34h1.0v4.13h-1.0zm9.0 0h1.0v4.13h-1.0zm7.0 0h1.0v4.13h-1.0zm18.0 0h1.0v4.13h-1.0zm26.0 0h1.0v4.13h-1.0zm12.0 0h1.0v4.13h-1.0zm24.5 0h1.0v4.13h-1.0zM355.0 615.47h1.0v4.13h-1.0zm2.0 0h1.0v4.13h-1.0zm3.0 0h1.0v4.13h-1.0zm9.0 0h1.0v4.13h-1.0zm2.0 0h1.0v4.13h-1.0zm42.0 0h1.0v4.13h-1.0zm5.0 0h1.0v4.13h-1.0zm2.0 0h1.0v4.13h-1.0zM353.0 619.60h1.0v4.13h-1.0zm48.0 0h1.0v4.13h-1.0zm20.0 0h1.0v4.13h-1.0zM362.0 627.85h1.0v4.13h-1.0zm33.0 0h1.0v4.13h-1.0zm4.0 0h1.0v4.13h-1.0zm32.0 0h0.7v4.13h-0.7zM370.0 631.97h1.0v4.13h-1.0zm25.0 0h1.0v4.13h-1.0zm20.0 0h1.0v4.13h-1.0zM352.0 640.23h1.0v4.13h-1.0zm88.5 0h1.0v4.13h-1.0zm2.0 0h1.0v4.13h-1.0zm18.0 0h1.0v4.13h-1.0zm7.0 0h1.0v4.13h-1.0zM370.0 644.35h1.0v4.13h-1.0zm22.0 0h1.0v4.13h-1.0zm12.0 0h1.0v4.13h-1.0z"/><path fill="#5a5028" d="M412.0 429.80h1.0v4.13h-1.0zm4.0 0h1.0v4.13h-1.0zm5.0 0h1.0v4.13h-1.0zm44.5 0h1.0v4.13h-1.0zm10.0 0h1.0v4.13h-1.0zM365.0 433.93h1.0v4.13h-1.0zm29.0 0h1.0v4.13h-1.0zm30.0 0h2.0v4.13h-2.0zM375.0 438.05h1.0v4.13h-1.0zm64.5 0h1.0v4.13h-1.0zM433.5 446.30h1.0v4.13h-1.0zm8.0 0h1.0v4.13h-1.0zm13.0 0h1.0v4.13h-1.0zm12.0 0h1.0v4.13h-1.0zm14.0 0h1.0v4.13h-1.0zM436.5 454.56h1.0v4.13h-1.0zm2.0 0h1.0v4.13h-1.0zm6.0 0h1.0v4.13h-1.0zM382.0 458.68h1.0v4.13h-1.0zm6.0 0h2.0v4.13h-2.0zm4.0 0h1.0v4.13h-1.0zm17.0 0h1.0v4.13h-1.0zM444.5 466.93h1.0v4.13h-1.0zm5.0 0h1.0v4.13h-1.0zm15.0 0h1.0v4.13h-1.0zM369.0 475.19h1.0v4.13h-1.0zm6.0 0h4.0v4.13h-4.0zm6.0 0h1.0v4.13h-1.0zm4.0 0h1.0v4.13h-1.0zm5.0 0h1.0v4.13h-1.0zm17.0 0h1.0v4.13h-1.0zM449.5 479.31h1.0v4.13h-1.0zm6.0 0h2.0v4.13h-2.0zm17.0 0h3.0v4.13h-3.0zM351.0 483.44h1.0v4.13h-1.0zm12.0 0h1.0v4.13h-1.0zm3.0 0h1.0v4.13h-1.0zm8.0 0h1.0v4.13h-1.0zm8.0 0h1.0v4.13h-1.0zM432.5 487.56h1.0v4.13h-1.0zm7.0 0h1.0v4.13h-1.0zm3.0 0h1.0v4.13h-1.0zm4.0 0h1.0v4.13h-1.0zm4.0 0h1.0v4.13h-1.0zm35.0 0h1.0v4.13h-1.0zm4.0 0h0.5v4.13h-0.5zM377.0 491.69h1.0v4.13h-1.0zm48.0 0h1.0v4.13h-1.0zm4.0 0h1.0v4.13h-1.0zM400.0 499.94h1.0v4.13h-1.0zm56.5 0h1.0v4.13h-1.0zm4.0 0h1.0v4.13h-1.0zm5.0 0h1.0v4.13h-1.0zM412.0 504.07h1.0v4.13h-1.0zM355.0 516.45h1.0v4.13h-1.0zM451.5 528.82h1.0v4.13h-1.0zm22.0 0h1.0v4.13h-1.0zM442.5 532.95h1.0v4.13h-1.0zm13.0 0h1.0v4.13h-1.0zm8.0 0h1.0v4.13h-1.0zm22.0 0h1.0v4.13h-1.0zM394.0 537.08h1.0v4.13h-1.0zm31.0 0h1.0v4.13h-1.0zm8.5 0h1.0v4.13h-1.0zm34.0 0h1.0v4.13h-1.0zM434.5 541.20h1.0v4.13h-1.0zm34.0 0h2.0v4.13h-2.0zm13.0 0h1.0v4.13h-1.0zM441.5 545.33h1.0v4.13h-1.0zm21.0 0h1.0v4.13h-1.0zm16.0 0h1.0v4.13h-1.0zm2.0 0h1.0v4.13h-1.0zM376.0 549.45h1.0v4.13h-1.0zm10.0 0h1.0v4.13h-1.0zm13.0 0h1.0v4.13h-1.0zm21.0 0h1.0v4.13h-1.0zM426.0 553.58h1.0v4.13h-1.0zm36.5 0h1.0v4.13h-1.0zm15.0 0h1.0v4.13h-1.0zM446.5 561.83h1.0v4.13h-1.0zm15.0 0h1.0v4.13h-1.0zm24.0 0h1.0v4.13h-1.0zM464.5 565.96h1.0v4.13h-1.0zm16.0 0h1.0v4.13h-1.0zM349.0 570.08h1.0v4.13h-1.0zm11.0 0h2.0v4.13h-2.0zm21.0 0h1.0v4.13h-1.0zm12.0 0h1.0v4.13h-1.0zm7.0 0h1.0v4.13h-1.0zm11.0 0h1.0v4.13h-1.0zm13.0 0h2.0v4.13h-2.0zM370.0 574.21h1.0v4.13h-1.0zm79.5 0h1.0v4.13h-1.0zm3.0 0h1.0v4.13h-1.0zm10.0 0h1.0v4.13h-1.0zm10.0 0h1.0v4.13h-1.0zM435.5 578.34h1.0v4.13h-1.0zm6.0 0h1.0v4.13h-1.0zm2.0 0h1.0v4.13h-1.0zm6.0 0h1.0v4.13h-1.0zm19.0 0h1.0v4.13h-1.0zm6.0 0h1.0v4.13h-1.0zm6.0 0h2.0v4.13h-2.0zM354.0 582.46h1.0v4.13h-1.0zm26.0 0h1.0v4.13h-1.0zm10.0 0h1.0v4.13h-1.0zm19.0 0h1.0v4.13h-1.0zm21.0 0h1.0v4.13h-1.0zm56.5 0h1.0v4.13h-1.0zM438.5 586.59h1.0v4.13h-1.0zm2.0 0h1.0v4.13h-1.0zm25.0 0h1.0v4.13h-1.0zm15.0 0h1.0v4.13h-1.0zM349.0 590.71h2.0v4.13h-2.0zm11.0 0h1.0v4.13h-1.0zm8.0 0h1.0v4.13h-1.0zm14.0 0h1.0v4.13h-1.0zm26.0 0h1.0v4.13h-1.0zm52.5 0h1.0v4.13h-1.0zm3.0 0h1.0v4.13h-1.0zm24.0 0h1.0v4.13h-1.0zM471.5 594.84h1.0v4.13h-1.0zm4.0 0h1.0v4.13h-1.0zM438.5 598.97h1.0v4.13h-1.0zm37.0 0h1.0v4.13h-1.0zM414.0 603.09h1.0v4.13h-1.0zm18.5 0h1.0v4.13h-1.0zm4.0 0h1.0v4.13h-1.0zM414.0 607.22h1.0v4.13h-1.0zM489.5 611.34h0.5v4.13h-0.5zM409.0 615.47h1.0v4.13h-1.0zm79.5 0h1.0v4.13h-1.0zM349.0 619.60h1.0v4.13h-1.0zm45.0 0h1.0v4.13h-1.0zm20.0 0h1.0v4.13h-1.0zm4.0 0h1.0v4.13h-1.0zm26.5 0h1.0v4.13h-1.0zm14.0 0h1.0v4.13h-1.0zm2.0 0h2.0v4.13h-2.0zM432.5 623.72h1.0v4.13h-1.0zm2.0 0h1.0v4.13h-1.0zm25.0 0h1.0v4.13h-1.0zm30.0 0h0.5v4.13h-0.5zM361.0 627.85h1.0v4.13h-1.0zm30.0 0h1.0v4.13h-1.0zM453.5 631.97h1.0v4.13h-1.0zm34.0 0h1.0v4.13h-1.0zM354.0 640.23h1.0v4.13h-1.0zm7.0 0h1.0v4.13h-1.0zm7.0 0h1.0v4.13h-1.0zm2.0 0h1.0v4.13h-1.0zm12.0 0h1.0v4.13h-1.0zm4.0 0h1.0v4.13h-1.0zm3.0 0h1.0v4.13h-1.0zm20.0 0h1.0v4.13h-1.0zm11.0 0h1.0v4.13h-1.0zm6.0 0h1.0v4.13h-1.0zm2.0 0h1.0v4.13h-1.0zm30.5 0h1.0v4.13h-1.0zM453.5 644.35h1.0v4.13h-1.0zm3.0 0h1.0v4.13h-1.0zM444.5 648.48h3.0v4.13h-3.0zm23.0 0h1.0v4.13h-1.0zm21.0 0h1.0v4.13h-1.0zM380.0 656.73h1.0v4.13h-1.0zM354.0 660.86h1.0v4.13h-1.0zm16.0 0h1.0v4.13h-1.0zm9.0 0h1.0v4.13h-1.0zm11.0 0h1.0v4.13h-1.0zm2.0 0h1.0v4.13h-1.0zm11.0 0h1.0v4.13h-1.0zm2.0 0h1.0v4.13h-1.0z"/><path fill="#5a5a28" d="M356.0 429.80h1.0v4.13h-1.0zm92.5 0h1.0v4.13h-1.0zm34.0 0h1.0v4.13h-1.0zM364.0 433.93h1.0v4.13h-1.0zm6.0 0h1.0v4.13h-1.0zm12.0 0h2.0v4.13h-2.0zm5.0 0h1.0v4.13h-1.0zm2.0 0h1.0v4.13h-1.0zm15.0 0h1.0v4.13h-1.0zm2.0 0h1.0v4.13h-1.0zm22.0 0h2.0v4.13h-2.0zM395.0 438.05h1.0v4.13h-1.0zm65.5 0h1.0v4.13h-1.0zm19.0 0h1.0v4.13h-1.0zm10.0 0h0.5v4.13h-0.5zM453.5 446.30h1.0v4.13h-1.0zm5.0 0h1.0v4.13h-1.0zM370.0 458.68h1.0v4.13h-1.0zm10.0 0h1.0v4.13h-1.0zm24.0 0h1.0v4.13h-1.0zm15.0 0h1.0v4.13h-1.0zm3.0 0h1.0v4.13h-1.0zM450.5 466.93h1.0v4.13h-1.0zm26.0 0h2.0v4.13h-2.0zm6.0 0h1.0v4.13h-1.0zM365.0 475.19h1.0v4.13h-1.0zm27.0 0h1.0v4.13h-1.0zm28.0 0h1.0v4.13h-1.0zm10.0 0h1.0v4.13h-1.0zM439.5 479.31h1.0v4.13h-1.0zm20.0 0h1.0v4.13h-1.0zM350.0 483.44h1.0v4.13h-1.0zm7.0 0h1.0v4.13h-1.0zM448.5 487.56h1.0v4.13h-1.0zm19.0 0h1.0v4.13h-1.0zM399.0 491.69h1.0v4.13h-1.0zm2.0 0h1.0v4.13h-1.0zM379.0 499.94h1.0v4.13h-1.0zm20.0 0h1.0v4.13h-1.0zm34.5 0h1.0v4.13h-1.0zm5.0 0h1.0v4.13h-1.0zm50.0 0h1.0v4.13h-1.0zM359.0 504.07h1.0v4.13h-1.0zm24.0 0h1.0v4.13h-1.0zM377.0 516.45h1.0v4.13h-1.0zM439.5 528.82h1.0v4.13h-1.0zM364.0 537.08h1.0v4.13h-1.0zm20.0 0h1.0v4.13h-1.0zm93.5 0h1.0v4.13h-1.0zM443.5 541.20h1.0v4.13h-1.0zm43.0 0h1.0v4.13h-1.0zM445.5 545.33h1.0v4.13h-1.0zm9.0 0h1.0v4.13h-1.0zM419.0 549.45h1.0v4.13h-1.0zM378.0 553.58h1.0v4.13h-1.0zm80.5 0h1.0v4.13h-1.0zm11.0 0h1.0v4.13h-1.0zm16.0 0h1.0v4.13h-1.0zM444.5 561.83h1.0v4.13h-1.0zm4.0 0h1.0v4.13h-1.0zm26.0 0h1.0v4.13h-1.0zM461.5 565.96h1.0v4.13h-1.0zM370.0 570.08h1.0v4.13h-1.0zm7.0 0h1.0v4.13h-1.0zm10.0 0h1.0v4.13h-1.0zm17.0 0h1.0v4.13h-1.0zm8.0 0h1.0v4.13h-1.0zm9.0 0h1.0v4.13h-1.0zM393.0 574.21h1.0v4.13h-1.0zm39.5 0h1.0v4.13h-1.0zm7.0 0h1.0v4.13h-1.0zm2.0 0h1.0v4.13h-1.0zm36.0 0h1.0v4.13h-1.0zM442.5 578.34h1.0v4.13h-1.0zm37.0 0h1.0v4.13h-1.0zm7.0 0h1.0v4.13h-1.0zM372.0 582.46h1.0v4.13h-1.0zm3.0 0h1.0v4.13h-1.0zm23.0 0h1.0v4.13h-1.0zm6.0 0h1.0v4.13h-1.0zm13.0 0h1.0v4.13h-1.0zm5.0 0h1.0v4.13h-1.0zm4.0 0h1.0v4.13h-1.0zM437.5 586.59h1.0v4.13h-1.0zm12.0 0h2.0v4.13h-2.0zm13.0 0h1.0v4.13h-1.0zm27.0 0h0.5v4.13h-0.5zM376.0 590.71h2.0v4.13h-2.0zm29.0 0h1.0v4.13h-1.0zm8.0 0h1.0v4.13h-1.0zm12.0 0h2.0v4.13h-2.0zm29.5 0h1.0v4.13h-1.0zm30.0 0h1.0v4.13h-1.0zM435.5 594.84h1.0v4.13h-1.0zm10.0 0h1.0v4.13h-1.0zm36.0 0h1.0v4.13h-1.0zM434.5 598.97h1.0v4.13h-1.0zm12.0 0h1.0v4.13h-1.0zm8.0 0h1.0v4.13h-1.0zm9.0 0h1.0v4.13h-1.0zm3.0 0h1.0v4.13h-1.0zm23.0 0h0.5v4.13h-0.5zM375.0 603.09h1.0v4.13h-1.0zm87.5 0h1.0v4.13h-1.0zm9.0 0h1.0v4.13h-1.0zM455.5 611.34h1.0v4.13h-1.0zM384.0 619.60h1.0v4.13h-1.0zm51.5 0h1.0v4.13h-1.0zM460.5 623.72h1.0v4.13h-1.0zm23.0 0h1.0v4.13h-1.0zM435.5 631.97h2.0v4.13h-2.0zm26.0 0h1.0v4.13h-1.0zm5.0 0h1.0v4.13h-1.0zM394.0 640.23h1.0v4.13h-1.0zm9.0 0h1.0v4.13h-1.0zm2.0 0h1.0v4.13h-1.0zm6.0 0h1.0v4.13h-1.0zM484.5 644.35h1.0v4.13h-1.0zM479.5 648.48h2.0v4.13h-2.0zM380.0 660.86h1.0v4.13h-1.0zm11.0 0h1.0v4.13h-1.0zm38.0 0h1.0v4.13h-1.0z"/><path fill="#643264" d="M434.5 429.80h1.0v4.13h-1.0zm24.0 0h1.0v4.13h-1.0zm4.0 0h1.0v4.13h-1.0zm18.0 0h1.0v4.13h-1.0zM353.0 433.93h1.0v4.13h-1.0zm26.0 0h1.0v4.13h-1.0zm52.0 0h0.7v4.13h-0.7zM435.5 438.05h1.0v4.13h-1.0zM354.0 446.30h2.0v4.13h-2.0zm4.0 0h1.0v4.13h-1.0zm40.0 0h1.0v4.13h-1.0zm31.0 0h1.0v4.13h-1.0zm17.5 0h1.0v4.13h-1.0zm2.0 0h1.0v4.13h-1.0zm23.0 0h1.0v4.13h-1.0zm3.0 0h1.0v4.13h-1.0zM367.0 454.56h1.0v4.13h-1.0zm14.0 0h1.0v4.13h-1.0zm8.0 0h1.0v4.13h-1.0zm8.0 0h1.0v4.13h-1.0zm5.0 0h1.0v4.13h-1.0zm16.0 0h1.0v4.13h-1.0zM371.0 466.93h1.0v4.13h-1.0zm5.0 0h1.0v4.13h-1.0zm7.0 0h1.0v4.13h-1.0zm14.0 0h1.0v4.13h-1.0zm8.0 0h1.0v4.13h-1.0zm3.0 0h1.0v4.13h-1.0zm52.5 0h1.0v4.13h-1.0zM445.5 475.19h1.0v4.13h-1.0zm4.0 0h1.0v4.13h-1.0zM373.0 483.44h1.0v4.13h-1.0zm44.0 0h1.0v4.13h-1.0zm4.0 0h1.0v4.13h-1.0zM355.0 487.56h2.0v4.13h-2.0zm11.0 0h1.0v4.13h-1.0zm8.0 0h1.0v4.13h-1.0zm26.0 0h1.0v4.13h-1.0zm9.0 0h1.0v4.13h-1.0zm2.0 0h1.0v4.13h-1.0zm3.0 0h1.0v4.13h-1.0zm8.0 0h2.0v4.13h-2.0zm9.0 0h0.7v4.13h-0.7zM359.0 491.69h1.0v4.13h-1.0zm72.0 0h0.7v4.13h-0.7zm14.5 0h1.0v4.13h-1.0zm16.0 0h2.0v4.13h-2.0zm13.0 0h1.0v4.13h-1.0zM356.0 499.94h1.0v4.13h-1.0zm13.0 0h1.0v4.13h-1.0zm61.0 0h1.0v4.13h-1.0zm2.5 0h1.0v4.13h-1.0zm4.0 0h1.0v4.13h-1.0zm9.0 0h1.0v4.13h-1.0zm5.0 0h1.0v4.13h-1.0zM386.0 504.07h1.0v4.13h-1.0zm15.0 0h1.0v4.13h-1.0zm4.0 0h1.0v4.13h-1.0zm21.0 0h1.0v4.13h-1.0zm12.5 0h1.0v4.13h-1.0zm2.0 0h1.0v4.13h-1.0zm3.0 0h2.0v4.13h-2.0zM452.5 516.45h1.0v4.13h-1.0zm8.0 0h1.0v4.13h-1.0zm3.0 0h1.0v4.13h-1.0zm25.0 0h1.5v4.13h-1.5zM399.0 528.82h1.0v4.13h-1.0zM375.0 532.95h1.0v4.13h-1.0zm4.0 0h1.0v4.13h-1.0zm5.0 0h1.0v4.13h-1.0zm2.0 0h1.0v4.13h-1.0zm23.0 0h2.0v4.13h-2.0zm43.5 0h1.0v4.13h-1.0zM452.5 537.08h2.0v4.13h-2.0zm6.0 0h1.0v4.13h-1.0zm11.0 0h1.0v4.13h-1.0zm2.0 0h1.0v4.13h-1.0zm12.0 0h1.0v4.13h-1.0zM352.0 541.20h2.0v4.13h-2.0zm10.0 0h1.0v4.13h-1.0zm9.0 0h1.0v4.13h-1.0zm4.0 0h1.0v4.13h-1.0zm13.0 0h1.0v4.13h-1.0zm4.0 0h1.0v4.13h-1.0zm4.0 0h1.0v4.13h-1.0zm2.0 0h1.0v4.13h-1.0zm10.0 0h1.0v4.13h-1.0zm19.0 0h1.0v4.13h-1.0zm45.5 0h1.0v4.13h-1.0zm6.0 0h1.0v4.13h-1.0zM375.0 545.33h1.0v4.13h-1.0zm20.0 0h2.0v4.13h-2.0zm7.0 0h1.0v4.13h-1.0zm14.0 0h1.0v4.13h-1.0zM364.0 549.45h1.0v4.13h-1.0zm2.0 0h1.0v4.13h-1.0zm5.0 0h1.0v4.13h-1.0zm4.0 0h1.0v4.13h-1.0zm7.0 0h1.0v4.13h-1.0zm51.5 0h1.0v4.13h-1.0zM401.0 553.58h1.0v4.13h-1.0zm2.0 0h1.0v4.13h-1.0zm21.0 0h1.0v4.13h-1.0zm44.5 0h1.0v4.13h-1.0zM378.0 561.83h1.0v4.13h-1.0zm2.0 0h1.0v4.13h-1.0zm2.0 0h1.0v4.13h-1.0zm15.0 0h1.0v4.13h-1.0zm20.0 0h1.0v4.13h-1.0zm2.0 0h1.0v4.13h-1.0zm3.0 0h1.0v4.13h-1.0zm12.5 0h1.0v4.13h-1.0zm45.0 0h1.0v4.13h-1.0zM463.5 570.08h1.0v4.13h-1.0zm13.0 0h2.0v4.13h-2.0zm3.0 0h1.0v4.13h-1.0zm6.0 0h1.0v4.13h-1.0zM354.0 574.21h1.0v4.13h-1.0zm17.0 0h1.0v4.13h-1.0zm30.0 0h1.0v4.13h-1.0zm4.0 0h1.0v4.13h-1.0zm19.0 0h1.0v4.13h-1.0zM464.5 586.59h1.0v4.13h-1.0zm5.0 0h2.0v4.13h-2.0zM362.0 594.84h1.0v4.13h-1.0zm11.0 0h1.0v4.13h-1.0zm13.0 0h1.0v4.13h-1.0zm6.0 0h1.0v4.13h-1.0zm8.0 0h1.0v4.13h-1.0zm22.0 0h1.0v4.13h-1.0zm5.0 0h1.0v4.13h-1.0zM456.5 598.97h1.0v4.13h-1.0zm32.0 0h1.0v4.13h-1.0zM358.0 603.09h1.0v4.13h-1.0zm4.0 0h1.0v4.13h-1.0zm26.0 0h1.0v4.13h-1.0zm85.5 0h1.0v4.13h-1.0zM350.0 607.22h1.0v4.13h-1.0zm40.0 0h2.0v4.13h-2.0zm4.0 0h1.0v4.13h-1.0zm4.0 0h1.0v4.13h-1.0zm4.0 0h1.0v4.13h-1.0zm6.0 0h1.0v4.13h-1.0zm10.0 0h1.0v4.13h-1.0zm5.0 0h1.0v4.13h-1.0zM365.0 611.34h1.0v4.13h-1.0zm4.0 0h1.0v4.13h-1.0zm30.0 0h1.0v4.13h-1.0zm13.0 0h1.0v4.13h-1.0zm21.5 0h1.0v4.13h-1.0zm2.0 0h1.0v4.13h-1.0zm23.0 0h1.0v4.13h-1.0zm19.0 0h2.0v4.13h-2.0zm6.0 0h1.0v4.13h-1.0zM351.0 615.47h1.0v4.13h-1.0zm16.0 0h1.0v4.13h-1.0zm20.0 0h1.0v4.13h-1.0zm3.0 0h1.0v4.13h-1.0zm17.0 0h1.0v4.13h-1.0zM390.0 619.60h1.0v4.13h-1.0zm27.0 0h1.0v4.13h-1.0zM363.0 627.85h1.0v4.13h-1.0zm35.0 0h1.0v4.13h-1.0zm9.0 0h1.0v4.13h-1.0zm9.0 0h1.0v4.13h-1.0zM353.0 631.97h1.0v4.13h-1.0zm11.0 0h1.0v4.13h-1.0zm15.0 0h1.0v4.13h-1.0zm20.0 0h1.0v4.13h-1.0zm7.0 0h1.0v4.13h-1.0zm14.0 0h1.0v4.13h-1.0zm6.0 0h1.0v4.13h-1.0zM433.5 640.23h1.0v4.13h-1.0zm4.0 0h1.0v4.13h-1.0zm32.0 0h1.0v4.13h-1.0zm9.0 0h1.0v4.13h-1.0zM369.0 644.35h1.0v4.13h-1.0zm17.0 0h1.0v4.13h-1.0zm3.0 0h1.0v4.13h-1.0zm16.0 0h1.0v4.13h-1.0zm3.0 0h3.0v4.13h-3.0zm15.0 0h1.0v4.13h-1.0z"/><path fill="#64326e" d="M436.5 429.80h1.0v4.13h-1.0zm18.0 0h1.0v4.13h-1.0zM359.0 433.93h1.0v4.13h-1.0zm31.0 0h1.0v4.13h-1.0zM362.0 446.30h1.0v4.13h-1.0zm6.0 0h2.0v4.13h-2.0zm7.0 0h1.0v4.13h-1.0zm4.0 0h1.0v4.13h-1.0zm57.5 0h1.0v4.13h-1.0zm24.0 0h1.0v4.13h-1.0zM369.0 454.56h1.0v4.13h-1.0zm34.0 0h1.0v4.13h-1.0zM359.0 466.93h1.0v4.13h-1.0zm29.0 0h1.0v4.13h-1.0zm14.0 0h1.0v4.13h-1.0zm9.0 0h1.0v4.13h-1.0zm9.0 0h1.0v4.13h-1.0zm3.0 0h1.0v4.13h-1.0zM438.5 475.19h1.0v4.13h-1.0zm24.0 0h1.0v4.13h-1.0zm2.0 0h1.0v4.13h-1.0zm3.0 0h2.0v4.13h-2.0zm5.0 0h1.0v4.13h-1.0zm8.0 0h1.0v4.13h-1.0zM475.5 487.56h1.0v4.13h-1.0zM439.5 491.69h1.0v4.13h-1.0zm13.0 0h1.0v4.13h-1.0zm3.0 0h1.0v4.13h-1.0zm2.0 0h1.0v4.13h-1.0zm22.0 0h1.0v4.13h-1.0zm2.0 0h1.0v4.13h-1.0zm5.0 0h1.0v4.13h-1.0zM465.5 504.07h1.0v4.13h-1.0zm9.0 0h1.0v4.13h-1.0zm15.0 0h0.5v4.13h-0.5zM384.0 516.45h1.0v4.13h-1.0zm50.5 0h1.0v4.13h-1.0zm2.0 0h1.0v4.13h-1.0zM368.0 532.95h1.0v4.13h-1.0zm4.0 0h1.0v4.13h-1.0zm9.0 0h1.0v4.13h-1.0zm4.0 0h1.0v4.13h-1.0zm5.0 0h1.0v4.13h-1.0zm39.0 0h1.0v4.13h-1.0zm29.5 0h1.0v4.13h-1.0zM380.0 537.08h1.0v4.13h-1.0zm7.0 0h1.0v4.13h-1.0zm29.0 0h1.0v4.13h-1.0zM446.5 541.20h1.0v4.13h-1.0zm19.0 0h1.0v4.13h-1.0zm22.0 0h1.0v4.13h-1.0zM398.0 545.33h1.0v4.13h-1.0zm11.0 0h1.0v4.13h-1.0zM377.0 549.45h1.0v4.13h-1.0zm18.0 0h1.0v4.13h-1.0zm16.0 0h1.0v4.13h-1.0zm32.5 0h1.0v4.13h-1.0zm3.0 0h1.0v4.13h-1.0zm4.0 0h1.0v4.13h-1.0zm22.0 0h1.0v4.13h-1.0zm10.0 0h1.0v4.13h-1.0zM353.0 553.58h1.0v4.13h-1.0zm5.0 0h1.0v4.13h-1.0zm17.0 0h1.0v4.13h-1.0zm6.0 0h1.0v4.13h-1.0zm18.0 0h2.0v4.13h-2.0zm5.0 0h1.0v4.13h-1.0zm5.0 0h1.0v4.13h-1.0zm5.0 0h2.0v4.13h-2.0zM349.0 561.83h1.0v4.13h-1.0zm37.0 0h1.0v4.13h-1.0zm23.0 0h1.0v4.13h-1.0zM440.5 570.08h1.0v4.13h-1.0zm2.0 0h2.0v4.13h-2.0zm23.0 0h1.0v4.13h-1.0zM349.0 574.21h1.0v4.13h-1.0zm10.0 0h1.0v4.13h-1.0zm8.0 0h1.0v4.13h-1.0zm7.0 0h1.0v4.13h-1.0zm5.0 0h1.0v4.13h-1.0zm7.0 0h1.0v4.13h-1.0zm16.0 0h1.0v4.13h-1.0zm29.0 0h0.7v4.13h-0.7zM371.0 582.46h1.0v4.13h-1.0zm45.0 0h1.0v4.13h-1.0zM358.0 594.84h1.0v4.13h-1.0zm2.0 0h1.0v4.13h-1.0zm20.0 0h1.0v4.13h-1.0zm8.0 0h1.0v4.13h-1.0zm9.0 0h1.0v4.13h-1.0zm34.0 0h0.7v4.13h-0.7zM365.0 603.09h1.0v4.13h-1.0zm55.0 0h1.0v4.13h-1.0zm4.0 0h2.0v4.13h-2.0zM405.0 607.22h1.0v4.13h-1.0zm17.0 0h1.0v4.13h-1.0zm3.0 0h1.0v4.13h-1.0zM375.0 611.34h1.0v4.13h-1.0zm52.0 0h1.0v4.13h-1.0zm24.5 0h1.0v4.13h-1.0zm6.0 0h1.0v4.13h-1.0zm13.0 0h1.0v4.13h-1.0zM396.0 619.60h1.0v4.13h-1.0zM369.0 631.97h1.0v4.13h-1.0zm13.0 0h1.0v4.13h-1.0zm15.0 0h1.0v4.13h-1.0zm26.0 0h1.0v4.13h-1.0zm6.0 0h1.0v4.13h-1.0zM445.5 640.23h1.0v4.13h-1.0zm3.0 0h1.0v4.13h-1.0zm27.0 0h1.0v4.13h-1.0zM349.0 644.35h1.0v4.13h-1.0zm9.0 0h1.0v4.13h-1.0zm13.0 0h1.0v4.13h-1.0zm26.0 0h1.0v4.13h-1.0zm23.0 0h1.0v4.13h-1.0z"/><path fill="#645a28" d="M395.0 429.80h1.0v4.13h-1.0zM384.0 433.93h1.0v4.13h-1.0zM419.0 438.05h1.0v4.13h-1.0zm18.5 0h1.0v4.13h-1.0zm26.0 0h1.0v4.13h-1.0zm22.0 0h1.0v4.13h-1.0zM439.5 446.30h1.0v4.13h-1.0zm16.0 0h1.0v4.13h-1.0zm7.0 0h1.0v4.13h-1.0zm13.0 0h1.0v4.13h-1.0zm10.0 0h1.0v4.13h-1.0zM457.5 454.56h1.0v4.13h-1.0zM414.0 458.68h1.0v4.13h-1.0zM446.5 466.93h1.0v4.13h-1.0zm26.0 0h1.0v4.13h-1.0zM411.0 475.19h1.0v4.13h-1.0zM447.5 479.31h1.0v4.13h-1.0zM381.0 483.44h1.0v4.13h-1.0zM445.5 487.56h1.0v4.13h-1.0zM349.0 491.69h1.0v4.13h-1.0zm24.0 0h1.0v4.13h-1.0zm42.0 0h1.0v4.13h-1.0zM381.0 499.94h1.0v4.13h-1.0zm17.0 0h1.0v4.13h-1.0zm13.0 0h1.0v4.13h-1.0zm30.5 0h1.0v4.13h-1.0zM349.0 516.45h1.0v4.13h-1.0zm23.0 0h1.0v4.13h-1.0zm10.0 0h1.0v4.13h-1.0zm20.0 0h1.0v4.13h-1.0zM447.5 528.82h1.0v4.13h-1.0zM460.5 532.95h1.0v4.13h-1.0zM408.0 537.08h1.0v4.13h-1.0zM433.5 545.33h1.0v4.13h-1.0zm2.0 0h1.0v4.13h-1.0zM381.0 549.45h1.0v4.13h-1.0zm29.0 0h1.0v4.13h-1.0zM437.5 553.58h1.0v4.13h-1.0zm12.0 0h1.0v4.13h-1.0zM458.5 561.83h1.0v4.13h-1.0zm22.0 0h1.0v4.13h-1.0zM445.5 565.96h1.0v4.13h-1.0zm13.0 0h1.0v4.13h-1.0zM391.0 570.08h1.0v4.13h-1.0zm10.0 0h1.0v4.13h-1.0zM408.0 574.21h1.0v4.13h-1.0zm45.5 0h1.0v4.13h-1.0zM362.0 582.46h1.0v4.13h-1.0zm8.0 0h1.0v4.13h-1.0zM445.5 586.59h1.0v4.13h-1.0zM433.5 590.71h1.0v4.13h-1.0zm11.0 0h1.0v4.13h-1.0zM440.5 598.97h1.0v4.13h-1.0zm4.0 0h1.0v4.13h-1.0zm30.0 0h1.0v4.13h-1.0zm12.0 0h1.0v4.13h-1.0zM349.0 603.09h1.0v4.13h-1.0zm17.0 0h1.0v4.13h-1.0zm77.5 0h1.0v4.13h-1.0zm24.0 0h1.0v4.13h-1.0zM413.0 611.34h1.0v4.13h-1.0zm32.5 0h1.0v4.13h-1.0zM397.0 615.47h1.0v4.13h-1.0zm40.5 0h1.0v4.13h-1.0zm8.0 0h1.0v4.13h-1.0zm24.0 0h1.0v4.13h-1.0zM350.0 619.60h1.0v4.13h-1.0zm104.5 0h1.0v4.13h-1.0zm18.0 0h1.0v4.13h-1.0zm6.0 0h1.0v4.13h-1.0zM381.0 627.85h1.0v4.13h-1.0zM439.5 631.97h1.0v4.13h-1.0zm28.0 0h1.0v4.13h-1.0zm13.0 0h1.0v4.13h-1.0zM355.0 640.23h1.0v4.13h-1.0zm8.0 0h1.0v4.13h-1.0zm8.0 0h1.0v4.13h-1.0zm41.0 0h1.0v4.13h-1.0zM459.5 644.35h1.0v4.13h-1.0zm27.0 0h1.0v4.13h-1.0zM440.5 648.48h1.0v4.13h-1.0zm49.0 0h0.5v4.13h-0.5z"/><path fill="#645a32" d="M378.0 429.80h1.0v4.13h-1.0zm5.0 0h1.0v4.13h-1.0zm77.5 0h1.0v4.13h-1.0zM355.0 433.93h1.0v4.13h-1.0zm2.0 0h1.0v4.13h-1.0zm19.0 0h1.0v4.13h-1.0zm32.0 0h1.0v4.13h-1.0zM452.5 438.05h1.0v4.13h-1.0zM451.5 446.30h1.0v4.13h-1.0zM470.5 454.56h1.0v4.13h-1.0zM372.0 458.68h1.0v4.13h-1.0zm49.0 0h1.0v4.13h-1.0zM435.5 466.93h1.0v4.13h-1.0zm34.0 0h1.0v4.13h-1.0zm10.0 0h1.0v4.13h-1.0zm4.0 0h1.0v4.13h-1.0zM413.0 475.19h2.0v4.13h-2.0zm16.0 0h1.0v4.13h-1.0zM451.5 479.31h1.0v4.13h-1.0zM369.0 483.44h1.0v4.13h-1.0zm2.0 0h1.0v4.13h-1.0zm18.0 0h1.0v4.13h-1.0zM471.5 487.56h1.0v4.13h-1.0zM388.0 491.69h1.0v4.13h-1.0zM469.5 499.94h1.0v4.13h-1.0zm5.0 0h1.0v4.13h-1.0zM394.0 504.07h1.0v4.13h-1.0zM352.0 516.45h1.0v4.13h-1.0zm11.0 0h1.0v4.13h-1.0zm31.0 0h1.0v4.13h-1.0zm15.0 0h1.0v4.13h-1.0zm5.0 0h1.0v4.13h-1.0zm4.0 0h1.0v4.13h-1.0zM448.5 528.82h1.0v4.13h-1.0zm13.0 0h1.0v4.13h-1.0zm4.0 0h1.0v4.13h-1.0zM438.5 532.95h1.0v4.13h-1.0zm34.0 0h1.0v4.13h-1.0zM461.5 541.20h1.0v4.13h-1.0zm24.0 0h1.0v4.13h-1.0zM409.0 549.45h1.0v4.13h-1.0zm14.0 0h1.0v4.13h-1.0zM376.0 553.58h1.0v4.13h-1.0zm57.5 0h1.0v4.13h-1.0zm45.0 0h1.0v4.13h-1.0zm2.0 0h1.0v4.13h-1.0zM464.5 561.83h1.0v4.13h-1.0zM440.5 565.96h1.0v4.13h-1.0zm4.0 0h1.0v4.13h-1.0zm27.0 0h1.0v4.13h-1.0zm11.0 0h1.0v4.13h-1.0zM362.0 570.08h1.0v4.13h-1.0zm11.0 0h1.0v4.13h-1.0zm5.0 0h1.0v4.13h-1.0zM434.5 574.21h1.0v4.13h-1.0zm20.0 0h1.0v4.13h-1.0zm12.0 0h1.0v4.13h-1.0zM440.5 578.34h1.0v4.13h-1.0zm11.0 0h1.0v4.13h-1.0zm37.0 0h1.0v4.13h-1.0zM414.0 582.46h1.0v4.13h-1.0zM484.5 586.59h1.0v4.13h-1.0zM475.5 590.71h1.0v4.13h-1.0zM449.5 598.97h1.0v4.13h-1.0zm12.0 0h1.0v4.13h-1.0zm4.0 0h1.0v4.13h-1.0zm15.0 0h1.0v4.13h-1.0zM360.0 603.09h1.0v4.13h-1.0zm9.0 0h1.0v4.13h-1.0zm10.0 0h1.0v4.13h-1.0zm67.5 0h1.0v4.13h-1.0zm3.0 0h1.0v4.13h-1.0zm35.0 0h1.0v4.13h-1.0zM407.0 607.22h1.0v4.13h-1.0zM354.0 611.34h1.0v4.13h-1.0zm9.0 0h1.0v4.13h-1.0zm87.5 0h1.0v4.13h-1.0zM406.0 615.47h1.0v4.13h-1.0zM376.0 619.60h1.0v4.13h-1.0zm17.0 0h1.0v4.13h-1.0zm90.5 0h1.0v4.13h-1.0zM452.5 631.97h1.0v4.13h-1.0zm4.0 0h1.0v4.13h-1.0zm3.0 0h1.0v4.13h-1.0zM349.0 640.23h1.0v4.13h-1.0zm32.0 0h1.0v4.13h-1.0zm7.0 0h1.0v4.13h-1.0zm65.5 0h1.0v4.13h-1.0zm13.0 0h1.0v4.13h-1.0zM433.5 644.35h1.0v4.13h-1.0zM437.5 648.48h1.0v4.13h-1.0zm35.0 0h1.0v4.13h-1.0z"/><path fill="#646432" d="M439.5 429.80h1.0v4.13h-1.0zm28.0 0h1.0v4.13h-1.0zm11.0 0h1.0v4.13h-1.0zM388.0 433.93h1.0v4.13h-1.0zm11.0 0h1.0v4.13h-1.0zM440.5 454.56h1.0v4.13h-1.0zm33.0 0h1.0v4.13h-1.0zM447.5 466.93h1.0v4.13h-1.0zm10.0 0h1.0v4.13h-1.0zM372.0 475.19h1.0v4.13h-1.0zm27.0 0h1.0v4.13h-1.0zm22.0 0h1.0v4.13h-1.0zM436.5 479.31h1.0v4.13h-1.0zm49.0 0h1.0v4.13h-1.0zM414.0 483.44h1.0v4.13h-1.0zM451.5 487.56h1.0v4.13h-1.0zm7.0 0h1.0v4.13h-1.0zm10.0 0h1.0v4.13h-1.0zm4.0 0h2.0v4.13h-2.0zm8.0 0h2.0v4.13h-2.0zm6.0 0h1.0v4.13h-1.0zM389.0 491.69h1.0v4.13h-1.0zm13.0 0h1.0v4.13h-1.0zm18.0 0h1.0v4.13h-1.0zM443.5 499.94h1.0v4.13h-1.0zm21.0 0h1.0v4.13h-1.0zm7.0 0h1.0v4.13h-1.0zm11.0 0h1.0v4.13h-1.0zM404.0 516.45h1.0v4.13h-1.0zM467.5 528.82h1.0v4.13h-1.0zm18.0 0h1.0v4.13h-1.0zM354.0 537.08h1.0v4.13h-1.0zm64.0 0h1.0v4.13h-1.0zm17.5 0h1.0v4.13h-1.0zM444.5 541.20h1.0v4.13h-1.0zm22.0 0h1.0v4.13h-1.0zM446.5 545.33h1.0v4.13h-1.0zm22.0 0h1.0v4.13h-1.0zm15.0 0h1.0v4.13h-1.0zM385.0 549.45h1.0v4.13h-1.0zM350.0 553.58h1.0v4.13h-1.0zM438.5 561.83h1.0v4.13h-1.0zm5.0 0h1.0v4.13h-1.0zm6.0 0h1.0v4.13h-1.0zm10.0 0h2.0v4.13h-2.0zm22.0 0h1.0v4.13h-1.0zM441.5 565.96h1.0v4.13h-1.0zm34.0 0h1.0v4.13h-1.0zM410.0 570.08h1.0v4.13h-1.0zM360.0 574.21h1.0v4.13h-1.0zM366.0 582.46h1.0v4.13h-1.0zm12.0 0h1.0v4.13h-1.0zM476.5 586.59h1.0v4.13h-1.0zM468.5 598.97h1.0v4.13h-1.0zm4.0 0h1.0v4.13h-1.0zm13.0 0h1.0v4.13h-1.0zM400.0 603.09h1.0v4.13h-1.0zm58.5 0h1.0v4.13h-1.0zm3.0 0h1.0v4.13h-1.0zm13.0 0h1.0v4.13h-1.0zm14.0 0h1.0v4.13h-1.0zM439.5 611.34h1.0v4.13h-1.0zM351.0 619.60h1.0v4.13h-1.0zm13.0 0h1.0v4.13h-1.0zm35.0 0h2.0v4.13h-2.0zM351.0 627.85h1.0v4.13h-1.0zm29.0 0h1.0v4.13h-1.0zM359.0 640.23h1.0v4.13h-1.0zm57.0 0h1.0v4.13h-1.0zm11.0 0h1.0v4.13h-1.0zm54.5 0h1.0v4.13h-1.0zM435.5 644.35h1.0v4.13h-1.0zm9.0 0h1.0v4.13h-1.0zm28.0 0h1.0v4.13h-1.0zM450.5 648.48h1.0v4.13h-1.0zm14.0 0h1.0v4.13h-1.0zm4.0 0h1.0v4.13h-1.0zm7.0 0h1.0v4.13h-1.0zm8.0 0h1.0v4.13h-1.0zm4.0 0h1.0v4.13h-1.0z"/><path fill="#6e326e" d="M403.0 446.30h1.0v4.13h-1.0zM374.0 475.19h1.0v4.13h-1.0zm35.0 0h1.0v4.13h-1.0zm26.5 0h1.0v4.13h-1.0zm23.0 0h1.0v4.13h-1.0zm16.0 0h1.0v4.13h-1.0zM466.5 491.69h1.0v4.13h-1.0zM481.5 516.45h1.0v4.13h-1.0zm2.0 0h1.0v4.13h-1.0zm2.0 0h1.0v4.13h-1.0zM362.0 528.82h1.0v4.13h-1.0zm59.0 0h1.0v4.13h-1.0zM355.0 537.08h1.0v4.13h-1.0zm54.0 0h1.0v4.13h-1.0zm4.0 0h1.0v4.13h-1.0zM359.0 545.33h1.0v4.13h-1.0zm12.0 0h1.0v4.13h-1.0zm17.0 0h1.0v4.13h-1.0zm15.0 0h1.0v4.13h-1.0zM422.0 549.45h1.0v4.13h-1.0zM361.0 553.58h1.0v4.13h-1.0zM403.0 561.83h1.0v4.13h-1.0zm7.0 0h1.0v4.13h-1.0zm5.0 0h1.0v4.13h-1.0zM486.5 570.08h1.0v4.13h-1.0zM357.0 607.22h1.0v4.13h-1.0zm29.0 0h1.0v4.13h-1.0zm11.0 0h1.0v4.13h-1.0zM375.0 631.97h1.0v4.13h-1.0zm30.0 0h1.0v4.13h-1.0zM364.0 640.23h1.0v4.13h-1.0zM357.0 644.35h1.0v4.13h-1.0zm16.0 0h1.0v4.13h-1.0zm40.0 0h1.0v4.13h-1.0zm16.0 0h1.0v4.13h-1.0z"/><path fill="#6e3c6e" d="M442.5 429.80h1.0v4.13h-1.0zM359.0 446.30h1.0v4.13h-1.0zm58.0 0h1.0v4.13h-1.0zM361.0 466.93h1.0v4.13h-1.0zm21.0 0h1.0v4.13h-1.0zm33.0 0h1.0v4.13h-1.0zM476.5 475.19h1.0v4.13h-1.0zM468.5 491.69h1.0v4.13h-1.0zM444.5 516.45h1.0v4.13h-1.0zM386.0 528.82h1.0v4.13h-1.0zm11.0 0h1.0v4.13h-1.0zm16.0 0h1.0v4.13h-1.0zm7.0 0h1.0v4.13h-1.0zM369.0 532.95h1.0v4.13h-1.0zM483.5 541.20h1.0v4.13h-1.0zM374.0 545.33h1.0v4.13h-1.0zm10.0 0h1.0v4.13h-1.0zM363.0 553.58h1.0v4.13h-1.0zm58.0 0h1.0v4.13h-1.0zm9.0 0h1.0v4.13h-1.0zM398.0 561.83h1.0v4.13h-1.0zm15.0 0h1.0v4.13h-1.0zM460.5 570.08h1.0v4.13h-1.0zM452.5 578.34h1.0v4.13h-1.0zm12.0 0h1.0v4.13h-1.0zM352.0 594.84h1.0v4.13h-1.0zm57.0 0h1.0v4.13h-1.0zm6.0 0h2.0v4.13h-2.0zM365.0 607.22h1.0v4.13h-1.0zM386.0 631.97h1.0v4.13h-1.0zm4.0 0h1.0v4.13h-1.0zm18.0 0h1.0v4.13h-1.0zM354.0 644.35h1.0v4.13h-1.0z"/><path fill="#6e3c78" d="M421.0 446.30h1.0v4.13h-1.0zM439.5 475.19h1.0v4.13h-1.0zm3.0 0h1.0v4.13h-1.0zm12.0 0h1.0v4.13h-1.0zm16.0 0h1.0v4.13h-1.0zm9.0 0h1.0v4.13h-1.0zM435.5 479.31h1.0v4.13h-1.0zM443.5 491.69h1.0v4.13h-1.0zm17.0 0h1.0v4.13h-1.0zm28.0 0h1.0v4.13h-1.0zM456.5 516.45h1.0v4.13h-1.0zm8.0 0h1.0v4.13h-1.0zM353.0 528.82h1.0v4.13h-1.0zm34.0 0h1.0v4.13h-1.0zm11.0 0h1.0v4.13h-1.0zm25.0 0h1.0v4.13h-1.0zm2.0 0h1.0v4.13h-1.0zM351.0 532.95h1.0v4.13h-1.0zm44.0 0h1.0v4.13h-1.0zm28.0 0h1.0v4.13h-1.0zm12.5 0h1.0v4.13h-1.0zm42.0 0h1.0v4.13h-1.0zM370.0 545.33h1.0v4.13h-1.0zm21.0 0h1.0v4.13h-1.0zm24.0 0h1.0v4.13h-1.0zm5.0 0h1.0v4.13h-1.0zM445.5 549.45h1.0v4.13h-1.0zm13.0 0h1.0v4.13h-1.0zm30.0 0h1.0v4.13h-1.0zM374.0 553.58h1.0v4.13h-1.0zm19.0 0h1.0v4.13h-1.0zm4.0 0h1.0v4.13h-1.0zm20.0 0h1.0v4.13h-1.0zm11.0 0h1.0v4.13h-1.0zM389.0 561.83h1.0v4.13h-1.0zm32.0 0h1.0v4.13h-1.0zM445.5 570.08h1.0v4.13h-1.0zm4.0 0h1.0v4.13h-1.0zm38.0 0h1.0v4.13h-1.0zM356.0 594.84h1.0v4.13h-1.0zm18.0 0h1.0v4.13h-1.0zm9.0 0h1.0v4.13h-1.0zm15.0 0h2.0v4.13h-2.0zm4.0 0h2.0v4.13h-2.0zm12.0 0h1.0v4.13h-1.0zm6.0 0h1.0v4.13h-1.0zM356.0 607.22h1.0v4.13h-1.0zm14.0 0h1.0v4.13h-1.0zm2.0 0h1.0v4.13h-1.0zm2.0 0h1.0v4.13h-1.0zm50.0 0h1.0v4.13h-1.0zM372.0 631.97h1.0v4.13h-1.0zm4.0 0h2.0v4.13h-2.0zm18.0 0h1.0v4.13h-1.0zm20.0 0h1.0v4.13h-1.0zm10.0 0h1.0v4.13h-1.0zM369.0 640.23h1.0v4.13h-1.0zM363.0 644.35h1.0v4.13h-1.0zm17.0 0h1.0v4.13h-1.0zm8.0 0h1.0v4.13h-1.0zm10.0 0h1.0v4.13h-1.0zm3.0 0h1.0v4.13h-1.0z"/><path fill="#6e6432" d="M417.0 429.80h1.0v4.13h-1.0zm26.5 0h2.0v4.13h-2.0zm6.0 0h1.0v4.13h-1.0zm23.0 0h1.0v4.13h-1.0zm9.0 0h1.0v4.13h-1.0zm3.0 0h1.0v4.13h-1.0zm2.0 0h1.0v4.13h-1.0zM366.0 433.93h2.0v4.13h-2.0zm31.0 0h1.0v4.13h-1.0zm22.0 0h1.0v4.13h-1.0zM465.5 438.05h1.0v4.13h-1.0zm3.0 0h1.0v4.13h-1.0zm10.0 0h1.0v4.13h-1.0zM434.5 446.30h1.0v4.13h-1.0zM445.5 454.56h1.0v4.13h-1.0zm6.0 0h1.0v4.13h-1.0zm7.0 0h1.0v4.13h-1.0zm6.0 0h2.0v4.13h-2.0zm3.0 0h1.0v4.13h-1.0zm9.0 0h1.0v4.13h-1.0zM454.5 466.93h1.0v4.13h-1.0zm4.0 0h1.0v4.13h-1.0zm26.0 0h2.0v4.13h-2.0zM350.0 475.19h1.0v4.13h-1.0zm18.0 0h1.0v4.13h-1.0zm12.0 0h1.0v4.13h-1.0zm14.0 0h1.0v4.13h-1.0zm18.0 0h1.0v4.13h-1.0zm16.0 0h1.0v4.13h-1.0zm3.0 0h0.7v4.13h-0.7zM457.5 479.31h2.0v4.13h-2.0zm12.0 0h1.0v4.13h-1.0zm18.0 0h1.0v4.13h-1.0zM368.0 483.44h1.0v4.13h-1.0zm18.0 0h1.0v4.13h-1.0zm26.0 0h1.0v4.13h-1.0zm14.0 0h1.0v4.13h-1.0zM433.5 487.56h1.0v4.13h-1.0zm11.0 0h1.0v4.13h-1.0zm5.0 0h1.0v4.13h-1.0zm3.0 0h1.0v4.13h-1.0zm5.0 0h1.0v4.13h-1.0zm6.0 0h1.0v4.13h-1.0zm14.0 0h1.0v4.13h-1.0zm2.0 0h1.0v4.13h-1.0zM350.0 491.69h1.0v4.13h-1.0zm6.0 0h1.0v4.13h-1.0zm14.0 0h1.0v4.13h-1.0zM355.0 499.94h1.0v4.13h-1.0zm40.0 0h1.0v4.13h-1.0zm23.0 0h1.0v4.13h-1.0zm22.5 0h1.0v4.13h-1.0zm33.0 0h1.0v4.13h-1.0zM363.0 504.07h1.0v4.13h-1.0zm6.0 0h1.0v4.13h-1.0zm7.0 0h1.0v4.13h-1.0zm27.0 0h1.0v4.13h-1.0zm14.0 0h1.0v4.13h-1.0zm2.0 0h1.0v4.13h-1.0zm4.0 0h1.0v4.13h-1.0zm7.0 0h1.0v4.13h-1.0zM364.0 516.45h1.0v4.13h-1.0zm7.0 0h1.0v4.13h-1.0zm12.0 0h1.0v4.13h-1.0zm3.0 0h1.0v4.13h-1.0zm10.0 0h1.0v4.13h-1.0zM440.5 528.82h1.0v4.13h-1.0zM432.5 532.95h1.0v4.13h-1.0zm19.0 0h1.0v4.13h-1.0zm8.0 0h1.0v4.13h-1.0zm24.0 0h1.0v4.13h-1.0zm4.0 0h1.0v4.13h-1.0zM362.0 537.08h1.0v4.13h-1.0zm43.0 0h1.0v4.13h-1.0zm2.0 0h1.0v4.13h-1.0zm15.0 0h1.0v4.13h-1.0zm10.5 0h1.0v4.13h-1.0zm44.0 0h1.0v4.13h-1.0zM432.5 541.20h1.0v4.13h-1.0zm50.0 0h1.0v4.13h-1.0zM448.5 545.33h1.0v4.13h-1.0zm12.0 0h1.0v4.13h-1.0zm6.0 0h1.0v4.13h-1.0zm8.0 0h1.0v4.13h-1.0zm14.0 0h1.0v4.13h-1.0zM350.0 549.45h1.0v4.13h-1.0zm43.0 0h1.0v4.13h-1.0zm4.0 0h1.0v4.13h-1.0zM377.0 553.58h1.0v4.13h-1.0zm5.0 0h1.0v4.13h-1.0zm20.0 0h1.0v4.13h-1.0zm32.5 0h2.0v4.13h-2.0zm7.0 0h1.0v4.13h-1.0zm3.0 0h1.0v4.13h-1.0zm4.0 0h1.0v4.13h-1.0zm31.0 0h1.0v4.13h-1.0zm4.0 0h1.0v4.13h-1.0zm3.0 0h1.0v4.13h-1.0zM468.5 561.83h1.0v4.13h-1.0zm14.0 0h1.0v4.13h-1.0zM432.5 565.96h1.0v4.13h-1.0zm2.0 0h1.0v4.13h-1.0zm12.0 0h1.0v4.13h-1.0zm3.0 0h1.0v4.13h-1.0zm11.0 0h1.0v4.13h-1.0zm28.0 0h1.0v4.13h-1.0zM382.0 570.08h2.0v4.13h-2.0zm24.0 0h1.0v4.13h-1.0zm3.0 0h1.0v4.13h-1.0zm9.0 0h1.0v4.13h-1.0zM383.0 574.21h1.0v4.13h-1.0zM436.5 578.34h1.0v4.13h-1.0zm26.0 0h1.0v4.13h-1.0zM365.0 582.46h1.0v4.13h-1.0zm3.0 0h2.0v4.13h-2.0zm43.0 0h1.0v4.13h-1.0zm2.0 0h1.0v4.13h-1.0zM439.5 586.59h1.0v4.13h-1.0zm2.0 0h1.0v4.13h-1.0zm3.0 0h1.0v4.13h-1.0zm3.0 0h1.0v4.13h-1.0zm9.0 0h1.0v4.13h-1.0zm3.0 0h1.0v4.13h-1.0zm8.0 0h1.0v4.13h-1.0zM473.5 598.97h1.0v4.13h-1.0zm4.0 0h1.0v4.13h-1.0zm10.0 0h1.0v4.13h-1.0zM396.0 603.09h1.0v4.13h-1.0zm27.0 0h1.0v4.13h-1.0zm25.5 0h1.0v4.13h-1.0zm16.0 0h2.0v4.13h-2.0zm5.0 0h1.0v4.13h-1.0zm7.0 0h1.0v4.13h-1.0zm3.0 0h1.0v4.13h-1.0zm3.0 0h1.0v4.13h-1.0zM377.0 611.34h1.0v4.13h-1.0zm11.0 0h1.0v4.13h-1.0zm20.0 0h1.0v4.13h-1.0zm39.5 0h1.0v4.13h-1.0zm32.0 0h1.0v4.13h-1.0zm2.0 0h1.0v4.13h-1.0zM377.0 615.47h1.0v4.13h-1.0zM382.0 619.60h1.0v4.13h-1.0zm15.0 0h2.0v4.13h-2.0zm15.0 0h1.0v4.13h-1.0zm4.0 0h1.0v4.13h-1.0zm37.5 0h1.0v4.13h-1.0zM384.0 627.85h1.0v4.13h-1.0zm12.0 0h1.0v4.13h-1.0zm12.0 0h1.0v4.13h-1.0zM434.5 631.97h1.0v4.13h-1.0zm9.0 0h1.0v4.13h-1.0zm4.0 0h1.0v4.13h-1.0zm3.0 0h1.0v4.13h-1.0zm23.0 0h1.0v4.13h-1.0zM375.0 640.23h1.0v4.13h-1.0zm2.0 0h1.0v4.13h-1.0zm2.0 0h1.0v4.13h-1.0zm12.0 0h1.0v4.13h-1.0zm10.0 0h1.0v4.13h-1.0zm50.5 0h1.0v4.13h-1.0zm28.0 0h1.0v4.13h-1.0zm9.0 0h1.0v4.13h-1.0zM442.5 644.35h1.0v4.13h-1.0zm16.0 0h1.0v4.13h-1.0zm3.0 0h1.0v4.13h-1.0zm3.0 0h1.0v4.13h-1.0zm4.0 0h1.0v4.13h-1.0zm10.0 0h1.0v4.13h-1.0zm9.0 0h1.0v4.13h-1.0zM436.5 648.48h1.0v4.13h-1.0zm20.0 0h1.0v4.13h-1.0zm3.0 0h2.0v4.13h-2.0zm15.0 0h1.0v4.13h-1.0z"/><path fill="#6e6e32" d="M362.0 433.93h1.0v4.13h-1.0zm9.0 0h1.0v4.13h-1.0zm6.0 0h1.0v4.13h-1.0zm32.0 0h1.0v4.13h-1.0zm9.0 0h1.0v4.13h-1.0zM446.5 438.05h1.0v4.13h-1.0zM432.5 446.30h1.0v4.13h-1.0zm33.0 0h1.0v4.13h-1.0zM433.5 454.56h1.0v4.13h-1.0zm16.0 0h1.0v4.13h-1.0zM443.5 466.93h1.0v4.13h-1.0zM364.0 475.19h1.0v4.13h-1.0zm51.0 0h1.0v4.13h-1.0zM435.5 487.56h1.0v4.13h-1.0zm6.0 0h1.0v4.13h-1.0zm23.0 0h1.0v4.13h-1.0zm2.0 0h1.0v4.13h-1.0zm21.0 0h1.0v4.13h-1.0zM360.0 499.94h1.0v4.13h-1.0zm14.0 0h1.0v4.13h-1.0zm2.0 0h1.0v4.13h-1.0zm66.5 0h1.0v4.13h-1.0zM395.0 516.45h1.0v4.13h-1.0zm11.0 0h1.0v4.13h-1.0zM464.5 528.82h1.0v4.13h-1.0zm12.0 0h1.0v4.13h-1.0zm11.0 0h1.0v4.13h-1.0zM440.5 532.95h1.0v4.13h-1.0zm3.0 0h1.0v4.13h-1.0zm22.0 0h1.0v4.13h-1.0zM383.0 537.08h1.0v4.13h-1.0zM433.5 541.20h1.0v4.13h-1.0zm18.0 0h1.0v4.13h-1.0zM434.5 545.33h1.0v4.13h-1.0zm3.0 0h1.0v4.13h-1.0zm12.0 0h1.0v4.13h-1.0zm40.0 0h0.5v4.13h-0.5zM361.0 549.45h1.0v4.13h-1.0zm28.0 0h1.0v4.13h-1.0zM413.0 553.58h1.0v4.13h-1.0zm74.5 0h1.0v4.13h-1.0zM445.5 561.83h1.0v4.13h-1.0zM443.5 565.96h1.0v4.13h-1.0zM350.0 570.08h1.0v4.13h-1.0zM397.0 574.21h1.0v4.13h-1.0zm7.0 0h1.0v4.13h-1.0zM469.5 578.34h1.0v4.13h-1.0zm2.0 0h1.0v4.13h-1.0zM407.0 582.46h1.0v4.13h-1.0zm13.0 0h1.0v4.13h-1.0zM432.5 598.97h1.0v4.13h-1.0zM412.0 603.09h1.0v4.13h-1.0zm27.5 0h1.0v4.13h-1.0zm15.0 0h1.0v4.13h-1.0zM452.5 611.34h1.0v4.13h-1.0zM379.0 619.60h1.0v4.13h-1.0zm28.0 0h1.0v4.13h-1.0zm34.5 0h1.0v4.13h-1.0zm6.0 0h1.0v4.13h-1.0zM433.5 631.97h1.0v4.13h-1.0zm12.0 0h1.0v4.13h-1.0zm24.0 0h1.0v4.13h-1.0zm8.0 0h1.0v4.13h-1.0zM353.0 640.23h1.0v4.13h-1.0zm62.0 0h1.0v4.13h-1.0zm74.5 0h0.5v4.13h-0.5zM437.5 644.35h1.0v4.13h-1.0zm10.0 0h1.0v4.13h-1.0zm29.0 0h1.0v4.13h-1.0zM454.5 648.48h1.0v4.13h-1.0zm9.0 0h1.0v4.13h-1.0z"/><path fill="#783c78" d="M357.0 446.30h1.0v4.13h-1.0zm4.0 0h1.0v4.13h-1.0zm3.0 0h1.0v4.13h-1.0zm12.0 0h1.0v4.13h-1.0zm20.0 0h1.0v4.13h-1.0zm28.0 0h1.0v4.13h-1.0zm44.5 0h1.0v4.13h-1.0zm5.0 0h1.0v4.13h-1.0zM437.5 475.19h1.0v4.13h-1.0zm34.0 0h1.0v4.13h-1.0zM475.5 479.31h1.0v4.13h-1.0zM444.5 491.69h1.0v4.13h-1.0zm33.0 0h1.0v4.13h-1.0zM441.5 516.45h1.0v4.13h-1.0zm21.0 0h1.0v4.13h-1.0zm12.0 0h1.0v4.13h-1.0zM378.0 528.82h1.0v4.13h-1.0zM367.0 532.95h1.0v4.13h-1.0zm39.0 0h1.0v4.13h-1.0zm5.0 0h1.0v4.13h-1.0zm15.0 0h2.0v4.13h-2.0zM357.0 545.33h1.0v4.13h-1.0zm44.0 0h1.0v4.13h-1.0zm17.0 0h1.0v4.13h-1.0zM434.5 549.45h1.0v4.13h-1.0zm13.0 0h1.0v4.13h-1.0zm7.0 0h1.0v4.13h-1.0zm17.0 0h1.0v4.13h-1.0zM349.0 553.58h1.0v4.13h-1.0zm30.0 0h1.0v4.13h-1.0zm16.0 0h1.0v4.13h-1.0zM358.0 561.83h1.0v4.13h-1.0zm44.0 0h1.0v4.13h-1.0zm6.0 0h1.0v4.13h-1.0zM353.0 570.08h2.0v4.13h-2.0zm79.5 0h1.0v4.13h-1.0zM361.0 594.84h1.0v4.13h-1.0zm28.0 0h1.0v4.13h-1.0zm16.0 0h1.0v4.13h-1.0zm24.0 0h1.0v4.13h-1.0zM383.0 631.97h2.0v4.13h-2.0zm28.0 0h2.0v4.13h-2.0zm19.0 0h1.0v4.13h-1.0zM351.0 644.35h1.0v4.13h-1.0zm13.0 0h1.0v4.13h-1.0zm8.0 0h1.0v4.13h-1.0zm9.0 0h1.0v4.13h-1.0zm43.0 0h1.0v4.13h-1.0z"/><path fill="#783c82" d="M384.0 446.30h1.0v4.13h-1.0zm8.0 0h1.0v4.13h-1.0zm13.0 0h2.0v4.13h-2.0zm10.0 0h1.0v4.13h-1.0zM361.0 528.82h1.0v4.13h-1.0zm12.0 0h1.0v4.13h-1.0zm4.0 0h1.0v4.13h-1.0zm5.0 0h1.0v4.13h-1.0zm8.0 0h1.0v4.13h-1.0zm39.0 0h1.0v4.13h-1.0zM350.0 532.95h1.0v4.13h-1.0zm28.0 0h1.0v4.13h-1.0zm18.0 0h1.0v4.13h-1.0zm7.0 0h1.0v4.13h-1.0zm10.0 0h1.0v4.13h-1.0zm4.0 0h1.0v4.13h-1.0zm3.0 0h1.0v4.13h-1.0zm61.5 0h1.0v4.13h-1.0zm5.0 0h1.0v4.13h-1.0zM417.0 545.33h1.0v4.13h-1.0zm7.0 0h1.0v4.13h-1.0zm3.0 0h1.0v4.13h-1.0zM437.5 549.45h1.0v4.13h-1.0zm15.0 0h2.0v4.13h-2.0zm7.0 0h1.0v4.13h-1.0zm16.0 0h1.0v4.13h-1.0zm4.0 0h1.0v4.13h-1.0zm5.0 0h1.0v4.13h-1.0zM373.0 561.83h1.0v4.13h-1.0zm26.0 0h1.0v4.13h-1.0zm31.0 0h1.0v4.13h-1.0zM354.0 631.97h1.0v4.13h-1.0zm27.0 0h1.0v4.13h-1.0zm7.0 0h1.0v4.13h-1.0zm37.0 0h1.0v4.13h-1.0z"/><path fill="#786e32" d="M476.5 429.80h1.0v4.13h-1.0zM410.0 433.93h1.0v4.13h-1.0zm2.0 0h1.0v4.13h-1.0zm3.0 0h1.0v4.13h-1.0zM433.5 438.05h1.0v4.13h-1.0zm5.0 0h1.0v4.13h-1.0zm18.0 0h1.0v4.13h-1.0zm6.0 0h1.0v4.13h-1.0zm20.0 0h1.0v4.13h-1.0zm2.0 0h1.0v4.13h-1.0zM450.5 446.30h1.0v4.13h-1.0zM435.5 454.56h1.0v4.13h-1.0zm18.0 0h1.0v4.13h-1.0zm36.0 0h0.5v4.13h-0.5zM445.5 466.93h1.0v4.13h-1.0zm11.0 0h1.0v4.13h-1.0zm5.0 0h1.0v4.13h-1.0zm4.0 0h1.0v4.13h-1.0zm9.0 0h1.0v4.13h-1.0zM362.0 475.19h1.0v4.13h-1.0zm11.0 0h1.0v4.13h-1.0zm20.0 0h1.0v4.13h-1.0zm17.0 0h1.0v4.13h-1.0zm6.0 0h1.0v4.13h-1.0zm6.0 0h1.0v4.13h-1.0zm5.0 0h1.0v4.13h-1.0zM437.5 479.31h1.0v4.13h-1.0zm30.0 0h1.0v4.13h-1.0zM360.0 483.44h1.0v4.13h-1.0zm38.0 0h1.0v4.13h-1.0zm17.0 0h1.0v4.13h-1.0zM434.5 487.56h1.0v4.13h-1.0zm19.0 0h1.0v4.13h-1.0zm21.0 0h1.0v4.13h-1.0zm2.0 0h1.0v4.13h-1.0zM354.0 491.69h1.0v4.13h-1.0zm20.0 0h1.0v4.13h-1.0zm24.0 0h1.0v4.13h-1.0zm14.0 0h1.0v4.13h-1.0zM349.0 499.94h1.0v4.13h-1.0zm114.5 0h1.0v4.13h-1.0zm18.0 0h1.0v4.13h-1.0zM366.0 516.45h1.0v4.13h-1.0zm27.0 0h1.0v4.13h-1.0zm33.0 0h1.0v4.13h-1.0zM433.5 528.82h1.0v4.13h-1.0zm5.0 0h1.0v4.13h-1.0zM456.5 532.95h1.0v4.13h-1.0zM417.0 537.08h1.0v4.13h-1.0zm20.5 0h1.0v4.13h-1.0zm44.0 0h1.0v4.13h-1.0zM455.5 541.20h1.0v4.13h-1.0zm19.0 0h1.0v4.13h-1.0zM455.5 545.33h1.0v4.13h-1.0zm17.0 0h1.0v4.13h-1.0zM378.0 549.45h1.0v4.13h-1.0zm26.0 0h1.0v4.13h-1.0zm8.0 0h1.0v4.13h-1.0zM366.0 553.58h1.0v4.13h-1.0zm23.0 0h1.0v4.13h-1.0zm43.5 0h1.0v4.13h-1.0zm24.0 0h1.0v4.13h-1.0zM432.5 561.83h1.0v4.13h-1.0zm10.0 0h1.0v4.13h-1.0zm8.0 0h1.0v4.13h-1.0zm19.0 0h2.0v4.13h-2.0zm15.0 0h1.0v4.13h-1.0zm3.0 0h1.0v4.13h-1.0zM442.5 565.96h1.0v4.13h-1.0zm11.0 0h1.0v4.13h-1.0zm17.0 0h1.0v4.13h-1.0zm19.0 0h0.5v4.13h-0.5zM352.0 570.08h1.0v4.13h-1.0zm42.0 0h2.0v4.13h-2.0zm13.0 0h1.0v4.13h-1.0zm15.0 0h1.0v4.13h-1.0zM376.0 574.21h1.0v4.13h-1.0zm51.0 0h1.0v4.13h-1.0zM446.5 578.34h1.0v4.13h-1.0zm27.0 0h1.0v4.13h-1.0zm4.0 0h1.0v4.13h-1.0zm10.0 0h1.0v4.13h-1.0zM377.0 582.46h1.0v4.13h-1.0zm11.0 0h1.0v4.13h-1.0zm8.0 0h1.0v4.13h-1.0zm33.0 0h1.0v4.13h-1.0zM458.5 586.59h1.0v4.13h-1.0zm15.0 0h1.0v4.13h-1.0zM442.5 598.97h1.0v4.13h-1.0zm11.0 0h1.0v4.13h-1.0zM406.0 603.09h1.0v4.13h-1.0zm27.5 0h1.0v4.13h-1.0zm24.0 0h1.0v4.13h-1.0zm2.0 0h1.0v4.13h-1.0zm21.0 0h1.0v4.13h-1.0zM384.0 611.34h1.0v4.13h-1.0zm52.5 0h1.0v4.13h-1.0zm6.0 0h1.0v4.13h-1.0zm19.0 0h1.0v4.13h-1.0zM373.0 615.47h1.0v4.13h-1.0zm12.0 0h1.0v4.13h-1.0zm26.0 0h1.0v4.13h-1.0zM352.0 619.60h1.0v4.13h-1.0zm10.0 0h1.0v4.13h-1.0zm23.0 0h1.0v4.13h-1.0zm38.0 0h1.0v4.13h-1.0zM440.5 631.97h1.0v4.13h-1.0zm14.0 0h1.0v4.13h-1.0zm16.0 0h2.0v4.13h-2.0zM390.0 640.23h1.0v4.13h-1.0zm3.0 0h1.0v4.13h-1.0zm28.0 0h1.0v4.13h-1.0zm62.5 0h1.0v4.13h-1.0zM469.5 644.35h1.0v4.13h-1.0zM470.5 648.48h1.0v4.13h-1.0z"/><path fill="#786e3c" d="M438.5 429.80h1.0v4.13h-1.0zm21.0 0h1.0v4.13h-1.0zm12.0 0h1.0v4.13h-1.0zM349.0 433.93h1.0v4.13h-1.0zm5.0 0h1.0v4.13h-1.0zm18.0 0h2.0v4.13h-2.0zm24.0 0h1.0v4.13h-1.0zM434.5 438.05h1.0v4.13h-1.0zm37.0 0h1.0v4.13h-1.0zm5.0 0h1.0v4.13h-1.0zm5.0 0h1.0v4.13h-1.0zM435.5 446.30h1.0v4.13h-1.0zm26.0 0h1.0v4.13h-1.0zm22.0 0h1.0v4.13h-1.0zM452.5 454.56h1.0v4.13h-1.0zm7.0 0h1.0v4.13h-1.0zM397.0 475.19h1.0v4.13h-1.0zM432.5 479.31h2.0v4.13h-2.0zm16.0 0h1.0v4.13h-1.0zm40.0 0h1.0v4.13h-1.0zM376.0 516.45h1.0v4.13h-1.0zm12.0 0h1.0v4.13h-1.0zm4.0 0h1.0v4.13h-1.0zm30.0 0h1.0v4.13h-1.0zm2.0 0h1.0v4.13h-1.0zM435.5 528.82h1.0v4.13h-1.0zm11.0 0h1.0v4.13h-1.0zm9.0 0h1.0v4.13h-1.0zM446.5 532.95h1.0v4.13h-1.0zm25.0 0h1.0v4.13h-1.0zM395.0 537.08h1.0v4.13h-1.0zM469.5 545.33h1.0v4.13h-1.0zm13.0 0h1.0v4.13h-1.0zM452.5 553.58h1.0v4.13h-1.0zM439.5 561.83h1.0v4.13h-1.0zm37.0 0h1.0v4.13h-1.0zM486.5 565.96h1.0v4.13h-1.0zM384.0 574.21h1.0v4.13h-1.0zm32.0 0h1.0v4.13h-1.0zM433.5 578.34h1.0v4.13h-1.0zm50.0 0h1.0v4.13h-1.0zM360.0 582.46h1.0v4.13h-1.0zm16.0 0h1.0v4.13h-1.0zm8.0 0h1.0v4.13h-1.0zm8.0 0h1.0v4.13h-1.0zm23.0 0h1.0v4.13h-1.0zM445.5 598.97h1.0v4.13h-1.0zm2.0 0h1.0v4.13h-1.0zM449.5 611.34h1.0v4.13h-1.0zM407.0 640.23h1.0v4.13h-1.0zm23.0 0h1.0v4.13h-1.0zm47.5 0h1.0v4.13h-1.0zm7.0 0h1.0v4.13h-1.0zM455.5 644.35h1.0v4.13h-1.0zm2.0 0h1.0v4.13h-1.0zm8.0 0h1.0v4.13h-1.0z"/><path fill="#78783c" d="M489.5 429.80h0.5v4.13h-0.5zM381.0 433.93h1.0v4.13h-1.0zm4.0 0h1.0v4.13h-1.0zm38.0 0h1.0v4.13h-1.0zM458.5 438.05h1.0v4.13h-1.0zM448.5 454.56h1.0v4.13h-1.0zM463.5 466.93h1.0v4.13h-1.0zm3.0 0h2.0v4.13h-2.0zM367.0 475.19h1.0v4.13h-1.0zm12.0 0h1.0v4.13h-1.0zm44.0 0h1.0v4.13h-1.0zM461.5 479.31h1.0v4.13h-1.0zm20.0 0h1.0v4.13h-1.0zm5.0 0h1.0v4.13h-1.0zm3.0 0h0.5v4.13h-0.5zM427.0 516.45h1.0v4.13h-1.0zM434.5 528.82h1.0v4.13h-1.0zm11.0 0h1.0v4.13h-1.0zM365.0 537.08h1.0v4.13h-1.0zm34.0 0h1.0v4.13h-1.0zm21.0 0h1.0v4.13h-1.0zm31.5 0h1.0v4.13h-1.0zM447.5 541.20h1.0v4.13h-1.0zm2.0 0h1.0v4.13h-1.0zm31.0 0h1.0v4.13h-1.0zM485.5 545.33h1.0v4.13h-1.0zM391.0 549.45h1.0v4.13h-1.0zM422.0 553.58h1.0v4.13h-1.0zM457.5 565.96h1.0v4.13h-1.0zm10.0 0h1.0v4.13h-1.0zm7.0 0h1.0v4.13h-1.0zM395.0 574.21h1.0v4.13h-1.0zM475.5 578.34h1.0v4.13h-1.0zM351.0 582.46h1.0v4.13h-1.0zm32.0 0h1.0v4.13h-1.0zm18.0 0h1.0v4.13h-1.0zm5.0 0h1.0v4.13h-1.0zM482.5 598.97h1.0v4.13h-1.0zM397.0 640.23h1.0v4.13h-1.0zm27.0 0h1.0v4.13h-1.0zM438.5 644.35h1.0v4.13h-1.0zm37.0 0h1.0v4.13h-1.0zM461.5 648.48h1.0v4.13h-1.0z"/><path fill="#823c82" d="M425.0 446.30h1.0v4.13h-1.0zM449.5 532.95h1.0v4.13h-1.0zm19.0 0h1.0v4.13h-1.0zM350.0 561.83h1.0v4.13h-1.0zm29.0 0h1.0v4.13h-1.0zm25.0 0h1.0v4.13h-1.0zM457.5 570.08h1.0v4.13h-1.0z"/><path fill="#824682" d="M423.0 446.30h1.0v4.13h-1.0zM354.0 528.82h1.0v4.13h-1.0zm49.0 0h1.0v4.13h-1.0zM377.0 532.95h1.0v4.13h-1.0zm23.0 0h1.0v4.13h-1.0zm16.0 0h1.0v4.13h-1.0zM365.0 561.83h1.0v4.13h-1.0zm23.0 0h1.0v4.13h-1.0zm3.0 0h1.0v4.13h-1.0zM435.5 570.08h1.0v4.13h-1.0zm45.0 0h1.0v4.13h-1.0z"/><path fill="#82468c" d="M351.0 446.30h1.0v4.13h-1.0zm9.0 0h1.0v4.13h-1.0zm27.0 0h1.0v4.13h-1.0zm2.0 0h1.0v4.13h-1.0zm12.0 0h1.0v4.13h-1.0zm13.0 0h1.0v4.13h-1.0zM352.0 528.82h1.0v4.13h-1.0zm17.0 0h1.0v4.13h-1.0zm27.0 0h1.0v4.13h-1.0zM353.0 532.95h1.0v4.13h-1.0zm9.0 0h1.0v4.13h-1.0zm3.0 0h1.0v4.13h-1.0zm8.0 0h1.0v4.13h-1.0zm7.0 0h1.0v4.13h-1.0zm8.0 0h1.0v4.13h-1.0zM438.5 549.45h1.0v4.13h-1.0zm10.0 0h1.0v4.13h-1.0zM366.0 561.83h1.0v4.13h-1.0zm19.0 0h1.0v4.13h-1.0zM452.5 570.08h1.0v4.13h-1.0zm2.0 0h1.0v4.13h-1.0z"/><path fill="#82783c" d="M469.5 429.80h1.0v4.13h-1.0zM432.5 438.05h1.0v4.13h-1.0zm4.0 0h1.0v4.13h-1.0zm44.0 0h1.0v4.13h-1.0zm3.0 0h1.0v4.13h-1.0zM456.5 454.56h1.0v4.13h-1.0zm7.0 0h1.0v4.13h-1.0zm5.0 0h1.0v4.13h-1.0zm12.0 0h1.0v4.13h-1.0zm3.0 0h1.0v4.13h-1.0zM354.0 475.19h1.0v4.13h-1.0zm2.0 0h1.0v4.13h-1.0zm3.0 0h1.0v4.13h-1.0zm25.0 0h1.0v4.13h-1.0zm3.0 0h1.0v4.13h-1.0zm16.0 0h1.0v4.13h-1.0zm16.0 0h1.0v4.13h-1.0zM434.5 479.31h1.0v4.13h-1.0zm26.0 0h1.0v4.13h-1.0zm4.0 0h1.0v4.13h-1.0zm20.0 0h1.0v4.13h-1.0zM440.5 487.56h1.0v4.13h-1.0zm16.0 0h1.0v4.13h-1.0zm5.0 0h1.0v4.13h-1.0zM351.0 516.45h1.0v4.13h-1.0zm6.0 0h1.0v4.13h-1.0zm4.0 0h2.0v4.13h-2.0zm19.0 0h1.0v4.13h-1.0zm5.0 0h1.0v4.13h-1.0zm6.0 0h1.0v4.13h-1.0zm10.0 0h1.0v4.13h-1.0zm18.0 0h1.0v4.13h-1.0zM442.5 528.82h1.0v4.13h-1.0zm10.0 0h1.0v4.13h-1.0zm2.0 0h1.0v4.13h-1.0zm14.0 0h2.0v4.13h-2.0zm20.0 0h1.0v4.13h-1.0zM448.5 532.95h1.0v4.13h-1.0zm19.0 0h1.0v4.13h-1.0zM349.0 537.08h1.0v4.13h-1.0zM459.5 541.20h1.0v4.13h-1.0zM456.5 545.33h2.0v4.13h-2.0zm8.0 0h1.0v4.13h-1.0zm9.0 0h1.0v4.13h-1.0zm2.0 0h1.0v4.13h-1.0zm12.0 0h1.0v4.13h-1.0zM398.0 549.45h1.0v4.13h-1.0zM371.0 553.58h1.0v4.13h-1.0zm13.0 0h1.0v4.13h-1.0zM472.5 561.83h1.0v4.13h-1.0zm3.0 0h1.0v4.13h-1.0zm8.0 0h1.0v4.13h-1.0zM439.5 565.96h1.0v4.13h-1.0zm11.0 0h1.0v4.13h-1.0zm16.0 0h1.0v4.13h-1.0zm21.0 0h1.0v4.13h-1.0zM355.0 570.08h1.0v4.13h-1.0zm2.0 0h1.0v4.13h-1.0zm10.0 0h1.0v4.13h-1.0zm18.0 0h1.0v4.13h-1.0zm7.0 0h1.0v4.13h-1.0zm6.0 0h1.0v4.13h-1.0zm16.0 0h1.0v4.13h-1.0zm3.0 0h1.0v4.13h-1.0zm6.0 0h1.0v4.13h-1.0zM434.5 578.34h1.0v4.13h-1.0zm24.0 0h1.0v4.13h-1.0zm7.0 0h1.0v4.13h-1.0zm17.0 0h1.0v4.13h-1.0zM441.5 598.97h1.0v4.13h-1.0zM357.0 640.23h1.0v4.13h-1.0zm8.0 0h1.0v4.13h-1.0zm19.0 0h1.0v4.13h-1.0zm12.0 0h1.0v4.13h-1.0zm3.0 0h1.0v4.13h-1.0zm15.0 0h1.0v4.13h-1.0zm3.0 0h2.0v4.13h-2.0zm6.0 0h1.0v4.13h-1.0zm2.0 0h1.0v4.13h-1.0zM434.5 644.35h1.0v4.13h-1.0zm16.0 0h1.0v4.13h-1.0zm10.0 0h1.0v4.13h-1.0zm6.0 0h1.0v4.13h-1.0zm11.0 0h1.0v4.13h-1.0zm2.0 0h1.0v4.13h-1.0zM434.5 648.48h1.0v4.13h-1.0zm7.0 0h1.0v4.13h-1.0zm12.0 0h1.0v4.13h-1.0zm18.0 0h1.0v4.13h-1.0zm10.0 0h1.0v4.13h-1.0zm4.0 0h1.0v4.13h-1.0z"/><path fill="#82823c" d="M466.5 454.56h1.0v4.13h-1.0zM370.0 475.19h1.0v4.13h-1.0zM440.5 479.31h1.0v4.13h-1.0zM462.5 528.82h1.0v4.13h-1.0zm15.0 0h1.0v4.13h-1.0zM368.0 553.58h1.0v4.13h-1.0zM483.5 565.96h1.0v4.13h-1.0zM426.0 570.08h1.0v4.13h-1.0zm4.0 0h1.0v4.13h-1.0zM445.5 578.34h1.0v4.13h-1.0zm18.0 0h1.0v4.13h-1.0zM385.0 640.23h1.0v4.13h-1.0zm13.0 0h1.0v4.13h-1.0zm21.0 0h1.0v4.13h-1.0zM485.5 644.35h1.0v4.13h-1.0zm3.0 0h1.0v4.13h-1.0zM484.5 648.48h1.0v4.13h-1.0z"/><path fill="#8c468c" d="M356.0 528.82h1.0v4.13h-1.0zm15.0 0h1.0v4.13h-1.0zm5.0 0h1.0v4.13h-1.0zm12.0 0h1.0v4.13h-1.0zm7.0 0h1.0v4.13h-1.0zm5.0 0h1.0v4.13h-1.0zm9.0 0h1.0v4.13h-1.0zM440.5 549.45h1.0v4.13h-1.0zm4.0 0h1.0v4.13h-1.0zm19.0 0h1.0v4.13h-1.0zm22.0 0h1.0v4.13h-1.0zM453.5 570.08h1.0v4.13h-1.0zm22.0 0h1.0v4.13h-1.0z"/><path fill="#8c4696" d="M419.0 528.82h1.0v4.13h-1.0zM435.5 549.45h1.0v4.13h-1.0zm25.0 0h1.0v4.13h-1.0zm4.0 0h3.0v4.13h-3.0zm5.0 0h1.0v4.13h-1.0zm9.0 0h1.0v4.13h-1.0zm3.0 0h1.0v4.13h-1.0zM455.5 570.08h1.0v4.13h-1.0zm7.0 0h1.0v4.13h-1.0zm11.0 0h2.0v4.13h-2.0z"/><path fill="#8c823c" d="M440.5 446.30h1.0v4.13h-1.0zm9.0 0h1.0v4.13h-1.0zm28.0 0h2.0v4.13h-2.0zM441.5 454.56h1.0v4.13h-1.0zm5.0 0h1.0v4.13h-1.0zm35.0 0h1.0v4.13h-1.0zM408.0 475.19h1.0v4.13h-1.0zM438.5 479.31h1.0v4.13h-1.0zm4.0 0h1.0v4.13h-1.0zm2.0 0h1.0v4.13h-1.0zm18.0 0h1.0v4.13h-1.0zm14.0 0h1.0v4.13h-1.0zM441.5 528.82h1.0v4.13h-1.0zm12.0 0h1.0v4.13h-1.0zM454.5 532.95h1.0v4.13h-1.0zm8.0 0h1.0v4.13h-1.0zm8.0 0h1.0v4.13h-1.0zm4.0 0h1.0v4.13h-1.0zM432.5 545.33h1.0v4.13h-1.0zm6.0 0h1.0v4.13h-1.0zm9.0 0h1.0v4.13h-1.0zm12.0 0h1.0v4.13h-1.0zm8.0 0h1.0v4.13h-1.0zM438.5 565.96h1.0v4.13h-1.0zM364.0 570.08h1.0v4.13h-1.0zm7.0 0h2.0v4.13h-2.0zm3.0 0h1.0v4.13h-1.0zm2.0 0h1.0v4.13h-1.0zm4.0 0h1.0v4.13h-1.0zm4.0 0h1.0v4.13h-1.0zm32.0 0h1.0v4.13h-1.0zm4.0 0h1.0v4.13h-1.0zm11.0 0h0.7v4.13h-0.7zM455.5 578.34h2.0v4.13h-2.0zM350.0 640.23h1.0v4.13h-1.0zm8.0 0h1.0v4.13h-1.0zM440.5 644.35h1.0v4.13h-1.0zm11.0 0h1.0v4.13h-1.0zm3.0 0h1.0v4.13h-1.0zm8.0 0h1.0v4.13h-1.0zm11.0 0h1.0v4.13h-1.0zM458.5 648.48h1.0v4.13h-1.0z"/><path fill="#8c8246" d="M485.5 454.56h1.0v4.13h-1.0zM480.5 479.31h1.0v4.13h-1.0zM458.5 528.82h1.0v4.13h-1.0zm24.0 0h1.0v4.13h-1.0zM447.5 532.95h1.0v4.13h-1.0zM356.0 561.83h1.0v4.13h-1.0zM368.0 570.08h1.0v4.13h-1.0zM445.5 644.35h1.0v4.13h-1.0zm29.0 0h1.0v4.13h-1.0z"/><path fill="#8c8c46" d="M489.5 446.30h0.5v4.13h-0.5zM437.5 528.82h1.0v4.13h-1.0zm35.0 0h1.0v4.13h-1.0zm3.0 0h1.0v4.13h-1.0zM441.5 644.35h1.0v4.13h-1.0zm29.0 0h1.0v4.13h-1.0z"/><path fill="#964696" d="M350.0 528.82h1.0v4.13h-1.0zM451.5 549.45h1.0v4.13h-1.0zm4.0 0h1.0v4.13h-1.0zm28.0 0h1.0v4.13h-1.0zM438.5 570.08h1.0v4.13h-1.0z"/><path fill="#965096" d="M351.0 528.82h1.0v4.13h-1.0zm13.0 0h1.0v4.13h-1.0zM446.5 570.08h1.0v4.13h-1.0zm2.0 0h1.0v4.13h-1.0z"/><path fill="#9650a0" d="M372.0 528.82h1.0v4.13h-1.0zm3.0 0h1.0v4.13h-1.0zm4.0 0h1.0v4.13h-1.0zm2.0 0h1.0v4.13h-1.0zm2.0 0h1.0v4.13h-1.0zm18.0 0h2.0v4.13h-2.0zm25.0 0h1.0v4.13h-1.0zm5.0 0h0.7v4.13h-0.7zM439.5 549.45h1.0v4.13h-1.0zm3.0 0h1.0v4.13h-1.0zm19.0 0h1.0v4.13h-1.0zm12.0 0h1.0v4.13h-1.0zm13.0 0h1.0v4.13h-1.0zM458.5 570.08h2.0v4.13h-2.0zm3.0 0h1.0v4.13h-1.0zm17.0 0h1.0v4.13h-1.0zm3.0 0h1.0v4.13h-1.0z"/><path fill="#968c46" d="M445.5 446.30h1.0v4.13h-1.0zm36.0 0h1.0v4.13h-1.0zM437.5 454.56h1.0v4.13h-1.0zm13.0 0h1.0v4.13h-1.0zm10.0 0h1.0v4.13h-1.0zm11.0 0h1.0v4.13h-1.0zm6.0 0h1.0v4.13h-1.0zm7.0 0h1.0v4.13h-1.0zm3.0 0h2.0v4.13h-2.0zM441.5 479.31h1.0v4.13h-1.0zm2.0 0h1.0v4.13h-1.0zm22.0 0h1.0v4.13h-1.0zm5.0 0h1.0v4.13h-1.0zM432.5 528.82h1.0v4.13h-1.0zm12.0 0h1.0v4.13h-1.0zm6.0 0h1.0v4.13h-1.0zm13.0 0h1.0v4.13h-1.0zm7.0 0h2.0v4.13h-2.0zm9.0 0h1.0v4.13h-1.0zm4.0 0h1.0v4.13h-1.0zM439.5 532.95h1.0v4.13h-1.0zm2.0 0h1.0v4.13h-1.0zm20.0 0h1.0v4.13h-1.0zm17.0 0h1.0v4.13h-1.0zM432.5 644.35h1.0v4.13h-1.0zm4.0 0h1.0v4.13h-1.0zm10.0 0h1.0v4.13h-1.0zm2.0 0h1.0v4.13h-1.0zm33.0 0h1.0v4.13h-1.0zm2.0 0h1.0v4.13h-1.0zm6.0 0h0.5v4.13h-0.5z"/><path fill="#a050a0" d="M370.0 528.82h1.0v4.13h-1.0zM476.5 549.45h1.0v4.13h-1.0z"/><path fill="#a050aa" d="M355.0 528.82h1.0v4.13h-1.0zm2.0 0h1.0v4.13h-1.0zm10.0 0h1.0v4.13h-1.0zm18.0 0h1.0v4.13h-1.0zm4.0 0h1.0v4.13h-1.0zm3.0 0h1.0v4.13h-1.0zm14.0 0h2.0v4.13h-2.0zm4.0 0h1.0v4.13h-1.0zm18.0 0h1.0v4.13h-1.0zM480.5 549.45h1.0v4.13h-1.0z"/><path fill="#a09646" d="M434.5 454.56h1.0v4.13h-1.0zm38.0 0h1.0v4.13h-1.0zm3.0 0h1.0v4.13h-1.0zM443.5 528.82h1.0v4.13h-1.0zm14.0 0h1.0v4.13h-1.0zm23.0 0h1.0v4.13h-1.0z"/><path fill="#a09650" d="M460.5 528.82h1.0v4.13h-1.0z"/><path fill="#aa5aaa" d="M424.0 528.82h1.0v4.13h-1.0z"/><path fill="#aa5ab4" d="M358.0 528.82h1.0v4.13h-1.0zm8.0 0h1.0v4.13h-1.0zm8.0 0h1.0v4.13h-1.0zm6.0 0h1.0v4.13h-1.0zm11.0 0h1.0v4.13h-1.0zm24.0 0h2.0v4.13h-2.0z"/><path fill="#aaa050" d="M432.5 454.56h1.0v4.13h-1.0zm15.0 0h1.0v4.13h-1.0zm15.0 0h1.0v4.13h-1.0zm20.0 0h1.0v4.13h-1.0zm4.0 0h1.0v4.13h-1.0z"/></g><rect x="431.7" y="429.80" width="0.8" height="235.18" fill="#fff"/><g font-size="4.6" font-weight="bold" text-anchor="end" fill="#111"><text x="347.3" y="434.36">CD3D</text><text x="347.3" y="438.49">CD4</text><text x="347.3" y="442.62">CD8A</text><text x="347.3" y="446.74">CD8B</text><text x="347.3" y="450.87">TRAC</text><text x="347.3" y="454.99">TRGC1</text><text x="347.3" y="459.12">TRGC2</text><text x="347.3" y="463.25">CD27</text><text x="347.3" y="467.37">CD28</text><text x="347.3" y="471.50">TNFRSF4</text><text x="347.3" y="475.62">TNFRSF9</text><text x="347.3" y="479.75">CD40LG</text><text x="347.3" y="483.88">CD244</text><text x="347.3" y="488.00">CD226</text><text x="347.3" y="492.13">HAVCR2</text><text x="347.3" y="496.25">TNFRSF14</text><text x="347.3" y="500.38">PVRIG</text><text x="347.3" y="504.50">CD96</text><text x="347.3" y="508.63">LAG3</text><text x="347.3" y="512.76">PDCD1</text><text x="347.3" y="516.88">BTLA</text><text x="347.3" y="521.01">TIGIT</text><text x="347.3" y="525.13">SIGLEC7</text><text x="347.3" y="529.26">CTLA4</text><text x="347.3" y="533.39">NKG7</text><text x="347.3" y="537.51">LTB</text><text x="347.3" y="541.64">LTA</text><text x="347.3" y="545.76">IFNG</text><text x="347.3" y="549.89">PRF1</text><text x="347.3" y="554.02">GZMA</text><text x="347.3" y="558.14">GZMB</text><text x="347.3" y="562.27">GZMH</text><text x="347.3" y="566.39">GNLY</text><text x="347.3" y="570.52">LAMP1</text><text x="347.3" y="574.65">CD2</text><text x="347.3" y="578.77">ITGAL</text><text x="347.3" y="582.90">ITGAM</text><text x="347.3" y="587.02">ITGA4</text><text x="347.3" y="591.15">ITGAX</text><text x="347.3" y="595.28">ITGAE</text><text x="347.3" y="599.40">ITGB1</text><text x="347.3" y="603.53">ITGB2</text><text x="347.3" y="607.65">PTPRC</text><text x="347.3" y="611.78">CD44</text><text x="347.3" y="615.91">SPN</text><text x="347.3" y="620.03">TLN1</text><text x="347.3" y="624.16">FERMT3</text><text x="347.3" y="628.28">TBX21</text><text x="347.3" y="632.41">PRDM1</text><text x="347.3" y="636.54">RUNX3</text><text x="347.3" y="640.66">EOMES</text><text x="347.3" y="644.79">ZEB2</text><text x="347.3" y="648.92">ZNF683</text><text x="347.3" y="653.04">ZBTB16</text><text x="347.3" y="657.17">NR4A1</text><text x="347.3" y="661.29">IRF4</text><text x="347.3" y="665.42">ZBTB7B</text></g><rect x="307.3" y="429.80" width="10.6" height="28.88" fill="#e2ecd9"/><text transform="translate(315.3,444.24) rotate(-90)" font-size="5.8" font-weight="bold" text-anchor="middle" fill="#1a1a1a">Lineage</text><rect x="307.3" y="458.68" width="10.6" height="28.88" fill="#f8dcd7"/><text transform="translate(315.3,473.12) rotate(-90)" font-size="5.8" font-weight="bold" text-anchor="middle" fill="#1a1a1a">Activation</text><rect x="307.3" y="487.56" width="10.6" height="41.26" fill="#dce2f1"/><text transform="translate(315.3,508.19) rotate(-90)" font-size="5.8" font-weight="bold" text-anchor="middle" fill="#1a1a1a">Inhibition</text><rect x="307.3" y="528.82" width="10.6" height="41.26" fill="#f9e3dc"/><text transform="translate(315.3,549.45) rotate(-90)" font-size="5.8" font-weight="bold" text-anchor="middle" fill="#1a1a1a">Cytotoxic</text><rect x="307.3" y="570.08" width="10.6" height="53.64" fill="#ebe9cf"/><text transform="translate(315.3,596.90) rotate(-90)" font-size="5.8" font-weight="bold" text-anchor="middle" fill="#1a1a1a">Adhesion</text><rect x="307.3" y="623.72" width="10.6" height="41.26" fill="#e5dcef"/><text transform="translate(315.3,644.35) rotate(-90)" font-size="5.8" font-weight="bold" text-anchor="middle" fill="#1a1a1a">Transcription</text><rect x="348.7" y="420.8" width="83.8" height="4.6" fill="#ef7b70"/><rect x="432.5" y="420.8" width="57.7" height="4.6" fill="#22b6bc"/><text x="351.20" y="419.20" font-size="8.80" text-anchor="start" fill="#222">GD2-2840z-CARTs</text><text x="432.00" y="419.20" font-size="8.80" text-anchor="start" fill="#222">GD2-CARrejTs</text><text x="494.50" y="436.60" font-size="4.75" text-anchor="start" fill="#111">Expression</text><rect x="494.7" y="439.0" width="7.2" height="36.2" fill="url(#hg)"/><text x="504.20" y="445.00" font-size="4.60" text-anchor="start" fill="#222">2</text><text x="504.20" y="452.10" font-size="4.60" text-anchor="start" fill="#222">1</text><text x="504.20" y="459.10" font-size="4.60" text-anchor="start" fill="#222">0</text><text x="504.20" y="466.30" font-size="4.60" text-anchor="start" fill="#222">-1</text><text x="504.20" y="473.30" font-size="4.60" text-anchor="start" fill="#222">-2</text></svg></body></html>
